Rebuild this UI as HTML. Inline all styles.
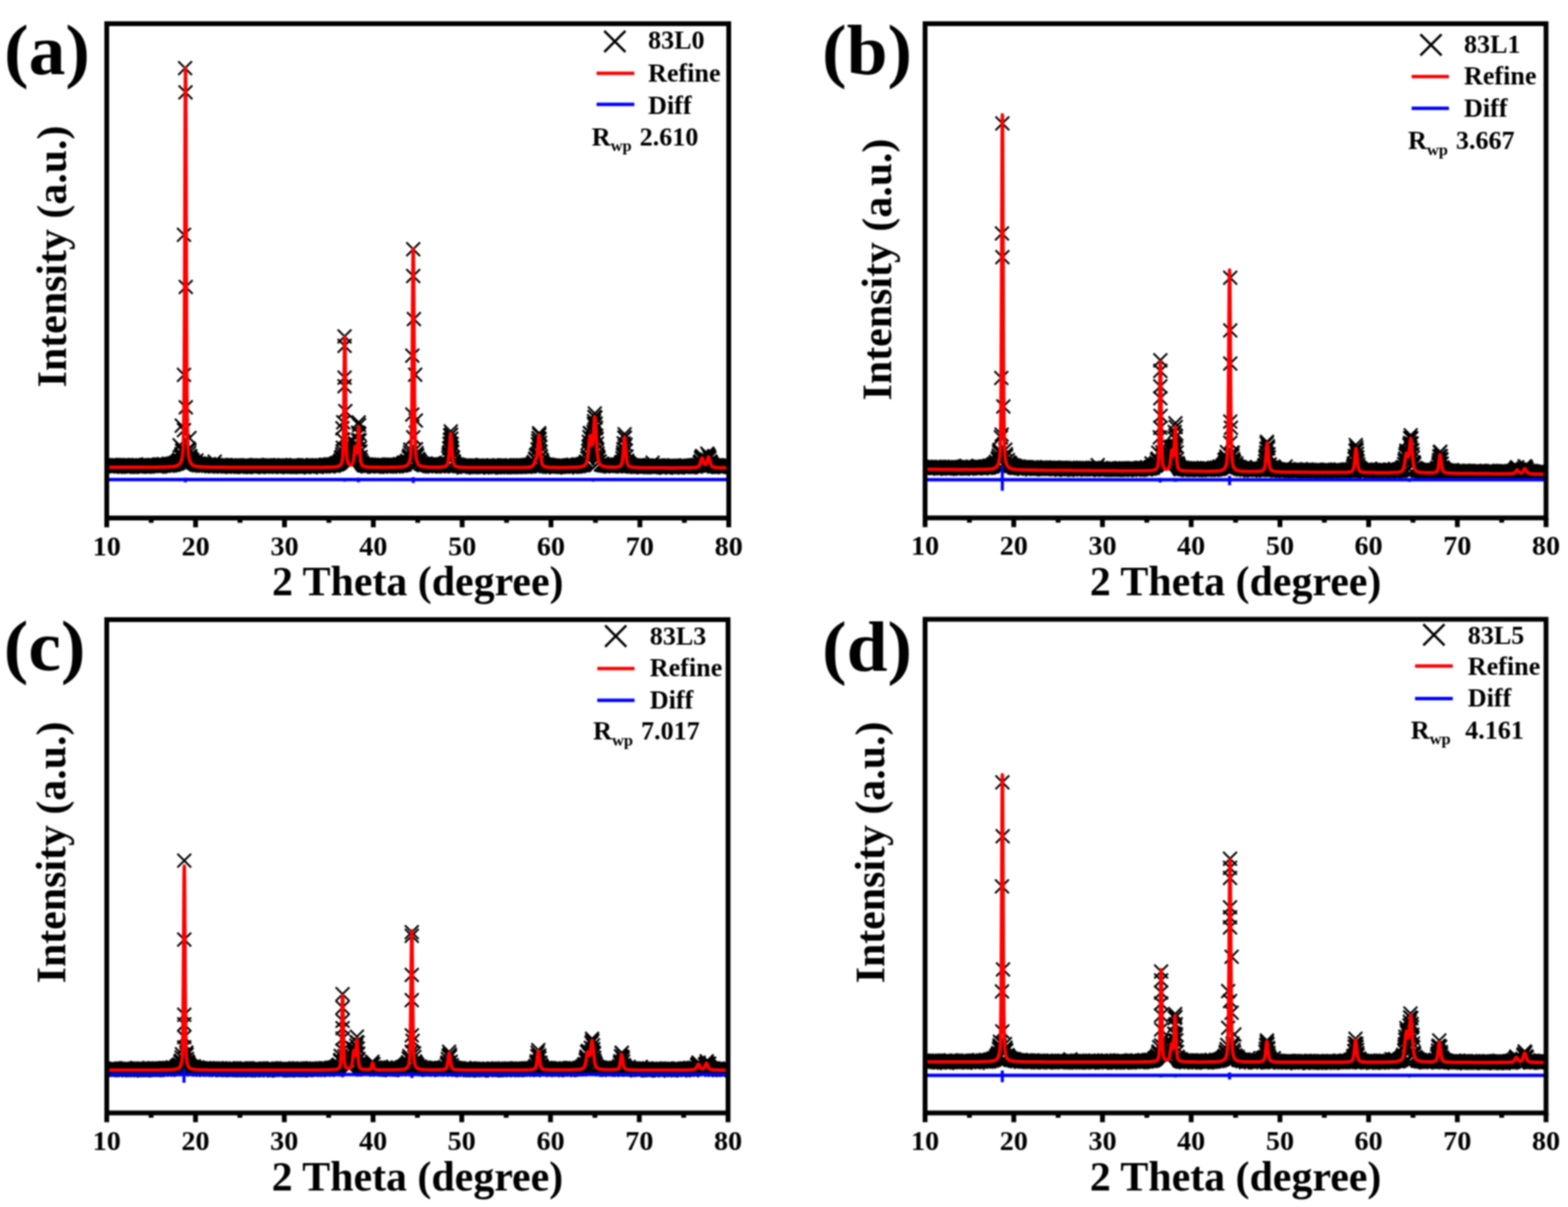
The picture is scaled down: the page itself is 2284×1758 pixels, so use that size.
<!DOCTYPE html>
<html><head><meta charset="utf-8"><title>XRD Rietveld refinement</title>
<style>html,body{margin:0;padding:0;background:#fff;overflow:hidden}svg{display:block}#w{filter:blur(1px)}</style>
</head><body><div id="w">
<svg width="2284" height="1758" viewBox="0 0 2284 1758" font-family="'Liberation Serif', 'Times New Roman', serif" font-weight="bold">
<rect width="2284" height="1758" fill="#fff"/>
<g><clipPath id="c100"><rect x="158.5" y="37.5" width="900.0" height="714.0"/></clipPath>
<g clip-path="url(#c100)">
<path d="M147.4 668.4l20 20m0 -20l-20 20M147.0 669.0l20 20m0 -20l-20 20M147.9 667.9l20 20m0 -20l-20 20M148.3 669.1l20 20m0 -20l-20 20M151.5 667.4l20 20m0 -20l-20 20M150.6 668.9l20 20m0 -20l-20 20M151.9 667.3l20 20m0 -20l-20 20M152.8 668.3l20 20m0 -20l-20 20M154.2 667.7l20 20m0 -20l-20 20M154.7 668.9l20 20m0 -20l-20 20M156.5 667.8l20 20m0 -20l-20 20M155.6 668.8l20 20m0 -20l-20 20M158.7 668.1l20 20m0 -20l-20 20M157.8 669.3l20 20m0 -20l-20 20M159.6 667.4l20 20m0 -20l-20 20M160.1 669.3l20 20m0 -20l-20 20M162.4 667.5l20 20m0 -20l-20 20M162.8 668.4l20 20m0 -20l-20 20M165.1 667.7l20 20m0 -20l-20 20M164.2 669.0l20 20m0 -20l-20 20M167.3 668.3l20 20m0 -20l-20 20M166.9 669.1l20 20m0 -20l-20 20M168.2 667.6l20 20m0 -20l-20 20M169.2 668.7l20 20m0 -20l-20 20M169.6 668.4l20 20m0 -20l-20 20M171.0 669.9l20 20m0 -20l-20 20M171.9 668.0l20 20m0 -20l-20 20M172.3 668.6l20 20m0 -20l-20 20M173.7 667.3l20 20m0 -20l-20 20M174.1 669.3l20 20m0 -20l-20 20M176.4 668.1l20 20m0 -20l-20 20M176.9 669.9l20 20m0 -20l-20 20M178.7 667.9l20 20m0 -20l-20 20M177.8 668.6l20 20m0 -20l-20 20M180.9 667.9l20 20m0 -20l-20 20M180.5 670.0l20 20m0 -20l-20 20M182.3 668.6l20 20m0 -20l-20 20M181.8 669.5l20 20m0 -20l-20 20M185.0 667.9l20 20m0 -20l-20 20M184.1 669.5l20 20m0 -20l-20 20M186.4 668.2l20 20m0 -20l-20 20M185.9 668.4l20 20m0 -20l-20 20M187.7 667.4l20 20m0 -20l-20 20M189.1 669.3l20 20m0 -20l-20 20M190.4 668.5l20 20m0 -20l-20 20M191.3 669.8l20 20m0 -20l-20 20M192.3 668.4l20 20m0 -20l-20 20M192.7 669.5l20 20m0 -20l-20 20M193.6 668.4l20 20m0 -20l-20 20M194.1 669.5l20 20m0 -20l-20 20M196.3 668.2l20 20m0 -20l-20 20M195.9 669.2l20 20m0 -20l-20 20M197.7 667.9l20 20m0 -20l-20 20M198.1 669.6l20 20m0 -20l-20 20M200.9 667.9l20 20m0 -20l-20 20M200.4 669.6l20 20m0 -20l-20 20M202.7 667.2l20 20m0 -20l-20 20M202.2 668.6l20 20m0 -20l-20 20M204.5 667.3l20 20m0 -20l-20 20M205.4 668.9l20 20m0 -20l-20 20M206.3 666.6l20 20m0 -20l-20 20M205.8 669.2l20 20m0 -20l-20 20M209.5 668.1l20 20m0 -20l-20 20M209.0 668.7l20 20m0 -20l-20 20M210.4 667.9l20 20m0 -20l-20 20M211.3 668.6l20 20m0 -20l-20 20M212.2 667.5l20 20m0 -20l-20 20M211.7 668.4l20 20m0 -20l-20 20M214.5 667.5l20 20m0 -20l-20 20M213.5 668.4l20 20m0 -20l-20 20M216.3 667.6l20 20m0 -20l-20 20M216.7 669.1l20 20m0 -20l-20 20M217.6 668.2l20 20m0 -20l-20 20M219.4 669.7l20 20m0 -20l-20 20M221.2 667.3l20 20m0 -20l-20 20M220.8 667.8l20 20m0 -20l-20 20M221.7 666.8l20 20m0 -20l-20 20M222.6 669.6l20 20m0 -20l-20 20M225.3 666.7l20 20m0 -20l-20 20M224.4 668.7l20 20m0 -20l-20 20M227.1 667.4l20 20m0 -20l-20 20M226.2 668.3l20 20m0 -20l-20 20M228.5 665.9l20 20m0 -20l-20 20M228.9 668.2l20 20m0 -20l-20 20M230.3 666.7l20 20m0 -20l-20 20M229.9 668.0l20 20m0 -20l-20 20M233.0 666.9l20 20m0 -20l-20 20M233.5 667.8l20 20m0 -20l-20 20M235.3 667.2l20 20m0 -20l-20 20M233.9 668.4l20 20m0 -20l-20 20M235.7 665.6l20 20m0 -20l-20 20M236.2 667.3l20 20m0 -20l-20 20M238.5 666.0l20 20m0 -20l-20 20M237.6 667.9l20 20m0 -20l-20 20M241.2 666.0l20 20m0 -20l-20 20M240.3 667.0l20 20m0 -20l-20 20M241.6 665.2l20 20m0 -20l-20 20M242.5 666.9l20 20m0 -20l-20 20M244.8 664.6l20 20m0 -20l-20 20M243.9 665.8l20 20m0 -20l-20 20M247.1 663.7l20 20m0 -20l-20 20M245.7 665.5l20 20m0 -20l-20 20M249.3 661.7l20 20m0 -20l-20 20M248.0 664.9l20 20m0 -20l-20 20M251.1 660.3l20 20m0 -20l-20 20M249.8 663.4l20 20m0 -20l-20 20M253.4 655.5l20 20m0 -20l-20 20M251.6 659.6l20 20m0 -20l-20 20M255.2 646.8l20 20m0 -20l-20 20M254.3 651.5l20 20m0 -20l-20 20M253.9 654.1l20 20m0 -20l-20 20M255.7 643.3l20 20m0 -20l-20 20M264.7 643.6l20 20m0 -20l-20 20M265.2 645.0l20 20m0 -20l-20 20M265.6 649.5l20 20m0 -20l-20 20M266.5 653.9l20 20m0 -20l-20 20M267.5 655.4l20 20m0 -20l-20 20M267.9 658.7l20 20m0 -20l-20 20M269.3 660.0l20 20m0 -20l-20 20M270.2 660.1l20 20m0 -20l-20 20M270.6 663.5l20 20m0 -20l-20 20M272.4 662.9l20 20m0 -20l-20 20M273.3 664.2l20 20m0 -20l-20 20M274.2 663.9l20 20m0 -20l-20 20M275.2 666.1l20 20m0 -20l-20 20M276.1 660.8l20 20m0 -20l-20 20M277.4 665.6l20 20m0 -20l-20 20M277.0 666.8l20 20m0 -20l-20 20M279.2 665.6l20 20m0 -20l-20 20M278.8 667.0l20 20m0 -20l-20 20M280.1 665.3l20 20m0 -20l-20 20M280.6 667.7l20 20m0 -20l-20 20M282.9 665.8l20 20m0 -20l-20 20M281.9 667.2l20 20m0 -20l-20 20M283.8 666.4l20 20m0 -20l-20 20M285.1 668.4l20 20m0 -20l-20 20M286.0 666.4l20 20m0 -20l-20 20M285.6 667.7l20 20m0 -20l-20 20M289.2 667.4l20 20m0 -20l-20 20M288.7 668.2l20 20m0 -20l-20 20M290.1 667.3l20 20m0 -20l-20 20M289.6 668.1l20 20m0 -20l-20 20M292.4 667.1l20 20m0 -20l-20 20M293.3 668.5l20 20m0 -20l-20 20M294.2 666.1l20 20m0 -20l-20 20M293.7 668.2l20 20m0 -20l-20 20M296.4 667.6l20 20m0 -20l-20 20M297.3 668.7l20 20m0 -20l-20 20M298.7 667.7l20 20m0 -20l-20 20M297.8 669.1l20 20m0 -20l-20 20M299.6 667.9l20 20m0 -20l-20 20M300.5 668.4l20 20m0 -20l-20 20M302.8 662.4l20 20m0 -20l-20 20M301.9 667.5l20 20m0 -20l-20 20M303.2 669.4l20 20m0 -20l-20 20M304.1 667.4l20 20m0 -20l-20 20M303.7 669.0l20 20m0 -20l-20 20M305.5 668.3l20 20m0 -20l-20 20M307.3 669.0l20 20m0 -20l-20 20M308.7 667.4l20 20m0 -20l-20 20M307.8 668.8l20 20m0 -20l-20 20M311.4 667.3l20 20m0 -20l-20 20M310.9 669.8l20 20m0 -20l-20 20M312.8 668.1l20 20m0 -20l-20 20M312.3 668.4l20 20m0 -20l-20 20M314.1 667.7l20 20m0 -20l-20 20M314.6 669.3l20 20m0 -20l-20 20M316.8 667.9l20 20m0 -20l-20 20M316.4 669.0l20 20m0 -20l-20 20M318.2 667.6l20 20m0 -20l-20 20M317.7 669.3l20 20m0 -20l-20 20M319.5 667.7l20 20m0 -20l-20 20M320.0 668.3l20 20m0 -20l-20 20M323.2 667.7l20 20m0 -20l-20 20M322.7 669.0l20 20m0 -20l-20 20M323.6 668.0l20 20m0 -20l-20 20M325.0 669.4l20 20m0 -20l-20 20M327.2 668.2l20 20m0 -20l-20 20M326.8 668.9l20 20m0 -20l-20 20M329.1 668.4l20 20m0 -20l-20 20M327.7 669.8l20 20m0 -20l-20 20M329.5 668.1l20 20m0 -20l-20 20M330.9 669.5l20 20m0 -20l-20 20M332.7 668.0l20 20m0 -20l-20 20M331.8 668.6l20 20m0 -20l-20 20M334.0 667.9l20 20m0 -20l-20 20M335.4 669.7l20 20m0 -20l-20 20M337.2 668.3l20 20m0 -20l-20 20M336.3 669.4l20 20m0 -20l-20 20M338.6 668.8l20 20m0 -20l-20 20M339.5 669.8l20 20m0 -20l-20 20M340.4 668.4l20 20m0 -20l-20 20M340.8 668.8l20 20m0 -20l-20 20M342.6 668.7l20 20m0 -20l-20 20M342.2 669.7l20 20m0 -20l-20 20M344.0 668.0l20 20m0 -20l-20 20M343.6 669.5l20 20m0 -20l-20 20M347.2 667.9l20 20m0 -20l-20 20M346.3 670.2l20 20m0 -20l-20 20M349.4 667.9l20 20m0 -20l-20 20M348.5 669.7l20 20m0 -20l-20 20M350.3 668.6l20 20m0 -20l-20 20M350.8 669.2l20 20m0 -20l-20 20M353.1 668.3l20 20m0 -20l-20 20M352.6 668.7l20 20m0 -20l-20 20M354.0 668.1l20 20m0 -20l-20 20M355.3 669.2l20 20m0 -20l-20 20M356.7 668.6l20 20m0 -20l-20 20M355.8 669.4l20 20m0 -20l-20 20M359.4 668.6l20 20m0 -20l-20 20M358.1 670.2l20 20m0 -20l-20 20M360.8 668.0l20 20m0 -20l-20 20M359.9 669.5l20 20m0 -20l-20 20M362.1 668.5l20 20m0 -20l-20 20M363.5 669.5l20 20m0 -20l-20 20M364.4 667.2l20 20m0 -20l-20 20M365.3 669.5l20 20m0 -20l-20 20M366.7 668.3l20 20m0 -20l-20 20M367.1 669.7l20 20m0 -20l-20 20M368.0 667.7l20 20m0 -20l-20 20M368.5 669.1l20 20m0 -20l-20 20M370.3 668.2l20 20m0 -20l-20 20M371.2 669.2l20 20m0 -20l-20 20M373.0 668.3l20 20m0 -20l-20 20M373.5 669.1l20 20m0 -20l-20 20M374.8 668.0l20 20m0 -20l-20 20M373.9 669.6l20 20m0 -20l-20 20M377.1 668.3l20 20m0 -20l-20 20M376.6 668.9l20 20m0 -20l-20 20M377.5 668.2l20 20m0 -20l-20 20M378.0 670.1l20 20m0 -20l-20 20M381.2 667.5l20 20m0 -20l-20 20M379.8 668.9l20 20m0 -20l-20 20M381.6 668.1l20 20m0 -20l-20 20M383.0 669.6l20 20m0 -20l-20 20M385.2 668.2l20 20m0 -20l-20 20M384.3 669.6l20 20m0 -20l-20 20M386.6 668.4l20 20m0 -20l-20 20M385.7 670.0l20 20m0 -20l-20 20M388.9 667.9l20 20m0 -20l-20 20M388.4 669.0l20 20m0 -20l-20 20M391.1 668.5l20 20m0 -20l-20 20M389.8 669.3l20 20m0 -20l-20 20M393.4 668.8l20 20m0 -20l-20 20M392.0 669.8l20 20m0 -20l-20 20M393.8 668.1l20 20m0 -20l-20 20M395.2 669.1l20 20m0 -20l-20 20M397.0 667.7l20 20m0 -20l-20 20M396.1 669.5l20 20m0 -20l-20 20M398.4 668.2l20 20m0 -20l-20 20M397.9 669.2l20 20m0 -20l-20 20M399.7 668.4l20 20m0 -20l-20 20M400.2 669.4l20 20m0 -20l-20 20M401.5 668.5l20 20m0 -20l-20 20M402.4 669.4l20 20m0 -20l-20 20M404.3 667.4l20 20m0 -20l-20 20M403.8 669.9l20 20m0 -20l-20 20M407.0 668.7l20 20m0 -20l-20 20M406.5 669.1l20 20m0 -20l-20 20M408.3 668.5l20 20m0 -20l-20 20M407.9 669.4l20 20m0 -20l-20 20M410.6 668.3l20 20m0 -20l-20 20M411.1 669.7l20 20m0 -20l-20 20M413.3 668.7l20 20m0 -20l-20 20M412.0 670.2l20 20m0 -20l-20 20M415.1 667.9l20 20m0 -20l-20 20M414.2 669.8l20 20m0 -20l-20 20M416.5 667.5l20 20m0 -20l-20 20M417.4 669.6l20 20m0 -20l-20 20M417.8 668.1l20 20m0 -20l-20 20M418.8 669.6l20 20m0 -20l-20 20M420.6 667.7l20 20m0 -20l-20 20M421.5 669.8l20 20m0 -20l-20 20M421.9 668.5l20 20m0 -20l-20 20M423.3 669.4l20 20m0 -20l-20 20M423.7 668.5l20 20m0 -20l-20 20M425.1 669.9l20 20m0 -20l-20 20M426.0 668.7l20 20m0 -20l-20 20M426.9 669.8l20 20m0 -20l-20 20M428.3 668.6l20 20m0 -20l-20 20M429.2 669.5l20 20m0 -20l-20 20M431.4 668.1l20 20m0 -20l-20 20M431.0 669.3l20 20m0 -20l-20 20M432.3 667.9l20 20m0 -20l-20 20M432.8 670.0l20 20m0 -20l-20 20M434.2 668.2l20 20m0 -20l-20 20M433.7 669.1l20 20m0 -20l-20 20M436.9 668.0l20 20m0 -20l-20 20M437.3 669.3l20 20m0 -20l-20 20M439.1 668.4l20 20m0 -20l-20 20M438.2 668.9l20 20m0 -20l-20 20M440.0 668.1l20 20m0 -20l-20 20M440.9 669.2l20 20m0 -20l-20 20M441.9 668.5l20 20m0 -20l-20 20M442.8 670.7l20 20m0 -20l-20 20M445.0 667.4l20 20m0 -20l-20 20M445.5 668.7l20 20m0 -20l-20 20M446.8 667.5l20 20m0 -20l-20 20M447.3 668.9l20 20m0 -20l-20 20M449.1 668.6l20 20m0 -20l-20 20M448.7 669.2l20 20m0 -20l-20 20M450.0 668.0l20 20m0 -20l-20 20M450.5 669.8l20 20m0 -20l-20 20M452.3 668.5l20 20m0 -20l-20 20M451.8 669.9l20 20m0 -20l-20 20M454.1 667.6l20 20m0 -20l-20 20M455.0 668.9l20 20m0 -20l-20 20M456.8 668.5l20 20m0 -20l-20 20M457.3 669.6l20 20m0 -20l-20 20M458.6 668.3l20 20m0 -20l-20 20M457.7 668.9l20 20m0 -20l-20 20M459.5 667.8l20 20m0 -20l-20 20M460.9 669.5l20 20m0 -20l-20 20M463.1 668.1l20 20m0 -20l-20 20M462.2 668.7l20 20m0 -20l-20 20M463.6 667.5l20 20m0 -20l-20 20M464.5 668.4l20 20m0 -20l-20 20M466.3 667.1l20 20m0 -20l-20 20M467.2 668.7l20 20m0 -20l-20 20M469.0 667.4l20 20m0 -20l-20 20M468.1 669.5l20 20m0 -20l-20 20M470.8 666.8l20 20m0 -20l-20 20M469.9 668.5l20 20m0 -20l-20 20M471.8 666.4l20 20m0 -20l-20 20M472.7 667.9l20 20m0 -20l-20 20M474.5 666.4l20 20m0 -20l-20 20M475.4 668.2l20 20m0 -20l-20 20M477.2 666.3l20 20m0 -20l-20 20M475.8 668.3l20 20m0 -20l-20 20M479.5 666.1l20 20m0 -20l-20 20M477.6 667.2l20 20m0 -20l-20 20M480.4 664.4l20 20m0 -20l-20 20M480.8 666.0l20 20m0 -20l-20 20M483.1 664.0l20 20m0 -20l-20 20M481.7 665.9l20 20m0 -20l-20 20M485.3 661.6l20 20m0 -20l-20 20M484.0 664.2l20 20m0 -20l-20 20M486.7 657.1l20 20m0 -20l-20 20M485.8 660.7l20 20m0 -20l-20 20M489.4 642.3l20 20m0 -20l-20 20M489.0 647.4l20 20m0 -20l-20 20M488.5 651.7l20 20m0 -20l-20 20M487.6 655.6l20 20m0 -20l-20 20M495.3 645.0l20 20m0 -20l-20 20M495.8 652.5l20 20m0 -20l-20 20M497.1 657.1l20 20m0 -20l-20 20M497.6 659.2l20 20m0 -20l-20 20M499.4 663.2l20 20m0 -20l-20 20M499.8 661.6l20 20m0 -20l-20 20M500.7 662.5l20 20m0 -20l-20 20M502.6 660.3l20 20m0 -20l-20 20M503.0 663.8l20 20m0 -20l-20 20M505.3 651.8l20 20m0 -20l-20 20M504.8 657.5l20 20m0 -20l-20 20M503.9 660.0l20 20m0 -20l-20 20M507.1 637.8l20 20m0 -20l-20 20M506.2 644.4l20 20m0 -20l-20 20M505.7 649.9l20 20m0 -20l-20 20M507.5 636.1l20 20m0 -20l-20 20M508.4 640.4l20 20m0 -20l-20 20M509.4 644.1l20 20m0 -20l-20 20M511.2 631.0l20 20m0 -20l-20 20M510.7 638.3l20 20m0 -20l-20 20M510.3 645.7l20 20m0 -20l-20 20M509.8 645.7l20 20m0 -20l-20 20M512.5 605.3l20 20m0 -20l-20 20M513.0 609.3l20 20m0 -20l-20 20M511.6 620.3l20 20m0 -20l-20 20M513.4 621.9l20 20m0 -20l-20 20M513.9 631.4l20 20m0 -20l-20 20M514.3 642.3l20 20m0 -20l-20 20M514.8 647.4l20 20m0 -20l-20 20M515.2 655.7l20 20m0 -20l-20 20M515.7 660.4l20 20m0 -20l-20 20M517.1 663.7l20 20m0 -20l-20 20M517.5 664.5l20 20m0 -20l-20 20M519.3 666.8l20 20m0 -20l-20 20M520.2 666.9l20 20m0 -20l-20 20M520.7 667.7l20 20m0 -20l-20 20M522.5 666.6l20 20m0 -20l-20 20M522.9 668.0l20 20m0 -20l-20 20M523.8 666.9l20 20m0 -20l-20 20M524.3 668.6l20 20m0 -20l-20 20M527.0 666.8l20 20m0 -20l-20 20M525.7 669.2l20 20m0 -20l-20 20M528.4 667.9l20 20m0 -20l-20 20M527.9 668.7l20 20m0 -20l-20 20M529.7 667.4l20 20m0 -20l-20 20M530.2 668.2l20 20m0 -20l-20 20M532.0 667.0l20 20m0 -20l-20 20M532.5 668.5l20 20m0 -20l-20 20M533.8 667.7l20 20m0 -20l-20 20M535.2 669.9l20 20m0 -20l-20 20M536.1 667.4l20 20m0 -20l-20 20M535.6 668.5l20 20m0 -20l-20 20M538.8 668.2l20 20m0 -20l-20 20M538.3 669.8l20 20m0 -20l-20 20M540.2 667.1l20 20m0 -20l-20 20M541.1 668.3l20 20m0 -20l-20 20M542.0 666.8l20 20m0 -20l-20 20M543.3 669.0l20 20m0 -20l-20 20M543.8 667.7l20 20m0 -20l-20 20M544.2 669.0l20 20m0 -20l-20 20M547.0 667.2l20 20m0 -20l-20 20M546.0 669.3l20 20m0 -20l-20 20M548.8 667.9l20 20m0 -20l-20 20M549.2 669.1l20 20m0 -20l-20 20M550.6 667.8l20 20m0 -20l-20 20M551.0 668.9l20 20m0 -20l-20 20M551.9 668.1l20 20m0 -20l-20 20M553.3 669.4l20 20m0 -20l-20 20M555.1 666.9l20 20m0 -20l-20 20M553.7 669.5l20 20m0 -20l-20 20M556.9 667.5l20 20m0 -20l-20 20M556.0 669.0l20 20m0 -20l-20 20M557.8 666.5l20 20m0 -20l-20 20M558.3 669.8l20 20m0 -20l-20 20M559.6 667.6l20 20m0 -20l-20 20M561.4 668.5l20 20m0 -20l-20 20M562.8 666.8l20 20m0 -20l-20 20M563.3 668.6l20 20m0 -20l-20 20M565.1 667.9l20 20m0 -20l-20 20M563.7 669.4l20 20m0 -20l-20 20M566.4 667.0l20 20m0 -20l-20 20M567.3 669.2l20 20m0 -20l-20 20M569.1 667.0l20 20m0 -20l-20 20M567.8 667.8l20 20m0 -20l-20 20M571.0 666.9l20 20m0 -20l-20 20M569.6 668.6l20 20m0 -20l-20 20M572.8 665.9l20 20m0 -20l-20 20M573.2 668.2l20 20m0 -20l-20 20M575.5 666.4l20 20m0 -20l-20 20M573.7 667.2l20 20m0 -20l-20 20M576.8 665.6l20 20m0 -20l-20 20M575.9 667.5l20 20m0 -20l-20 20M578.2 664.1l20 20m0 -20l-20 20M579.1 666.7l20 20m0 -20l-20 20M580.0 663.7l20 20m0 -20l-20 20M579.6 665.7l20 20m0 -20l-20 20M583.2 661.1l20 20m0 -20l-20 20M582.7 663.3l20 20m0 -20l-20 20M585.5 656.8l20 20m0 -20l-20 20M583.6 661.5l20 20m0 -20l-20 20M587.3 649.3l20 20m0 -20l-20 20M586.4 653.6l20 20m0 -20l-20 20M585.9 655.1l20 20m0 -20l-20 20M587.7 644.9l20 20m0 -20l-20 20M595.9 644.2l20 20m0 -20l-20 20M596.8 649.9l20 20m0 -20l-20 20M597.2 653.2l20 20m0 -20l-20 20M597.7 653.9l20 20m0 -20l-20 20M599.0 658.4l20 20m0 -20l-20 20M599.5 660.4l20 20m0 -20l-20 20M600.0 659.6l20 20m0 -20l-20 20M600.9 661.8l20 20m0 -20l-20 20M601.8 662.2l20 20m0 -20l-20 20M603.1 665.3l20 20m0 -20l-20 20M604.0 664.9l20 20m0 -20l-20 20M605.4 665.9l20 20m0 -20l-20 20M605.8 665.4l20 20m0 -20l-20 20M607.2 667.4l20 20m0 -20l-20 20M608.6 665.9l20 20m0 -20l-20 20M608.1 667.3l20 20m0 -20l-20 20M609.9 665.0l20 20m0 -20l-20 20M611.3 667.3l20 20m0 -20l-20 20M612.2 666.5l20 20m0 -20l-20 20M613.1 667.3l20 20m0 -20l-20 20M614.9 666.4l20 20m0 -20l-20 20M615.4 668.7l20 20m0 -20l-20 20M615.8 666.7l20 20m0 -20l-20 20M616.7 668.4l20 20m0 -20l-20 20M617.6 666.4l20 20m0 -20l-20 20M618.1 668.9l20 20m0 -20l-20 20M619.9 667.1l20 20m0 -20l-20 20M620.3 669.2l20 20m0 -20l-20 20M622.6 667.3l20 20m0 -20l-20 20M623.1 669.5l20 20m0 -20l-20 20M624.9 667.7l20 20m0 -20l-20 20M624.4 668.4l20 20m0 -20l-20 20M625.8 666.8l20 20m0 -20l-20 20M626.7 668.5l20 20m0 -20l-20 20M627.6 667.9l20 20m0 -20l-20 20M628.5 668.7l20 20m0 -20l-20 20M630.8 666.9l20 20m0 -20l-20 20M629.9 668.9l20 20m0 -20l-20 20M631.7 667.1l20 20m0 -20l-20 20M632.6 668.6l20 20m0 -20l-20 20M635.3 667.5l20 20m0 -20l-20 20M634.4 669.4l20 20m0 -20l-20 20M637.1 666.0l20 20m0 -20l-20 20M636.2 668.6l20 20m0 -20l-20 20M639.4 665.2l20 20m0 -20l-20 20M638.0 668.0l20 20m0 -20l-20 20M639.8 664.4l20 20m0 -20l-20 20M640.3 666.6l20 20m0 -20l-20 20M643.4 653.1l20 20m0 -20l-20 20M643.0 657.1l20 20m0 -20l-20 20M641.6 664.5l20 20m0 -20l-20 20M645.3 630.8l20 20m0 -20l-20 20M644.8 636.6l20 20m0 -20l-20 20M644.3 643.3l20 20m0 -20l-20 20M643.9 649.6l20 20m0 -20l-20 20M646.6 618.6l20 20m0 -20l-20 20M647.1 623.3l20 20m0 -20l-20 20M645.7 624.3l20 20m0 -20l-20 20M647.5 628.9l20 20m0 -20l-20 20M648.0 636.8l20 20m0 -20l-20 20M648.4 642.9l20 20m0 -20l-20 20M648.9 648.6l20 20m0 -20l-20 20M649.3 655.5l20 20m0 -20l-20 20M649.8 657.0l20 20m0 -20l-20 20M651.1 662.2l20 20m0 -20l-20 20M650.7 662.3l20 20m0 -20l-20 20M651.6 664.7l20 20m0 -20l-20 20M652.5 666.6l20 20m0 -20l-20 20M653.9 667.5l20 20m0 -20l-20 20M654.3 667.7l20 20m0 -20l-20 20M655.7 666.5l20 20m0 -20l-20 20M657.5 668.2l20 20m0 -20l-20 20M657.9 667.8l20 20m0 -20l-20 20M659.3 668.9l20 20m0 -20l-20 20M659.7 667.8l20 20m0 -20l-20 20M661.1 668.8l20 20m0 -20l-20 20M663.4 668.1l20 20m0 -20l-20 20M662.5 668.8l20 20m0 -20l-20 20M663.8 668.2l20 20m0 -20l-20 20M665.2 670.9l20 20m0 -20l-20 20M666.1 668.1l20 20m0 -20l-20 20M667.0 669.5l20 20m0 -20l-20 20M668.8 669.1l20 20m0 -20l-20 20M668.4 670.1l20 20m0 -20l-20 20M669.7 668.0l20 20m0 -20l-20 20M671.1 669.8l20 20m0 -20l-20 20M672.4 668.2l20 20m0 -20l-20 20M671.5 670.1l20 20m0 -20l-20 20M674.2 667.5l20 20m0 -20l-20 20M675.2 669.0l20 20m0 -20l-20 20M676.1 667.5l20 20m0 -20l-20 20M677.4 669.5l20 20m0 -20l-20 20M678.3 668.0l20 20m0 -20l-20 20M679.2 670.1l20 20m0 -20l-20 20M681.5 668.4l20 20m0 -20l-20 20M681.0 669.7l20 20m0 -20l-20 20M681.9 668.3l20 20m0 -20l-20 20M683.3 669.6l20 20m0 -20l-20 20M684.2 668.3l20 20m0 -20l-20 20M683.8 669.0l20 20m0 -20l-20 20M685.6 668.3l20 20m0 -20l-20 20M686.5 670.2l20 20m0 -20l-20 20M687.8 668.4l20 20m0 -20l-20 20M688.7 669.8l20 20m0 -20l-20 20M690.6 668.1l20 20m0 -20l-20 20M691.0 669.5l20 20m0 -20l-20 20M692.4 668.6l20 20m0 -20l-20 20M692.8 670.0l20 20m0 -20l-20 20M695.1 668.6l20 20m0 -20l-20 20M693.7 670.4l20 20m0 -20l-20 20M696.4 668.5l20 20m0 -20l-20 20M696.9 670.2l20 20m0 -20l-20 20M698.3 669.0l20 20m0 -20l-20 20M699.2 669.3l20 20m0 -20l-20 20M700.5 668.6l20 20m0 -20l-20 20M699.6 669.5l20 20m0 -20l-20 20M701.9 668.5l20 20m0 -20l-20 20M702.8 669.4l20 20m0 -20l-20 20M704.1 669.0l20 20m0 -20l-20 20M703.7 670.8l20 20m0 -20l-20 20M706.9 668.4l20 20m0 -20l-20 20M705.5 670.4l20 20m0 -20l-20 20M707.8 668.4l20 20m0 -20l-20 20M708.2 669.2l20 20m0 -20l-20 20M709.6 668.0l20 20m0 -20l-20 20M710.5 670.5l20 20m0 -20l-20 20M713.2 668.5l20 20m0 -20l-20 20M711.8 668.9l20 20m0 -20l-20 20M715.5 668.5l20 20m0 -20l-20 20M714.6 669.8l20 20m0 -20l-20 20M717.3 668.2l20 20m0 -20l-20 20M716.8 669.7l20 20m0 -20l-20 20M717.7 667.8l20 20m0 -20l-20 20M718.2 669.2l20 20m0 -20l-20 20M720.0 668.3l20 20m0 -20l-20 20M720.5 670.4l20 20m0 -20l-20 20M722.7 668.5l20 20m0 -20l-20 20M722.3 669.8l20 20m0 -20l-20 20M724.1 667.7l20 20m0 -20l-20 20M725.0 670.4l20 20m0 -20l-20 20M725.9 668.0l20 20m0 -20l-20 20M726.3 669.8l20 20m0 -20l-20 20M729.1 668.3l20 20m0 -20l-20 20M727.7 669.8l20 20m0 -20l-20 20M729.5 668.0l20 20m0 -20l-20 20M730.4 669.9l20 20m0 -20l-20 20M733.1 668.1l20 20m0 -20l-20 20M732.2 669.7l20 20m0 -20l-20 20M734.9 668.6l20 20m0 -20l-20 20M734.0 670.5l20 20m0 -20l-20 20M736.3 668.8l20 20m0 -20l-20 20M737.2 669.9l20 20m0 -20l-20 20M738.1 668.7l20 20m0 -20l-20 20M739.5 670.0l20 20m0 -20l-20 20M741.3 668.4l20 20m0 -20l-20 20M740.4 669.4l20 20m0 -20l-20 20M742.2 669.1l20 20m0 -20l-20 20M741.7 670.1l20 20m0 -20l-20 20M744.9 668.6l20 20m0 -20l-20 20M744.0 669.9l20 20m0 -20l-20 20M745.8 668.1l20 20m0 -20l-20 20M746.7 669.9l20 20m0 -20l-20 20M748.5 668.0l20 20m0 -20l-20 20M747.6 669.7l20 20m0 -20l-20 20M750.3 668.2l20 20m0 -20l-20 20M749.9 669.8l20 20m0 -20l-20 20M752.2 667.7l20 20m0 -20l-20 20M752.6 669.4l20 20m0 -20l-20 20M754.4 668.1l20 20m0 -20l-20 20M754.0 669.3l20 20m0 -20l-20 20M756.2 668.0l20 20m0 -20l-20 20M755.8 669.9l20 20m0 -20l-20 20M757.6 667.5l20 20m0 -20l-20 20M759.4 669.4l20 20m0 -20l-20 20M760.8 666.9l20 20m0 -20l-20 20M761.2 668.9l20 20m0 -20l-20 20M763.5 667.1l20 20m0 -20l-20 20M763.0 668.6l20 20m0 -20l-20 20M765.3 666.5l20 20m0 -20l-20 20M764.4 667.4l20 20m0 -20l-20 20M767.1 663.8l20 20m0 -20l-20 20M766.2 666.3l20 20m0 -20l-20 20M769.4 658.9l20 20m0 -20l-20 20M767.6 663.1l20 20m0 -20l-20 20M770.7 653.4l20 20m0 -20l-20 20M769.8 657.9l20 20m0 -20l-20 20M773.5 637.2l20 20m0 -20l-20 20M773.0 644.4l20 20m0 -20l-20 20M772.1 651.8l20 20m0 -20l-20 20M771.6 654.0l20 20m0 -20l-20 20M775.3 621.0l20 20m0 -20l-20 20M774.4 628.3l20 20m0 -20l-20 20M773.9 632.5l20 20m0 -20l-20 20M775.7 623.5l20 20m0 -20l-20 20M776.2 629.6l20 20m0 -20l-20 20M776.6 635.1l20 20m0 -20l-20 20M777.1 641.1l20 20m0 -20l-20 20M777.5 648.0l20 20m0 -20l-20 20M778.0 655.3l20 20m0 -20l-20 20M779.3 660.2l20 20m0 -20l-20 20M778.9 661.8l20 20m0 -20l-20 20M779.8 662.8l20 20m0 -20l-20 20M781.2 665.6l20 20m0 -20l-20 20M782.1 666.4l20 20m0 -20l-20 20M783.0 667.1l20 20m0 -20l-20 20M784.3 667.0l20 20m0 -20l-20 20M785.2 669.2l20 20m0 -20l-20 20M786.6 666.8l20 20m0 -20l-20 20M785.7 668.9l20 20m0 -20l-20 20M788.9 667.8l20 20m0 -20l-20 20M788.4 668.7l20 20m0 -20l-20 20M791.1 668.5l20 20m0 -20l-20 20M789.8 670.0l20 20m0 -20l-20 20M791.6 668.0l20 20m0 -20l-20 20M792.0 669.0l20 20m0 -20l-20 20M794.3 668.1l20 20m0 -20l-20 20M793.8 670.2l20 20m0 -20l-20 20M796.6 668.2l20 20m0 -20l-20 20M795.6 669.4l20 20m0 -20l-20 20M798.8 669.4l20 20m0 -20l-20 20M799.3 670.4l20 20m0 -20l-20 20M799.7 668.1l20 20m0 -20l-20 20M800.6 670.1l20 20m0 -20l-20 20M801.5 668.3l20 20m0 -20l-20 20M802.4 669.5l20 20m0 -20l-20 20M804.3 668.1l20 20m0 -20l-20 20M804.7 669.1l20 20m0 -20l-20 20M807.0 668.8l20 20m0 -20l-20 20M805.6 669.3l20 20m0 -20l-20 20M807.9 667.5l20 20m0 -20l-20 20M809.2 668.7l20 20m0 -20l-20 20M809.7 668.4l20 20m0 -20l-20 20M810.1 669.6l20 20m0 -20l-20 20M812.0 668.0l20 20m0 -20l-20 20M811.5 669.5l20 20m0 -20l-20 20M814.2 668.4l20 20m0 -20l-20 20M814.7 669.4l20 20m0 -20l-20 20M817.4 668.4l20 20m0 -20l-20 20M816.0 670.8l20 20m0 -20l-20 20M819.2 668.5l20 20m0 -20l-20 20M817.8 669.4l20 20m0 -20l-20 20M821.0 667.8l20 20m0 -20l-20 20M821.5 669.9l20 20m0 -20l-20 20M823.3 667.8l20 20m0 -20l-20 20M822.8 669.0l20 20m0 -20l-20 20M825.1 667.1l20 20m0 -20l-20 20M824.2 669.8l20 20m0 -20l-20 20M826.0 667.9l20 20m0 -20l-20 20M826.9 669.5l20 20m0 -20l-20 20M828.7 668.0l20 20m0 -20l-20 20M828.3 669.3l20 20m0 -20l-20 20M831.4 667.1l20 20m0 -20l-20 20M829.6 668.8l20 20m0 -20l-20 20M833.2 666.4l20 20m0 -20l-20 20M831.9 669.0l20 20m0 -20l-20 20M834.6 667.4l20 20m0 -20l-20 20M834.2 668.5l20 20m0 -20l-20 20M836.4 666.7l20 20m0 -20l-20 20M836.9 667.5l20 20m0 -20l-20 20M838.7 666.4l20 20m0 -20l-20 20M839.1 667.5l20 20m0 -20l-20 20M840.0 665.7l20 20m0 -20l-20 20M840.5 667.1l20 20m0 -20l-20 20M843.2 663.8l20 20m0 -20l-20 20M841.9 666.0l20 20m0 -20l-20 20M845.5 657.4l20 20m0 -20l-20 20M843.7 662.4l20 20m0 -20l-20 20M844.1 662.7l20 20m0 -20l-20 20M847.3 640.7l20 20m0 -20l-20 20M846.8 647.0l20 20m0 -20l-20 20M845.9 653.5l20 20m0 -20l-20 20M849.1 621.1l20 20m0 -20l-20 20M848.6 626.7l20 20m0 -20l-20 20M847.7 633.6l20 20m0 -20l-20 20M850.0 621.3l20 20m0 -20l-20 20M850.9 628.8l20 20m0 -20l-20 20M851.4 630.2l20 20m0 -20l-20 20M853.2 630.9l20 20m0 -20l-20 20M852.3 635.0l20 20m0 -20l-20 20M855.4 603.4l20 20m0 -20l-20 20M855.0 607.6l20 20m0 -20l-20 20M854.5 618.8l20 20m0 -20l-20 20M853.6 628.4l20 20m0 -20l-20 20M856.4 592.2l20 20m0 -20l-20 20M855.9 597.5l20 20m0 -20l-20 20M857.3 598.3l20 20m0 -20l-20 20M857.7 607.0l20 20m0 -20l-20 20M858.2 613.2l20 20m0 -20l-20 20M858.6 624.8l20 20m0 -20l-20 20M859.1 628.9l20 20m0 -20l-20 20M859.5 636.3l20 20m0 -20l-20 20M860.0 645.2l20 20m0 -20l-20 20M860.4 650.5l20 20m0 -20l-20 20M860.9 654.6l20 20m0 -20l-20 20M861.3 655.9l20 20m0 -20l-20 20M861.8 657.5l20 20m0 -20l-20 20M863.1 661.9l20 20m0 -20l-20 20M862.7 662.9l20 20m0 -20l-20 20M863.6 662.3l20 20m0 -20l-20 20M865.4 666.4l20 20m0 -20l-20 20M865.9 665.8l20 20m0 -20l-20 20M867.2 666.9l20 20m0 -20l-20 20M867.7 665.7l20 20m0 -20l-20 20M868.1 667.2l20 20m0 -20l-20 20M871.3 666.7l20 20m0 -20l-20 20M870.8 668.0l20 20m0 -20l-20 20M872.7 667.5l20 20m0 -20l-20 20M873.1 668.1l20 20m0 -20l-20 20M873.6 667.4l20 20m0 -20l-20 20M874.5 668.2l20 20m0 -20l-20 20M875.8 667.4l20 20m0 -20l-20 20M877.2 668.8l20 20m0 -20l-20 20M878.5 667.9l20 20m0 -20l-20 20M879.0 669.3l20 20m0 -20l-20 20M880.8 668.1l20 20m0 -20l-20 20M880.4 668.7l20 20m0 -20l-20 20M882.6 667.5l20 20m0 -20l-20 20M881.7 669.3l20 20m0 -20l-20 20M883.5 667.0l20 20m0 -20l-20 20M885.3 669.1l20 20m0 -20l-20 20M885.8 667.5l20 20m0 -20l-20 20M886.7 668.8l20 20m0 -20l-20 20M888.5 667.3l20 20m0 -20l-20 20M888.1 669.0l20 20m0 -20l-20 20M890.3 666.9l20 20m0 -20l-20 20M891.2 668.6l20 20m0 -20l-20 20M892.6 666.4l20 20m0 -20l-20 20M893.0 668.8l20 20m0 -20l-20 20M894.9 663.6l20 20m0 -20l-20 20M894.4 665.2l20 20m0 -20l-20 20M897.1 653.1l20 20m0 -20l-20 20M896.7 657.6l20 20m0 -20l-20 20M895.8 662.8l20 20m0 -20l-20 20M899.4 627.4l20 20m0 -20l-20 20M898.5 635.8l20 20m0 -20l-20 20M898.0 644.2l20 20m0 -20l-20 20M897.6 649.1l20 20m0 -20l-20 20M899.8 622.6l20 20m0 -20l-20 20M900.3 627.6l20 20m0 -20l-20 20M901.2 637.7l20 20m0 -20l-20 20M901.7 646.6l20 20m0 -20l-20 20M902.6 654.9l20 20m0 -20l-20 20M903.5 660.9l20 20m0 -20l-20 20M903.9 663.0l20 20m0 -20l-20 20M904.4 665.3l20 20m0 -20l-20 20M906.2 664.9l20 20m0 -20l-20 20M907.1 666.6l20 20m0 -20l-20 20M908.0 667.2l20 20m0 -20l-20 20M907.5 668.4l20 20m0 -20l-20 20M910.3 667.5l20 20m0 -20l-20 20M910.7 669.3l20 20m0 -20l-20 20M912.1 668.3l20 20m0 -20l-20 20M911.6 669.3l20 20m0 -20l-20 20M913.9 668.3l20 20m0 -20l-20 20M914.3 669.8l20 20m0 -20l-20 20M916.6 667.9l20 20m0 -20l-20 20M917.1 669.5l20 20m0 -20l-20 20M918.4 668.0l20 20m0 -20l-20 20M919.3 670.3l20 20m0 -20l-20 20M920.7 667.4l20 20m0 -20l-20 20M919.8 669.1l20 20m0 -20l-20 20M922.5 668.6l20 20m0 -20l-20 20M922.9 669.9l20 20m0 -20l-20 20M923.8 668.5l20 20m0 -20l-20 20M925.2 669.4l20 20m0 -20l-20 20M926.1 669.0l20 20m0 -20l-20 20M927.0 670.6l20 20m0 -20l-20 20M928.8 668.6l20 20m0 -20l-20 20M929.3 670.3l20 20m0 -20l-20 20M931.1 668.7l20 20m0 -20l-20 20M930.2 669.5l20 20m0 -20l-20 20M932.5 668.1l20 20m0 -20l-20 20M933.4 669.2l20 20m0 -20l-20 20M935.2 668.6l20 20m0 -20l-20 20M934.7 669.8l20 20m0 -20l-20 20M937.4 667.7l20 20m0 -20l-20 20M935.6 669.5l20 20m0 -20l-20 20M939.2 669.0l20 20m0 -20l-20 20M937.9 670.5l20 20m0 -20l-20 20M940.6 663.9l20 20m0 -20l-20 20M940.2 669.0l20 20m0 -20l-20 20M939.7 669.2l20 20m0 -20l-20 20M941.5 668.5l20 20m0 -20l-20 20M942.0 670.4l20 20m0 -20l-20 20M945.1 668.0l20 20m0 -20l-20 20M944.7 670.3l20 20m0 -20l-20 20M947.4 668.6l20 20m0 -20l-20 20M945.6 669.6l20 20m0 -20l-20 20M948.3 668.1l20 20m0 -20l-20 20M947.9 669.7l20 20m0 -20l-20 20M950.1 668.5l20 20m0 -20l-20 20M949.7 670.1l20 20m0 -20l-20 20M952.4 668.9l20 20m0 -20l-20 20M953.3 669.8l20 20m0 -20l-20 20M954.2 668.1l20 20m0 -20l-20 20M953.7 669.2l20 20m0 -20l-20 20M957.4 668.8l20 20m0 -20l-20 20M956.0 669.7l20 20m0 -20l-20 20M957.8 668.6l20 20m0 -20l-20 20M958.3 670.5l20 20m0 -20l-20 20M961.0 668.7l20 20m0 -20l-20 20M960.5 671.3l20 20m0 -20l-20 20M962.8 668.5l20 20m0 -20l-20 20M963.3 669.4l20 20m0 -20l-20 20M964.6 669.3l20 20m0 -20l-20 20M963.7 669.9l20 20m0 -20l-20 20M965.5 668.3l20 20m0 -20l-20 20M966.4 669.6l20 20m0 -20l-20 20M967.8 668.5l20 20m0 -20l-20 20M969.1 671.0l20 20m0 -20l-20 20M970.5 668.2l20 20m0 -20l-20 20M971.4 670.1l20 20m0 -20l-20 20M973.2 668.2l20 20m0 -20l-20 20M972.8 669.6l20 20m0 -20l-20 20M974.6 669.2l20 20m0 -20l-20 20M975.0 670.2l20 20m0 -20l-20 20M976.4 669.0l20 20m0 -20l-20 20M977.3 669.4l20 20m0 -20l-20 20M978.2 669.1l20 20m0 -20l-20 20M978.7 670.6l20 20m0 -20l-20 20M981.4 669.2l20 20m0 -20l-20 20M979.6 669.5l20 20m0 -20l-20 20M982.7 669.6l20 20m0 -20l-20 20M983.2 670.0l20 20m0 -20l-20 20M983.6 669.3l20 20m0 -20l-20 20M984.1 669.9l20 20m0 -20l-20 20M985.9 668.9l20 20m0 -20l-20 20M987.3 670.2l20 20m0 -20l-20 20M987.7 668.4l20 20m0 -20l-20 20M989.1 669.6l20 20m0 -20l-20 20M989.5 668.2l20 20m0 -20l-20 20M990.0 669.7l20 20m0 -20l-20 20M991.8 668.8l20 20m0 -20l-20 20M992.3 670.2l20 20m0 -20l-20 20M995.4 668.6l20 20m0 -20l-20 20M994.5 670.6l20 20m0 -20l-20 20M996.8 668.5l20 20m0 -20l-20 20M996.3 670.4l20 20m0 -20l-20 20M999.0 668.3l20 20m0 -20l-20 20M998.1 668.9l20 20m0 -20l-20 20M1001.3 667.9l20 20m0 -20l-20 20M1000.0 668.7l20 20m0 -20l-20 20M1003.1 667.7l20 20m0 -20l-20 20M1002.2 669.3l20 20m0 -20l-20 20M1004.9 667.7l20 20m0 -20l-20 20M1004.0 669.5l20 20m0 -20l-20 20M1007.2 667.2l20 20m0 -20l-20 20M1006.7 668.0l20 20m0 -20l-20 20M1009.5 664.4l20 20m0 -20l-20 20M1008.1 668.1l20 20m0 -20l-20 20M1011.3 657.7l20 20m0 -20l-20 20M1010.4 661.9l20 20m0 -20l-20 20M1009.9 662.9l20 20m0 -20l-20 20M1012.6 654.3l20 20m0 -20l-20 20M1011.7 656.1l20 20m0 -20l-20 20M1014.0 655.2l20 20m0 -20l-20 20M1015.4 660.4l20 20m0 -20l-20 20M1014.9 660.4l20 20m0 -20l-20 20M1015.8 662.2l20 20m0 -20l-20 20M1017.2 664.4l20 20m0 -20l-20 20M1019.4 659.9l20 20m0 -20l-20 20M1017.6 664.0l20 20m0 -20l-20 20M1018.1 664.2l20 20m0 -20l-20 20M1020.3 650.7l20 20m0 -20l-20 20M1019.9 659.5l20 20m0 -20l-20 20M1021.7 653.2l20 20m0 -20l-20 20M1022.6 654.3l20 20m0 -20l-20 20M1023.5 657.2l20 20m0 -20l-20 20M1024.4 662.1l20 20m0 -20l-20 20M1025.3 663.2l20 20m0 -20l-20 20M1025.8 664.8l20 20m0 -20l-20 20M1027.1 666.8l20 20m0 -20l-20 20M1028.9 667.8l20 20m0 -20l-20 20M1029.4 668.7l20 20m0 -20l-20 20M1030.8 667.9l20 20m0 -20l-20 20M1030.3 669.6l20 20m0 -20l-20 20M1033.5 667.5l20 20m0 -20l-20 20M1033.0 668.9l20 20m0 -20l-20 20M1033.9 668.2l20 20m0 -20l-20 20M1035.3 670.1l20 20m0 -20l-20 20M1036.6 667.7l20 20m0 -20l-20 20M1037.1 669.9l20 20m0 -20l-20 20M1037.6 668.6l20 20m0 -20l-20 20M1038.5 670.1l20 20m0 -20l-20 20M1040.7 668.8l20 20m0 -20l-20 20M1041.2 669.9l20 20m0 -20l-20 20M1042.5 667.8l20 20m0 -20l-20 20M1042.1 669.8l20 20m0 -20l-20 20M1045.3 668.7l20 20m0 -20l-20 20M1044.8 669.9l20 20m0 -20l-20 20M1046.2 669.0l20 20m0 -20l-20 20M1045.7 670.5l20 20m0 -20l-20 20M1048.9 668.7l20 20m0 -20l-20 20M1048.0 669.7l20 20m0 -20l-20 20M1050.2 668.2l20 20m0 -20l-20 20M1049.8 668.7l20 20m0 -20l-20 20M259.6 89.3l20 20m0 -20l-20 20M260.2 124.5l20 20m0 -20l-20 20M258.0 332.0l20 20m0 -20l-20 20M260.6 408.0l20 20m0 -20l-20 20M258.0 536.1l20 20m0 -20l-20 20M260.6 583.2l20 20m0 -20l-20 20M258.0 616.6l20 20m0 -20l-20 20M254.8 610.0l20 20m0 -20l-20 20M266.0 628.0l20 20m0 -20l-20 20M251.6 638.5l20 20m0 -20l-20 20M491.9 480.0l20 20m0 -20l-20 20M491.9 493.8l20 20m0 -20l-20 20M491.9 540.0l20 20m0 -20l-20 20M491.9 552.5l20 20m0 -20l-20 20M493.0 588.8l20 20m0 -20l-20 20M490.0 605.0l20 20m0 -20l-20 20M488.8 613.8l20 20m0 -20l-20 20M489.4 630.0l20 20m0 -20l-20 20M591.9 352.9l20 20m0 -20l-20 20M591.9 391.9l20 20m0 -20l-20 20M592.9 454.8l20 20m0 -20l-20 20M590.6 508.0l20 20m0 -20l-20 20M594.8 535.7l20 20m0 -20l-20 20M590.6 593.8l20 20m0 -20l-20 20M595.7 602.4l20 20m0 -20l-20 20M592.0 627.0l20 20m0 -20l-20 20" stroke="#000" stroke-width="2.8" fill="none"/>
<polyline points="156.00,680.5 158.00,680.5 160.00,680.5 162.00,680.5 164.00,680.5 166.00,680.5 168.00,680.5 170.00,680.5 172.00,680.5 174.00,680.5 176.00,680.5 178.00,680.5 180.00,680.5 182.00,680.5 184.00,680.5 186.00,680.5 188.00,680.5 190.00,680.5 192.00,680.5 194.00,680.5 196.00,680.5 198.00,680.5 200.00,680.5 202.00,680.6 204.00,680.6 206.00,680.6 208.00,680.6 210.00,680.6 212.00,680.5 214.00,680.4 216.00,680.4 218.00,680.4 220.00,680.4 222.00,680.4 224.00,680.4 226.00,680.4 228.00,680.4 230.00,680.3 232.00,680.3 234.00,680.3 236.00,680.3 238.00,680.2 240.00,680.2 242.00,680.1 244.00,680.0 246.00,680.0 248.00,679.8 250.00,679.7 252.00,679.5 254.00,679.2 256.00,678.8 258.00,678.1 260.00,677.0 260.25,676.9 260.50,676.7 260.75,676.5 261.00,676.2 261.25,676.0 261.50,675.7 261.75,675.4 262.00,675.1 262.25,674.8 262.50,674.4 262.75,674.0 263.00,673.5 263.25,673.0 263.50,672.5 263.75,671.8 264.00,671.2 264.25,670.4 264.50,669.5 264.75,668.5 265.00,667.4 265.25,666.1 265.50,664.6 265.75,662.8 266.00,660.8 266.25,658.3 266.50,655.2 266.75,651.3 267.00,646.0 267.25,638.5 267.50,627.8 267.75,612.1 268.00,589.3 268.25,557.2 268.50,513.7 268.75,457.6 269.00,389.3 269.25,311.9 269.50,231.9 269.75,160.1 270.00,111.2 270.25,98.9 270.50,127.0 270.75,186.9 271.00,263.6 271.25,343.7 271.50,418.0 271.75,481.6 272.00,532.6 272.25,571.3 272.50,599.4 272.75,619.1 273.00,632.6 273.25,641.8 273.50,648.3 273.75,653.0 274.00,656.5 274.25,659.4 274.50,661.6 274.75,663.6 275.00,665.2 275.25,666.6 275.50,667.8 275.75,668.9 276.00,669.9 276.25,670.7 276.50,671.5 276.75,672.1 277.00,672.7 277.25,673.3 277.50,673.7 277.75,674.2 278.00,674.6 278.25,674.9 278.50,675.3 278.75,675.6 279.00,675.9 279.25,676.1 279.50,676.3 279.75,676.6 280.00,676.8 280.25,677.0 280.50,677.1 280.75,677.3 281.00,677.4 281.25,677.6 281.50,677.7 281.75,677.8 282.00,678.0 282.25,678.1 284.25,678.7 286.25,679.2 288.25,679.5 290.25,679.7 292.25,679.9 294.25,680.0 296.25,680.1 298.25,680.2 300.25,680.2 302.25,680.3 304.25,680.3 306.25,680.4 308.25,680.4 310.25,680.4 312.25,680.5 314.25,680.5 316.25,680.5 318.25,680.5 320.25,680.5 322.25,680.5 324.25,680.6 326.25,680.6 328.25,680.6 330.25,680.7 332.25,680.7 334.25,680.7 336.25,680.7 338.25,680.7 340.25,680.7 342.25,680.7 344.25,680.7 346.25,680.7 348.25,680.7 350.25,680.7 352.25,680.7 354.25,680.7 356.25,680.7 358.25,680.7 360.25,680.7 362.25,680.7 364.25,680.7 366.25,680.7 368.25,680.7 370.25,680.7 372.25,680.7 374.25,680.7 376.25,680.7 378.25,680.7 380.25,680.7 382.25,680.8 384.25,680.8 386.25,680.8 388.25,680.8 390.25,680.8 392.25,680.8 394.25,680.8 396.25,680.8 398.25,680.8 400.25,680.8 402.25,680.8 404.25,680.8 406.25,680.8 408.25,680.8 410.25,680.8 412.25,680.8 414.25,680.8 416.25,680.8 418.25,680.8 420.25,680.8 422.25,680.8 424.25,680.8 426.25,680.8 428.25,680.8 430.25,680.8 432.25,680.8 434.25,680.8 436.25,680.8 438.25,680.8 440.25,680.8 442.25,680.8 444.25,680.8 446.25,680.8 448.25,680.8 450.25,680.8 452.25,680.8 454.25,680.8 456.25,680.8 458.25,680.7 460.25,680.7 462.25,680.7 464.25,680.7 466.25,680.7 468.25,680.7 470.25,680.7 472.25,680.6 474.25,680.6 476.25,680.6 478.25,680.5 480.25,680.5 482.25,680.4 484.25,680.3 486.25,680.2 488.25,680.0 490.25,679.7 490.50,679.7 490.75,679.6 491.00,679.6 491.25,679.5 491.50,679.5 491.75,679.4 492.00,679.3 492.25,679.3 492.50,679.2 492.75,679.1 493.00,679.0 493.25,678.9 493.50,678.8 493.75,678.7 494.00,678.6 494.25,678.4 494.50,678.3 494.75,678.1 495.00,678.0 495.25,677.8 495.50,677.6 495.75,677.3 496.00,677.0 496.25,676.7 496.50,676.4 496.75,676.0 497.00,675.6 497.25,675.1 497.50,674.5 497.75,673.9 498.00,673.1 498.25,672.1 498.50,670.8 498.75,669.2 499.00,666.9 499.25,663.7 499.50,659.2 499.75,652.9 500.00,644.1 500.25,632.3 500.50,617.1 500.75,598.4 501.00,576.6 501.25,552.7 501.50,528.9 501.75,508.1 502.00,494.3 502.25,490.9 502.50,498.7 502.75,515.8 503.00,538.2 503.25,562.3 503.50,585.5 503.75,606.1 504.00,623.4 504.25,637.2 504.50,647.7 504.75,655.4 505.00,660.9 505.25,664.8 505.50,667.5 505.75,669.5 506.00,670.9 506.25,672.0 506.50,672.9 506.75,673.6 507.00,674.2 507.25,674.7 507.50,675.1 507.75,675.5 508.00,675.8 508.25,676.1 508.50,676.3 508.75,676.5 509.00,676.7 509.25,676.8 509.50,676.9 509.75,677.0 510.00,677.1 510.25,677.1 510.50,677.1 510.75,677.2 511.00,677.1 511.25,677.1 511.50,677.0 511.75,677.0 512.00,676.8 512.25,676.7 512.50,676.5 512.75,676.2 513.00,675.9 513.25,675.5 513.50,675.0 513.75,674.3 514.00,673.6 514.25,672.6 514.50,671.5 514.75,670.2 515.00,668.6 515.25,666.9 515.50,664.9 515.75,662.7 516.00,660.4 516.25,658.1 516.50,655.8 516.75,653.6 517.00,651.8 517.25,650.6 517.50,650.1 517.75,650.2 518.00,651.1 518.25,652.4 518.50,654.0 518.75,655.7 519.00,657.3 519.25,658.7 519.50,659.6 519.75,659.8 520.00,659.4 520.25,658.2 520.50,656.0 520.75,652.8 521.00,648.7 521.25,643.7 521.50,638.2 521.75,632.5 522.00,627.2 522.25,623.2 522.50,621.2 522.75,621.7 523.00,624.7 523.25,629.6 523.50,635.6 523.75,642.0 524.00,648.3 524.25,654.0 524.50,659.0 524.75,663.2 525.00,666.6 525.25,669.4 525.50,671.5 525.75,673.1 526.00,674.3 526.25,675.2 526.50,675.9 526.75,676.5 527.00,676.9 527.25,677.3 527.50,677.6 527.75,677.8 528.00,678.1 528.25,678.3 528.50,678.4 528.75,678.6 529.00,678.7 529.25,678.9 529.50,679.0 529.75,679.1 530.00,679.2 530.25,679.3 530.50,679.4 530.75,679.4 531.00,679.5 531.25,679.6 531.50,679.6 531.75,679.7 532.00,679.7 532.25,679.8 532.50,679.8 532.75,679.9 533.00,679.9 533.25,679.9 533.50,680.0 533.75,680.0 534.00,680.0 534.25,680.1 534.50,680.1 534.75,680.1 536.75,680.3 538.75,680.4 540.75,680.5 542.75,680.5 544.75,680.5 546.75,680.6 548.75,680.6 550.75,680.6 552.75,680.6 554.75,680.7 556.75,680.7 558.75,680.7 560.75,680.7 562.75,680.7 564.75,680.7 566.75,680.7 568.75,680.6 570.75,680.6 572.75,680.6 574.75,680.5 576.75,680.5 578.75,680.4 580.75,680.3 582.75,680.2 584.75,680.0 586.75,679.8 588.75,679.4 590.75,678.7 591.00,678.6 591.25,678.5 591.50,678.4 591.75,678.3 592.00,678.2 592.25,678.0 592.50,677.9 592.75,677.7 593.00,677.5 593.25,677.3 593.50,677.1 593.75,676.9 594.00,676.6 594.25,676.3 594.50,676.0 594.75,675.7 595.00,675.3 595.25,674.9 595.50,674.4 595.75,673.9 596.00,673.3 596.25,672.7 596.50,671.9 596.75,671.0 597.00,670.1 597.25,668.9 597.50,667.5 597.75,665.8 598.00,663.7 598.25,660.9 598.50,657.1 598.75,651.9 599.00,644.8 599.25,634.9 599.50,621.5 599.75,603.8 600.00,581.2 600.25,553.5 600.50,521.0 600.75,484.8 601.00,447.0 601.25,411.0 601.50,381.6 601.75,364.1 602.00,362.4 602.25,377.0 602.50,404.4 602.75,439.5 603.00,477.3 603.25,514.0 603.50,547.4 603.75,576.1 604.00,599.7 604.25,618.3 604.50,632.5 604.75,643.0 605.00,650.7 605.25,656.2 605.50,660.2 605.75,663.2 606.00,665.5 606.25,667.2 606.50,668.6 606.75,669.8 607.00,670.8 607.25,671.7 607.50,672.5 607.75,673.1 608.00,673.7 608.25,674.3 608.50,674.7 608.75,675.2 609.00,675.6 609.25,675.9 609.50,676.2 609.75,676.5 610.00,676.8 610.25,677.0 610.50,677.2 610.75,677.4 611.00,677.6 611.25,677.8 611.50,677.9 611.75,678.1 612.00,678.2 612.25,678.4 612.50,678.5 612.75,678.6 613.00,678.7 613.25,678.8 613.50,678.9 613.75,679.0 614.00,679.0 616.00,679.5 618.00,679.8 620.00,680.1 622.00,680.2 624.00,680.3 626.00,680.4 628.00,680.5 630.00,680.5 632.00,680.5 634.00,680.5 636.00,680.5 638.00,680.5 640.00,680.4 642.00,680.3 644.00,680.1 646.00,679.8 646.25,679.8 646.50,679.7 646.75,679.7 647.00,679.6 647.25,679.5 647.50,679.5 647.75,679.4 648.00,679.3 648.25,679.2 648.50,679.1 648.75,679.0 649.00,678.9 649.25,678.8 649.50,678.6 649.75,678.4 650.00,678.3 650.25,678.0 650.50,677.8 650.75,677.5 651.00,677.2 651.25,676.8 651.50,676.4 651.75,675.8 652.00,675.1 652.25,674.3 652.50,673.3 652.75,672.1 653.00,670.6 653.25,668.8 653.50,666.7 653.75,664.3 654.00,661.4 654.25,658.2 654.50,654.7 654.75,650.9 655.00,646.8 655.25,642.8 655.50,638.9 655.75,635.6 656.00,633.0 656.25,631.6 656.50,631.4 656.75,632.6 657.00,635.0 657.25,638.2 657.50,642.0 657.75,646.0 658.00,650.1 658.25,654.0 658.50,657.6 658.75,660.8 659.00,663.7 659.25,666.3 659.50,668.5 659.75,670.3 660.00,671.9 660.25,673.1 660.50,674.2 660.75,675.0 661.00,675.7 661.25,676.3 661.50,676.8 661.75,677.2 662.00,677.6 662.25,677.9 662.50,678.1 662.75,678.4 663.00,678.5 663.25,678.7 663.50,678.9 663.75,679.0 664.00,679.1 664.25,679.2 664.50,679.4 664.75,679.4 665.00,679.5 665.25,679.6 665.50,679.7 665.75,679.8 666.00,679.8 666.25,679.9 666.50,679.9 666.75,680.0 667.00,680.0 667.25,680.1 667.50,680.1 667.75,680.2 668.00,680.2 668.25,680.2 668.50,680.3 670.50,680.5 672.50,680.6 674.50,680.7 676.50,680.8 678.50,680.8 680.50,680.9 682.50,680.9 684.50,680.9 686.50,681.0 688.50,681.0 690.50,681.0 692.50,681.0 694.50,681.0 696.50,681.0 698.50,681.0 700.50,681.0 702.50,681.0 704.50,681.1 706.50,681.1 708.50,681.1 710.50,681.1 712.50,681.1 714.50,681.1 716.50,681.1 718.50,681.1 720.50,681.1 722.50,681.1 724.50,681.1 726.50,681.1 728.50,681.1 730.50,681.1 732.50,681.1 734.50,681.1 736.50,681.1 738.50,681.1 740.50,681.1 742.50,681.1 744.50,681.1 746.50,681.1 748.50,681.0 750.50,681.0 752.50,681.0 754.50,681.0 756.50,681.0 758.50,680.9 760.50,680.9 762.50,680.9 764.50,680.8 766.50,680.7 768.50,680.6 770.50,680.4 770.75,680.3 771.00,680.3 771.25,680.3 771.50,680.2 771.75,680.2 772.00,680.2 772.25,680.1 772.50,680.1 772.75,680.0 773.00,679.9 773.25,679.9 773.50,679.8 773.75,679.7 774.00,679.6 774.25,679.5 774.50,679.4 774.75,679.3 775.00,679.2 775.25,679.0 775.50,678.8 775.75,678.6 776.00,678.4 776.25,678.1 776.50,677.8 776.75,677.4 777.00,677.0 777.25,676.6 777.50,676.1 777.75,675.6 778.00,675.0 778.25,674.3 778.50,673.7 778.75,672.9 779.00,672.2 779.25,671.4 779.50,670.7 779.75,670.0 780.00,669.3 780.25,668.7 780.50,668.1 780.75,667.6 781.00,667.0 781.25,666.5 781.50,665.8 781.75,665.0 782.00,663.9 782.25,662.6 782.50,660.9 782.75,658.9 783.00,656.4 783.25,653.7 783.50,650.6 783.75,647.3 784.00,643.8 784.25,640.5 784.50,637.5 784.75,635.2 785.00,633.9 785.25,633.7 785.50,634.7 785.75,636.8 786.00,639.8 786.25,643.3 786.50,647.1 786.75,651.0 787.00,654.7 787.25,658.1 787.50,661.3 787.75,664.1 788.00,666.6 788.25,668.7 788.50,670.5 788.75,672.0 789.00,673.3 789.25,674.3 789.50,675.2 789.75,675.9 790.00,676.4 790.25,676.9 790.50,677.3 790.75,677.6 791.00,677.9 791.25,678.2 791.50,678.4 791.75,678.6 792.00,678.8 792.25,678.9 792.50,679.1 792.75,679.2 793.00,679.3 793.25,679.4 793.50,679.5 793.75,679.6 794.00,679.7 794.25,679.8 794.50,679.8 794.75,679.9 795.00,680.0 795.25,680.0 795.50,680.1 795.75,680.1 796.00,680.2 796.25,680.2 796.50,680.2 796.75,680.3 797.00,680.3 797.25,680.4 799.25,680.6 801.25,680.7 803.25,680.8 805.25,680.8 807.25,680.8 809.25,680.8 811.25,680.9 813.25,680.9 815.25,680.9 817.25,680.9 819.25,680.9 821.25,680.9 823.25,680.9 825.25,680.9 827.25,680.8 829.25,680.8 831.25,680.8 833.25,680.7 835.25,680.7 837.25,680.6 839.25,680.5 841.25,680.3 843.25,680.2 845.25,679.9 847.25,679.5 849.25,679.0 849.50,678.9 849.75,678.8 850.00,678.6 850.25,678.5 850.50,678.4 850.75,678.3 851.00,678.1 851.25,678.0 851.50,677.8 851.75,677.6 852.00,677.4 852.25,677.2 852.50,677.0 852.75,676.7 853.00,676.4 853.25,676.0 853.50,675.7 853.75,675.2 854.00,674.7 854.25,674.0 854.50,673.3 854.75,672.5 855.00,671.5 855.25,670.4 855.50,669.2 855.75,667.7 856.00,666.0 856.25,664.2 856.50,662.1 856.75,659.8 857.00,657.3 857.25,654.7 857.50,651.9 857.75,649.0 858.00,646.0 858.25,643.1 858.50,640.4 858.75,638.0 859.00,636.1 859.25,634.7 859.50,634.0 859.75,634.0 860.00,634.7 860.25,635.8 860.50,637.4 860.75,639.2 861.00,641.1 861.25,643.0 861.50,644.6 861.75,646.0 862.00,647.0 862.25,647.6 862.50,647.8 862.75,647.4 863.00,646.6 863.25,645.2 863.50,643.2 863.75,640.8 864.00,637.8 864.25,634.5 864.50,630.7 864.75,626.8 865.00,622.7 865.25,618.6 865.50,614.8 865.75,611.5 866.00,609.0 866.25,607.4 866.50,607.0 866.75,607.9 867.00,609.8 867.25,612.8 867.50,616.6 867.75,620.9 868.00,625.6 868.25,630.3 868.50,635.0 868.75,639.6 869.00,644.0 869.25,648.0 869.50,651.7 869.75,655.1 870.00,658.1 870.25,660.8 870.50,663.1 870.75,665.2 871.00,667.0 871.25,668.5 871.50,669.8 871.75,671.0 872.00,671.9 872.25,672.8 872.50,673.5 872.75,674.1 873.00,674.6 873.25,675.1 873.50,675.5 873.75,675.8 874.00,676.1 874.25,676.4 874.50,676.7 874.75,676.9 875.00,677.2 875.25,677.4 875.50,677.5 875.75,677.7 876.00,677.9 876.25,678.0 876.50,678.1 876.75,678.3 877.00,678.4 877.25,678.5 877.50,678.6 877.75,678.7 878.00,678.8 878.25,678.9 878.50,679.0 880.50,679.5 882.50,679.8 884.50,680.1 886.50,680.2 888.50,680.3 890.50,680.4 892.50,680.4 894.50,680.4 896.50,680.3 898.50,680.1 898.75,680.1 899.00,680.1 899.25,680.0 899.50,680.0 899.75,680.0 900.00,679.9 900.25,679.9 900.50,679.8 900.75,679.8 901.00,679.7 901.25,679.6 901.50,679.6 901.75,679.5 902.00,679.4 902.25,679.3 902.50,679.2 902.75,679.0 903.00,678.9 903.25,678.8 903.50,678.6 903.75,678.4 904.00,678.2 904.25,677.9 904.50,677.6 904.75,677.2 905.00,676.8 905.25,676.3 905.50,675.6 905.75,674.8 906.00,673.8 906.25,672.7 906.50,671.2 906.75,669.5 907.00,667.5 907.25,665.2 907.50,662.5 907.75,659.5 908.00,656.2 908.25,652.7 908.50,649.1 908.75,645.5 909.00,642.2 909.25,639.4 909.50,637.5 909.75,636.6 910.00,637.0 910.25,638.5 910.50,641.0 910.75,644.1 911.00,647.6 911.25,651.3 911.50,654.9 911.75,658.2 912.00,661.4 912.25,664.2 912.50,666.7 912.75,668.8 913.00,670.6 913.25,672.2 913.50,673.5 913.75,674.5 914.00,675.4 914.25,676.1 914.50,676.7 914.75,677.2 915.00,677.6 915.25,677.9 915.50,678.2 915.75,678.4 916.00,678.6 916.25,678.8 916.50,679.0 916.75,679.1 917.00,679.3 917.25,679.4 917.50,679.5 917.75,679.6 918.00,679.7 918.25,679.8 918.50,679.9 918.75,679.9 919.00,680.0 919.25,680.1 919.50,680.2 919.75,680.2 920.00,680.3 920.25,680.3 920.50,680.4 920.75,680.4 921.00,680.4 921.25,680.5 921.50,680.5 921.75,680.5 922.00,680.6 924.00,680.7 926.00,680.9 928.00,681.0 930.00,681.1 932.00,681.1 934.00,681.2 936.00,681.2 938.00,681.2 940.00,681.2 942.00,681.3 944.00,681.3 946.00,681.3 948.00,681.3 950.00,681.3 952.00,681.3 954.00,681.3 956.00,681.3 958.00,681.3 960.00,681.3 962.00,681.4 964.00,681.3 966.00,681.3 968.00,681.3 970.00,681.4 972.00,681.4 974.00,681.4 976.00,681.4 978.00,681.4 980.00,681.4 982.00,681.4 984.00,681.4 986.00,681.4 988.00,681.3 990.00,681.3 992.00,681.3 994.00,681.3 996.00,681.3 998.00,681.3 1000.00,681.3 1002.00,681.2 1004.00,681.2 1006.00,681.2 1008.00,681.1 1010.00,681.0 1012.00,680.9 1012.25,680.8 1012.50,680.8 1012.75,680.8 1013.00,680.8 1013.25,680.7 1013.50,680.7 1013.75,680.7 1014.00,680.6 1014.25,680.6 1014.50,680.5 1014.75,680.5 1015.00,680.4 1015.25,680.4 1015.50,680.3 1015.75,680.2 1016.00,680.1 1016.25,680.0 1016.50,679.9 1016.75,679.8 1017.00,679.7 1017.25,679.5 1017.50,679.3 1017.75,679.0 1018.00,678.7 1018.25,678.4 1018.50,678.0 1018.75,677.6 1019.00,677.1 1019.25,676.6 1019.50,675.9 1019.75,675.2 1020.00,674.5 1020.25,673.7 1020.50,672.8 1020.75,671.9 1021.00,671.0 1021.25,670.0 1021.50,669.2 1021.75,668.4 1022.00,667.8 1022.25,667.3 1022.50,667.1 1022.75,667.1 1023.00,667.3 1023.25,667.7 1023.50,668.3 1023.75,669.1 1024.00,669.9 1024.25,670.7 1024.50,671.6 1024.75,672.4 1025.00,673.2 1025.25,673.9 1025.50,674.5 1025.75,675.1 1026.00,675.5 1026.25,675.9 1026.50,676.2 1026.75,676.4 1027.00,676.5 1027.25,676.6 1027.50,676.5 1027.75,676.4 1028.00,676.1 1028.25,675.8 1028.50,675.4 1028.75,674.8 1029.00,674.2 1029.25,673.5 1029.50,672.7 1029.75,671.9 1030.00,671.0 1030.25,670.0 1030.50,669.0 1030.75,668.1 1031.00,667.2 1031.25,666.5 1031.50,665.9 1031.75,665.5 1032.00,665.4 1032.25,665.6 1032.50,666.0 1032.75,666.6 1033.00,667.5 1033.25,668.4 1033.50,669.4 1033.75,670.4 1034.00,671.4 1034.25,672.4 1034.50,673.4 1034.75,674.2 1035.00,675.1 1035.25,675.8 1035.50,676.4 1035.75,677.0 1036.00,677.5 1036.25,678.0 1036.50,678.4 1036.75,678.7 1037.00,679.0 1037.25,679.2 1037.50,679.4 1037.75,679.6 1038.00,679.8 1038.25,679.9 1038.50,680.0 1038.75,680.1 1039.00,680.2 1039.25,680.3 1039.50,680.4 1039.75,680.4 1040.00,680.5 1040.25,680.5 1040.50,680.6 1040.75,680.6 1041.00,680.7 1041.25,680.7 1041.50,680.7 1041.75,680.8 1042.00,680.8 1042.25,680.8 1042.50,680.9 1042.75,680.9 1043.00,680.9 1043.25,680.9 1043.50,680.9 1043.75,681.0 1044.00,681.0 1046.00,681.1 1048.00,681.2 1050.00,681.2 1052.00,681.3 1054.00,681.3 1056.00,681.3 1058.00,681.4 1060.00,681.4" stroke="#f00" stroke-width="5" fill="none" stroke-linejoin="round"/>
<polyline points="156.0,698.5 157.0,698.5 158.0,698.5 159.0,698.5 160.0,698.5 161.0,698.5 162.0,698.5 163.0,698.5 164.0,698.5 165.0,698.5 166.0,698.5 167.0,698.5 168.0,698.5 169.0,698.5 170.0,698.5 171.0,698.5 172.0,698.5 173.0,698.5 174.0,698.5 175.0,698.5 176.0,698.5 177.0,698.5 178.0,698.5 179.0,698.5 180.0,698.5 181.0,698.5 182.0,698.5 183.0,698.5 184.0,698.5 185.0,698.5 186.0,698.5 187.0,698.5 188.0,698.5 189.0,698.5 190.0,698.5 191.0,698.5 192.0,698.5 193.0,698.5 194.0,698.5 195.0,698.5 196.0,698.5 197.0,698.5 198.0,698.5 199.0,698.5 200.0,698.5 201.0,698.5 202.0,698.5 203.0,698.5 204.0,698.5 205.0,698.5 206.0,698.5 207.0,698.5 208.0,698.5 209.0,698.5 210.0,698.5 211.0,698.5 212.0,698.5 213.0,698.5 214.0,698.5 215.0,698.5 216.0,698.5 217.0,698.5 218.0,698.5 219.0,698.5 220.0,698.5 221.0,698.5 222.0,698.5 223.0,698.5 224.0,698.5 225.0,698.5 226.0,698.5 227.0,698.5 228.0,698.5 229.0,698.5 230.0,698.5 231.0,698.5 232.0,698.5 233.0,698.5 234.0,698.5 235.0,698.5 236.0,698.5 237.0,698.5 238.0,698.5 239.0,698.5 240.0,698.5 241.0,698.5 242.0,698.5 243.0,698.5 244.0,698.5 245.0,698.5 246.0,698.5 247.0,698.5 248.0,698.5 249.0,698.5 250.0,698.5 251.0,698.5 252.0,698.5 253.0,698.5 254.0,698.5 255.0,698.5 256.0,698.5 257.0,698.5 258.0,698.5 259.0,698.5 260.0,698.5 261.0,698.5 262.0,698.5 263.0,698.5 264.0,698.5 265.0,698.5 266.0,698.5 267.0,698.5 268.0,698.5 269.0,698.5 270.0,698.5 271.0,698.5 272.0,698.5 273.0,698.5 274.0,698.5 275.0,698.5 276.0,698.5 277.0,698.5 278.0,698.5 279.0,698.5 280.0,698.5 281.0,698.5 282.0,698.5 283.0,698.5 284.0,698.5 285.0,698.5 286.0,698.5 287.0,698.5 288.0,698.5 289.0,698.5 290.0,698.5 291.0,698.5 292.0,698.5 293.0,698.5 294.0,698.5 295.0,698.5 296.0,698.5 297.0,698.5 298.0,698.5 299.0,698.5 300.0,698.5 301.0,698.5 302.0,698.5 303.0,698.5 304.0,698.5 305.0,698.5 306.0,698.5 307.0,698.5 308.0,698.5 309.0,698.5 310.0,698.5 311.0,698.5 312.0,698.5 313.0,698.5 314.0,698.5 315.0,698.5 316.0,698.5 317.0,698.5 318.0,698.5 319.0,698.5 320.0,698.5 321.0,698.5 322.0,698.5 323.0,698.5 324.0,698.5 325.0,698.5 326.0,698.5 327.0,698.5 328.0,698.5 329.0,698.5 330.0,698.5 331.0,698.5 332.0,698.5 333.0,698.5 334.0,698.5 335.0,698.5 336.0,698.5 337.0,698.5 338.0,698.5 339.0,698.5 340.0,698.5 341.0,698.5 342.0,698.5 343.0,698.5 344.0,698.5 345.0,698.5 346.0,698.5 347.0,698.5 348.0,698.5 349.0,698.5 350.0,698.5 351.0,698.5 352.0,698.5 353.0,698.5 354.0,698.5 355.0,698.5 356.0,698.5 357.0,698.5 358.0,698.5 359.0,698.5 360.0,698.5 361.0,698.5 362.0,698.5 363.0,698.5 364.0,698.5 365.0,698.5 366.0,698.5 367.0,698.5 368.0,698.5 369.0,698.5 370.0,698.5 371.0,698.5 372.0,698.5 373.0,698.5 374.0,698.5 375.0,698.5 376.0,698.5 377.0,698.5 378.0,698.5 379.0,698.5 380.0,698.5 381.0,698.5 382.0,698.5 383.0,698.5 384.0,698.5 385.0,698.5 386.0,698.5 387.0,698.5 388.0,698.5 389.0,698.5 390.0,698.5 391.0,698.5 392.0,698.5 393.0,698.5 394.0,698.5 395.0,698.5 396.0,698.5 397.0,698.5 398.0,698.5 399.0,698.5 400.0,698.5 401.0,698.5 402.0,698.5 403.0,698.5 404.0,698.5 405.0,698.5 406.0,698.5 407.0,698.5 408.0,698.5 409.0,698.5 410.0,698.5 411.0,698.5 412.0,698.5 413.0,698.5 414.0,698.5 415.0,698.5 416.0,698.5 417.0,698.5 418.0,698.5 419.0,698.5 420.0,698.5 421.0,698.5 422.0,698.5 423.0,698.5 424.0,698.5 425.0,698.5 426.0,698.5 427.0,698.5 428.0,698.5 429.0,698.5 430.0,698.5 431.0,698.5 432.0,698.5 433.0,698.5 434.0,698.5 435.0,698.5 436.0,698.5 437.0,698.5 438.0,698.5 439.0,698.5 440.0,698.5 441.0,698.5 442.0,698.5 443.0,698.5 444.0,698.5 445.0,698.5 446.0,698.5 447.0,698.5 448.0,698.5 449.0,698.5 450.0,698.5 451.0,698.5 452.0,698.5 453.0,698.5 454.0,698.5 455.0,698.5 456.0,698.5 457.0,698.5 458.0,698.5 459.0,698.5 460.0,698.5 461.0,698.5 462.0,698.5 463.0,698.5 464.0,698.5 465.0,698.5 466.0,698.5 467.0,698.5 468.0,698.5 469.0,698.5 470.0,698.5 471.0,698.5 472.0,698.5 473.0,698.5 474.0,698.5 475.0,698.5 476.0,698.5 477.0,698.5 478.0,698.5 479.0,698.5 480.0,698.5 481.0,698.5 482.0,698.5 483.0,698.5 484.0,698.5 485.0,698.5 486.0,698.5 487.0,698.5 488.0,698.5 489.0,698.5 490.0,698.5 491.0,698.5 492.0,698.5 493.0,698.5 494.0,698.5 495.0,698.5 496.0,698.5 497.0,698.5 498.0,698.5 499.0,698.5 500.0,698.5 501.0,698.5 502.0,698.5 503.0,698.5 504.0,698.5 505.0,698.5 506.0,698.5 507.0,698.5 508.0,698.5 509.0,698.5 510.0,698.5 511.0,698.5 512.0,698.5 513.0,698.5 514.0,698.5 515.0,698.5 516.0,698.5 517.0,698.5 518.0,698.5 519.0,698.5 520.0,698.5 521.0,698.5 522.0,698.5 523.0,698.5 524.0,698.5 525.0,698.5 526.0,698.5 527.0,698.5 528.0,698.5 529.0,698.5 530.0,698.5 531.0,698.5 532.0,698.5 533.0,698.5 534.0,698.5 535.0,698.5 536.0,698.5 537.0,698.5 538.0,698.5 539.0,698.5 540.0,698.5 541.0,698.5 542.0,698.5 543.0,698.5 544.0,698.5 545.0,698.5 546.0,698.5 547.0,698.5 548.0,698.5 549.0,698.5 550.0,698.5 551.0,698.5 552.0,698.5 553.0,698.5 554.0,698.5 555.0,698.5 556.0,698.5 557.0,698.5 558.0,698.5 559.0,698.5 560.0,698.5 561.0,698.5 562.0,698.5 563.0,698.5 564.0,698.5 565.0,698.5 566.0,698.5 567.0,698.5 568.0,698.5 569.0,698.5 570.0,698.5 571.0,698.5 572.0,698.5 573.0,698.5 574.0,698.5 575.0,698.5 576.0,698.5 577.0,698.5 578.0,698.5 579.0,698.5 580.0,698.5 581.0,698.5 582.0,698.5 583.0,698.5 584.0,698.5 585.0,698.5 586.0,698.5 587.0,698.5 588.0,698.5 589.0,698.5 590.0,698.5 591.0,698.5 592.0,698.5 593.0,698.5 594.0,698.5 595.0,698.5 596.0,698.5 597.0,698.5 598.0,698.5 599.0,698.5 600.0,698.5 601.0,698.5 602.0,698.5 603.0,698.5 604.0,698.5 605.0,698.5 606.0,698.5 607.0,698.5 608.0,698.5 609.0,698.5 610.0,698.5 611.0,698.5 612.0,698.5 613.0,698.5 614.0,698.5 615.0,698.5 616.0,698.5 617.0,698.5 618.0,698.5 619.0,698.5 620.0,698.5 621.0,698.5 622.0,698.5 623.0,698.5 624.0,698.5 625.0,698.5 626.0,698.5 627.0,698.5 628.0,698.5 629.0,698.5 630.0,698.5 631.0,698.5 632.0,698.5 633.0,698.5 634.0,698.5 635.0,698.5 636.0,698.5 637.0,698.5 638.0,698.5 639.0,698.5 640.0,698.5 641.0,698.5 642.0,698.5 643.0,698.5 644.0,698.5 645.0,698.5 646.0,698.5 647.0,698.5 648.0,698.5 649.0,698.5 650.0,698.5 651.0,698.5 652.0,698.5 653.0,698.5 654.0,698.5 655.0,698.5 656.0,698.5 657.0,698.5 658.0,698.5 659.0,698.5 660.0,698.5 661.0,698.5 662.0,698.5 663.0,698.5 664.0,698.5 665.0,698.5 666.0,698.5 667.0,698.5 668.0,698.5 669.0,698.5 670.0,698.5 671.0,698.5 672.0,698.5 673.0,698.5 674.0,698.5 675.0,698.5 676.0,698.5 677.0,698.5 678.0,698.5 679.0,698.5 680.0,698.5 681.0,698.5 682.0,698.5 683.0,698.5 684.0,698.5 685.0,698.5 686.0,698.5 687.0,698.5 688.0,698.5 689.0,698.5 690.0,698.5 691.0,698.5 692.0,698.5 693.0,698.5 694.0,698.5 695.0,698.5 696.0,698.5 697.0,698.5 698.0,698.5 699.0,698.5 700.0,698.5 701.0,698.5 702.0,698.5 703.0,698.5 704.0,698.5 705.0,698.5 706.0,698.5 707.0,698.5 708.0,698.5 709.0,698.5 710.0,698.5 711.0,698.5 712.0,698.5 713.0,698.5 714.0,698.5 715.0,698.5 716.0,698.5 717.0,698.5 718.0,698.5 719.0,698.5 720.0,698.5 721.0,698.5 722.0,698.5 723.0,698.5 724.0,698.5 725.0,698.5 726.0,698.5 727.0,698.5 728.0,698.5 729.0,698.5 730.0,698.5 731.0,698.5 732.0,698.5 733.0,698.5 734.0,698.5 735.0,698.5 736.0,698.5 737.0,698.5 738.0,698.5 739.0,698.5 740.0,698.5 741.0,698.5 742.0,698.5 743.0,698.5 744.0,698.5 745.0,698.5 746.0,698.5 747.0,698.5 748.0,698.5 749.0,698.5 750.0,698.5 751.0,698.5 752.0,698.5 753.0,698.5 754.0,698.5 755.0,698.5 756.0,698.5 757.0,698.5 758.0,698.5 759.0,698.5 760.0,698.5 761.0,698.5 762.0,698.5 763.0,698.5 764.0,698.5 765.0,698.5 766.0,698.5 767.0,698.5 768.0,698.5 769.0,698.5 770.0,698.5 771.0,698.5 772.0,698.5 773.0,698.5 774.0,698.5 775.0,698.5 776.0,698.5 777.0,698.5 778.0,698.5 779.0,698.5 780.0,698.5 781.0,698.5 782.0,698.5 783.0,698.5 784.0,698.5 785.0,698.5 786.0,698.5 787.0,698.5 788.0,698.5 789.0,698.5 790.0,698.5 791.0,698.5 792.0,698.5 793.0,698.5 794.0,698.5 795.0,698.5 796.0,698.5 797.0,698.5 798.0,698.5 799.0,698.5 800.0,698.5 801.0,698.5 802.0,698.5 803.0,698.5 804.0,698.5 805.0,698.5 806.0,698.5 807.0,698.5 808.0,698.5 809.0,698.5 810.0,698.5 811.0,698.5 812.0,698.5 813.0,698.5 814.0,698.5 815.0,698.5 816.0,698.5 817.0,698.5 818.0,698.5 819.0,698.5 820.0,698.5 821.0,698.5 822.0,698.5 823.0,698.5 824.0,698.5 825.0,698.5 826.0,698.5 827.0,698.5 828.0,698.5 829.0,698.5 830.0,698.5 831.0,698.5 832.0,698.5 833.0,698.5 834.0,698.5 835.0,698.5 836.0,698.5 837.0,698.5 838.0,698.5 839.0,698.5 840.0,698.5 841.0,698.5 842.0,698.5 843.0,698.5 844.0,698.5 845.0,698.5 846.0,698.5 847.0,698.5 848.0,698.5 849.0,698.5 850.0,698.5 851.0,698.5 852.0,698.5 853.0,698.5 854.0,698.5 855.0,698.5 856.0,698.5 857.0,698.5 858.0,698.5 859.0,698.5 860.0,698.5 861.0,698.5 862.0,698.5 863.0,698.5 864.0,698.5 865.0,698.5 866.0,698.5 867.0,698.5 868.0,698.5 869.0,698.5 870.0,698.5 871.0,698.5 872.0,698.5 873.0,698.5 874.0,698.5 875.0,698.5 876.0,698.5 877.0,698.5 878.0,698.5 879.0,698.5 880.0,698.5 881.0,698.5 882.0,698.5 883.0,698.5 884.0,698.5 885.0,698.5 886.0,698.5 887.0,698.5 888.0,698.5 889.0,698.5 890.0,698.5 891.0,698.5 892.0,698.5 893.0,698.5 894.0,698.5 895.0,698.5 896.0,698.5 897.0,698.5 898.0,698.5 899.0,698.5 900.0,698.5 901.0,698.5 902.0,698.5 903.0,698.5 904.0,698.5 905.0,698.5 906.0,698.5 907.0,698.5 908.0,698.5 909.0,698.5 910.0,698.5 911.0,698.5 912.0,698.5 913.0,698.5 914.0,698.5 915.0,698.5 916.0,698.5 917.0,698.5 918.0,698.5 919.0,698.5 920.0,698.5 921.0,698.5 922.0,698.5 923.0,698.5 924.0,698.5 925.0,698.5 926.0,698.5 927.0,698.5 928.0,698.5 929.0,698.5 930.0,698.5 931.0,698.5 932.0,698.5 933.0,698.5 934.0,698.5 935.0,698.5 936.0,698.5 937.0,698.5 938.0,698.5 939.0,698.5 940.0,698.5 941.0,698.5 942.0,698.5 943.0,698.5 944.0,698.5 945.0,698.5 946.0,698.5 947.0,698.5 948.0,698.5 949.0,698.5 950.0,698.5 951.0,698.5 952.0,698.5 953.0,698.5 954.0,698.5 955.0,698.5 956.0,698.5 957.0,698.5 958.0,698.5 959.0,698.5 960.0,698.5 961.0,698.5 962.0,698.5 963.0,698.5 964.0,698.5 965.0,698.5 966.0,698.5 967.0,698.5 968.0,698.5 969.0,698.5 970.0,698.5 971.0,698.5 972.0,698.5 973.0,698.5 974.0,698.5 975.0,698.5 976.0,698.5 977.0,698.5 978.0,698.5 979.0,698.5 980.0,698.5 981.0,698.5 982.0,698.5 983.0,698.5 984.0,698.5 985.0,698.5 986.0,698.5 987.0,698.5 988.0,698.5 989.0,698.5 990.0,698.5 991.0,698.5 992.0,698.5 993.0,698.5 994.0,698.5 995.0,698.5 996.0,698.5 997.0,698.5 998.0,698.5 999.0,698.5 1000.0,698.5 1001.0,698.5 1002.0,698.5 1003.0,698.5 1004.0,698.5 1005.0,698.5 1006.0,698.5 1007.0,698.5 1008.0,698.5 1009.0,698.5 1010.0,698.5 1011.0,698.5 1012.0,698.5 1013.0,698.5 1014.0,698.5 1015.0,698.5 1016.0,698.5 1017.0,698.5 1018.0,698.5 1019.0,698.5 1020.0,698.5 1021.0,698.5 1022.0,698.5 1023.0,698.5 1024.0,698.5 1025.0,698.5 1026.0,698.5 1027.0,698.5 1028.0,698.5 1029.0,698.5 1030.0,698.5 1031.0,698.5 1032.0,698.5 1033.0,698.5 1034.0,698.5 1035.0,698.5 1036.0,698.5 1037.0,698.5 1038.0,698.5 1039.0,698.5 1040.0,698.5 1041.0,698.5 1042.0,698.5 1043.0,698.5 1044.0,698.5 1045.0,698.5 1046.0,698.5 1047.0,698.5 1048.0,698.5 1049.0,698.5 1050.0,698.5 1051.0,698.5 1052.0,698.5 1053.0,698.5 1054.0,698.5 1055.0,698.5 1056.0,698.5 1057.0,698.5 1058.0,698.5 1059.0,698.5 1060.0,698.5 1061.0,698.5" stroke="#00f" stroke-width="5" fill="none"/>
<path d="M270.0 695.7V702.5M502.0 696.4V701.5M522.0 695.7V702.5M602.0 695.0V703.5M656.0 697.1V700.5M785.0 697.1V700.5M864.0 696.4V701.5M910.0 697.1V700.5" stroke="#00f" stroke-width="4.5"/>
</g>
<rect x="155.5" y="34.5" width="906.0" height="720.0" fill="none" stroke="#000" stroke-width="7"/>
<path d="M155.5 754.5V768.0M220.2 754.5V761.5M284.9 754.5V768.0M349.6 754.5V761.5M414.4 754.5V768.0M479.1 754.5V761.5M543.8 754.5V768.0M608.5 754.5V761.5M673.2 754.5V768.0M737.9 754.5V761.5M802.6 754.5V768.0M867.4 754.5V761.5M932.1 754.5V768.0M996.8 754.5V761.5M1061.5 754.5V768.0" stroke="#000" stroke-width="7"/>
<text x="155.5" y="808.5" font-size="41" text-anchor="middle">10</text>
<text x="284.9" y="808.5" font-size="41" text-anchor="middle">20</text>
<text x="414.4" y="808.5" font-size="41" text-anchor="middle">30</text>
<text x="543.8" y="808.5" font-size="41" text-anchor="middle">40</text>
<text x="673.2" y="808.5" font-size="41" text-anchor="middle">50</text>
<text x="802.6" y="808.5" font-size="41" text-anchor="middle">60</text>
<text x="932.1" y="808.5" font-size="41" text-anchor="middle">70</text>
<text x="1061.5" y="808.5" font-size="41" text-anchor="middle">80</text>
<text x="608.5" y="867.3" font-size="61" text-anchor="middle">2 Theta (degree)</text>
<text transform="translate(96.0 373.5) rotate(-90)" font-size="61" text-anchor="middle">Intensity (a.u.)</text>
<text transform="translate(6.0 107.5) scale(1.03 1)" font-size="104">(a)</text>
<path d="M880.2 44.9l30.8 30.8m0 -30.8l-30.8 30.8" stroke="#000" stroke-width="3.6" fill="none"/>
<text x="944.0" y="71.0" font-size="38">83L0</text>
<line x1="869.0" y1="106.7" x2="924.0" y2="106.7" stroke="#f00" stroke-width="5"/>
<text x="944.0" y="119.3" font-size="38">Refine</text>
<line x1="869.0" y1="152.0" x2="924.0" y2="152.0" stroke="#00f" stroke-width="5"/>
<text x="944.0" y="166.0" font-size="38">Diff</text>
<text x="862.0" y="211.5" font-size="38">R<tspan font-size="24" dy="8.5">wp</tspan><tspan dx="2" dy="-8.5"> 2.610</tspan></text></g>
<g><clipPath id="c101"><rect x="1350.5" y="37.5" width="898.5" height="713.8"/></clipPath>
<g clip-path="url(#c101)">
<path d="M1339.4 670.1l20 20m0 -20l-20 20M1339.0 670.8l20 20m0 -20l-20 20M1340.3 670.8l20 20m0 -20l-20 20M1340.8 671.9l20 20m0 -20l-20 20M1342.1 670.6l20 20m0 -20l-20 20M1342.6 671.5l20 20m0 -20l-20 20M1345.3 670.7l20 20m0 -20l-20 20M1343.9 671.9l20 20m0 -20l-20 20M1345.7 670.3l20 20m0 -20l-20 20M1346.2 671.6l20 20m0 -20l-20 20M1349.4 671.0l20 20m0 -20l-20 20M1347.5 671.8l20 20m0 -20l-20 20M1350.3 669.9l20 20m0 -20l-20 20M1350.7 671.1l20 20m0 -20l-20 20M1351.6 670.3l20 20m0 -20l-20 20M1352.1 671.7l20 20m0 -20l-20 20M1354.3 670.1l20 20m0 -20l-20 20M1353.9 671.5l20 20m0 -20l-20 20M1356.1 670.9l20 20m0 -20l-20 20M1355.7 671.4l20 20m0 -20l-20 20M1357.9 671.3l20 20m0 -20l-20 20M1359.3 672.5l20 20m0 -20l-20 20M1361.1 670.4l20 20m0 -20l-20 20M1359.8 672.3l20 20m0 -20l-20 20M1361.6 670.3l20 20m0 -20l-20 20M1362.0 671.3l20 20m0 -20l-20 20M1363.8 671.0l20 20m0 -20l-20 20M1364.3 672.1l20 20m0 -20l-20 20M1367.0 670.5l20 20m0 -20l-20 20M1365.6 671.6l20 20m0 -20l-20 20M1367.9 670.6l20 20m0 -20l-20 20M1368.8 672.1l20 20m0 -20l-20 20M1371.1 671.0l20 20m0 -20l-20 20M1370.2 673.0l20 20m0 -20l-20 20M1372.4 670.6l20 20m0 -20l-20 20M1372.9 671.9l20 20m0 -20l-20 20M1373.8 671.0l20 20m0 -20l-20 20M1374.7 672.1l20 20m0 -20l-20 20M1376.0 669.8l20 20m0 -20l-20 20M1377.4 671.3l20 20m0 -20l-20 20M1379.2 671.2l20 20m0 -20l-20 20M1377.8 671.8l20 20m0 -20l-20 20M1381.5 670.0l20 20m0 -20l-20 20M1380.6 671.4l20 20m0 -20l-20 20M1381.9 670.2l20 20m0 -20l-20 20M1382.8 672.0l20 20m0 -20l-20 20M1385.1 671.3l20 20m0 -20l-20 20M1384.6 672.2l20 20m0 -20l-20 20M1387.3 670.8l20 20m0 -20l-20 20M1386.4 671.9l20 20m0 -20l-20 20M1388.7 670.9l20 20m0 -20l-20 20M1388.2 672.3l20 20m0 -20l-20 20M1391.4 670.6l20 20m0 -20l-20 20M1391.0 672.4l20 20m0 -20l-20 20M1393.2 671.5l20 20m0 -20l-20 20M1392.8 672.5l20 20m0 -20l-20 20M1395.0 669.7l20 20m0 -20l-20 20M1394.6 671.6l20 20m0 -20l-20 20M1396.8 670.7l20 20m0 -20l-20 20M1397.3 671.4l20 20m0 -20l-20 20M1397.7 668.6l20 20m0 -20l-20 20M1398.2 672.4l20 20m0 -20l-20 20M1399.6 670.1l20 20m0 -20l-20 20M1400.0 672.2l20 20m0 -20l-20 20M1402.7 670.2l20 20m0 -20l-20 20M1401.8 671.7l20 20m0 -20l-20 20M1403.6 670.9l20 20m0 -20l-20 20M1404.1 672.0l20 20m0 -20l-20 20M1406.3 669.8l20 20m0 -20l-20 20M1407.2 671.3l20 20m0 -20l-20 20M1408.6 670.2l20 20m0 -20l-20 20M1409.1 672.1l20 20m0 -20l-20 20M1409.5 670.8l20 20m0 -20l-20 20M1411.3 672.1l20 20m0 -20l-20 20M1412.7 670.0l20 20m0 -20l-20 20M1412.2 671.9l20 20m0 -20l-20 20M1413.6 669.9l20 20m0 -20l-20 20M1414.9 671.0l20 20m0 -20l-20 20M1417.2 670.7l20 20m0 -20l-20 20M1415.8 671.5l20 20m0 -20l-20 20M1419.5 670.4l20 20m0 -20l-20 20M1418.5 671.7l20 20m0 -20l-20 20M1419.9 670.0l20 20m0 -20l-20 20M1420.4 671.9l20 20m0 -20l-20 20M1422.2 670.6l20 20m0 -20l-20 20M1421.7 671.1l20 20m0 -20l-20 20M1424.0 670.2l20 20m0 -20l-20 20M1425.3 671.4l20 20m0 -20l-20 20M1425.8 669.4l20 20m0 -20l-20 20M1426.2 671.0l20 20m0 -20l-20 20M1428.5 669.2l20 20m0 -20l-20 20M1428.0 671.2l20 20m0 -20l-20 20M1430.8 669.3l20 20m0 -20l-20 20M1430.3 671.1l20 20m0 -20l-20 20M1431.7 668.3l20 20m0 -20l-20 20M1432.6 669.7l20 20m0 -20l-20 20M1434.8 667.9l20 20m0 -20l-20 20M1435.3 669.6l20 20m0 -20l-20 20M1436.2 667.9l20 20m0 -20l-20 20M1435.7 668.7l20 20m0 -20l-20 20M1438.0 665.5l20 20m0 -20l-20 20M1437.5 667.0l20 20m0 -20l-20 20M1440.7 662.7l20 20m0 -20l-20 20M1440.3 665.7l20 20m0 -20l-20 20M1443.4 659.0l20 20m0 -20l-20 20M1441.6 663.4l20 20m0 -20l-20 20M1445.2 648.8l20 20m0 -20l-20 20M1444.8 653.5l20 20m0 -20l-20 20M1443.9 656.9l20 20m0 -20l-20 20M1445.7 645.4l20 20m0 -20l-20 20M1454.3 645.0l20 20m0 -20l-20 20M1455.2 651.4l20 20m0 -20l-20 20M1455.6 654.5l20 20m0 -20l-20 20M1457.4 660.7l20 20m0 -20l-20 20M1457.9 660.1l20 20m0 -20l-20 20M1459.3 663.8l20 20m0 -20l-20 20M1459.7 663.8l20 20m0 -20l-20 20M1461.1 665.7l20 20m0 -20l-20 20M1461.5 664.8l20 20m0 -20l-20 20M1462.4 668.3l20 20m0 -20l-20 20M1464.2 667.6l20 20m0 -20l-20 20M1463.8 668.7l20 20m0 -20l-20 20M1466.5 668.2l20 20m0 -20l-20 20M1466.9 670.5l20 20m0 -20l-20 20M1467.8 668.6l20 20m0 -20l-20 20M1468.7 671.1l20 20m0 -20l-20 20M1469.7 669.5l20 20m0 -20l-20 20M1470.6 671.4l20 20m0 -20l-20 20M1472.8 669.5l20 20m0 -20l-20 20M1472.4 670.9l20 20m0 -20l-20 20M1474.2 670.6l20 20m0 -20l-20 20M1473.7 671.3l20 20m0 -20l-20 20M1475.5 669.9l20 20m0 -20l-20 20M1476.4 672.1l20 20m0 -20l-20 20M1477.8 671.0l20 20m0 -20l-20 20M1479.1 672.2l20 20m0 -20l-20 20M1481.0 670.5l20 20m0 -20l-20 20M1481.4 672.5l20 20m0 -20l-20 20M1483.2 670.5l20 20m0 -20l-20 20M1482.3 672.9l20 20m0 -20l-20 20M1485.0 670.4l20 20m0 -20l-20 20M1483.7 671.9l20 20m0 -20l-20 20M1486.4 671.5l20 20m0 -20l-20 20M1487.3 672.2l20 20m0 -20l-20 20M1487.7 671.1l20 20m0 -20l-20 20M1489.1 672.6l20 20m0 -20l-20 20M1491.4 670.5l20 20m0 -20l-20 20M1490.5 672.2l20 20m0 -20l-20 20M1491.8 671.2l20 20m0 -20l-20 20M1492.3 672.1l20 20m0 -20l-20 20M1494.5 671.6l20 20m0 -20l-20 20M1493.6 673.7l20 20m0 -20l-20 20M1496.3 670.8l20 20m0 -20l-20 20M1497.2 671.7l20 20m0 -20l-20 20M1497.7 670.5l20 20m0 -20l-20 20M1499.0 672.5l20 20m0 -20l-20 20M1500.4 671.3l20 20m0 -20l-20 20M1500.9 672.6l20 20m0 -20l-20 20M1502.2 671.4l20 20m0 -20l-20 20M1503.1 672.6l20 20m0 -20l-20 20M1504.9 671.6l20 20m0 -20l-20 20M1504.5 672.5l20 20m0 -20l-20 20M1505.8 671.3l20 20m0 -20l-20 20M1506.7 672.2l20 20m0 -20l-20 20M1509.5 671.0l20 20m0 -20l-20 20M1508.5 672.9l20 20m0 -20l-20 20M1509.9 671.4l20 20m0 -20l-20 20M1511.3 673.2l20 20m0 -20l-20 20M1511.7 670.9l20 20m0 -20l-20 20M1513.1 672.6l20 20m0 -20l-20 20M1515.3 671.8l20 20m0 -20l-20 20M1513.5 673.2l20 20m0 -20l-20 20M1516.7 671.8l20 20m0 -20l-20 20M1516.2 673.1l20 20m0 -20l-20 20M1518.0 671.7l20 20m0 -20l-20 20M1519.4 673.1l20 20m0 -20l-20 20M1520.8 671.9l20 20m0 -20l-20 20M1521.2 672.7l20 20m0 -20l-20 20M1521.7 671.6l20 20m0 -20l-20 20M1523.5 672.8l20 20m0 -20l-20 20M1523.9 670.9l20 20m0 -20l-20 20M1524.4 672.5l20 20m0 -20l-20 20M1525.7 671.4l20 20m0 -20l-20 20M1527.1 672.7l20 20m0 -20l-20 20M1528.9 671.5l20 20m0 -20l-20 20M1528.0 672.9l20 20m0 -20l-20 20M1531.2 672.0l20 20m0 -20l-20 20M1529.8 672.5l20 20m0 -20l-20 20M1532.1 671.4l20 20m0 -20l-20 20M1531.6 673.0l20 20m0 -20l-20 20M1534.3 671.6l20 20m0 -20l-20 20M1535.2 672.3l20 20m0 -20l-20 20M1536.1 671.5l20 20m0 -20l-20 20M1536.6 674.2l20 20m0 -20l-20 20M1537.9 671.7l20 20m0 -20l-20 20M1538.4 672.8l20 20m0 -20l-20 20M1540.2 671.7l20 20m0 -20l-20 20M1541.1 672.6l20 20m0 -20l-20 20M1543.4 672.5l20 20m0 -20l-20 20M1541.6 673.7l20 20m0 -20l-20 20M1544.7 672.0l20 20m0 -20l-20 20M1544.3 674.2l20 20m0 -20l-20 20M1545.6 671.8l20 20m0 -20l-20 20M1546.1 673.7l20 20m0 -20l-20 20M1548.8 672.0l20 20m0 -20l-20 20M1549.2 673.2l20 20m0 -20l-20 20M1550.6 671.9l20 20m0 -20l-20 20M1551.1 673.6l20 20m0 -20l-20 20M1553.3 672.1l20 20m0 -20l-20 20M1551.5 673.2l20 20m0 -20l-20 20M1553.8 671.9l20 20m0 -20l-20 20M1554.2 672.5l20 20m0 -20l-20 20M1555.6 672.2l20 20m0 -20l-20 20M1556.5 674.1l20 20m0 -20l-20 20M1558.3 671.5l20 20m0 -20l-20 20M1557.8 673.1l20 20m0 -20l-20 20M1561.5 672.2l20 20m0 -20l-20 20M1560.1 672.8l20 20m0 -20l-20 20M1562.4 671.8l20 20m0 -20l-20 20M1562.8 673.5l20 20m0 -20l-20 20M1564.2 671.7l20 20m0 -20l-20 20M1564.6 672.9l20 20m0 -20l-20 20M1567.3 671.2l20 20m0 -20l-20 20M1566.9 673.3l20 20m0 -20l-20 20M1567.8 672.7l20 20m0 -20l-20 20M1568.2 673.5l20 20m0 -20l-20 20M1570.5 672.1l20 20m0 -20l-20 20M1569.6 673.2l20 20m0 -20l-20 20M1572.3 671.8l20 20m0 -20l-20 20M1571.9 673.1l20 20m0 -20l-20 20M1574.6 672.6l20 20m0 -20l-20 20M1573.7 674.0l20 20m0 -20l-20 20M1576.8 672.1l20 20m0 -20l-20 20M1577.3 673.3l20 20m0 -20l-20 20M1579.1 673.0l20 20m0 -20l-20 20M1578.2 673.6l20 20m0 -20l-20 20M1580.0 671.9l20 20m0 -20l-20 20M1580.5 672.8l20 20m0 -20l-20 20M1582.3 671.6l20 20m0 -20l-20 20M1582.7 673.7l20 20m0 -20l-20 20M1585.4 672.4l20 20m0 -20l-20 20M1584.5 673.3l20 20m0 -20l-20 20M1587.2 672.6l20 20m0 -20l-20 20M1586.3 673.4l20 20m0 -20l-20 20M1589.0 667.5l20 20m0 -20l-20 20M1588.6 672.2l20 20m0 -20l-20 20M1588.1 673.2l20 20m0 -20l-20 20M1591.3 672.8l20 20m0 -20l-20 20M1590.9 673.2l20 20m0 -20l-20 20M1593.1 672.4l20 20m0 -20l-20 20M1592.7 672.9l20 20m0 -20l-20 20M1594.9 672.4l20 20m0 -20l-20 20M1594.0 674.5l20 20m0 -20l-20 20M1596.7 672.4l20 20m0 -20l-20 20M1597.2 673.3l20 20m0 -20l-20 20M1598.1 673.0l20 20m0 -20l-20 20M1599.4 673.9l20 20m0 -20l-20 20M1600.4 672.9l20 20m0 -20l-20 20M1600.8 673.9l20 20m0 -20l-20 20M1603.1 672.5l20 20m0 -20l-20 20M1602.2 673.7l20 20m0 -20l-20 20M1604.9 672.6l20 20m0 -20l-20 20M1604.0 673.6l20 20m0 -20l-20 20M1606.2 672.0l20 20m0 -20l-20 20M1607.1 673.7l20 20m0 -20l-20 20M1609.4 672.8l20 20m0 -20l-20 20M1608.9 674.3l20 20m0 -20l-20 20M1611.2 673.1l20 20m0 -20l-20 20M1610.8 673.6l20 20m0 -20l-20 20M1611.7 671.7l20 20m0 -20l-20 20M1612.1 674.1l20 20m0 -20l-20 20M1615.3 672.6l20 20m0 -20l-20 20M1614.8 674.2l20 20m0 -20l-20 20M1616.2 673.0l20 20m0 -20l-20 20M1616.6 673.9l20 20m0 -20l-20 20M1618.9 672.5l20 20m0 -20l-20 20M1618.0 673.6l20 20m0 -20l-20 20M1619.8 672.7l20 20m0 -20l-20 20M1621.2 673.9l20 20m0 -20l-20 20M1622.5 672.0l20 20m0 -20l-20 20M1623.4 674.1l20 20m0 -20l-20 20M1624.8 672.1l20 20m0 -20l-20 20M1625.2 673.5l20 20m0 -20l-20 20M1627.0 672.9l20 20m0 -20l-20 20M1626.1 673.7l20 20m0 -20l-20 20M1628.8 673.0l20 20m0 -20l-20 20M1629.3 673.9l20 20m0 -20l-20 20M1630.2 673.0l20 20m0 -20l-20 20M1631.1 674.0l20 20m0 -20l-20 20M1632.5 672.4l20 20m0 -20l-20 20M1632.0 673.9l20 20m0 -20l-20 20M1634.3 672.4l20 20m0 -20l-20 20M1635.2 673.8l20 20m0 -20l-20 20M1635.6 672.3l20 20m0 -20l-20 20M1636.5 674.2l20 20m0 -20l-20 20M1638.3 672.2l20 20m0 -20l-20 20M1638.8 673.0l20 20m0 -20l-20 20M1639.7 672.5l20 20m0 -20l-20 20M1641.1 673.6l20 20m0 -20l-20 20M1643.3 672.3l20 20m0 -20l-20 20M1642.4 673.9l20 20m0 -20l-20 20M1644.7 672.2l20 20m0 -20l-20 20M1643.8 674.1l20 20m0 -20l-20 20M1646.9 672.5l20 20m0 -20l-20 20M1647.4 674.4l20 20m0 -20l-20 20M1649.2 672.6l20 20m0 -20l-20 20M1648.3 674.0l20 20m0 -20l-20 20M1650.1 672.2l20 20m0 -20l-20 20M1650.6 673.9l20 20m0 -20l-20 20M1652.4 671.6l20 20m0 -20l-20 20M1652.8 673.2l20 20m0 -20l-20 20M1654.6 671.6l20 20m0 -20l-20 20M1653.7 673.1l20 20m0 -20l-20 20M1657.3 671.9l20 20m0 -20l-20 20M1656.0 672.6l20 20m0 -20l-20 20M1659.1 672.1l20 20m0 -20l-20 20M1658.7 673.8l20 20m0 -20l-20 20M1661.0 670.6l20 20m0 -20l-20 20M1660.0 673.1l20 20m0 -20l-20 20M1662.8 672.0l20 20m0 -20l-20 20M1661.9 672.5l20 20m0 -20l-20 20M1665.5 671.2l20 20m0 -20l-20 20M1665.0 672.4l20 20m0 -20l-20 20M1667.3 664.9l20 20m0 -20l-20 20M1666.8 669.9l20 20m0 -20l-20 20M1665.9 672.1l20 20m0 -20l-20 20M1668.6 670.1l20 20m0 -20l-20 20M1669.1 671.4l20 20m0 -20l-20 20M1670.9 667.5l20 20m0 -20l-20 20M1669.5 670.2l20 20m0 -20l-20 20M1673.2 666.2l20 20m0 -20l-20 20M1671.8 668.0l20 20m0 -20l-20 20M1675.4 659.9l20 20m0 -20l-20 20M1674.5 664.3l20 20m0 -20l-20 20M1673.6 665.9l20 20m0 -20l-20 20M1677.2 649.6l20 20m0 -20l-20 20M1676.3 657.9l20 20m0 -20l-20 20M1675.9 660.3l20 20m0 -20l-20 20M1683.1 648.9l20 20m0 -20l-20 20M1683.6 653.3l20 20m0 -20l-20 20M1684.5 658.9l20 20m0 -20l-20 20M1685.4 660.1l20 20m0 -20l-20 20M1685.8 662.5l20 20m0 -20l-20 20M1687.2 665.3l20 20m0 -20l-20 20M1689.0 665.8l20 20m0 -20l-20 20M1688.1 668.0l20 20m0 -20l-20 20M1689.9 666.8l20 20m0 -20l-20 20M1691.3 668.3l20 20m0 -20l-20 20M1692.6 665.8l20 20m0 -20l-20 20M1692.2 667.1l20 20m0 -20l-20 20M1695.3 651.9l20 20m0 -20l-20 20M1694.9 657.3l20 20m0 -20l-20 20M1694.0 661.5l20 20m0 -20l-20 20M1693.5 662.7l20 20m0 -20l-20 20M1697.1 640.3l20 20m0 -20l-20 20M1695.8 647.0l20 20m0 -20l-20 20M1697.6 641.6l20 20m0 -20l-20 20M1698.5 648.9l20 20m0 -20l-20 20M1699.4 649.8l20 20m0 -20l-20 20M1701.2 619.3l20 20m0 -20l-20 20M1700.8 628.3l20 20m0 -20l-20 20M1700.3 639.4l20 20m0 -20l-20 20M1699.8 646.9l20 20m0 -20l-20 20M1702.1 606.6l20 20m0 -20l-20 20M1702.6 612.1l20 20m0 -20l-20 20M1703.0 625.4l20 20m0 -20l-20 20M1703.5 639.6l20 20m0 -20l-20 20M1703.9 649.0l20 20m0 -20l-20 20M1704.4 658.8l20 20m0 -20l-20 20M1705.3 664.5l20 20m0 -20l-20 20M1706.2 666.6l20 20m0 -20l-20 20M1706.6 669.0l20 20m0 -20l-20 20M1707.5 669.6l20 20m0 -20l-20 20M1708.0 671.6l20 20m0 -20l-20 20M1710.2 671.7l20 20m0 -20l-20 20M1709.8 673.5l20 20m0 -20l-20 20M1711.6 671.3l20 20m0 -20l-20 20M1712.5 672.8l20 20m0 -20l-20 20M1714.3 672.1l20 20m0 -20l-20 20M1715.2 673.3l20 20m0 -20l-20 20M1716.6 672.1l20 20m0 -20l-20 20M1717.0 673.2l20 20m0 -20l-20 20M1719.3 672.3l20 20m0 -20l-20 20M1718.8 673.7l20 20m0 -20l-20 20M1720.2 672.6l20 20m0 -20l-20 20M1720.7 674.4l20 20m0 -20l-20 20M1721.6 672.5l20 20m0 -20l-20 20M1722.9 674.4l20 20m0 -20l-20 20M1725.2 671.6l20 20m0 -20l-20 20M1723.8 673.5l20 20m0 -20l-20 20M1725.6 672.9l20 20m0 -20l-20 20M1727.0 674.4l20 20m0 -20l-20 20M1727.9 672.4l20 20m0 -20l-20 20M1729.2 673.6l20 20m0 -20l-20 20M1730.1 671.7l20 20m0 -20l-20 20M1729.7 674.6l20 20m0 -20l-20 20M1732.9 672.3l20 20m0 -20l-20 20M1732.0 674.5l20 20m0 -20l-20 20M1733.8 673.7l20 20m0 -20l-20 20M1735.1 674.4l20 20m0 -20l-20 20M1735.6 673.5l20 20m0 -20l-20 20M1737.4 674.6l20 20m0 -20l-20 20M1738.3 672.4l20 20m0 -20l-20 20M1737.8 674.1l20 20m0 -20l-20 20M1740.1 672.6l20 20m0 -20l-20 20M1740.6 673.4l20 20m0 -20l-20 20M1742.4 673.0l20 20m0 -20l-20 20M1741.9 674.1l20 20m0 -20l-20 20M1745.1 672.7l20 20m0 -20l-20 20M1744.6 674.3l20 20m0 -20l-20 20M1746.9 673.7l20 20m0 -20l-20 20M1746.0 674.3l20 20m0 -20l-20 20M1749.1 672.2l20 20m0 -20l-20 20M1748.7 674.2l20 20m0 -20l-20 20M1749.6 672.9l20 20m0 -20l-20 20M1751.0 674.4l20 20m0 -20l-20 20M1752.3 672.6l20 20m0 -20l-20 20M1753.2 673.6l20 20m0 -20l-20 20M1753.7 672.4l20 20m0 -20l-20 20M1754.6 673.8l20 20m0 -20l-20 20M1755.9 673.1l20 20m0 -20l-20 20M1756.4 674.5l20 20m0 -20l-20 20M1758.6 671.4l20 20m0 -20l-20 20M1759.1 673.0l20 20m0 -20l-20 20M1760.0 672.0l20 20m0 -20l-20 20M1759.5 673.9l20 20m0 -20l-20 20M1762.7 671.0l20 20m0 -20l-20 20M1761.8 673.2l20 20m0 -20l-20 20M1765.4 671.2l20 20m0 -20l-20 20M1765.0 673.2l20 20m0 -20l-20 20M1766.8 669.5l20 20m0 -20l-20 20M1765.9 671.6l20 20m0 -20l-20 20M1769.5 670.5l20 20m0 -20l-20 20M1767.7 672.1l20 20m0 -20l-20 20M1771.3 667.7l20 20m0 -20l-20 20M1770.9 669.0l20 20m0 -20l-20 20M1773.1 666.2l20 20m0 -20l-20 20M1771.8 668.1l20 20m0 -20l-20 20M1773.6 660.1l20 20m0 -20l-20 20M1774.0 664.6l20 20m0 -20l-20 20M1777.2 648.4l20 20m0 -20l-20 20M1776.3 655.0l20 20m0 -20l-20 20M1775.8 658.3l20 20m0 -20l-20 20M1784.9 649.3l20 20m0 -20l-20 20M1785.3 654.1l20 20m0 -20l-20 20M1785.8 649.5l20 20m0 -20l-20 20M1786.2 658.5l20 20m0 -20l-20 20M1787.1 661.6l20 20m0 -20l-20 20M1787.6 663.2l20 20m0 -20l-20 20M1789.4 666.5l20 20m0 -20l-20 20M1790.8 665.3l20 20m0 -20l-20 20M1790.3 669.4l20 20m0 -20l-20 20M1791.7 669.0l20 20m0 -20l-20 20M1793.0 671.0l20 20m0 -20l-20 20M1795.3 670.3l20 20m0 -20l-20 20M1794.4 670.6l20 20m0 -20l-20 20M1796.2 671.1l20 20m0 -20l-20 20M1796.6 672.9l20 20m0 -20l-20 20M1798.9 671.9l20 20m0 -20l-20 20M1799.3 672.4l20 20m0 -20l-20 20M1800.7 672.2l20 20m0 -20l-20 20M1800.2 673.7l20 20m0 -20l-20 20M1801.6 671.7l20 20m0 -20l-20 20M1802.1 673.6l20 20m0 -20l-20 20M1803.9 672.2l20 20m0 -20l-20 20M1805.2 673.1l20 20m0 -20l-20 20M1807.0 673.1l20 20m0 -20l-20 20M1805.7 674.6l20 20m0 -20l-20 20M1808.4 672.7l20 20m0 -20l-20 20M1809.3 673.7l20 20m0 -20l-20 20M1810.2 672.8l20 20m0 -20l-20 20M1811.1 674.9l20 20m0 -20l-20 20M1813.4 672.4l20 20m0 -20l-20 20M1812.0 674.9l20 20m0 -20l-20 20M1814.3 673.1l20 20m0 -20l-20 20M1813.8 674.3l20 20m0 -20l-20 20M1817.0 673.1l20 20m0 -20l-20 20M1816.5 675.4l20 20m0 -20l-20 20M1818.8 672.6l20 20m0 -20l-20 20M1817.9 673.8l20 20m0 -20l-20 20M1821.1 670.3l20 20m0 -20l-20 20M1820.1 674.4l20 20m0 -20l-20 20M1822.0 672.4l20 20m0 -20l-20 20M1823.3 674.8l20 20m0 -20l-20 20M1823.8 672.9l20 20m0 -20l-20 20M1824.2 674.2l20 20m0 -20l-20 20M1826.5 673.8l20 20m0 -20l-20 20M1826.9 674.4l20 20m0 -20l-20 20M1829.2 672.3l20 20m0 -20l-20 20M1828.3 673.4l20 20m0 -20l-20 20M1831.5 668.8l20 20m0 -20l-20 20M1829.6 671.8l20 20m0 -20l-20 20M1833.3 657.0l20 20m0 -20l-20 20M1832.8 662.0l20 20m0 -20l-20 20M1832.4 667.3l20 20m0 -20l-20 20M1831.9 668.0l20 20m0 -20l-20 20M1835.1 636.1l20 20m0 -20l-20 20M1834.6 643.8l20 20m0 -20l-20 20M1834.2 649.1l20 20m0 -20l-20 20M1833.7 654.2l20 20m0 -20l-20 20M1835.5 633.4l20 20m0 -20l-20 20M1836.9 639.9l20 20m0 -20l-20 20M1837.3 643.0l20 20m0 -20l-20 20M1837.8 651.8l20 20m0 -20l-20 20M1838.2 656.3l20 20m0 -20l-20 20M1839.1 666.7l20 20m0 -20l-20 20M1839.6 666.5l20 20m0 -20l-20 20M1840.5 670.9l20 20m0 -20l-20 20M1841.4 671.4l20 20m0 -20l-20 20M1842.3 671.6l20 20m0 -20l-20 20M1841.9 673.1l20 20m0 -20l-20 20M1844.1 673.1l20 20m0 -20l-20 20M1843.7 674.1l20 20m0 -20l-20 20M1846.4 672.7l20 20m0 -20l-20 20M1847.3 674.3l20 20m0 -20l-20 20M1848.6 673.7l20 20m0 -20l-20 20M1848.2 674.6l20 20m0 -20l-20 20M1850.4 673.4l20 20m0 -20l-20 20M1850.9 675.5l20 20m0 -20l-20 20M1852.3 674.0l20 20m0 -20l-20 20M1853.2 674.7l20 20m0 -20l-20 20M1854.1 674.3l20 20m0 -20l-20 20M1854.5 675.1l20 20m0 -20l-20 20M1856.3 674.4l20 20m0 -20l-20 20M1856.8 675.2l20 20m0 -20l-20 20M1859.0 674.1l20 20m0 -20l-20 20M1857.7 675.9l20 20m0 -20l-20 20M1861.3 674.1l20 20m0 -20l-20 20M1860.8 675.5l20 20m0 -20l-20 20M1862.7 669.5l20 20m0 -20l-20 20M1861.8 675.2l20 20m0 -20l-20 20M1863.1 675.6l20 20m0 -20l-20 20M1864.9 674.2l20 20m0 -20l-20 20M1863.6 675.8l20 20m0 -20l-20 20M1866.7 674.6l20 20m0 -20l-20 20M1865.8 675.2l20 20m0 -20l-20 20M1868.1 675.0l20 20m0 -20l-20 20M1869.0 675.9l20 20m0 -20l-20 20M1870.8 674.2l20 20m0 -20l-20 20M1871.3 675.4l20 20m0 -20l-20 20M1871.7 674.4l20 20m0 -20l-20 20M1872.2 676.0l20 20m0 -20l-20 20M1874.0 674.3l20 20m0 -20l-20 20M1875.3 676.2l20 20m0 -20l-20 20M1875.8 674.0l20 20m0 -20l-20 20M1876.7 675.4l20 20m0 -20l-20 20M1877.6 673.8l20 20m0 -20l-20 20M1878.0 676.1l20 20m0 -20l-20 20M1881.2 674.2l20 20m0 -20l-20 20M1880.7 675.5l20 20m0 -20l-20 20M1882.6 675.3l20 20m0 -20l-20 20M1883.0 676.1l20 20m0 -20l-20 20M1884.8 673.2l20 20m0 -20l-20 20M1884.4 675.6l20 20m0 -20l-20 20M1887.1 674.5l20 20m0 -20l-20 20M1886.6 675.2l20 20m0 -20l-20 20M1887.5 675.0l20 20m0 -20l-20 20M1888.9 676.1l20 20m0 -20l-20 20M1889.8 674.5l20 20m0 -20l-20 20M1891.1 676.3l20 20m0 -20l-20 20M1893.4 673.7l20 20m0 -20l-20 20M1892.1 675.7l20 20m0 -20l-20 20M1893.9 674.6l20 20m0 -20l-20 20M1894.3 675.3l20 20m0 -20l-20 20M1896.6 674.6l20 20m0 -20l-20 20M1896.1 677.0l20 20m0 -20l-20 20M1897.9 675.2l20 20m0 -20l-20 20M1898.4 676.2l20 20m0 -20l-20 20M1899.7 674.4l20 20m0 -20l-20 20M1901.1 676.3l20 20m0 -20l-20 20M1903.4 674.4l20 20m0 -20l-20 20M1902.9 675.6l20 20m0 -20l-20 20M1904.3 674.7l20 20m0 -20l-20 20M1904.7 676.4l20 20m0 -20l-20 20M1906.5 674.9l20 20m0 -20l-20 20M1905.6 676.4l20 20m0 -20l-20 20M1908.8 674.5l20 20m0 -20l-20 20M1909.2 676.6l20 20m0 -20l-20 20M1910.1 675.0l20 20m0 -20l-20 20M1910.6 675.9l20 20m0 -20l-20 20M1912.0 674.8l20 20m0 -20l-20 20M1912.9 675.9l20 20m0 -20l-20 20M1913.8 675.3l20 20m0 -20l-20 20M1914.7 676.4l20 20m0 -20l-20 20M1915.6 675.0l20 20m0 -20l-20 20M1916.5 676.1l20 20m0 -20l-20 20M1917.8 674.9l20 20m0 -20l-20 20M1918.3 677.2l20 20m0 -20l-20 20M1920.5 675.1l20 20m0 -20l-20 20M1920.1 676.0l20 20m0 -20l-20 20M1923.3 674.9l20 20m0 -20l-20 20M1921.9 676.3l20 20m0 -20l-20 20M1924.6 674.0l20 20m0 -20l-20 20M1925.1 675.6l20 20m0 -20l-20 20M1926.4 674.4l20 20m0 -20l-20 20M1927.3 676.2l20 20m0 -20l-20 20M1927.8 675.4l20 20m0 -20l-20 20M1928.2 676.3l20 20m0 -20l-20 20M1930.0 674.7l20 20m0 -20l-20 20M1930.5 676.6l20 20m0 -20l-20 20M1932.8 675.3l20 20m0 -20l-20 20M1932.3 676.3l20 20m0 -20l-20 20M1934.6 674.2l20 20m0 -20l-20 20M1935.5 676.7l20 20m0 -20l-20 20M1936.4 675.3l20 20m0 -20l-20 20M1936.8 675.7l20 20m0 -20l-20 20M1937.7 674.1l20 20m0 -20l-20 20M1939.1 676.1l20 20m0 -20l-20 20M1939.5 674.3l20 20m0 -20l-20 20M1941.3 676.2l20 20m0 -20l-20 20M1943.2 675.2l20 20m0 -20l-20 20M1942.3 675.8l20 20m0 -20l-20 20M1945.0 675.1l20 20m0 -20l-20 20M1945.4 676.5l20 20m0 -20l-20 20M1945.9 675.6l20 20m0 -20l-20 20M1946.8 676.0l20 20m0 -20l-20 20M1949.5 674.7l20 20m0 -20l-20 20M1948.6 676.6l20 20m0 -20l-20 20M1951.3 674.6l20 20m0 -20l-20 20M1950.8 675.2l20 20m0 -20l-20 20M1952.7 674.6l20 20m0 -20l-20 20M1953.1 676.1l20 20m0 -20l-20 20M1954.9 673.7l20 20m0 -20l-20 20M1954.0 675.3l20 20m0 -20l-20 20M1955.8 674.4l20 20m0 -20l-20 20M1957.2 675.1l20 20m0 -20l-20 20M1959.4 673.8l20 20m0 -20l-20 20M1957.6 674.9l20 20m0 -20l-20 20M1961.2 670.1l20 20m0 -20l-20 20M1959.9 673.3l20 20m0 -20l-20 20M1963.1 658.6l20 20m0 -20l-20 20M1962.2 665.0l20 20m0 -20l-20 20M1961.7 667.7l20 20m0 -20l-20 20M1964.9 638.2l20 20m0 -20l-20 20M1964.4 646.6l20 20m0 -20l-20 20M1963.5 654.3l20 20m0 -20l-20 20M1965.8 642.0l20 20m0 -20l-20 20M1966.2 646.1l20 20m0 -20l-20 20M1966.7 651.1l20 20m0 -20l-20 20M1967.1 656.3l20 20m0 -20l-20 20M1967.6 662.1l20 20m0 -20l-20 20M1968.5 666.7l20 20m0 -20l-20 20M1969.4 670.5l20 20m0 -20l-20 20M1969.8 671.5l20 20m0 -20l-20 20M1970.7 672.8l20 20m0 -20l-20 20M1972.1 673.0l20 20m0 -20l-20 20M1972.6 674.3l20 20m0 -20l-20 20M1974.4 674.5l20 20m0 -20l-20 20M1973.9 675.6l20 20m0 -20l-20 20M1976.2 674.9l20 20m0 -20l-20 20M1975.7 676.0l20 20m0 -20l-20 20M1977.5 674.6l20 20m0 -20l-20 20M1978.0 675.9l20 20m0 -20l-20 20M1981.1 675.0l20 20m0 -20l-20 20M1980.2 676.9l20 20m0 -20l-20 20M1982.1 674.5l20 20m0 -20l-20 20M1981.6 676.2l20 20m0 -20l-20 20M1984.8 673.3l20 20m0 -20l-20 20M1985.2 675.1l20 20m0 -20l-20 20M1987.0 675.3l20 20m0 -20l-20 20M1986.6 677.1l20 20m0 -20l-20 20M1989.3 675.0l20 20m0 -20l-20 20M1988.4 675.9l20 20m0 -20l-20 20M1990.6 674.4l20 20m0 -20l-20 20M1991.1 676.3l20 20m0 -20l-20 20M1991.5 675.3l20 20m0 -20l-20 20M1992.9 676.7l20 20m0 -20l-20 20M1995.2 674.7l20 20m0 -20l-20 20M1993.8 676.3l20 20m0 -20l-20 20M1996.5 674.0l20 20m0 -20l-20 20M1996.1 676.2l20 20m0 -20l-20 20M1998.8 674.4l20 20m0 -20l-20 20M1997.9 675.7l20 20m0 -20l-20 20M2000.6 675.6l20 20m0 -20l-20 20M2001.0 677.0l20 20m0 -20l-20 20M2002.9 675.1l20 20m0 -20l-20 20M2003.3 676.0l20 20m0 -20l-20 20M2004.2 673.0l20 20m0 -20l-20 20M2004.7 676.6l20 20m0 -20l-20 20M2006.5 675.6l20 20m0 -20l-20 20M2007.4 676.6l20 20m0 -20l-20 20M2008.3 675.5l20 20m0 -20l-20 20M2007.8 676.3l20 20m0 -20l-20 20M2010.1 674.8l20 20m0 -20l-20 20M2011.0 676.5l20 20m0 -20l-20 20M2011.9 675.4l20 20m0 -20l-20 20M2012.8 676.7l20 20m0 -20l-20 20M2014.2 675.6l20 20m0 -20l-20 20M2014.6 676.2l20 20m0 -20l-20 20M2016.4 674.4l20 20m0 -20l-20 20M2017.3 675.8l20 20m0 -20l-20 20M2018.2 674.4l20 20m0 -20l-20 20M2019.1 676.4l20 20m0 -20l-20 20M2021.4 673.8l20 20m0 -20l-20 20M2020.5 676.6l20 20m0 -20l-20 20M2022.8 674.8l20 20m0 -20l-20 20M2022.3 676.4l20 20m0 -20l-20 20M2024.6 674.5l20 20m0 -20l-20 20M2023.7 676.0l20 20m0 -20l-20 20M2027.3 674.1l20 20m0 -20l-20 20M2025.9 675.8l20 20m0 -20l-20 20M2028.6 673.5l20 20m0 -20l-20 20M2029.1 676.1l20 20m0 -20l-20 20M2031.3 672.8l20 20m0 -20l-20 20M2030.4 675.0l20 20m0 -20l-20 20M2033.2 670.5l20 20m0 -20l-20 20M2032.3 674.2l20 20m0 -20l-20 20M2035.4 666.1l20 20m0 -20l-20 20M2034.1 670.4l20 20m0 -20l-20 20M2037.2 653.0l20 20m0 -20l-20 20M2036.8 658.0l20 20m0 -20l-20 20M2035.9 661.2l20 20m0 -20l-20 20M2038.6 646.5l20 20m0 -20l-20 20M2038.1 650.0l20 20m0 -20l-20 20M2040.4 648.9l20 20m0 -20l-20 20M2041.3 652.2l20 20m0 -20l-20 20M2043.1 638.5l20 20m0 -20l-20 20M2042.2 647.6l20 20m0 -20l-20 20M2041.7 649.5l20 20m0 -20l-20 20M2044.9 624.1l20 20m0 -20l-20 20M2044.0 628.3l20 20m0 -20l-20 20M2043.6 635.3l20 20m0 -20l-20 20M2045.8 628.4l20 20m0 -20l-20 20M2046.3 636.0l20 20m0 -20l-20 20M2047.2 646.0l20 20m0 -20l-20 20M2047.6 651.6l20 20m0 -20l-20 20M2048.1 656.5l20 20m0 -20l-20 20M2049.0 663.3l20 20m0 -20l-20 20M2049.4 664.3l20 20m0 -20l-20 20M2049.9 666.1l20 20m0 -20l-20 20M2051.2 671.6l20 20m0 -20l-20 20M2050.8 672.2l20 20m0 -20l-20 20M2051.7 672.3l20 20m0 -20l-20 20M2052.2 673.4l20 20m0 -20l-20 20M2054.0 673.1l20 20m0 -20l-20 20M2054.9 675.3l20 20m0 -20l-20 20M2056.2 674.3l20 20m0 -20l-20 20M2055.8 675.8l20 20m0 -20l-20 20M2058.5 674.4l20 20m0 -20l-20 20M2058.9 675.8l20 20m0 -20l-20 20M2060.7 674.7l20 20m0 -20l-20 20M2061.2 676.4l20 20m0 -20l-20 20M2061.6 675.0l20 20m0 -20l-20 20M2063.5 676.7l20 20m0 -20l-20 20M2065.3 674.7l20 20m0 -20l-20 20M2064.4 677.1l20 20m0 -20l-20 20M2065.7 675.8l20 20m0 -20l-20 20M2066.6 677.1l20 20m0 -20l-20 20M2068.9 676.0l20 20m0 -20l-20 20M2069.3 676.9l20 20m0 -20l-20 20M2070.2 675.8l20 20m0 -20l-20 20M2069.8 677.1l20 20m0 -20l-20 20M2073.0 675.8l20 20m0 -20l-20 20M2073.4 677.5l20 20m0 -20l-20 20M2074.3 675.6l20 20m0 -20l-20 20M2074.8 676.3l20 20m0 -20l-20 20M2077.5 675.4l20 20m0 -20l-20 20M2076.6 676.2l20 20m0 -20l-20 20M2079.3 674.7l20 20m0 -20l-20 20M2078.4 676.0l20 20m0 -20l-20 20M2080.6 674.2l20 20m0 -20l-20 20M2079.7 676.7l20 20m0 -20l-20 20M2083.4 671.8l20 20m0 -20l-20 20M2082.9 674.6l20 20m0 -20l-20 20M2085.2 667.2l20 20m0 -20l-20 20M2083.8 671.2l20 20m0 -20l-20 20M2087.4 649.1l20 20m0 -20l-20 20M2086.5 654.7l20 20m0 -20l-20 20M2086.1 659.9l20 20m0 -20l-20 20M2085.6 663.7l20 20m0 -20l-20 20M2087.9 647.9l20 20m0 -20l-20 20M2088.8 654.2l20 20m0 -20l-20 20M2089.2 658.7l20 20m0 -20l-20 20M2089.7 659.6l20 20m0 -20l-20 20M2090.1 665.3l20 20m0 -20l-20 20M2091.0 670.8l20 20m0 -20l-20 20M2091.5 671.3l20 20m0 -20l-20 20M2091.9 672.4l20 20m0 -20l-20 20M2093.3 675.5l20 20m0 -20l-20 20M2093.8 674.3l20 20m0 -20l-20 20M2094.2 675.6l20 20m0 -20l-20 20M2095.6 674.8l20 20m0 -20l-20 20M2096.0 676.5l20 20m0 -20l-20 20M2098.3 675.2l20 20m0 -20l-20 20M2098.7 676.6l20 20m0 -20l-20 20M2101.0 675.7l20 20m0 -20l-20 20M2099.6 677.2l20 20m0 -20l-20 20M2101.9 675.2l20 20m0 -20l-20 20M2102.8 676.8l20 20m0 -20l-20 20M2105.1 674.8l20 20m0 -20l-20 20M2104.2 677.2l20 20m0 -20l-20 20M2106.4 676.4l20 20m0 -20l-20 20M2106.0 677.5l20 20m0 -20l-20 20M2107.8 676.5l20 20m0 -20l-20 20M2108.2 677.2l20 20m0 -20l-20 20M2110.9 676.0l20 20m0 -20l-20 20M2111.4 677.2l20 20m0 -20l-20 20M2112.3 675.7l20 20m0 -20l-20 20M2112.8 677.1l20 20m0 -20l-20 20M2115.0 676.1l20 20m0 -20l-20 20M2114.1 678.0l20 20m0 -20l-20 20M2116.8 676.3l20 20m0 -20l-20 20M2117.3 677.5l20 20m0 -20l-20 20M2117.7 677.1l20 20m0 -20l-20 20M2118.6 677.7l20 20m0 -20l-20 20M2120.4 676.8l20 20m0 -20l-20 20M2121.3 678.1l20 20m0 -20l-20 20M2121.8 675.8l20 20m0 -20l-20 20M2122.7 676.3l20 20m0 -20l-20 20M2125.0 676.0l20 20m0 -20l-20 20M2124.1 677.6l20 20m0 -20l-20 20M2126.3 676.7l20 20m0 -20l-20 20M2127.2 677.5l20 20m0 -20l-20 20M2129.5 676.8l20 20m0 -20l-20 20M2129.0 678.4l20 20m0 -20l-20 20M2130.4 676.8l20 20m0 -20l-20 20M2131.3 678.3l20 20m0 -20l-20 20M2131.7 676.7l20 20m0 -20l-20 20M2132.2 678.1l20 20m0 -20l-20 20M2134.5 676.3l20 20m0 -20l-20 20M2134.9 677.8l20 20m0 -20l-20 20M2137.2 676.2l20 20m0 -20l-20 20M2135.8 677.4l20 20m0 -20l-20 20M2138.5 675.9l20 20m0 -20l-20 20M2139.4 677.8l20 20m0 -20l-20 20M2140.3 676.9l20 20m0 -20l-20 20M2141.2 678.0l20 20m0 -20l-20 20M2141.7 676.7l20 20m0 -20l-20 20M2143.1 678.0l20 20m0 -20l-20 20M2144.9 676.5l20 20m0 -20l-20 20M2143.5 678.1l20 20m0 -20l-20 20M2146.2 676.0l20 20m0 -20l-20 20M2145.8 677.7l20 20m0 -20l-20 20M2148.0 676.3l20 20m0 -20l-20 20M2148.9 678.3l20 20m0 -20l-20 20M2150.7 676.9l20 20m0 -20l-20 20M2151.2 677.8l20 20m0 -20l-20 20M2153.5 677.1l20 20m0 -20l-20 20M2152.6 677.9l20 20m0 -20l-20 20M2154.8 676.5l20 20m0 -20l-20 20M2155.3 677.8l20 20m0 -20l-20 20M2156.6 675.9l20 20m0 -20l-20 20M2156.2 678.0l20 20m0 -20l-20 20M2158.4 677.0l20 20m0 -20l-20 20M2159.3 677.9l20 20m0 -20l-20 20M2161.1 676.4l20 20m0 -20l-20 20M2159.8 676.9l20 20m0 -20l-20 20M2161.6 676.1l20 20m0 -20l-20 20M2162.0 677.5l20 20m0 -20l-20 20M2164.8 676.4l20 20m0 -20l-20 20M2163.9 678.1l20 20m0 -20l-20 20M2166.1 676.2l20 20m0 -20l-20 20M2167.5 677.4l20 20m0 -20l-20 20M2168.4 676.5l20 20m0 -20l-20 20M2167.9 678.0l20 20m0 -20l-20 20M2171.1 677.3l20 20m0 -20l-20 20M2169.7 678.2l20 20m0 -20l-20 20M2172.9 677.4l20 20m0 -20l-20 20M2171.5 678.3l20 20m0 -20l-20 20M2173.8 676.2l20 20m0 -20l-20 20M2174.7 677.8l20 20m0 -20l-20 20M2177.0 676.2l20 20m0 -20l-20 20M2176.5 678.8l20 20m0 -20l-20 20M2178.8 676.4l20 20m0 -20l-20 20M2177.9 677.7l20 20m0 -20l-20 20M2181.0 676.6l20 20m0 -20l-20 20M2179.7 678.1l20 20m0 -20l-20 20M2181.9 676.8l20 20m0 -20l-20 20M2182.9 678.4l20 20m0 -20l-20 20M2185.1 676.8l20 20m0 -20l-20 20M2184.2 678.0l20 20m0 -20l-20 20M2186.9 676.9l20 20m0 -20l-20 20M2187.4 677.7l20 20m0 -20l-20 20M2188.7 676.6l20 20m0 -20l-20 20M2188.3 678.0l20 20m0 -20l-20 20M2191.4 676.4l20 20m0 -20l-20 20M2189.6 677.6l20 20m0 -20l-20 20M2192.3 676.0l20 20m0 -20l-20 20M2191.9 677.7l20 20m0 -20l-20 20M2195.1 676.1l20 20m0 -20l-20 20M2193.7 678.1l20 20m0 -20l-20 20M2196.9 674.2l20 20m0 -20l-20 20M2196.0 676.7l20 20m0 -20l-20 20M2199.1 671.4l20 20m0 -20l-20 20M2198.2 673.4l20 20m0 -20l-20 20M2200.0 670.6l20 20m0 -20l-20 20M2201.4 673.7l20 20m0 -20l-20 20M2203.2 674.0l20 20m0 -20l-20 20M2202.7 675.5l20 20m0 -20l-20 20M2203.7 675.7l20 20m0 -20l-20 20M2204.6 677.9l20 20m0 -20l-20 20M2206.4 674.7l20 20m0 -20l-20 20M2207.3 675.9l20 20m0 -20l-20 20M2208.6 673.4l20 20m0 -20l-20 20M2207.7 675.0l20 20m0 -20l-20 20M2210.9 669.2l20 20m0 -20l-20 20M2209.5 672.5l20 20m0 -20l-20 20M2212.2 669.8l20 20m0 -20l-20 20M2213.2 672.4l20 20m0 -20l-20 20M2213.6 673.0l20 20m0 -20l-20 20M2215.4 675.8l20 20m0 -20l-20 20M2215.9 676.5l20 20m0 -20l-20 20M2217.2 678.2l20 20m0 -20l-20 20M2219.5 676.0l20 20m0 -20l-20 20M2218.1 677.5l20 20m0 -20l-20 20M2220.4 676.5l20 20m0 -20l-20 20M2221.3 677.8l20 20m0 -20l-20 20M2221.7 677.1l20 20m0 -20l-20 20M2223.1 678.0l20 20m0 -20l-20 20M2223.6 676.8l20 20m0 -20l-20 20M2224.5 678.8l20 20m0 -20l-20 20M2226.3 677.5l20 20m0 -20l-20 20M2225.8 677.9l20 20m0 -20l-20 20M2228.5 677.8l20 20m0 -20l-20 20M2227.6 678.7l20 20m0 -20l-20 20M2229.9 677.0l20 20m0 -20l-20 20M2231.2 678.0l20 20m0 -20l-20 20M2232.6 677.2l20 20m0 -20l-20 20M2233.1 678.3l20 20m0 -20l-20 20M2234.9 676.6l20 20m0 -20l-20 20M2235.3 678.7l20 20m0 -20l-20 20M2236.2 677.7l20 20m0 -20l-20 20M2237.1 678.6l20 20m0 -20l-20 20M2239.4 676.9l20 20m0 -20l-20 20M2237.6 678.7l20 20m0 -20l-20 20M2240.7 677.2l20 20m0 -20l-20 20M2239.8 678.6l20 20m0 -20l-20 20M1450.1 169.7l20 20m0 -20l-20 20M1449.5 330.1l20 20m0 -20l-20 20M1450.1 364.6l20 20m0 -20l-20 20M1448.5 540.6l20 20m0 -20l-20 20M1451.5 582.0l20 20m0 -20l-20 20M1448.0 627.0l20 20m0 -20l-20 20M1449.0 623.0l20 20m0 -20l-20 20M1680.2 514.7l20 20m0 -20l-20 20M1680.2 530.3l20 20m0 -20l-20 20M1680.2 552.7l20 20m0 -20l-20 20M1680.2 570.0l20 20m0 -20l-20 20M1680.5 595.8l20 20m0 -20l-20 20M1680.2 613.0l20 20m0 -20l-20 20M1679.5 627.0l20 20m0 -20l-20 20M1782.0 394.6l20 20m0 -20l-20 20M1782.0 471.3l20 20m0 -20l-20 20M1782.0 519.4l20 20m0 -20l-20 20M1782.0 604.0l20 20m0 -20l-20 20M1783.0 613.0l20 20m0 -20l-20 20M1782.0 635.0l20 20m0 -20l-20 20" stroke="#000" stroke-width="2.8" fill="none"/>
<polyline points="1348.00,683.5 1350.00,683.5 1352.00,683.5 1354.00,683.6 1356.00,683.6 1358.00,683.6 1360.00,683.6 1362.00,683.6 1364.00,683.6 1366.00,683.6 1368.00,683.7 1370.00,683.7 1372.00,683.7 1374.00,683.7 1376.00,683.7 1378.00,683.7 1380.00,683.8 1382.00,683.8 1384.00,683.8 1386.00,683.8 1388.00,683.8 1390.00,683.8 1392.00,683.8 1394.00,683.9 1396.00,683.9 1398.00,683.9 1400.00,683.9 1402.00,683.8 1404.00,683.8 1406.00,683.8 1408.00,683.8 1410.00,683.8 1412.00,683.9 1414.00,683.9 1416.00,683.9 1418.00,683.9 1420.00,683.9 1422.00,683.8 1424.00,683.8 1426.00,683.8 1428.00,683.8 1430.00,683.8 1432.00,683.7 1434.00,683.7 1436.00,683.6 1438.00,683.5 1440.00,683.4 1442.00,683.2 1444.00,683.0 1446.00,682.6 1448.00,682.0 1450.00,681.0 1450.25,680.9 1450.50,680.7 1450.75,680.5 1451.00,680.3 1451.25,680.1 1451.50,679.8 1451.75,679.6 1452.00,679.3 1452.25,679.0 1452.50,678.6 1452.75,678.2 1453.00,677.8 1453.25,677.3 1453.50,676.8 1453.75,676.3 1454.00,675.6 1454.25,674.9 1454.50,674.1 1454.75,673.1 1455.00,672.1 1455.25,670.8 1455.50,669.4 1455.75,667.8 1456.00,665.8 1456.25,663.4 1456.50,660.4 1456.75,656.4 1457.00,651.0 1457.25,643.4 1457.50,632.2 1457.75,615.9 1458.00,592.5 1458.25,560.0 1458.50,516.7 1458.75,462.1 1459.00,397.4 1459.25,326.4 1459.50,256.5 1459.75,198.9 1460.00,167.2 1460.25,170.9 1460.50,208.8 1460.75,270.0 1461.00,340.9 1461.25,411.0 1461.50,473.9 1461.75,526.3 1462.00,567.3 1462.25,597.9 1462.50,619.7 1462.75,634.8 1463.00,645.2 1463.25,652.3 1463.50,657.4 1463.75,661.1 1464.00,664.0 1464.25,666.3 1464.50,668.2 1464.75,669.8 1465.00,671.2 1465.25,672.4 1465.50,673.4 1465.75,674.3 1466.00,675.1 1466.25,675.8 1466.50,676.5 1466.75,677.0 1467.00,677.6 1467.25,678.0 1467.50,678.4 1467.75,678.8 1468.00,679.2 1468.25,679.5 1468.50,679.8 1468.75,680.0 1469.00,680.3 1469.25,680.5 1469.50,680.7 1469.75,680.9 1470.00,681.1 1470.25,681.2 1470.50,681.4 1470.75,681.5 1471.00,681.7 1471.25,681.8 1471.50,681.9 1471.75,682.0 1472.00,682.1 1472.25,682.2 1474.25,682.8 1476.25,683.2 1478.25,683.5 1480.25,683.7 1482.25,683.9 1484.25,684.0 1486.25,684.1 1488.25,684.2 1490.25,684.2 1492.25,684.3 1494.25,684.3 1496.25,684.4 1498.25,684.4 1500.25,684.5 1502.25,684.5 1504.25,684.5 1506.25,684.6 1508.25,684.6 1510.25,684.6 1512.25,684.7 1514.25,684.7 1516.25,684.7 1518.25,684.7 1520.25,684.8 1522.25,684.9 1524.25,684.9 1526.25,684.9 1528.25,684.9 1530.25,684.9 1532.25,684.9 1534.25,684.9 1536.25,685.0 1538.25,685.0 1540.25,685.0 1542.25,685.0 1544.25,685.0 1546.25,685.0 1548.25,685.1 1550.25,685.1 1552.25,685.1 1554.25,685.1 1556.25,685.1 1558.25,685.1 1560.25,685.1 1562.25,685.2 1564.25,685.2 1566.25,685.2 1568.25,685.2 1570.25,685.2 1572.25,685.2 1574.25,685.3 1576.25,685.3 1578.25,685.3 1580.25,685.3 1582.25,685.3 1584.25,685.3 1586.25,685.3 1588.25,685.4 1590.25,685.4 1592.25,685.4 1594.25,685.4 1596.25,685.4 1598.25,685.4 1600.25,685.5 1602.25,685.5 1604.25,685.5 1606.25,685.5 1608.25,685.5 1610.25,685.5 1612.25,685.5 1614.25,685.6 1616.25,685.6 1618.25,685.6 1620.25,685.6 1622.25,685.6 1624.25,685.6 1626.25,685.7 1628.25,685.7 1630.25,685.7 1632.25,685.7 1634.25,685.7 1636.25,685.7 1638.25,685.7 1640.25,685.7 1642.25,685.7 1644.25,685.7 1646.25,685.7 1648.25,685.7 1650.25,685.7 1652.25,685.7 1654.25,685.7 1656.25,685.7 1658.25,685.7 1660.25,685.7 1662.25,685.7 1664.25,685.7 1666.25,685.7 1668.25,685.7 1670.25,685.6 1672.25,685.5 1674.25,685.4 1676.25,685.3 1678.25,685.1 1678.50,685.0 1678.75,685.0 1679.00,685.0 1679.25,684.9 1679.50,684.9 1679.75,684.8 1680.00,684.8 1680.25,684.7 1680.50,684.6 1680.75,684.6 1681.00,684.5 1681.25,684.4 1681.50,684.3 1681.75,684.2 1682.00,684.1 1682.25,684.0 1682.50,683.9 1682.75,683.8 1683.00,683.6 1683.25,683.5 1683.50,683.3 1683.75,683.1 1684.00,682.9 1684.25,682.6 1684.50,682.3 1684.75,682.0 1685.00,681.7 1685.25,681.2 1685.50,680.8 1685.75,680.2 1686.00,679.5 1686.25,678.7 1686.50,677.7 1686.75,676.3 1687.00,674.4 1687.25,671.7 1687.50,668.0 1687.75,662.6 1688.00,655.3 1688.25,645.4 1688.50,632.6 1688.75,616.9 1689.00,598.6 1689.25,578.6 1689.50,558.6 1689.75,541.2 1690.00,529.6 1690.25,526.7 1690.50,533.3 1690.75,547.6 1691.00,566.4 1691.25,586.6 1691.50,606.1 1691.75,623.4 1692.00,637.9 1692.25,649.5 1692.50,658.3 1692.75,664.8 1693.00,669.4 1693.25,672.7 1693.50,675.0 1693.75,676.6 1694.00,677.8 1694.25,678.8 1694.50,679.5 1694.75,680.1 1695.00,680.6 1695.25,681.0 1695.50,681.4 1695.75,681.7 1696.00,682.0 1696.25,682.2 1696.50,682.4 1696.75,682.6 1697.00,682.7 1697.25,682.8 1697.50,683.0 1697.75,683.1 1698.00,683.1 1698.25,683.2 1698.50,683.2 1698.75,683.3 1699.00,683.3 1699.25,683.3 1699.50,683.3 1699.75,683.3 1700.00,683.2 1700.25,683.2 1700.50,683.1 1700.75,683.0 1701.00,682.9 1701.25,682.8 1701.50,682.6 1701.75,682.5 1702.00,682.2 1702.25,681.9 1702.50,681.6 1702.75,681.1 1703.00,680.6 1703.25,679.9 1703.50,679.1 1703.75,678.1 1704.00,677.0 1704.25,675.6 1704.50,674.0 1704.75,672.3 1705.00,670.2 1705.25,668.0 1705.50,665.7 1705.75,663.3 1706.00,660.9 1706.25,658.7 1706.50,656.9 1706.75,655.6 1707.00,655.1 1707.25,655.2 1707.50,656.0 1707.75,657.2 1708.00,658.8 1708.25,660.4 1708.50,661.9 1708.75,663.1 1709.00,663.7 1709.25,663.7 1709.50,662.8 1709.75,661.0 1710.00,658.2 1710.25,654.3 1710.50,649.4 1710.75,643.8 1711.00,637.6 1711.25,631.5 1711.50,626.2 1711.75,622.6 1712.00,621.5 1712.25,623.1 1712.50,627.3 1712.75,633.3 1713.00,640.0 1713.25,647.0 1713.50,653.6 1713.75,659.5 1714.00,664.6 1714.25,668.8 1714.50,672.3 1714.75,674.9 1715.00,677.0 1715.25,678.6 1715.50,679.7 1715.75,680.6 1716.00,681.3 1716.25,681.9 1716.50,682.3 1716.75,682.7 1717.00,683.0 1717.25,683.2 1717.50,683.5 1717.75,683.7 1718.00,683.8 1718.25,684.0 1718.50,684.2 1718.75,684.3 1719.00,684.4 1719.25,684.5 1719.50,684.6 1719.75,684.7 1720.00,684.8 1720.25,684.9 1720.50,685.0 1720.75,685.0 1721.00,685.1 1721.25,685.1 1721.50,685.2 1721.75,685.3 1722.00,685.3 1722.25,685.3 1722.50,685.4 1722.75,685.4 1723.00,685.5 1723.25,685.5 1723.50,685.5 1723.75,685.6 1724.00,685.6 1726.00,685.8 1728.00,685.9 1730.00,686.0 1732.00,686.1 1734.00,686.1 1736.00,686.2 1738.00,686.2 1740.00,686.2 1742.00,686.3 1744.00,686.3 1746.00,686.3 1748.00,686.3 1750.00,686.3 1752.00,686.4 1754.00,686.4 1756.00,686.4 1758.00,686.4 1760.00,686.4 1762.00,686.4 1764.00,686.3 1766.00,686.3 1768.00,686.2 1770.00,686.2 1772.00,686.1 1774.00,685.9 1776.00,685.7 1778.00,685.3 1780.00,684.7 1780.25,684.6 1780.50,684.5 1780.75,684.4 1781.00,684.3 1781.25,684.2 1781.50,684.0 1781.75,683.9 1782.00,683.7 1782.25,683.6 1782.50,683.4 1782.75,683.2 1783.00,682.9 1783.25,682.7 1783.50,682.4 1783.75,682.1 1784.00,681.8 1784.25,681.4 1784.50,681.0 1784.75,680.6 1785.00,680.1 1785.25,679.5 1785.50,678.8 1785.75,678.1 1786.00,677.2 1786.25,676.2 1786.50,675.1 1786.75,673.7 1787.00,671.9 1787.25,669.6 1787.50,666.5 1787.75,662.3 1788.00,656.5 1788.25,648.5 1788.50,637.6 1788.75,623.0 1789.00,604.2 1789.25,580.6 1789.50,552.5 1789.75,520.4 1790.00,486.0 1790.25,451.8 1790.50,421.9 1790.75,400.9 1791.00,393.2 1791.25,400.9 1791.50,421.9 1791.75,451.9 1792.00,486.0 1792.25,520.4 1792.50,552.5 1792.75,580.7 1793.00,604.2 1793.25,623.1 1793.50,637.7 1793.75,648.6 1794.00,656.6 1794.25,662.4 1794.50,666.6 1794.75,669.6 1795.00,671.9 1795.25,673.7 1795.50,675.1 1795.75,676.3 1796.00,677.3 1796.25,678.1 1796.50,678.9 1796.75,679.5 1797.00,680.1 1797.25,680.6 1797.50,681.1 1797.75,681.5 1798.00,681.9 1798.25,682.2 1798.50,682.5 1798.75,682.8 1799.00,683.0 1799.25,683.3 1799.50,683.5 1799.75,683.7 1800.00,683.8 1800.25,684.0 1800.50,684.1 1800.75,684.3 1801.00,684.4 1801.25,684.5 1801.50,684.7 1801.75,684.8 1802.00,684.9 1802.25,685.0 1802.50,685.0 1802.75,685.1 1803.00,685.2 1805.00,685.7 1807.00,686.0 1809.00,686.2 1811.00,686.4 1813.00,686.5 1815.00,686.6 1817.00,686.6 1819.00,686.7 1821.00,686.7 1823.00,686.7 1825.00,686.7 1827.00,686.7 1829.00,686.7 1831.00,686.6 1833.00,686.5 1835.00,686.3 1835.25,686.3 1835.50,686.2 1835.75,686.2 1836.00,686.2 1836.25,686.1 1836.50,686.1 1836.75,686.0 1837.00,685.9 1837.25,685.9 1837.50,685.8 1837.75,685.7 1838.00,685.7 1838.25,685.6 1838.50,685.5 1838.75,685.3 1839.00,685.2 1839.25,685.1 1839.50,684.9 1839.75,684.8 1840.00,684.6 1840.25,684.3 1840.50,684.0 1840.75,683.7 1841.00,683.3 1841.25,682.9 1841.50,682.3 1841.75,681.6 1842.00,680.7 1842.25,679.7 1842.50,678.4 1842.75,676.9 1843.00,675.1 1843.25,673.0 1843.50,670.6 1843.75,667.9 1844.00,664.9 1844.25,661.6 1844.50,658.2 1844.75,654.8 1845.00,651.5 1845.25,648.6 1845.50,646.5 1845.75,645.2 1846.00,645.1 1846.25,646.1 1846.50,648.1 1846.75,650.9 1847.00,654.1 1847.25,657.6 1847.50,661.0 1847.75,664.3 1848.00,667.4 1848.25,670.2 1848.50,672.6 1848.75,674.8 1849.00,676.7 1849.25,678.2 1849.50,679.5 1849.75,680.6 1850.00,681.5 1850.25,682.3 1850.50,682.9 1850.75,683.4 1851.00,683.8 1851.25,684.2 1851.50,684.5 1851.75,684.7 1852.00,684.9 1852.25,685.1 1852.50,685.3 1852.75,685.4 1853.00,685.5 1853.25,685.7 1853.50,685.8 1853.75,685.9 1854.00,686.0 1854.25,686.0 1854.50,686.1 1854.75,686.2 1855.00,686.3 1855.25,686.3 1855.50,686.4 1855.75,686.4 1856.00,686.5 1856.25,686.5 1856.50,686.6 1856.75,686.6 1857.00,686.6 1857.25,686.7 1857.50,686.7 1857.75,686.7 1858.00,686.8 1860.00,687.0 1862.00,687.1 1864.00,687.2 1866.00,687.3 1868.00,687.3 1870.00,687.4 1872.00,687.4 1874.00,687.4 1876.00,687.5 1878.00,687.5 1880.00,687.5 1882.00,687.6 1884.00,687.6 1886.00,687.6 1888.00,687.6 1890.00,687.6 1892.00,687.7 1894.00,687.7 1896.00,687.7 1898.00,687.7 1900.00,687.7 1902.00,687.8 1904.00,687.8 1906.00,687.8 1908.00,687.8 1910.00,687.9 1912.00,687.9 1914.00,687.9 1916.00,687.9 1918.00,687.9 1920.00,687.9 1922.00,687.9 1924.00,687.9 1926.00,687.9 1928.00,688.0 1930.00,688.0 1932.00,688.0 1934.00,688.0 1936.00,688.0 1938.00,688.0 1940.00,688.0 1942.00,688.0 1944.00,688.0 1946.00,688.0 1948.00,688.0 1950.00,688.0 1952.00,688.0 1954.00,688.0 1956.00,688.0 1958.00,687.9 1960.00,687.9 1962.00,687.8 1964.00,687.6 1964.25,687.6 1964.50,687.6 1964.75,687.5 1965.00,687.5 1965.25,687.5 1965.50,687.4 1965.75,687.4 1966.00,687.3 1966.25,687.3 1966.50,687.2 1966.75,687.2 1967.00,687.1 1967.25,687.0 1967.50,687.0 1967.75,686.9 1968.00,686.8 1968.25,686.7 1968.50,686.6 1968.75,686.4 1969.00,686.3 1969.25,686.1 1969.50,685.9 1969.75,685.7 1970.00,685.5 1970.25,685.1 1970.50,684.8 1970.75,684.3 1971.00,683.7 1971.25,683.1 1971.50,682.2 1971.75,681.2 1972.00,680.0 1972.25,678.5 1972.50,676.8 1972.75,674.9 1973.00,672.7 1973.25,670.2 1973.50,667.5 1973.75,664.7 1974.00,661.8 1974.25,659.0 1974.50,656.5 1974.75,654.6 1975.00,653.4 1975.25,653.1 1975.50,653.8 1975.75,655.3 1976.00,657.5 1976.25,660.1 1976.50,663.0 1976.75,665.8 1977.00,668.6 1977.25,671.2 1977.50,673.6 1977.75,675.7 1978.00,677.6 1978.25,679.2 1978.50,680.6 1978.75,681.7 1979.00,682.6 1979.25,683.4 1979.50,684.1 1979.75,684.6 1980.00,685.0 1980.25,685.4 1980.50,685.7 1980.75,685.9 1981.00,686.1 1981.25,686.3 1981.50,686.5 1981.75,686.6 1982.00,686.7 1982.25,686.8 1982.50,686.9 1982.75,687.0 1983.00,687.1 1983.25,687.2 1983.50,687.3 1983.75,687.3 1984.00,687.4 1984.25,687.4 1984.50,687.5 1984.75,687.5 1985.00,687.6 1985.25,687.6 1985.50,687.7 1985.75,687.7 1986.00,687.7 1986.25,687.8 1986.50,687.8 1986.75,687.8 1987.00,687.9 1987.25,687.9 1989.25,688.0 1991.25,688.1 1993.25,688.2 1995.25,688.2 1997.25,688.3 1999.25,688.3 2001.25,688.3 2003.25,688.4 2005.25,688.4 2007.25,688.4 2009.25,688.4 2011.25,688.4 2013.25,688.4 2015.25,688.4 2017.25,688.4 2019.25,688.4 2021.25,688.4 2023.25,688.4 2025.25,688.3 2027.25,688.3 2029.25,688.2 2031.25,688.1 2033.25,688.0 2035.25,687.9 2037.25,687.6 2037.50,687.5 2037.75,687.5 2038.00,687.4 2038.25,687.4 2038.50,687.3 2038.75,687.2 2039.00,687.2 2039.25,687.1 2039.50,687.0 2039.75,686.9 2040.00,686.9 2040.25,686.8 2040.50,686.7 2040.75,686.6 2041.00,686.4 2041.25,686.3 2041.50,686.2 2041.75,686.0 2042.00,685.8 2042.25,685.6 2042.50,685.3 2042.75,685.1 2043.00,684.7 2043.25,684.4 2043.50,683.9 2043.75,683.4 2044.00,682.9 2044.25,682.2 2044.50,681.4 2044.75,680.5 2045.00,679.5 2045.25,678.4 2045.50,677.2 2045.75,675.8 2046.00,674.3 2046.25,672.7 2046.50,671.0 2046.75,669.3 2047.00,667.5 2047.25,665.8 2047.50,664.1 2047.75,662.6 2048.00,661.4 2048.25,660.5 2048.50,660.0 2048.75,659.9 2049.00,660.1 2049.25,660.7 2049.50,661.4 2049.75,662.3 2050.00,663.1 2050.25,663.9 2050.50,664.5 2050.75,664.9 2051.00,665.0 2051.25,664.8 2051.50,664.3 2051.75,663.5 2052.00,662.3 2052.25,660.7 2052.50,658.8 2052.75,656.6 2053.00,654.2 2053.25,651.6 2053.50,648.9 2053.75,646.2 2054.00,643.7 2054.25,641.5 2054.50,639.8 2054.75,638.8 2055.00,638.5 2055.25,639.1 2055.50,640.5 2055.75,642.5 2056.00,645.1 2056.25,648.0 2056.50,651.2 2056.75,654.4 2057.00,657.6 2057.25,660.7 2057.50,663.7 2057.75,666.4 2058.00,669.0 2058.25,671.2 2058.50,673.3 2058.75,675.1 2059.00,676.7 2059.25,678.1 2059.50,679.3 2059.75,680.4 2060.00,681.3 2060.25,682.0 2060.50,682.7 2060.75,683.3 2061.00,683.7 2061.25,684.2 2061.50,684.5 2061.75,684.8 2062.00,685.1 2062.25,685.4 2062.50,685.6 2062.75,685.8 2063.00,686.0 2063.25,686.1 2063.50,686.3 2063.75,686.4 2064.00,686.5 2064.25,686.6 2064.50,686.8 2064.75,686.9 2065.00,686.9 2065.25,687.0 2065.50,687.1 2065.75,687.2 2066.00,687.3 2066.25,687.3 2066.50,687.4 2066.75,687.5 2067.00,687.5 2069.00,687.9 2071.00,688.1 2073.00,688.3 2075.00,688.4 2077.00,688.5 2079.00,688.6 2081.00,688.6 2083.00,688.6 2085.00,688.5 2087.00,688.4 2087.25,688.4 2087.50,688.4 2087.75,688.4 2088.00,688.3 2088.25,688.3 2088.50,688.3 2088.75,688.3 2089.00,688.2 2089.25,688.2 2089.50,688.1 2089.75,688.1 2090.00,688.0 2090.25,688.0 2090.50,687.9 2090.75,687.8 2091.00,687.7 2091.25,687.6 2091.50,687.5 2091.75,687.4 2092.00,687.3 2092.25,687.1 2092.50,686.9 2092.75,686.7 2093.00,686.4 2093.25,686.0 2093.50,685.6 2093.75,685.1 2094.00,684.5 2094.25,683.7 2094.50,682.8 2094.75,681.6 2095.00,680.4 2095.25,678.9 2095.50,677.2 2095.75,675.3 2096.00,673.2 2096.25,671.1 2096.50,668.9 2096.75,666.7 2097.00,664.8 2097.25,663.4 2097.50,662.4 2097.75,662.2 2098.00,662.7 2098.25,663.9 2098.50,665.6 2098.75,667.6 2099.00,669.8 2099.25,672.0 2099.50,674.1 2099.75,676.1 2100.00,677.9 2100.25,679.5 2100.50,681.0 2100.75,682.2 2101.00,683.2 2101.25,684.1 2101.50,684.8 2101.75,685.4 2102.00,685.9 2102.25,686.3 2102.50,686.6 2102.75,686.9 2103.00,687.1 2103.25,687.3 2103.50,687.5 2103.75,687.6 2104.00,687.8 2104.25,687.9 2104.50,688.0 2104.75,688.1 2105.00,688.1 2105.25,688.2 2105.50,688.3 2105.75,688.3 2106.00,688.4 2106.25,688.4 2106.50,688.5 2106.75,688.5 2107.00,688.6 2107.25,688.6 2107.50,688.6 2107.75,688.7 2108.00,688.7 2108.25,688.7 2108.50,688.8 2108.75,688.8 2109.00,688.8 2109.25,688.9 2109.50,688.9 2109.75,688.9 2111.75,689.0 2113.75,689.1 2115.75,689.2 2117.75,689.3 2119.75,689.3 2121.75,689.4 2123.75,689.4 2125.75,689.4 2127.75,689.5 2129.75,689.5 2131.75,689.5 2133.75,689.5 2135.75,689.6 2137.75,689.6 2139.75,689.6 2141.75,689.6 2143.75,689.6 2145.75,689.6 2147.75,689.7 2149.75,689.7 2151.75,689.7 2153.75,689.7 2155.75,689.7 2157.75,689.8 2159.75,689.8 2161.75,689.8 2163.75,689.8 2165.75,689.8 2167.75,689.8 2169.75,689.8 2171.75,689.9 2173.75,689.9 2175.75,689.9 2177.75,689.9 2179.75,689.9 2181.75,689.9 2183.75,689.9 2185.75,689.9 2187.75,689.9 2189.75,689.9 2191.75,689.9 2193.75,689.9 2195.75,689.9 2197.75,689.9 2199.75,689.8 2200.00,689.8 2200.25,689.8 2200.50,689.8 2200.75,689.8 2201.00,689.8 2201.25,689.8 2201.50,689.8 2201.75,689.8 2202.00,689.7 2202.25,689.7 2202.50,689.7 2202.75,689.7 2203.00,689.6 2203.25,689.6 2203.50,689.6 2203.75,689.5 2204.00,689.5 2204.25,689.4 2204.50,689.4 2204.75,689.3 2205.00,689.2 2205.25,689.1 2205.50,689.0 2205.75,688.8 2206.00,688.7 2206.25,688.5 2206.50,688.3 2206.75,688.0 2207.00,687.8 2207.25,687.5 2207.50,687.2 2207.75,686.8 2208.00,686.5 2208.25,686.1 2208.50,685.8 2208.75,685.4 2209.00,685.1 2209.25,684.8 2209.50,684.7 2209.75,684.5 2210.00,684.5 2210.25,684.6 2210.50,684.8 2210.75,685.0 2211.00,685.3 2211.25,685.6 2211.50,686.0 2211.75,686.3 2212.00,686.6 2212.25,687.0 2212.50,687.3 2212.75,687.5 2213.00,687.8 2213.25,688.0 2213.50,688.2 2213.75,688.4 2214.00,688.5 2214.25,688.6 2214.50,688.7 2214.75,688.8 2215.00,688.8 2215.25,688.8 2215.50,688.8 2215.75,688.8 2216.00,688.8 2216.25,688.7 2216.50,688.6 2216.75,688.5 2217.00,688.3 2217.25,688.1 2217.50,687.9 2217.75,687.7 2218.00,687.4 2218.25,687.1 2218.50,686.7 2218.75,686.3 2219.00,685.9 2219.25,685.4 2219.50,684.9 2219.75,684.4 2220.00,684.0 2220.25,683.5 2220.50,683.1 2220.75,682.8 2221.00,682.6 2221.25,682.5 2221.50,682.6 2221.75,682.7 2222.00,683.0 2222.25,683.4 2222.50,683.9 2222.75,684.3 2223.00,684.8 2223.25,685.3 2223.50,685.8 2223.75,686.3 2224.00,686.7 2224.25,687.1 2224.50,687.5 2224.75,687.8 2225.00,688.1 2225.25,688.4 2225.50,688.6 2225.75,688.8 2226.00,689.0 2226.25,689.1 2226.50,689.2 2226.75,689.3 2227.00,689.4 2227.25,689.5 2227.50,689.6 2227.75,689.6 2228.00,689.7 2228.25,689.7 2228.50,689.8 2228.75,689.8 2229.00,689.8 2229.25,689.9 2229.50,689.9 2229.75,689.9 2230.00,689.9 2230.25,690.0 2230.50,690.0 2230.75,690.0 2231.00,690.0 2231.25,690.0 2231.50,690.0 2231.75,690.1 2232.00,690.1 2232.25,690.1 2232.50,690.1 2232.75,690.1 2233.00,690.1 2233.25,690.1 2233.50,690.1 2235.50,690.2 2237.50,690.3 2239.50,690.3 2241.50,690.3 2243.50,690.4 2245.50,690.4 2247.50,690.4 2249.50,690.4 2251.50,690.5" stroke="#f00" stroke-width="5" fill="none" stroke-linejoin="round"/>
<polyline points="1348.0,698.8 1349.0,698.8 1350.0,698.8 1351.0,698.8 1352.0,698.8 1353.0,698.8 1354.0,698.8 1355.0,698.8 1356.0,698.8 1357.0,698.8 1358.0,698.8 1359.0,698.8 1360.0,698.8 1361.0,698.8 1362.0,698.8 1363.0,698.8 1364.0,698.8 1365.0,698.8 1366.0,698.8 1367.0,698.8 1368.0,698.8 1369.0,698.8 1370.0,698.8 1371.0,698.8 1372.0,698.8 1373.0,698.8 1374.0,698.8 1375.0,698.8 1376.0,698.8 1377.0,698.8 1378.0,698.8 1379.0,698.8 1380.0,698.8 1381.0,698.8 1382.0,698.8 1383.0,698.8 1384.0,698.8 1385.0,698.8 1386.0,698.8 1387.0,698.8 1388.0,698.8 1389.0,698.8 1390.0,698.8 1391.0,698.8 1392.0,698.8 1393.0,698.8 1394.0,698.8 1395.0,698.8 1396.0,698.8 1397.0,698.8 1398.0,698.8 1399.0,698.8 1400.0,698.8 1401.0,698.8 1402.0,698.8 1403.0,698.8 1404.0,698.8 1405.0,698.8 1406.0,698.8 1407.0,698.8 1408.0,698.8 1409.0,698.8 1410.0,698.8 1411.0,698.8 1412.0,698.8 1413.0,698.8 1414.0,698.8 1415.0,698.8 1416.0,698.8 1417.0,698.8 1418.0,698.8 1419.0,698.8 1420.0,698.8 1421.0,698.8 1422.0,698.8 1423.0,698.8 1424.0,698.8 1425.0,698.8 1426.0,698.8 1427.0,698.8 1428.0,698.8 1429.0,698.8 1430.0,698.8 1431.0,698.8 1432.0,698.8 1433.0,698.8 1434.0,698.8 1435.0,698.8 1436.0,698.8 1437.0,698.8 1438.0,698.8 1439.0,698.8 1440.0,698.8 1441.0,698.8 1442.0,698.8 1443.0,698.8 1444.0,698.8 1445.0,698.8 1446.0,698.8 1447.0,698.8 1448.0,698.8 1449.0,698.8 1450.0,698.8 1451.0,698.8 1452.0,698.8 1453.0,698.8 1454.0,698.8 1455.0,698.8 1456.0,698.8 1457.0,698.8 1458.0,698.8 1459.0,698.8 1460.0,698.8 1461.0,698.8 1462.0,698.8 1463.0,698.8 1464.0,698.8 1465.0,698.8 1466.0,698.8 1467.0,698.8 1468.0,698.8 1469.0,698.8 1470.0,698.8 1471.0,698.8 1472.0,698.8 1473.0,698.8 1474.0,698.8 1475.0,698.8 1476.0,698.8 1477.0,698.8 1478.0,698.8 1479.0,698.8 1480.0,698.8 1481.0,698.8 1482.0,698.8 1483.0,698.8 1484.0,698.8 1485.0,698.8 1486.0,698.8 1487.0,698.8 1488.0,698.8 1489.0,698.8 1490.0,698.8 1491.0,698.8 1492.0,698.8 1493.0,698.8 1494.0,698.8 1495.0,698.8 1496.0,698.8 1497.0,698.8 1498.0,698.8 1499.0,698.8 1500.0,698.8 1501.0,698.8 1502.0,698.8 1503.0,698.8 1504.0,698.8 1505.0,698.8 1506.0,698.8 1507.0,698.8 1508.0,698.8 1509.0,698.8 1510.0,698.8 1511.0,698.8 1512.0,698.8 1513.0,698.8 1514.0,698.8 1515.0,698.8 1516.0,698.8 1517.0,698.8 1518.0,698.8 1519.0,698.8 1520.0,698.8 1521.0,698.8 1522.0,698.8 1523.0,698.8 1524.0,698.8 1525.0,698.8 1526.0,698.8 1527.0,698.8 1528.0,698.8 1529.0,698.8 1530.0,698.8 1531.0,698.8 1532.0,698.8 1533.0,698.8 1534.0,698.8 1535.0,698.8 1536.0,698.8 1537.0,698.8 1538.0,698.8 1539.0,698.8 1540.0,698.8 1541.0,698.8 1542.0,698.8 1543.0,698.8 1544.0,698.8 1545.0,698.8 1546.0,698.8 1547.0,698.8 1548.0,698.8 1549.0,698.8 1550.0,698.8 1551.0,698.8 1552.0,698.8 1553.0,698.8 1554.0,698.8 1555.0,698.8 1556.0,698.8 1557.0,698.8 1558.0,698.8 1559.0,698.8 1560.0,698.8 1561.0,698.8 1562.0,698.8 1563.0,698.8 1564.0,698.8 1565.0,698.8 1566.0,698.8 1567.0,698.8 1568.0,698.8 1569.0,698.8 1570.0,698.8 1571.0,698.8 1572.0,698.8 1573.0,698.8 1574.0,698.8 1575.0,698.8 1576.0,698.8 1577.0,698.8 1578.0,698.8 1579.0,698.8 1580.0,698.8 1581.0,698.8 1582.0,698.8 1583.0,698.8 1584.0,698.8 1585.0,698.8 1586.0,698.8 1587.0,698.8 1588.0,698.8 1589.0,698.8 1590.0,698.8 1591.0,698.8 1592.0,698.8 1593.0,698.8 1594.0,698.8 1595.0,698.8 1596.0,698.8 1597.0,698.8 1598.0,698.8 1599.0,698.8 1600.0,698.8 1601.0,698.8 1602.0,698.8 1603.0,698.8 1604.0,698.8 1605.0,698.8 1606.0,698.8 1607.0,698.8 1608.0,698.8 1609.0,698.8 1610.0,698.8 1611.0,698.8 1612.0,698.8 1613.0,698.8 1614.0,698.8 1615.0,698.8 1616.0,698.8 1617.0,698.8 1618.0,698.8 1619.0,698.8 1620.0,698.8 1621.0,698.8 1622.0,698.8 1623.0,698.8 1624.0,698.8 1625.0,698.8 1626.0,698.8 1627.0,698.8 1628.0,698.8 1629.0,698.8 1630.0,698.8 1631.0,698.8 1632.0,698.8 1633.0,698.8 1634.0,698.8 1635.0,698.8 1636.0,698.8 1637.0,698.8 1638.0,698.8 1639.0,698.8 1640.0,698.8 1641.0,698.8 1642.0,698.8 1643.0,698.8 1644.0,698.8 1645.0,698.8 1646.0,698.8 1647.0,698.8 1648.0,698.8 1649.0,698.8 1650.0,698.8 1651.0,698.8 1652.0,698.8 1653.0,698.8 1654.0,698.8 1655.0,698.8 1656.0,698.8 1657.0,698.8 1658.0,698.8 1659.0,698.8 1660.0,698.8 1661.0,698.8 1662.0,698.8 1663.0,698.8 1664.0,698.8 1665.0,698.8 1666.0,698.8 1667.0,698.8 1668.0,698.8 1669.0,698.8 1670.0,698.8 1671.0,698.8 1672.0,698.8 1673.0,698.8 1674.0,698.8 1675.0,698.8 1676.0,698.8 1677.0,698.8 1678.0,698.8 1679.0,698.8 1680.0,698.8 1681.0,698.8 1682.0,698.8 1683.0,698.8 1684.0,698.8 1685.0,698.8 1686.0,698.8 1687.0,698.8 1688.0,698.8 1689.0,698.8 1690.0,698.8 1691.0,698.8 1692.0,698.8 1693.0,698.8 1694.0,698.8 1695.0,698.8 1696.0,698.8 1697.0,698.8 1698.0,698.8 1699.0,698.8 1700.0,698.8 1701.0,698.8 1702.0,698.8 1703.0,698.8 1704.0,698.8 1705.0,698.8 1706.0,698.8 1707.0,698.8 1708.0,698.8 1709.0,698.8 1710.0,698.8 1711.0,698.8 1712.0,698.8 1713.0,698.8 1714.0,698.8 1715.0,698.8 1716.0,698.8 1717.0,698.8 1718.0,698.8 1719.0,698.8 1720.0,698.8 1721.0,698.8 1722.0,698.8 1723.0,698.8 1724.0,698.8 1725.0,698.8 1726.0,698.8 1727.0,698.8 1728.0,698.8 1729.0,698.8 1730.0,698.8 1731.0,698.8 1732.0,698.8 1733.0,698.8 1734.0,698.8 1735.0,698.8 1736.0,698.8 1737.0,698.8 1738.0,698.8 1739.0,698.8 1740.0,698.8 1741.0,698.8 1742.0,698.8 1743.0,698.8 1744.0,698.8 1745.0,698.8 1746.0,698.8 1747.0,698.8 1748.0,698.8 1749.0,698.8 1750.0,698.8 1751.0,698.8 1752.0,698.8 1753.0,698.8 1754.0,698.8 1755.0,698.8 1756.0,698.8 1757.0,698.8 1758.0,698.8 1759.0,698.8 1760.0,698.8 1761.0,698.8 1762.0,698.8 1763.0,698.8 1764.0,698.8 1765.0,698.8 1766.0,698.8 1767.0,698.8 1768.0,698.8 1769.0,698.8 1770.0,698.8 1771.0,698.8 1772.0,698.8 1773.0,698.8 1774.0,698.8 1775.0,698.8 1776.0,698.8 1777.0,698.8 1778.0,698.8 1779.0,698.8 1780.0,698.8 1781.0,698.8 1782.0,698.8 1783.0,698.8 1784.0,698.8 1785.0,698.8 1786.0,698.8 1787.0,698.8 1788.0,698.8 1789.0,698.8 1790.0,698.8 1791.0,698.8 1792.0,698.8 1793.0,698.8 1794.0,698.8 1795.0,698.8 1796.0,698.8 1797.0,698.8 1798.0,698.8 1799.0,698.8 1800.0,698.8 1801.0,698.8 1802.0,698.8 1803.0,698.8 1804.0,698.8 1805.0,698.8 1806.0,698.8 1807.0,698.8 1808.0,698.8 1809.0,698.8 1810.0,698.8 1811.0,698.8 1812.0,698.8 1813.0,698.8 1814.0,698.8 1815.0,698.8 1816.0,698.8 1817.0,698.8 1818.0,698.8 1819.0,698.8 1820.0,698.8 1821.0,698.8 1822.0,698.8 1823.0,698.8 1824.0,698.8 1825.0,698.8 1826.0,698.8 1827.0,698.8 1828.0,698.8 1829.0,698.8 1830.0,698.8 1831.0,698.8 1832.0,698.8 1833.0,698.8 1834.0,698.8 1835.0,698.8 1836.0,698.8 1837.0,698.8 1838.0,698.8 1839.0,698.8 1840.0,698.8 1841.0,698.8 1842.0,698.8 1843.0,698.8 1844.0,698.8 1845.0,698.8 1846.0,698.8 1847.0,698.8 1848.0,698.8 1849.0,698.8 1850.0,698.8 1851.0,698.8 1852.0,698.8 1853.0,698.8 1854.0,698.8 1855.0,698.8 1856.0,698.8 1857.0,698.8 1858.0,698.8 1859.0,698.8 1860.0,698.8 1861.0,698.8 1862.0,698.8 1863.0,698.8 1864.0,698.8 1865.0,698.8 1866.0,698.8 1867.0,698.8 1868.0,698.8 1869.0,698.8 1870.0,698.8 1871.0,698.8 1872.0,698.8 1873.0,698.8 1874.0,698.8 1875.0,698.8 1876.0,698.8 1877.0,698.8 1878.0,698.8 1879.0,698.8 1880.0,698.8 1881.0,698.8 1882.0,698.8 1883.0,698.8 1884.0,698.8 1885.0,698.8 1886.0,698.8 1887.0,698.8 1888.0,698.8 1889.0,698.8 1890.0,698.8 1891.0,698.8 1892.0,698.8 1893.0,698.8 1894.0,698.8 1895.0,698.8 1896.0,698.8 1897.0,698.8 1898.0,698.8 1899.0,698.8 1900.0,698.8 1901.0,698.8 1902.0,698.8 1903.0,698.8 1904.0,698.8 1905.0,698.8 1906.0,698.8 1907.0,698.8 1908.0,698.8 1909.0,698.8 1910.0,698.8 1911.0,698.8 1912.0,698.8 1913.0,698.8 1914.0,698.8 1915.0,698.8 1916.0,698.8 1917.0,698.8 1918.0,698.8 1919.0,698.8 1920.0,698.8 1921.0,698.8 1922.0,698.8 1923.0,698.8 1924.0,698.8 1925.0,698.8 1926.0,698.8 1927.0,698.8 1928.0,698.8 1929.0,698.8 1930.0,698.8 1931.0,698.8 1932.0,698.8 1933.0,698.8 1934.0,698.8 1935.0,698.8 1936.0,698.8 1937.0,698.8 1938.0,698.8 1939.0,698.8 1940.0,698.8 1941.0,698.8 1942.0,698.8 1943.0,698.8 1944.0,698.8 1945.0,698.8 1946.0,698.8 1947.0,698.8 1948.0,698.8 1949.0,698.8 1950.0,698.8 1951.0,698.8 1952.0,698.8 1953.0,698.8 1954.0,698.8 1955.0,698.8 1956.0,698.8 1957.0,698.8 1958.0,698.8 1959.0,698.8 1960.0,698.8 1961.0,698.8 1962.0,698.8 1963.0,698.8 1964.0,698.8 1965.0,698.8 1966.0,698.8 1967.0,698.8 1968.0,698.8 1969.0,698.8 1970.0,698.8 1971.0,698.8 1972.0,698.8 1973.0,698.8 1974.0,698.8 1975.0,698.8 1976.0,698.8 1977.0,698.8 1978.0,698.8 1979.0,698.8 1980.0,698.8 1981.0,698.8 1982.0,698.8 1983.0,698.8 1984.0,698.8 1985.0,698.8 1986.0,698.8 1987.0,698.8 1988.0,698.8 1989.0,698.8 1990.0,698.8 1991.0,698.8 1992.0,698.8 1993.0,698.8 1994.0,698.8 1995.0,698.8 1996.0,698.8 1997.0,698.8 1998.0,698.8 1999.0,698.8 2000.0,698.8 2001.0,698.8 2002.0,698.8 2003.0,698.8 2004.0,698.8 2005.0,698.8 2006.0,698.8 2007.0,698.8 2008.0,698.8 2009.0,698.8 2010.0,698.8 2011.0,698.8 2012.0,698.8 2013.0,698.8 2014.0,698.8 2015.0,698.8 2016.0,698.8 2017.0,698.8 2018.0,698.8 2019.0,698.8 2020.0,698.8 2021.0,698.8 2022.0,698.8 2023.0,698.8 2024.0,698.8 2025.0,698.8 2026.0,698.8 2027.0,698.8 2028.0,698.8 2029.0,698.8 2030.0,698.8 2031.0,698.8 2032.0,698.8 2033.0,698.8 2034.0,698.8 2035.0,698.8 2036.0,698.8 2037.0,698.8 2038.0,698.8 2039.0,698.8 2040.0,698.8 2041.0,698.8 2042.0,698.8 2043.0,698.8 2044.0,698.8 2045.0,698.8 2046.0,698.8 2047.0,698.8 2048.0,698.8 2049.0,698.8 2050.0,698.8 2051.0,698.8 2052.0,698.8 2053.0,698.8 2054.0,698.8 2055.0,698.8 2056.0,698.8 2057.0,698.8 2058.0,698.8 2059.0,698.8 2060.0,698.8 2061.0,698.8 2062.0,698.8 2063.0,698.8 2064.0,698.8 2065.0,698.8 2066.0,698.8 2067.0,698.8 2068.0,698.8 2069.0,698.8 2070.0,698.8 2071.0,698.8 2072.0,698.8 2073.0,698.8 2074.0,698.8 2075.0,698.8 2076.0,698.8 2077.0,698.8 2078.0,698.8 2079.0,698.8 2080.0,698.8 2081.0,698.8 2082.0,698.8 2083.0,698.8 2084.0,698.8 2085.0,698.8 2086.0,698.8 2087.0,698.8 2088.0,698.8 2089.0,698.8 2090.0,698.8 2091.0,698.8 2092.0,698.8 2093.0,698.8 2094.0,698.8 2095.0,698.8 2096.0,698.8 2097.0,698.8 2098.0,698.8 2099.0,698.8 2100.0,698.8 2101.0,698.8 2102.0,698.8 2103.0,698.8 2104.0,698.8 2105.0,698.8 2106.0,698.8 2107.0,698.8 2108.0,698.8 2109.0,698.8 2110.0,698.8 2111.0,698.8 2112.0,698.8 2113.0,698.8 2114.0,698.8 2115.0,698.8 2116.0,698.8 2117.0,698.8 2118.0,698.8 2119.0,698.8 2120.0,698.8 2121.0,698.8 2122.0,698.8 2123.0,698.8 2124.0,698.8 2125.0,698.8 2126.0,698.8 2127.0,698.8 2128.0,698.8 2129.0,698.8 2130.0,698.8 2131.0,698.8 2132.0,698.8 2133.0,698.8 2134.0,698.8 2135.0,698.8 2136.0,698.8 2137.0,698.8 2138.0,698.8 2139.0,698.8 2140.0,698.8 2141.0,698.8 2142.0,698.8 2143.0,698.8 2144.0,698.8 2145.0,698.8 2146.0,698.8 2147.0,698.8 2148.0,698.8 2149.0,698.8 2150.0,698.8 2151.0,698.8 2152.0,698.8 2153.0,698.8 2154.0,698.8 2155.0,698.8 2156.0,698.8 2157.0,698.8 2158.0,698.8 2159.0,698.8 2160.0,698.8 2161.0,698.8 2162.0,698.8 2163.0,698.8 2164.0,698.8 2165.0,698.8 2166.0,698.8 2167.0,698.8 2168.0,698.8 2169.0,698.8 2170.0,698.8 2171.0,698.8 2172.0,698.8 2173.0,698.8 2174.0,698.8 2175.0,698.8 2176.0,698.8 2177.0,698.8 2178.0,698.8 2179.0,698.8 2180.0,698.8 2181.0,698.8 2182.0,698.8 2183.0,698.8 2184.0,698.8 2185.0,698.8 2186.0,698.8 2187.0,698.8 2188.0,698.8 2189.0,698.8 2190.0,698.8 2191.0,698.8 2192.0,698.8 2193.0,698.8 2194.0,698.8 2195.0,698.8 2196.0,698.8 2197.0,698.8 2198.0,698.8 2199.0,698.8 2200.0,698.8 2201.0,698.8 2202.0,698.8 2203.0,698.8 2204.0,698.8 2205.0,698.8 2206.0,698.8 2207.0,698.8 2208.0,698.8 2209.0,698.8 2210.0,698.8 2211.0,698.8 2212.0,698.8 2213.0,698.8 2214.0,698.8 2215.0,698.8 2216.0,698.8 2217.0,698.8 2218.0,698.8 2219.0,698.8 2220.0,698.8 2221.0,698.8 2222.0,698.8 2223.0,698.8 2224.0,698.8 2225.0,698.8 2226.0,698.8 2227.0,698.8 2228.0,698.8 2229.0,698.8 2230.0,698.8 2231.0,698.8 2232.0,698.8 2233.0,698.8 2234.0,698.8 2235.0,698.8 2236.0,698.8 2237.0,698.8 2238.0,698.8 2239.0,698.8 2240.0,698.8 2241.0,698.8 2242.0,698.8 2243.0,698.8 2244.0,698.8 2245.0,698.8 2246.0,698.8 2247.0,698.8 2248.0,698.8 2249.0,698.8 2250.0,698.8 2251.0,698.8" stroke="#00f" stroke-width="5" fill="none"/>
<path d="M1460.0 679.8V714.8M1690.0 696.0V702.8M1712.0 696.7V701.8M1791.0 693.2V706.8M1846.0 697.4V700.8M1975.0 697.4V700.8M2053.0 696.7V701.8M2098.0 697.4V700.8" stroke="#00f" stroke-width="4.5"/>
</g>
<rect x="1347.5" y="34.5" width="904.5" height="719.8" fill="none" stroke="#000" stroke-width="7"/>
<path d="M1347.5 754.3V767.8M1412.1 754.3V761.3M1476.7 754.3V767.8M1541.3 754.3V761.3M1605.9 754.3V767.8M1670.5 754.3V761.3M1735.1 754.3V767.8M1799.8 754.3V761.3M1864.4 754.3V767.8M1929.0 754.3V761.3M1993.6 754.3V767.8M2058.2 754.3V761.3M2122.8 754.3V767.8M2187.4 754.3V761.3M2252.0 754.3V767.8" stroke="#000" stroke-width="7"/>
<text x="1347.5" y="808.3" font-size="41" text-anchor="middle">10</text>
<text x="1476.7" y="808.3" font-size="41" text-anchor="middle">20</text>
<text x="1605.9" y="808.3" font-size="41" text-anchor="middle">30</text>
<text x="1735.1" y="808.3" font-size="41" text-anchor="middle">40</text>
<text x="1864.4" y="808.3" font-size="41" text-anchor="middle">50</text>
<text x="1993.6" y="808.3" font-size="41" text-anchor="middle">60</text>
<text x="2122.8" y="808.3" font-size="41" text-anchor="middle">70</text>
<text x="2252.0" y="808.3" font-size="41" text-anchor="middle">80</text>
<text x="1799.8" y="867.1" font-size="61" text-anchor="middle">2 Theta (degree)</text>
<text transform="translate(1297.5 392.5) rotate(-90)" font-size="61" text-anchor="middle">Intensity (a.u.)</text>
<text transform="translate(1197.5 108.2) scale(1.03 1)" font-size="104">(b)</text>
<path d="M2069.0 49.9l30.8 30.8m0 -30.8l-30.8 30.8" stroke="#000" stroke-width="3.6" fill="none"/>
<text x="2132.5" y="76.5" font-size="38">83L1</text>
<line x1="2056.2" y1="111.5" x2="2110.6" y2="111.5" stroke="#f00" stroke-width="5"/>
<text x="2132.5" y="123.1" font-size="38">Refine</text>
<line x1="2056.2" y1="157.7" x2="2110.6" y2="157.7" stroke="#00f" stroke-width="5"/>
<text x="2132.5" y="170.0" font-size="38">Diff</text>
<text x="2051.0" y="217.2" font-size="38">R<tspan font-size="24" dy="8.5">wp</tspan><tspan dx="2" dy="-8.5"> 3.667</tspan></text></g>
<g><clipPath id="c102"><rect x="158.5" y="905.5" width="899.0" height="712.5"/></clipPath>
<g clip-path="url(#c102)">
<path d="M147.4 1547.0l20 20m0 -20l-20 20M147.0 1548.2l20 20m0 -20l-20 20M147.9 1547.1l20 20m0 -20l-20 20M149.2 1548.2l20 20m0 -20l-20 20M149.7 1546.8l20 20m0 -20l-20 20M150.6 1548.3l20 20m0 -20l-20 20M152.8 1547.5l20 20m0 -20l-20 20M152.4 1548.2l20 20m0 -20l-20 20M153.7 1546.5l20 20m0 -20l-20 20M154.6 1547.8l20 20m0 -20l-20 20M157.4 1546.1l20 20m0 -20l-20 20M155.5 1547.1l20 20m0 -20l-20 20M159.2 1546.4l20 20m0 -20l-20 20M158.3 1548.1l20 20m0 -20l-20 20M159.6 1546.7l20 20m0 -20l-20 20M160.1 1548.2l20 20m0 -20l-20 20M162.3 1547.1l20 20m0 -20l-20 20M161.9 1547.9l20 20m0 -20l-20 20M164.6 1547.5l20 20m0 -20l-20 20M164.1 1548.1l20 20m0 -20l-20 20M166.9 1546.9l20 20m0 -20l-20 20M165.5 1547.8l20 20m0 -20l-20 20M168.7 1546.4l20 20m0 -20l-20 20M167.8 1548.4l20 20m0 -20l-20 20M170.5 1546.9l20 20m0 -20l-20 20M170.9 1548.1l20 20m0 -20l-20 20M173.2 1546.0l20 20m0 -20l-20 20M172.3 1548.4l20 20m0 -20l-20 20M174.1 1547.1l20 20m0 -20l-20 20M175.5 1547.9l20 20m0 -20l-20 20M176.8 1546.5l20 20m0 -20l-20 20M176.4 1548.6l20 20m0 -20l-20 20M177.7 1547.2l20 20m0 -20l-20 20M178.2 1548.3l20 20m0 -20l-20 20M180.4 1546.5l20 20m0 -20l-20 20M180.0 1547.6l20 20m0 -20l-20 20M183.2 1547.3l20 20m0 -20l-20 20M182.2 1548.8l20 20m0 -20l-20 20M184.5 1547.6l20 20m0 -20l-20 20M183.6 1548.3l20 20m0 -20l-20 20M186.3 1546.9l20 20m0 -20l-20 20M185.9 1548.7l20 20m0 -20l-20 20M188.1 1547.1l20 20m0 -20l-20 20M189.0 1548.4l20 20m0 -20l-20 20M189.9 1545.6l20 20m0 -20l-20 20M190.4 1548.1l20 20m0 -20l-20 20M192.7 1546.7l20 20m0 -20l-20 20M193.1 1548.3l20 20m0 -20l-20 20M194.9 1546.3l20 20m0 -20l-20 20M194.0 1548.5l20 20m0 -20l-20 20M196.7 1547.2l20 20m0 -20l-20 20M196.3 1547.9l20 20m0 -20l-20 20M198.5 1546.3l20 20m0 -20l-20 20M199.0 1549.0l20 20m0 -20l-20 20M200.8 1546.5l20 20m0 -20l-20 20M201.3 1548.1l20 20m0 -20l-20 20M201.7 1546.9l20 20m0 -20l-20 20M203.1 1547.6l20 20m0 -20l-20 20M204.4 1546.5l20 20m0 -20l-20 20M203.5 1548.3l20 20m0 -20l-20 20M206.7 1546.6l20 20m0 -20l-20 20M205.8 1547.9l20 20m0 -20l-20 20M209.4 1547.2l20 20m0 -20l-20 20M208.0 1548.1l20 20m0 -20l-20 20M210.3 1546.7l20 20m0 -20l-20 20M209.8 1548.3l20 20m0 -20l-20 20M212.6 1547.1l20 20m0 -20l-20 20M212.1 1548.2l20 20m0 -20l-20 20M215.3 1546.1l20 20m0 -20l-20 20M214.8 1548.3l20 20m0 -20l-20 20M217.1 1546.9l20 20m0 -20l-20 20M215.7 1548.5l20 20m0 -20l-20 20M218.4 1546.4l20 20m0 -20l-20 20M219.4 1547.7l20 20m0 -20l-20 20M220.7 1546.6l20 20m0 -20l-20 20M219.8 1548.4l20 20m0 -20l-20 20M221.6 1545.9l20 20m0 -20l-20 20M222.1 1547.4l20 20m0 -20l-20 20M225.2 1545.9l20 20m0 -20l-20 20M224.8 1547.9l20 20m0 -20l-20 20M226.6 1546.5l20 20m0 -20l-20 20M227.0 1547.6l20 20m0 -20l-20 20M228.9 1546.1l20 20m0 -20l-20 20M227.9 1547.2l20 20m0 -20l-20 20M231.1 1545.8l20 20m0 -20l-20 20M229.8 1547.4l20 20m0 -20l-20 20M232.0 1546.0l20 20m0 -20l-20 20M231.6 1548.1l20 20m0 -20l-20 20M234.7 1546.5l20 20m0 -20l-20 20M235.2 1548.3l20 20m0 -20l-20 20M236.1 1545.6l20 20m0 -20l-20 20M237.0 1547.5l20 20m0 -20l-20 20M237.9 1545.9l20 20m0 -20l-20 20M239.3 1546.8l20 20m0 -20l-20 20M241.1 1545.1l20 20m0 -20l-20 20M240.2 1547.0l20 20m0 -20l-20 20M242.0 1544.7l20 20m0 -20l-20 20M242.4 1546.8l20 20m0 -20l-20 20M245.1 1545.4l20 20m0 -20l-20 20M244.7 1547.1l20 20m0 -20l-20 20M247.4 1543.4l20 20m0 -20l-20 20M246.0 1546.3l20 20m0 -20l-20 20M249.2 1542.1l20 20m0 -20l-20 20M248.8 1544.4l20 20m0 -20l-20 20M250.6 1541.0l20 20m0 -20l-20 20M249.7 1544.6l20 20m0 -20l-20 20M252.8 1536.7l20 20m0 -20l-20 20M251.9 1540.8l20 20m0 -20l-20 20M255.1 1525.5l20 20m0 -20l-20 20M254.6 1530.2l20 20m0 -20l-20 20M253.7 1534.8l20 20m0 -20l-20 20M254.2 1535.5l20 20m0 -20l-20 20M261.4 1522.9l20 20m0 -20l-20 20M261.9 1526.2l20 20m0 -20l-20 20M262.3 1532.3l20 20m0 -20l-20 20M263.2 1535.9l20 20m0 -20l-20 20M264.1 1537.7l20 20m0 -20l-20 20M265.1 1540.5l20 20m0 -20l-20 20M265.5 1540.9l20 20m0 -20l-20 20M266.9 1543.4l20 20m0 -20l-20 20M268.2 1543.8l20 20m0 -20l-20 20M269.1 1545.1l20 20m0 -20l-20 20M269.6 1544.1l20 20m0 -20l-20 20M270.5 1545.6l20 20m0 -20l-20 20M272.3 1543.3l20 20m0 -20l-20 20M272.7 1547.4l20 20m0 -20l-20 20M274.1 1545.5l20 20m0 -20l-20 20M274.6 1546.8l20 20m0 -20l-20 20M276.4 1545.0l20 20m0 -20l-20 20M275.9 1546.2l20 20m0 -20l-20 20M278.2 1545.0l20 20m0 -20l-20 20M278.6 1547.6l20 20m0 -20l-20 20M280.4 1545.9l20 20m0 -20l-20 20M280.9 1547.7l20 20m0 -20l-20 20M282.7 1546.9l20 20m0 -20l-20 20M282.2 1547.4l20 20m0 -20l-20 20M284.5 1546.4l20 20m0 -20l-20 20M285.4 1548.3l20 20m0 -20l-20 20M286.8 1545.9l20 20m0 -20l-20 20M286.3 1547.6l20 20m0 -20l-20 20M288.6 1546.3l20 20m0 -20l-20 20M289.5 1548.0l20 20m0 -20l-20 20M291.3 1546.0l20 20m0 -20l-20 20M289.9 1548.3l20 20m0 -20l-20 20M293.1 1546.4l20 20m0 -20l-20 20M291.8 1547.7l20 20m0 -20l-20 20M293.6 1546.5l20 20m0 -20l-20 20M294.9 1547.8l20 20m0 -20l-20 20M295.8 1546.3l20 20m0 -20l-20 20M296.3 1548.1l20 20m0 -20l-20 20M297.6 1546.6l20 20m0 -20l-20 20M299.4 1547.8l20 20m0 -20l-20 20M300.3 1546.1l20 20m0 -20l-20 20M299.9 1547.5l20 20m0 -20l-20 20M303.1 1546.7l20 20m0 -20l-20 20M302.6 1547.5l20 20m0 -20l-20 20M305.3 1545.7l20 20m0 -20l-20 20M304.9 1547.7l20 20m0 -20l-20 20M305.8 1546.5l20 20m0 -20l-20 20M306.2 1547.8l20 20m0 -20l-20 20M308.5 1547.2l20 20m0 -20l-20 20M309.4 1547.6l20 20m0 -20l-20 20M310.8 1546.1l20 20m0 -20l-20 20M310.3 1547.5l20 20m0 -20l-20 20M311.7 1546.4l20 20m0 -20l-20 20M313.5 1548.4l20 20m0 -20l-20 20M315.3 1546.2l20 20m0 -20l-20 20M313.9 1547.7l20 20m0 -20l-20 20M316.6 1547.2l20 20m0 -20l-20 20M315.7 1548.3l20 20m0 -20l-20 20M318.9 1547.2l20 20m0 -20l-20 20M318.4 1548.2l20 20m0 -20l-20 20M320.3 1547.2l20 20m0 -20l-20 20M321.2 1548.3l20 20m0 -20l-20 20M321.6 1547.1l20 20m0 -20l-20 20M322.5 1548.3l20 20m0 -20l-20 20M324.8 1547.0l20 20m0 -20l-20 20M324.3 1548.4l20 20m0 -20l-20 20M326.1 1546.5l20 20m0 -20l-20 20M327.5 1548.4l20 20m0 -20l-20 20M328.4 1546.5l20 20m0 -20l-20 20M329.3 1548.6l20 20m0 -20l-20 20M330.7 1547.4l20 20m0 -20l-20 20M331.1 1547.7l20 20m0 -20l-20 20M331.6 1547.3l20 20m0 -20l-20 20M333.4 1547.9l20 20m0 -20l-20 20M335.2 1546.9l20 20m0 -20l-20 20M334.7 1547.6l20 20m0 -20l-20 20M337.5 1547.3l20 20m0 -20l-20 20M336.5 1548.3l20 20m0 -20l-20 20M338.8 1546.3l20 20m0 -20l-20 20M338.4 1548.5l20 20m0 -20l-20 20M340.6 1546.0l20 20m0 -20l-20 20M339.7 1547.8l20 20m0 -20l-20 20M342.0 1547.1l20 20m0 -20l-20 20M342.9 1547.7l20 20m0 -20l-20 20M344.2 1546.0l20 20m0 -20l-20 20M343.8 1548.5l20 20m0 -20l-20 20M346.5 1546.5l20 20m0 -20l-20 20M347.4 1547.4l20 20m0 -20l-20 20M348.8 1545.9l20 20m0 -20l-20 20M348.3 1547.7l20 20m0 -20l-20 20M350.6 1546.6l20 20m0 -20l-20 20M350.1 1548.7l20 20m0 -20l-20 20M353.3 1547.4l20 20m0 -20l-20 20M352.8 1548.5l20 20m0 -20l-20 20M354.2 1546.9l20 20m0 -20l-20 20M354.6 1547.8l20 20m0 -20l-20 20M356.9 1546.9l20 20m0 -20l-20 20M357.4 1548.8l20 20m0 -20l-20 20M358.7 1546.7l20 20m0 -20l-20 20M357.8 1548.4l20 20m0 -20l-20 20M361.4 1547.5l20 20m0 -20l-20 20M359.6 1548.2l20 20m0 -20l-20 20M363.2 1546.7l20 20m0 -20l-20 20M362.8 1547.9l20 20m0 -20l-20 20M364.6 1547.4l20 20m0 -20l-20 20M365.1 1548.2l20 20m0 -20l-20 20M366.0 1546.5l20 20m0 -20l-20 20M365.5 1548.9l20 20m0 -20l-20 20M368.7 1546.9l20 20m0 -20l-20 20M369.1 1547.5l20 20m0 -20l-20 20M369.6 1546.6l20 20m0 -20l-20 20M370.9 1548.9l20 20m0 -20l-20 20M372.3 1547.0l20 20m0 -20l-20 20M372.7 1548.1l20 20m0 -20l-20 20M375.5 1547.2l20 20m0 -20l-20 20M375.0 1548.0l20 20m0 -20l-20 20M376.8 1546.9l20 20m0 -20l-20 20M375.9 1547.6l20 20m0 -20l-20 20M378.2 1546.6l20 20m0 -20l-20 20M379.1 1548.5l20 20m0 -20l-20 20M380.0 1547.0l20 20m0 -20l-20 20M380.4 1547.6l20 20m0 -20l-20 20M381.8 1546.5l20 20m0 -20l-20 20M382.7 1547.8l20 20m0 -20l-20 20M384.1 1546.2l20 20m0 -20l-20 20M383.6 1548.3l20 20m0 -20l-20 20M385.9 1546.5l20 20m0 -20l-20 20M387.2 1548.0l20 20m0 -20l-20 20M389.0 1546.3l20 20m0 -20l-20 20M388.6 1547.8l20 20m0 -20l-20 20M389.9 1546.9l20 20m0 -20l-20 20M391.3 1547.4l20 20m0 -20l-20 20M393.1 1547.5l20 20m0 -20l-20 20M391.8 1548.6l20 20m0 -20l-20 20M393.6 1547.3l20 20m0 -20l-20 20M395.4 1549.0l20 20m0 -20l-20 20M396.7 1547.4l20 20m0 -20l-20 20M397.2 1548.1l20 20m0 -20l-20 20M398.5 1547.3l20 20m0 -20l-20 20M398.1 1548.9l20 20m0 -20l-20 20M400.4 1547.1l20 20m0 -20l-20 20M401.3 1548.2l20 20m0 -20l-20 20M402.2 1546.0l20 20m0 -20l-20 20M402.6 1548.0l20 20m0 -20l-20 20M404.4 1546.4l20 20m0 -20l-20 20M404.9 1548.3l20 20m0 -20l-20 20M405.8 1547.2l20 20m0 -20l-20 20M406.2 1547.8l20 20m0 -20l-20 20M407.6 1546.1l20 20m0 -20l-20 20M409.4 1547.9l20 20m0 -20l-20 20M411.2 1546.7l20 20m0 -20l-20 20M410.3 1547.4l20 20m0 -20l-20 20M413.0 1547.2l20 20m0 -20l-20 20M411.7 1548.3l20 20m0 -20l-20 20M415.3 1547.1l20 20m0 -20l-20 20M413.9 1548.2l20 20m0 -20l-20 20M415.7 1547.0l20 20m0 -20l-20 20M416.2 1548.2l20 20m0 -20l-20 20M419.4 1546.7l20 20m0 -20l-20 20M418.9 1548.7l20 20m0 -20l-20 20M420.7 1547.1l20 20m0 -20l-20 20M421.2 1548.0l20 20m0 -20l-20 20M422.5 1547.6l20 20m0 -20l-20 20M421.6 1548.6l20 20m0 -20l-20 20M425.2 1546.4l20 20m0 -20l-20 20M424.3 1548.5l20 20m0 -20l-20 20M426.1 1546.3l20 20m0 -20l-20 20M425.7 1548.3l20 20m0 -20l-20 20M428.9 1546.6l20 20m0 -20l-20 20M427.5 1549.0l20 20m0 -20l-20 20M430.7 1547.1l20 20m0 -20l-20 20M429.8 1548.3l20 20m0 -20l-20 20M432.5 1546.3l20 20m0 -20l-20 20M433.4 1548.2l20 20m0 -20l-20 20M433.8 1547.0l20 20m0 -20l-20 20M434.7 1547.3l20 20m0 -20l-20 20M437.0 1546.6l20 20m0 -20l-20 20M435.6 1547.8l20 20m0 -20l-20 20M437.9 1546.9l20 20m0 -20l-20 20M438.4 1548.1l20 20m0 -20l-20 20M440.2 1546.4l20 20m0 -20l-20 20M441.1 1547.5l20 20m0 -20l-20 20M441.5 1546.2l20 20m0 -20l-20 20M442.9 1547.8l20 20m0 -20l-20 20M444.2 1546.9l20 20m0 -20l-20 20M444.7 1547.9l20 20m0 -20l-20 20M446.1 1546.0l20 20m0 -20l-20 20M447.0 1547.9l20 20m0 -20l-20 20M447.9 1546.9l20 20m0 -20l-20 20M448.3 1547.8l20 20m0 -20l-20 20M450.6 1546.7l20 20m0 -20l-20 20M449.7 1547.7l20 20m0 -20l-20 20M452.8 1546.9l20 20m0 -20l-20 20M453.3 1548.5l20 20m0 -20l-20 20M454.7 1546.9l20 20m0 -20l-20 20M454.2 1547.7l20 20m0 -20l-20 20M456.0 1546.8l20 20m0 -20l-20 20M455.6 1547.9l20 20m0 -20l-20 20M458.3 1547.0l20 20m0 -20l-20 20M457.8 1547.5l20 20m0 -20l-20 20M461.0 1546.6l20 20m0 -20l-20 20M459.6 1547.6l20 20m0 -20l-20 20M462.8 1546.6l20 20m0 -20l-20 20M461.9 1548.0l20 20m0 -20l-20 20M465.1 1545.9l20 20m0 -20l-20 20M464.6 1547.4l20 20m0 -20l-20 20M466.0 1546.6l20 20m0 -20l-20 20M467.3 1548.2l20 20m0 -20l-20 20M467.8 1546.1l20 20m0 -20l-20 20M469.1 1547.2l20 20m0 -20l-20 20M470.9 1546.3l20 20m0 -20l-20 20M471.4 1547.1l20 20m0 -20l-20 20M472.3 1545.5l20 20m0 -20l-20 20M471.8 1546.6l20 20m0 -20l-20 20M474.6 1545.3l20 20m0 -20l-20 20M474.1 1547.3l20 20m0 -20l-20 20M477.3 1544.7l20 20m0 -20l-20 20M475.9 1547.5l20 20m0 -20l-20 20M479.1 1544.8l20 20m0 -20l-20 20M477.7 1545.5l20 20m0 -20l-20 20M481.3 1543.0l20 20m0 -20l-20 20M480.9 1545.0l20 20m0 -20l-20 20M483.2 1540.9l20 20m0 -20l-20 20M481.8 1543.8l20 20m0 -20l-20 20M485.4 1535.3l20 20m0 -20l-20 20M484.1 1541.3l20 20m0 -20l-20 20M483.6 1542.3l20 20m0 -20l-20 20M486.3 1528.1l20 20m0 -20l-20 20M485.9 1533.7l20 20m0 -20l-20 20M491.8 1528.4l20 20m0 -20l-20 20M492.2 1534.8l20 20m0 -20l-20 20M493.1 1537.4l20 20m0 -20l-20 20M494.0 1539.0l20 20m0 -20l-20 20M495.4 1542.0l20 20m0 -20l-20 20M495.8 1541.3l20 20m0 -20l-20 20M496.7 1543.5l20 20m0 -20l-20 20M498.5 1541.0l20 20m0 -20l-20 20M498.1 1543.1l20 20m0 -20l-20 20M500.4 1541.3l20 20m0 -20l-20 20M501.3 1542.7l20 20m0 -20l-20 20M503.1 1534.3l20 20m0 -20l-20 20M502.2 1537.7l20 20m0 -20l-20 20M505.3 1517.2l20 20m0 -20l-20 20M504.4 1522.9l20 20m0 -20l-20 20M503.5 1530.0l20 20m0 -20l-20 20M505.8 1517.7l20 20m0 -20l-20 20M506.7 1521.9l20 20m0 -20l-20 20M507.1 1524.2l20 20m0 -20l-20 20M509.4 1507.9l20 20m0 -20l-20 20M509.0 1513.1l20 20m0 -20l-20 20M508.5 1519.8l20 20m0 -20l-20 20M507.6 1527.2l20 20m0 -20l-20 20M509.9 1499.9l20 20m0 -20l-20 20M510.8 1508.4l20 20m0 -20l-20 20M511.2 1517.2l20 20m0 -20l-20 20M511.7 1524.5l20 20m0 -20l-20 20M512.1 1532.5l20 20m0 -20l-20 20M513.0 1539.2l20 20m0 -20l-20 20M513.5 1541.5l20 20m0 -20l-20 20M513.9 1541.9l20 20m0 -20l-20 20M515.3 1544.9l20 20m0 -20l-20 20M516.2 1544.2l20 20m0 -20l-20 20M517.1 1545.6l20 20m0 -20l-20 20M517.5 1545.1l20 20m0 -20l-20 20M519.4 1547.0l20 20m0 -20l-20 20M521.2 1545.5l20 20m0 -20l-20 20M519.8 1547.7l20 20m0 -20l-20 20M522.1 1546.2l20 20m0 -20l-20 20M522.5 1547.2l20 20m0 -20l-20 20M524.3 1546.0l20 20m0 -20l-20 20M524.8 1547.4l20 20m0 -20l-20 20M527.1 1545.9l20 20m0 -20l-20 20M526.1 1547.2l20 20m0 -20l-20 20M528.9 1546.3l20 20m0 -20l-20 20M528.4 1546.8l20 20m0 -20l-20 20M531.1 1541.7l20 20m0 -20l-20 20M530.2 1545.2l20 20m0 -20l-20 20M532.5 1536.5l20 20m0 -20l-20 20M531.6 1539.9l20 20m0 -20l-20 20M533.8 1540.1l20 20m0 -20l-20 20M535.2 1545.0l20 20m0 -20l-20 20M535.6 1544.8l20 20m0 -20l-20 20M537.5 1547.5l20 20m0 -20l-20 20M538.4 1545.8l20 20m0 -20l-20 20M538.8 1546.5l20 20m0 -20l-20 20M540.6 1544.7l20 20m0 -20l-20 20M539.7 1547.2l20 20m0 -20l-20 20M542.0 1545.9l20 20m0 -20l-20 20M543.3 1547.4l20 20m0 -20l-20 20M544.7 1543.7l20 20m0 -20l-20 20M544.2 1547.0l20 20m0 -20l-20 20M546.1 1546.3l20 20m0 -20l-20 20M545.6 1547.0l20 20m0 -20l-20 20M548.3 1546.8l20 20m0 -20l-20 20M548.8 1547.4l20 20m0 -20l-20 20M551.0 1545.5l20 20m0 -20l-20 20M551.5 1547.8l20 20m0 -20l-20 20M552.8 1546.2l20 20m0 -20l-20 20M553.3 1547.7l20 20m0 -20l-20 20M553.7 1546.4l20 20m0 -20l-20 20M555.1 1547.5l20 20m0 -20l-20 20M556.0 1546.0l20 20m0 -20l-20 20M556.9 1548.0l20 20m0 -20l-20 20M559.2 1545.9l20 20m0 -20l-20 20M558.7 1548.0l20 20m0 -20l-20 20M561.4 1545.8l20 20m0 -20l-20 20M561.0 1548.6l20 20m0 -20l-20 20M563.3 1546.1l20 20m0 -20l-20 20M561.9 1548.3l20 20m0 -20l-20 20M564.6 1546.0l20 20m0 -20l-20 20M565.1 1547.2l20 20m0 -20l-20 20M566.0 1546.1l20 20m0 -20l-20 20M566.4 1547.2l20 20m0 -20l-20 20M569.1 1545.8l20 20m0 -20l-20 20M568.7 1546.7l20 20m0 -20l-20 20M569.6 1544.8l20 20m0 -20l-20 20M571.4 1547.6l20 20m0 -20l-20 20M571.8 1545.9l20 20m0 -20l-20 20M572.8 1546.7l20 20m0 -20l-20 20M575.5 1544.8l20 20m0 -20l-20 20M573.7 1546.4l20 20m0 -20l-20 20M576.8 1544.3l20 20m0 -20l-20 20M576.4 1547.1l20 20m0 -20l-20 20M579.1 1543.3l20 20m0 -20l-20 20M577.7 1545.2l20 20m0 -20l-20 20M581.4 1541.1l20 20m0 -20l-20 20M580.0 1543.6l20 20m0 -20l-20 20M583.2 1540.5l20 20m0 -20l-20 20M582.7 1542.1l20 20m0 -20l-20 20M585.4 1532.1l20 20m0 -20l-20 20M584.5 1537.3l20 20m0 -20l-20 20M583.6 1539.3l20 20m0 -20l-20 20M586.3 1528.3l20 20m0 -20l-20 20M585.9 1531.9l20 20m0 -20l-20 20M593.1 1524.2l20 20m0 -20l-20 20M593.6 1529.4l20 20m0 -20l-20 20M594.5 1536.1l20 20m0 -20l-20 20M595.4 1538.1l20 20m0 -20l-20 20M596.3 1539.2l20 20m0 -20l-20 20M597.2 1542.1l20 20m0 -20l-20 20M598.1 1541.7l20 20m0 -20l-20 20M599.0 1544.8l20 20m0 -20l-20 20M600.8 1544.2l20 20m0 -20l-20 20M601.3 1544.6l20 20m0 -20l-20 20M601.7 1543.6l20 20m0 -20l-20 20M602.2 1545.7l20 20m0 -20l-20 20M605.3 1545.1l20 20m0 -20l-20 20M604.9 1545.6l20 20m0 -20l-20 20M605.8 1545.6l20 20m0 -20l-20 20M607.1 1546.2l20 20m0 -20l-20 20M608.0 1545.2l20 20m0 -20l-20 20M609.0 1547.0l20 20m0 -20l-20 20M610.8 1546.2l20 20m0 -20l-20 20M610.3 1547.3l20 20m0 -20l-20 20M613.5 1545.9l20 20m0 -20l-20 20M613.0 1547.5l20 20m0 -20l-20 20M615.3 1545.6l20 20m0 -20l-20 20M614.8 1548.5l20 20m0 -20l-20 20M617.1 1546.3l20 20m0 -20l-20 20M615.7 1547.6l20 20m0 -20l-20 20M617.6 1545.9l20 20m0 -20l-20 20M618.5 1548.1l20 20m0 -20l-20 20M620.7 1546.0l20 20m0 -20l-20 20M619.8 1546.8l20 20m0 -20l-20 20M623.0 1546.4l20 20m0 -20l-20 20M622.5 1547.8l20 20m0 -20l-20 20M624.3 1546.7l20 20m0 -20l-20 20M625.2 1547.7l20 20m0 -20l-20 20M626.6 1546.7l20 20m0 -20l-20 20M627.1 1547.8l20 20m0 -20l-20 20M627.5 1545.8l20 20m0 -20l-20 20M628.4 1547.6l20 20m0 -20l-20 20M629.8 1546.2l20 20m0 -20l-20 20M630.2 1546.7l20 20m0 -20l-20 20M633.4 1546.2l20 20m0 -20l-20 20M632.0 1547.7l20 20m0 -20l-20 20M634.7 1546.1l20 20m0 -20l-20 20M633.8 1548.0l20 20m0 -20l-20 20M637.0 1545.2l20 20m0 -20l-20 20M637.5 1546.9l20 20m0 -20l-20 20M638.8 1544.2l20 20m0 -20l-20 20M638.4 1546.6l20 20m0 -20l-20 20M641.1 1540.7l20 20m0 -20l-20 20M640.2 1545.5l20 20m0 -20l-20 20M643.3 1528.0l20 20m0 -20l-20 20M642.4 1532.4l20 20m0 -20l-20 20M642.0 1537.5l20 20m0 -20l-20 20M641.5 1538.8l20 20m0 -20l-20 20M644.2 1522.0l20 20m0 -20l-20 20M645.2 1526.0l20 20m0 -20l-20 20M645.6 1528.9l20 20m0 -20l-20 20M646.5 1536.5l20 20m0 -20l-20 20M647.4 1542.3l20 20m0 -20l-20 20M647.9 1541.5l20 20m0 -20l-20 20M649.2 1545.5l20 20m0 -20l-20 20M650.1 1544.8l20 20m0 -20l-20 20M650.6 1546.0l20 20m0 -20l-20 20M651.9 1545.7l20 20m0 -20l-20 20M652.4 1547.1l20 20m0 -20l-20 20M654.2 1545.8l20 20m0 -20l-20 20M655.1 1547.4l20 20m0 -20l-20 20M656.5 1546.3l20 20m0 -20l-20 20M657.4 1548.1l20 20m0 -20l-20 20M657.8 1545.9l20 20m0 -20l-20 20M659.2 1547.8l20 20m0 -20l-20 20M659.6 1546.4l20 20m0 -20l-20 20M661.4 1547.8l20 20m0 -20l-20 20M663.3 1547.0l20 20m0 -20l-20 20M661.9 1548.2l20 20m0 -20l-20 20M665.1 1546.7l20 20m0 -20l-20 20M664.2 1548.5l20 20m0 -20l-20 20M666.4 1545.6l20 20m0 -20l-20 20M665.5 1548.8l20 20m0 -20l-20 20M669.1 1546.8l20 20m0 -20l-20 20M668.7 1547.5l20 20m0 -20l-20 20M671.4 1546.4l20 20m0 -20l-20 20M669.6 1548.2l20 20m0 -20l-20 20M672.3 1546.4l20 20m0 -20l-20 20M671.9 1547.6l20 20m0 -20l-20 20M675.5 1546.6l20 20m0 -20l-20 20M674.6 1548.8l20 20m0 -20l-20 20M676.4 1546.7l20 20m0 -20l-20 20M675.9 1548.1l20 20m0 -20l-20 20M677.7 1547.4l20 20m0 -20l-20 20M678.6 1548.8l20 20m0 -20l-20 20M680.4 1547.0l20 20m0 -20l-20 20M681.4 1547.8l20 20m0 -20l-20 20M683.2 1547.1l20 20m0 -20l-20 20M682.7 1547.8l20 20m0 -20l-20 20M684.1 1547.5l20 20m0 -20l-20 20M685.0 1547.9l20 20m0 -20l-20 20M685.9 1546.8l20 20m0 -20l-20 20M687.2 1548.4l20 20m0 -20l-20 20M689.5 1547.0l20 20m0 -20l-20 20M688.1 1548.0l20 20m0 -20l-20 20M691.3 1546.6l20 20m0 -20l-20 20M690.0 1549.0l20 20m0 -20l-20 20M693.1 1546.9l20 20m0 -20l-20 20M692.2 1548.4l20 20m0 -20l-20 20M694.9 1547.3l20 20m0 -20l-20 20M693.6 1547.9l20 20m0 -20l-20 20M696.7 1546.8l20 20m0 -20l-20 20M697.2 1547.7l20 20m0 -20l-20 20M697.6 1546.9l20 20m0 -20l-20 20M699.0 1548.4l20 20m0 -20l-20 20M700.8 1547.0l20 20m0 -20l-20 20M701.3 1548.0l20 20m0 -20l-20 20M702.6 1547.3l20 20m0 -20l-20 20M703.1 1547.9l20 20m0 -20l-20 20M703.5 1546.8l20 20m0 -20l-20 20M704.9 1548.2l20 20m0 -20l-20 20M706.2 1547.4l20 20m0 -20l-20 20M707.1 1549.0l20 20m0 -20l-20 20M708.1 1547.1l20 20m0 -20l-20 20M709.0 1548.2l20 20m0 -20l-20 20M710.8 1547.2l20 20m0 -20l-20 20M710.3 1548.7l20 20m0 -20l-20 20M712.6 1547.1l20 20m0 -20l-20 20M711.7 1548.3l20 20m0 -20l-20 20M714.4 1546.9l20 20m0 -20l-20 20M715.3 1548.3l20 20m0 -20l-20 20M716.6 1546.3l20 20m0 -20l-20 20M717.1 1547.7l20 20m0 -20l-20 20M718.0 1546.9l20 20m0 -20l-20 20M719.4 1547.8l20 20m0 -20l-20 20M720.3 1547.1l20 20m0 -20l-20 20M719.8 1548.3l20 20m0 -20l-20 20M722.1 1546.6l20 20m0 -20l-20 20M723.4 1547.9l20 20m0 -20l-20 20M725.2 1546.2l20 20m0 -20l-20 20M724.8 1547.7l20 20m0 -20l-20 20M725.7 1546.3l20 20m0 -20l-20 20M726.6 1547.6l20 20m0 -20l-20 20M728.4 1546.9l20 20m0 -20l-20 20M728.0 1547.9l20 20m0 -20l-20 20M729.8 1547.0l20 20m0 -20l-20 20M731.1 1548.4l20 20m0 -20l-20 20M731.6 1546.8l20 20m0 -20l-20 20M732.9 1548.2l20 20m0 -20l-20 20M733.8 1547.0l20 20m0 -20l-20 20M735.2 1547.4l20 20m0 -20l-20 20M736.1 1547.0l20 20m0 -20l-20 20M736.6 1548.4l20 20m0 -20l-20 20M737.9 1546.8l20 20m0 -20l-20 20M739.3 1547.8l20 20m0 -20l-20 20M739.7 1546.8l20 20m0 -20l-20 20M741.1 1547.8l20 20m0 -20l-20 20M742.0 1546.7l20 20m0 -20l-20 20M742.9 1548.5l20 20m0 -20l-20 20M745.2 1546.2l20 20m0 -20l-20 20M744.7 1548.0l20 20m0 -20l-20 20M747.0 1547.1l20 20m0 -20l-20 20M746.1 1547.7l20 20m0 -20l-20 20M748.8 1546.9l20 20m0 -20l-20 20M748.3 1548.1l20 20m0 -20l-20 20M749.7 1546.3l20 20m0 -20l-20 20M750.1 1547.6l20 20m0 -20l-20 20M752.4 1546.5l20 20m0 -20l-20 20M752.8 1547.9l20 20m0 -20l-20 20M754.7 1546.9l20 20m0 -20l-20 20M753.8 1548.0l20 20m0 -20l-20 20M756.9 1546.3l20 20m0 -20l-20 20M756.5 1547.7l20 20m0 -20l-20 20M759.2 1546.8l20 20m0 -20l-20 20M757.8 1548.3l20 20m0 -20l-20 20M759.6 1545.9l20 20m0 -20l-20 20M760.1 1548.2l20 20m0 -20l-20 20M762.4 1545.9l20 20m0 -20l-20 20M762.8 1547.8l20 20m0 -20l-20 20M764.2 1546.2l20 20m0 -20l-20 20M765.1 1547.2l20 20m0 -20l-20 20M766.4 1545.9l20 20m0 -20l-20 20M766.9 1547.5l20 20m0 -20l-20 20M769.1 1544.6l20 20m0 -20l-20 20M768.2 1546.1l20 20m0 -20l-20 20M771.4 1538.3l20 20m0 -20l-20 20M770.0 1542.8l20 20m0 -20l-20 20M769.6 1544.8l20 20m0 -20l-20 20M773.2 1523.5l20 20m0 -20l-20 20M772.8 1528.4l20 20m0 -20l-20 20M771.9 1535.7l20 20m0 -20l-20 20M774.1 1519.4l20 20m0 -20l-20 20M775.5 1527.6l20 20m0 -20l-20 20M775.9 1531.3l20 20m0 -20l-20 20M777.3 1537.9l20 20m0 -20l-20 20M776.8 1538.2l20 20m0 -20l-20 20M778.2 1541.7l20 20m0 -20l-20 20M779.1 1544.7l20 20m0 -20l-20 20M779.5 1544.3l20 20m0 -20l-20 20M780.5 1546.2l20 20m0 -20l-20 20M783.2 1545.8l20 20m0 -20l-20 20M781.8 1547.6l20 20m0 -20l-20 20M784.1 1546.5l20 20m0 -20l-20 20M785.0 1548.5l20 20m0 -20l-20 20M785.9 1546.1l20 20m0 -20l-20 20M786.8 1548.1l20 20m0 -20l-20 20M789.0 1546.4l20 20m0 -20l-20 20M787.7 1547.3l20 20m0 -20l-20 20M790.4 1546.6l20 20m0 -20l-20 20M790.9 1547.7l20 20m0 -20l-20 20M791.8 1546.8l20 20m0 -20l-20 20M792.7 1547.2l20 20m0 -20l-20 20M794.5 1546.5l20 20m0 -20l-20 20M795.4 1548.4l20 20m0 -20l-20 20M796.7 1546.4l20 20m0 -20l-20 20M795.8 1547.9l20 20m0 -20l-20 20M797.6 1547.0l20 20m0 -20l-20 20M798.6 1547.5l20 20m0 -20l-20 20M800.4 1546.3l20 20m0 -20l-20 20M799.9 1548.1l20 20m0 -20l-20 20M803.1 1545.8l20 20m0 -20l-20 20M802.2 1547.4l20 20m0 -20l-20 20M804.4 1546.7l20 20m0 -20l-20 20M804.0 1547.7l20 20m0 -20l-20 20M806.2 1545.8l20 20m0 -20l-20 20M807.1 1547.5l20 20m0 -20l-20 20M808.1 1546.0l20 20m0 -20l-20 20M807.6 1547.9l20 20m0 -20l-20 20M809.9 1546.4l20 20m0 -20l-20 20M811.2 1547.8l20 20m0 -20l-20 20M812.6 1546.9l20 20m0 -20l-20 20M813.0 1548.4l20 20m0 -20l-20 20M814.8 1546.0l20 20m0 -20l-20 20M814.4 1547.7l20 20m0 -20l-20 20M816.7 1547.3l20 20m0 -20l-20 20M817.1 1548.2l20 20m0 -20l-20 20M818.0 1546.7l20 20m0 -20l-20 20M818.9 1548.4l20 20m0 -20l-20 20M819.8 1545.9l20 20m0 -20l-20 20M821.2 1548.1l20 20m0 -20l-20 20M823.0 1545.8l20 20m0 -20l-20 20M822.1 1547.8l20 20m0 -20l-20 20M823.9 1546.5l20 20m0 -20l-20 20M824.3 1547.4l20 20m0 -20l-20 20M826.6 1546.3l20 20m0 -20l-20 20M826.2 1547.2l20 20m0 -20l-20 20M829.3 1545.7l20 20m0 -20l-20 20M828.4 1547.6l20 20m0 -20l-20 20M829.8 1546.6l20 20m0 -20l-20 20M830.2 1547.2l20 20m0 -20l-20 20M833.4 1546.2l20 20m0 -20l-20 20M831.6 1547.3l20 20m0 -20l-20 20M835.2 1545.3l20 20m0 -20l-20 20M834.8 1547.4l20 20m0 -20l-20 20M837.0 1544.9l20 20m0 -20l-20 20M836.1 1546.1l20 20m0 -20l-20 20M838.4 1543.4l20 20m0 -20l-20 20M837.9 1545.6l20 20m0 -20l-20 20M841.1 1540.4l20 20m0 -20l-20 20M839.7 1543.0l20 20m0 -20l-20 20M843.3 1534.6l20 20m0 -20l-20 20M842.4 1539.9l20 20m0 -20l-20 20M841.5 1541.1l20 20m0 -20l-20 20M845.2 1522.2l20 20m0 -20l-20 20M844.3 1528.9l20 20m0 -20l-20 20M843.8 1531.7l20 20m0 -20l-20 20M846.5 1520.8l20 20m0 -20l-20 20M847.4 1522.4l20 20m0 -20l-20 20M847.9 1523.6l20 20m0 -20l-20 20M848.8 1526.9l20 20m0 -20l-20 20M851.5 1508.9l20 20m0 -20l-20 20M850.6 1516.2l20 20m0 -20l-20 20M849.7 1522.8l20 20m0 -20l-20 20M852.4 1503.1l20 20m0 -20l-20 20M852.9 1506.2l20 20m0 -20l-20 20M853.8 1512.6l20 20m0 -20l-20 20M854.2 1518.1l20 20m0 -20l-20 20M854.7 1523.3l20 20m0 -20l-20 20M855.1 1525.0l20 20m0 -20l-20 20M855.6 1531.1l20 20m0 -20l-20 20M856.0 1535.3l20 20m0 -20l-20 20M856.9 1538.6l20 20m0 -20l-20 20M857.8 1539.9l20 20m0 -20l-20 20M858.7 1543.4l20 20m0 -20l-20 20M859.6 1543.4l20 20m0 -20l-20 20M861.4 1545.0l20 20m0 -20l-20 20M862.4 1545.1l20 20m0 -20l-20 20M861.9 1546.3l20 20m0 -20l-20 20M863.7 1545.2l20 20m0 -20l-20 20M865.1 1546.6l20 20m0 -20l-20 20M865.5 1545.4l20 20m0 -20l-20 20M866.4 1547.1l20 20m0 -20l-20 20M869.1 1545.3l20 20m0 -20l-20 20M867.8 1546.9l20 20m0 -20l-20 20M870.5 1546.5l20 20m0 -20l-20 20M869.6 1547.3l20 20m0 -20l-20 20M872.3 1546.0l20 20m0 -20l-20 20M873.2 1548.2l20 20m0 -20l-20 20M873.7 1545.8l20 20m0 -20l-20 20M874.6 1547.6l20 20m0 -20l-20 20M877.3 1547.0l20 20m0 -20l-20 20M876.8 1548.2l20 20m0 -20l-20 20M879.1 1546.2l20 20m0 -20l-20 20M877.7 1547.7l20 20m0 -20l-20 20M879.5 1546.3l20 20m0 -20l-20 20M880.9 1547.9l20 20m0 -20l-20 20M883.2 1545.4l20 20m0 -20l-20 20M881.8 1548.2l20 20m0 -20l-20 20M884.5 1546.1l20 20m0 -20l-20 20M883.6 1547.1l20 20m0 -20l-20 20M886.8 1546.4l20 20m0 -20l-20 20M885.9 1547.6l20 20m0 -20l-20 20M888.6 1545.6l20 20m0 -20l-20 20M888.1 1547.4l20 20m0 -20l-20 20M891.3 1544.7l20 20m0 -20l-20 20M889.5 1546.5l20 20m0 -20l-20 20M893.1 1538.6l20 20m0 -20l-20 20M892.2 1542.9l20 20m0 -20l-20 20M891.8 1543.5l20 20m0 -20l-20 20M895.4 1523.8l20 20m0 -20l-20 20M894.5 1528.5l20 20m0 -20l-20 20M893.6 1535.8l20 20m0 -20l-20 20M895.8 1523.6l20 20m0 -20l-20 20M896.7 1529.4l20 20m0 -20l-20 20M897.2 1532.1l20 20m0 -20l-20 20M897.6 1536.2l20 20m0 -20l-20 20M899.0 1541.4l20 20m0 -20l-20 20M899.5 1543.7l20 20m0 -20l-20 20M901.3 1545.0l20 20m0 -20l-20 20M900.8 1546.5l20 20m0 -20l-20 20M901.7 1545.8l20 20m0 -20l-20 20M902.2 1547.4l20 20m0 -20l-20 20M905.3 1546.0l20 20m0 -20l-20 20M904.4 1547.5l20 20m0 -20l-20 20M906.7 1546.1l20 20m0 -20l-20 20M907.2 1548.1l20 20m0 -20l-20 20M909.4 1547.1l20 20m0 -20l-20 20M909.0 1547.8l20 20m0 -20l-20 20M910.3 1546.1l20 20m0 -20l-20 20M911.2 1547.3l20 20m0 -20l-20 20M913.0 1546.6l20 20m0 -20l-20 20M912.6 1547.7l20 20m0 -20l-20 20M913.9 1546.6l20 20m0 -20l-20 20M914.8 1547.5l20 20m0 -20l-20 20M917.1 1546.0l20 20m0 -20l-20 20M916.2 1548.0l20 20m0 -20l-20 20M918.0 1547.4l20 20m0 -20l-20 20M918.5 1548.9l20 20m0 -20l-20 20M921.2 1546.5l20 20m0 -20l-20 20M919.8 1548.2l20 20m0 -20l-20 20M923.4 1544.0l20 20m0 -20l-20 20M923.0 1548.4l20 20m0 -20l-20 20M924.3 1546.4l20 20m0 -20l-20 20M923.9 1546.9l20 20m0 -20l-20 20M926.2 1547.0l20 20m0 -20l-20 20M927.1 1547.9l20 20m0 -20l-20 20M928.4 1546.9l20 20m0 -20l-20 20M927.5 1547.6l20 20m0 -20l-20 20M930.7 1546.8l20 20m0 -20l-20 20M930.2 1547.3l20 20m0 -20l-20 20M931.6 1546.6l20 20m0 -20l-20 20M933.4 1549.0l20 20m0 -20l-20 20M934.3 1547.0l20 20m0 -20l-20 20M933.8 1547.9l20 20m0 -20l-20 20M937.0 1547.1l20 20m0 -20l-20 20M936.6 1548.3l20 20m0 -20l-20 20M937.9 1546.8l20 20m0 -20l-20 20M939.3 1548.0l20 20m0 -20l-20 20M941.1 1546.9l20 20m0 -20l-20 20M940.2 1548.5l20 20m0 -20l-20 20M942.4 1546.6l20 20m0 -20l-20 20M942.0 1548.0l20 20m0 -20l-20 20M944.3 1546.8l20 20m0 -20l-20 20M943.8 1548.1l20 20m0 -20l-20 20M947.0 1546.7l20 20m0 -20l-20 20M946.1 1548.1l20 20m0 -20l-20 20M949.2 1546.6l20 20m0 -20l-20 20M947.9 1548.5l20 20m0 -20l-20 20M951.0 1547.4l20 20m0 -20l-20 20M949.7 1549.0l20 20m0 -20l-20 20M951.9 1546.7l20 20m0 -20l-20 20M953.3 1548.5l20 20m0 -20l-20 20M955.1 1546.8l20 20m0 -20l-20 20M954.2 1547.6l20 20m0 -20l-20 20M955.6 1546.9l20 20m0 -20l-20 20M956.0 1547.6l20 20m0 -20l-20 20M957.8 1547.5l20 20m0 -20l-20 20M958.7 1548.7l20 20m0 -20l-20 20M961.5 1546.8l20 20m0 -20l-20 20M960.1 1548.0l20 20m0 -20l-20 20M962.4 1546.7l20 20m0 -20l-20 20M962.8 1547.8l20 20m0 -20l-20 20M963.7 1547.1l20 20m0 -20l-20 20M964.2 1547.7l20 20m0 -20l-20 20M965.5 1547.5l20 20m0 -20l-20 20M967.3 1549.2l20 20m0 -20l-20 20M968.7 1547.0l20 20m0 -20l-20 20M967.8 1547.3l20 20m0 -20l-20 20M969.6 1547.2l20 20m0 -20l-20 20M970.5 1547.5l20 20m0 -20l-20 20M971.9 1547.1l20 20m0 -20l-20 20M972.8 1548.1l20 20m0 -20l-20 20M975.5 1547.3l20 20m0 -20l-20 20M975.0 1548.0l20 20m0 -20l-20 20M977.3 1546.4l20 20m0 -20l-20 20M975.9 1547.3l20 20m0 -20l-20 20M978.6 1546.5l20 20m0 -20l-20 20M979.1 1548.2l20 20m0 -20l-20 20M980.0 1546.8l20 20m0 -20l-20 20M979.6 1548.0l20 20m0 -20l-20 20M982.7 1547.3l20 20m0 -20l-20 20M981.8 1548.5l20 20m0 -20l-20 20M985.0 1547.3l20 20m0 -20l-20 20M984.5 1548.3l20 20m0 -20l-20 20M986.3 1546.8l20 20m0 -20l-20 20M985.9 1548.7l20 20m0 -20l-20 20M988.6 1546.3l20 20m0 -20l-20 20M987.7 1548.0l20 20m0 -20l-20 20M991.3 1546.3l20 20m0 -20l-20 20M990.0 1547.9l20 20m0 -20l-20 20M991.8 1547.2l20 20m0 -20l-20 20M992.2 1547.9l20 20m0 -20l-20 20M994.0 1545.9l20 20m0 -20l-20 20M994.9 1547.5l20 20m0 -20l-20 20M996.3 1545.4l20 20m0 -20l-20 20M996.7 1548.1l20 20m0 -20l-20 20M999.5 1546.0l20 20m0 -20l-20 20M998.1 1548.7l20 20m0 -20l-20 20M999.9 1545.8l20 20m0 -20l-20 20M1000.8 1547.2l20 20m0 -20l-20 20M1001.7 1545.5l20 20m0 -20l-20 20M1002.6 1547.0l20 20m0 -20l-20 20M1005.3 1541.5l20 20m0 -20l-20 20M1004.0 1545.6l20 20m0 -20l-20 20M1007.2 1538.8l20 20m0 -20l-20 20M1005.8 1540.9l20 20m0 -20l-20 20M1007.6 1537.8l20 20m0 -20l-20 20M1008.5 1540.9l20 20m0 -20l-20 20M1009.9 1542.2l20 20m0 -20l-20 20M1010.8 1544.3l20 20m0 -20l-20 20M1012.1 1544.2l20 20m0 -20l-20 20M1012.6 1547.0l20 20m0 -20l-20 20M1014.8 1545.0l20 20m0 -20l-20 20M1014.4 1546.1l20 20m0 -20l-20 20M1017.1 1541.1l20 20m0 -20l-20 20M1015.8 1544.9l20 20m0 -20l-20 20M1019.4 1535.7l20 20m0 -20l-20 20M1017.6 1539.8l20 20m0 -20l-20 20M1019.8 1538.6l20 20m0 -20l-20 20M1021.2 1541.4l20 20m0 -20l-20 20M1023.0 1539.3l20 20m0 -20l-20 20M1022.5 1543.5l20 20m0 -20l-20 20M1023.4 1544.7l20 20m0 -20l-20 20M1023.9 1545.1l20 20m0 -20l-20 20M1025.3 1547.4l20 20m0 -20l-20 20M1026.6 1546.7l20 20m0 -20l-20 20M1026.2 1548.2l20 20m0 -20l-20 20M1027.5 1546.0l20 20m0 -20l-20 20M1029.3 1547.7l20 20m0 -20l-20 20M1029.8 1546.7l20 20m0 -20l-20 20M1031.1 1547.5l20 20m0 -20l-20 20M1033.4 1546.9l20 20m0 -20l-20 20M1031.6 1548.2l20 20m0 -20l-20 20M1034.8 1546.5l20 20m0 -20l-20 20M1035.2 1547.7l20 20m0 -20l-20 20M1036.6 1547.1l20 20m0 -20l-20 20M1037.5 1548.4l20 20m0 -20l-20 20M1039.3 1546.3l20 20m0 -20l-20 20M1037.9 1548.4l20 20m0 -20l-20 20M1040.6 1546.9l20 20m0 -20l-20 20M1040.2 1547.3l20 20m0 -20l-20 20M1043.4 1546.5l20 20m0 -20l-20 20M1042.0 1548.4l20 20m0 -20l-20 20M1044.7 1546.6l20 20m0 -20l-20 20M1044.3 1547.8l20 20m0 -20l-20 20M1046.1 1547.4l20 20m0 -20l-20 20M1047.4 1548.2l20 20m0 -20l-20 20M1048.3 1546.5l20 20m0 -20l-20 20M1048.8 1547.4l20 20m0 -20l-20 20M258.4 1243.4l20 20m0 -20l-20 20M258.4 1358.5l20 20m0 -20l-20 20M258.4 1468.0l20 20m0 -20l-20 20M258.4 1482.0l20 20m0 -20l-20 20M258.4 1500.5l20 20m0 -20l-20 20M258.4 1515.6l20 20m0 -20l-20 20M489.0 1438.0l20 20m0 -20l-20 20M489.0 1457.5l20 20m0 -20l-20 20M489.0 1476.8l20 20m0 -20l-20 20M489.0 1487.6l20 20m0 -20l-20 20M489.0 1502.7l20 20m0 -20l-20 20M489.0 1520.0l20 20m0 -20l-20 20M589.8 1347.7l20 20m0 -20l-20 20M589.8 1353.0l20 20m0 -20l-20 20M589.8 1410.0l20 20m0 -20l-20 20M589.8 1446.7l20 20m0 -20l-20 20M589.8 1498.0l20 20m0 -20l-20 20M591.0 1506.0l20 20m0 -20l-20 20M589.8 1522.0l20 20m0 -20l-20 20" stroke="#000" stroke-width="2.8" fill="none"/>
<polyline points="156.00,1558.5 158.00,1558.5 160.00,1558.5 162.00,1558.5 164.00,1558.5 166.00,1558.5 168.00,1558.5 170.00,1558.5 172.00,1558.5 174.00,1558.5 176.00,1558.5 178.00,1558.5 180.00,1558.5 182.00,1558.5 184.00,1558.5 186.00,1558.5 188.00,1558.5 190.00,1558.5 192.00,1558.5 194.00,1558.5 196.00,1558.5 198.00,1558.5 200.00,1558.5 202.00,1558.5 204.00,1558.5 206.00,1558.5 208.00,1558.5 210.00,1558.4 212.00,1558.4 214.00,1558.4 216.00,1558.4 218.00,1558.4 220.00,1558.4 222.00,1558.4 224.00,1558.4 226.00,1558.4 228.00,1558.4 230.00,1558.4 232.00,1558.4 234.00,1558.3 236.00,1558.3 238.00,1558.3 240.00,1558.3 242.00,1558.2 244.00,1558.2 246.00,1558.1 248.00,1558.0 250.00,1557.9 252.00,1557.8 254.00,1557.6 256.00,1557.3 258.00,1556.7 258.25,1556.6 258.50,1556.6 258.75,1556.5 259.00,1556.3 259.25,1556.2 259.50,1556.1 259.75,1556.0 260.00,1555.8 260.25,1555.6 260.50,1555.5 260.75,1555.3 261.00,1555.1 261.25,1554.8 261.50,1554.6 261.75,1554.3 262.00,1553.9 262.25,1553.6 262.50,1553.2 262.75,1552.7 263.00,1552.2 263.25,1551.6 263.50,1550.9 263.75,1550.1 264.00,1549.2 264.25,1548.1 264.50,1546.8 264.75,1545.1 265.00,1543.0 265.25,1540.1 265.50,1536.0 265.75,1530.0 266.00,1521.4 266.25,1508.8 266.50,1491.3 266.75,1467.7 267.00,1437.6 267.25,1401.5 267.50,1361.2 267.75,1320.5 268.00,1285.4 268.25,1263.6 268.50,1261.5 268.75,1279.8 269.00,1312.8 269.25,1353.0 269.50,1393.7 269.75,1430.8 270.00,1462.2 270.25,1487.1 270.50,1505.7 270.75,1519.2 271.00,1528.6 271.25,1535.0 271.50,1539.4 271.75,1542.5 272.00,1544.7 272.25,1546.5 272.50,1547.8 272.75,1549.0 273.00,1549.9 273.25,1550.7 273.50,1551.4 273.75,1552.1 274.00,1552.6 274.25,1553.1 274.50,1553.5 274.75,1553.9 275.00,1554.2 275.25,1554.5 275.50,1554.8 275.75,1555.0 276.00,1555.2 276.25,1555.4 276.50,1555.6 276.75,1555.8 277.00,1555.9 277.25,1556.1 277.50,1556.2 277.75,1556.3 278.00,1556.4 278.25,1556.5 278.50,1556.6 278.75,1556.7 279.00,1556.8 279.25,1556.9 279.50,1556.9 279.75,1557.0 280.00,1557.1 280.25,1557.1 280.50,1557.2 282.50,1557.5 284.50,1557.8 286.50,1557.9 288.50,1558.0 290.50,1558.1 292.50,1558.2 294.50,1558.2 296.50,1558.3 298.50,1558.3 300.50,1558.3 302.50,1558.3 304.50,1558.4 306.50,1558.4 308.50,1558.4 310.50,1558.4 312.50,1558.4 314.50,1558.4 316.50,1558.4 318.50,1558.4 320.50,1558.4 322.50,1558.4 324.50,1558.4 326.50,1558.4 328.50,1558.5 330.50,1558.5 332.50,1558.5 334.50,1558.5 336.50,1558.5 338.50,1558.5 340.50,1558.5 342.50,1558.5 344.50,1558.5 346.50,1558.5 348.50,1558.5 350.50,1558.5 352.50,1558.5 354.50,1558.5 356.50,1558.5 358.50,1558.5 360.50,1558.5 362.50,1558.5 364.50,1558.5 366.50,1558.5 368.50,1558.5 370.50,1558.5 372.50,1558.5 374.50,1558.5 376.50,1558.5 378.50,1558.5 380.50,1558.5 382.50,1558.5 384.50,1558.5 386.50,1558.5 388.50,1558.5 390.50,1558.5 392.50,1558.5 394.50,1558.5 396.50,1558.5 398.50,1558.5 400.50,1558.5 402.50,1558.5 404.50,1558.5 406.50,1558.5 408.50,1558.5 410.50,1558.5 412.50,1558.5 414.50,1558.5 416.50,1558.5 418.50,1558.5 420.50,1558.5 422.50,1558.5 424.50,1558.5 426.50,1558.5 428.50,1558.5 430.50,1558.5 432.50,1558.5 434.50,1558.5 436.50,1558.5 438.50,1558.5 440.50,1558.5 442.50,1558.5 444.50,1558.5 446.50,1558.5 448.50,1558.5 450.50,1558.5 452.50,1558.5 454.50,1558.5 456.50,1558.4 458.50,1558.4 460.50,1558.4 462.50,1558.4 464.50,1558.4 466.50,1558.4 468.50,1558.4 470.50,1558.3 472.50,1558.3 474.50,1558.3 476.50,1558.3 478.50,1558.2 480.50,1558.2 482.50,1558.1 484.50,1558.0 486.50,1557.9 488.50,1557.6 488.75,1557.6 489.00,1557.6 489.25,1557.5 489.50,1557.5 489.75,1557.4 490.00,1557.4 490.25,1557.3 490.50,1557.2 490.75,1557.2 491.00,1557.1 491.25,1557.0 491.50,1556.9 491.75,1556.8 492.00,1556.7 492.25,1556.6 492.50,1556.4 492.75,1556.3 493.00,1556.1 493.25,1555.9 493.50,1555.7 493.75,1555.5 494.00,1555.2 494.25,1554.9 494.50,1554.5 494.75,1554.1 495.00,1553.6 495.25,1552.9 495.50,1552.0 495.75,1550.8 496.00,1549.1 496.25,1546.7 496.50,1543.3 496.75,1538.7 497.00,1532.3 497.25,1524.1 497.50,1513.8 497.75,1501.7 498.00,1488.4 498.25,1474.7 498.50,1462.4 498.75,1453.6 499.00,1450.3 499.25,1453.5 499.50,1462.3 499.75,1474.6 500.00,1488.3 500.25,1501.6 500.50,1513.7 500.75,1523.9 501.00,1532.2 501.25,1538.5 501.50,1543.1 501.75,1546.5 502.00,1548.9 502.25,1550.5 502.50,1551.7 502.75,1552.6 503.00,1553.2 503.25,1553.7 503.50,1554.1 503.75,1554.5 504.00,1554.8 504.25,1555.0 504.50,1555.2 504.75,1555.4 505.00,1555.6 505.25,1555.7 505.50,1555.8 505.75,1555.9 506.00,1556.0 506.25,1556.0 506.50,1556.1 506.75,1556.1 507.00,1556.1 507.25,1556.2 507.50,1556.2 507.75,1556.2 508.00,1556.1 508.25,1556.1 508.50,1556.1 508.75,1556.0 509.00,1555.9 509.25,1555.9 509.50,1555.8 509.75,1555.6 510.00,1555.5 510.25,1555.3 510.50,1555.1 510.75,1554.8 511.00,1554.5 511.25,1554.1 511.50,1553.6 511.75,1553.0 512.00,1552.2 512.25,1551.3 512.50,1550.2 512.75,1549.0 513.00,1547.5 513.25,1545.9 513.50,1544.0 513.75,1542.0 514.00,1539.8 514.25,1537.6 514.50,1535.4 514.75,1533.4 515.00,1531.7 515.25,1530.6 515.50,1530.0 515.75,1530.2 516.00,1530.9 516.25,1532.0 516.50,1533.4 516.75,1534.8 517.00,1536.1 517.25,1537.0 517.50,1537.4 517.75,1537.1 518.00,1536.2 518.25,1534.5 518.50,1532.0 518.75,1528.8 519.00,1525.2 519.25,1521.3 519.50,1517.8 519.75,1515.0 520.00,1513.8 520.25,1514.3 520.50,1516.6 520.75,1520.3 521.00,1524.8 521.25,1529.5 521.50,1534.1 521.75,1538.4 522.00,1542.1 522.25,1545.2 522.50,1547.7 522.75,1549.7 523.00,1551.3 523.25,1552.5 523.50,1553.4 523.75,1554.1 524.00,1554.6 524.25,1555.0 524.50,1555.4 524.75,1555.6 525.00,1555.9 525.25,1556.1 525.50,1556.2 525.75,1556.4 526.00,1556.5 526.25,1556.6 526.50,1556.8 526.75,1556.8 527.00,1556.9 527.25,1557.0 527.50,1557.1 527.75,1557.2 528.00,1557.2 528.25,1557.3 528.50,1557.3 528.75,1557.4 529.00,1557.4 529.25,1557.5 529.50,1557.5 529.75,1557.5 530.00,1557.6 530.25,1557.6 530.50,1557.6 530.75,1557.7 531.00,1557.7 531.25,1557.7 531.50,1557.7 531.75,1557.7 532.00,1557.8 532.25,1557.8 532.50,1557.8 532.75,1557.8 533.00,1557.8 533.25,1557.8 533.50,1557.8 533.75,1557.8 534.00,1557.8 534.25,1557.8 534.50,1557.8 534.75,1557.8 535.00,1557.8 535.25,1557.8 535.50,1557.8 535.75,1557.8 536.00,1557.8 536.25,1557.8 536.50,1557.8 536.75,1557.8 537.00,1557.7 537.25,1557.7 537.50,1557.7 537.75,1557.7 538.00,1557.6 538.25,1557.6 538.50,1557.5 538.75,1557.4 539.00,1557.3 539.25,1557.1 539.50,1556.9 539.75,1556.7 540.00,1556.3 540.25,1555.9 540.50,1555.3 540.75,1554.6 541.00,1553.8 541.25,1552.9 541.50,1551.8 541.75,1550.7 542.00,1549.7 542.25,1548.8 542.50,1548.2 542.75,1548.0 543.00,1548.4 543.25,1549.1 543.50,1550.1 543.75,1551.2 544.00,1552.3 544.25,1553.3 544.50,1554.2 544.75,1555.0 545.00,1555.6 545.25,1556.1 545.50,1556.5 545.75,1556.8 546.00,1557.1 546.25,1557.3 546.50,1557.4 546.75,1557.5 547.00,1557.6 547.25,1557.7 547.50,1557.7 547.75,1557.8 548.00,1557.8 548.25,1557.9 548.50,1557.9 548.75,1557.9 549.00,1558.0 549.25,1558.0 549.50,1558.0 549.75,1558.0 550.00,1558.0 550.25,1558.1 550.50,1558.1 550.75,1558.1 551.00,1558.1 551.25,1558.1 551.50,1558.1 551.75,1558.1 552.00,1558.1 552.25,1558.2 552.50,1558.2 552.75,1558.2 553.00,1558.2 553.25,1558.2 553.50,1558.2 553.75,1558.2 554.00,1558.2 554.25,1558.2 554.50,1558.2 554.75,1558.2 556.75,1558.2 558.75,1558.3 560.75,1558.3 562.75,1558.3 564.75,1558.3 566.75,1558.3 568.75,1558.3 570.75,1558.2 572.75,1558.2 574.75,1558.2 576.75,1558.1 578.75,1558.1 580.75,1558.0 582.75,1557.9 584.75,1557.7 586.75,1557.5 588.75,1557.1 589.00,1557.0 589.25,1556.9 589.50,1556.8 589.75,1556.8 590.00,1556.7 590.25,1556.6 590.50,1556.5 590.75,1556.4 591.00,1556.2 591.25,1556.1 591.50,1556.0 591.75,1555.8 592.00,1555.6 592.25,1555.5 592.50,1555.3 592.75,1555.0 593.00,1554.8 593.25,1554.5 593.50,1554.2 593.75,1553.9 594.00,1553.5 594.25,1553.0 594.50,1552.5 594.75,1552.0 595.00,1551.3 595.25,1550.5 595.50,1549.6 595.75,1548.4 596.00,1546.9 596.25,1544.9 596.50,1542.2 596.75,1538.4 597.00,1533.2 597.25,1526.1 597.50,1516.6 597.75,1504.2 598.00,1488.6 598.25,1469.8 598.50,1448.1 598.75,1424.5 599.00,1400.7 599.25,1379.2 599.50,1363.1 599.75,1355.8 600.00,1359.0 600.25,1371.9 600.50,1391.6 600.75,1414.9 601.00,1438.8 601.25,1461.4 601.50,1481.4 601.75,1498.4 602.00,1512.0 602.25,1522.7 602.50,1530.7 602.75,1536.6 603.00,1540.8 603.25,1543.9 603.50,1546.2 603.75,1547.8 604.00,1549.1 604.25,1550.2 604.50,1551.0 604.75,1551.7 605.00,1552.3 605.25,1552.8 605.50,1553.3 605.75,1553.7 606.00,1554.0 606.25,1554.4 606.50,1554.7 606.75,1554.9 607.00,1555.1 607.25,1555.4 607.50,1555.6 607.75,1555.7 608.00,1555.9 608.25,1556.0 608.50,1556.2 608.75,1556.3 609.00,1556.4 609.25,1556.5 609.50,1556.6 609.75,1556.7 610.00,1556.8 610.25,1556.9 610.50,1556.9 610.75,1557.0 611.00,1557.1 611.25,1557.1 611.50,1557.2 611.75,1557.2 612.00,1557.3 614.00,1557.6 616.00,1557.8 618.00,1557.9 620.00,1558.0 622.00,1558.1 624.00,1558.1 626.00,1558.2 628.00,1558.2 630.00,1558.2 632.00,1558.2 634.00,1558.2 636.00,1558.2 638.00,1558.2 640.00,1558.1 642.00,1558.0 644.00,1557.9 644.25,1557.8 644.50,1557.8 644.75,1557.8 645.00,1557.8 645.25,1557.7 645.50,1557.7 645.75,1557.6 646.00,1557.6 646.25,1557.6 646.50,1557.5 646.75,1557.4 647.00,1557.4 647.25,1557.3 647.50,1557.2 647.75,1557.2 648.00,1557.1 648.25,1556.9 648.50,1556.8 648.75,1556.7 649.00,1556.5 649.25,1556.3 649.50,1556.1 649.75,1555.8 650.00,1555.4 650.25,1554.9 650.50,1554.4 650.75,1553.7 651.00,1552.9 651.25,1552.0 651.50,1550.9 651.75,1549.6 652.00,1548.1 652.25,1546.4 652.50,1544.6 652.75,1542.7 653.00,1540.6 653.25,1538.6 653.50,1536.8 653.75,1535.3 654.00,1534.2 654.25,1533.7 654.50,1533.9 654.75,1534.8 655.00,1536.1 655.25,1537.9 655.50,1539.8 655.75,1541.9 656.00,1543.8 656.25,1545.7 656.50,1547.5 656.75,1549.0 657.00,1550.4 657.25,1551.6 657.50,1552.6 657.75,1553.5 658.00,1554.2 658.25,1554.8 658.50,1555.2 658.75,1555.6 659.00,1556.0 659.25,1556.2 659.50,1556.4 659.75,1556.6 660.00,1556.8 660.25,1557.0 660.50,1557.1 660.75,1557.2 661.00,1557.3 661.25,1557.4 661.50,1557.4 661.75,1557.5 662.00,1557.6 662.25,1557.6 662.50,1557.7 662.75,1557.7 663.00,1557.8 663.25,1557.8 663.50,1557.8 663.75,1557.9 664.00,1557.9 664.25,1557.9 664.50,1558.0 664.75,1558.0 665.00,1558.0 665.25,1558.0 665.50,1558.0 665.75,1558.1 666.00,1558.1 666.25,1558.1 666.50,1558.1 668.50,1558.2 670.50,1558.3 672.50,1558.3 674.50,1558.4 676.50,1558.4 678.50,1558.4 680.50,1558.4 682.50,1558.4 684.50,1558.4 686.50,1558.4 688.50,1558.4 690.50,1558.5 692.50,1558.5 694.50,1558.5 696.50,1558.5 698.50,1558.5 700.50,1558.5 702.50,1558.5 704.50,1558.5 706.50,1558.5 708.50,1558.5 710.50,1558.5 712.50,1558.5 714.50,1558.5 716.50,1558.5 718.50,1558.5 720.50,1558.5 722.50,1558.5 724.50,1558.5 726.50,1558.5 728.50,1558.5 730.50,1558.5 732.50,1558.5 734.50,1558.5 736.50,1558.5 738.50,1558.5 740.50,1558.5 742.50,1558.5 744.50,1558.5 746.50,1558.5 748.50,1558.4 750.50,1558.4 752.50,1558.4 754.50,1558.4 756.50,1558.4 758.50,1558.4 760.50,1558.4 762.50,1558.4 764.50,1558.3 766.50,1558.3 768.50,1558.2 770.50,1558.2 772.50,1558.0 772.75,1558.0 773.00,1558.0 773.25,1558.0 773.50,1557.9 773.75,1557.9 774.00,1557.9 774.25,1557.8 774.50,1557.8 774.75,1557.8 775.00,1557.7 775.25,1557.7 775.50,1557.7 775.75,1557.6 776.00,1557.6 776.25,1557.5 776.50,1557.4 776.75,1557.4 777.00,1557.3 777.25,1557.2 777.50,1557.1 777.75,1557.0 778.00,1556.9 778.25,1556.8 778.50,1556.6 778.75,1556.4 779.00,1556.2 779.25,1556.0 779.50,1555.7 779.75,1555.3 780.00,1554.9 780.25,1554.3 780.50,1553.7 780.75,1552.9 781.00,1551.9 781.25,1550.7 781.50,1549.4 781.75,1547.8 782.00,1546.1 782.25,1544.1 782.50,1542.0 782.75,1539.7 783.00,1537.5 783.25,1535.3 783.50,1533.3 783.75,1531.8 784.00,1530.8 784.25,1530.6 784.50,1531.1 784.75,1532.3 785.00,1534.0 785.25,1536.1 785.50,1538.4 785.75,1540.7 786.00,1542.9 786.25,1544.9 786.50,1546.8 786.75,1548.5 787.00,1550.0 787.25,1551.2 787.50,1552.3 787.75,1553.2 788.00,1553.9 788.25,1554.6 788.50,1555.1 788.75,1555.5 789.00,1555.8 789.25,1556.1 789.50,1556.3 789.75,1556.5 790.00,1556.7 790.25,1556.8 790.50,1557.0 790.75,1557.1 791.00,1557.2 791.25,1557.2 791.50,1557.3 791.75,1557.4 792.00,1557.5 792.25,1557.5 792.50,1557.6 792.75,1557.6 793.00,1557.7 793.25,1557.7 793.50,1557.8 793.75,1557.8 794.00,1557.8 794.25,1557.9 794.50,1557.9 794.75,1557.9 795.00,1557.9 795.25,1558.0 795.50,1558.0 795.75,1558.0 796.00,1558.0 796.25,1558.0 798.25,1558.1 800.25,1558.2 802.25,1558.3 804.25,1558.3 806.25,1558.3 808.25,1558.3 810.25,1558.3 812.25,1558.3 814.25,1558.3 816.25,1558.3 818.25,1558.3 820.25,1558.3 822.25,1558.3 824.25,1558.3 826.25,1558.2 828.25,1558.2 830.25,1558.2 832.25,1558.2 834.25,1558.1 836.25,1558.0 838.25,1557.9 840.25,1557.8 842.25,1557.7 844.25,1557.4 844.50,1557.4 844.75,1557.4 845.00,1557.3 845.25,1557.3 845.50,1557.2 845.75,1557.2 846.00,1557.1 846.25,1557.1 846.50,1557.0 846.75,1556.9 847.00,1556.9 847.25,1556.8 847.50,1556.7 847.75,1556.6 848.00,1556.5 848.25,1556.4 848.50,1556.3 848.75,1556.2 849.00,1556.1 849.25,1555.9 849.50,1555.7 849.75,1555.5 850.00,1555.3 850.25,1555.1 850.50,1554.8 850.75,1554.4 851.00,1554.0 851.25,1553.6 851.50,1553.0 851.75,1552.4 852.00,1551.7 852.25,1550.9 852.50,1550.0 852.75,1548.9 853.00,1547.8 853.25,1546.5 853.50,1545.1 853.75,1543.7 854.00,1542.1 854.25,1540.5 854.50,1538.9 854.75,1537.3 855.00,1535.7 855.25,1534.4 855.50,1533.3 855.75,1532.5 856.00,1532.0 856.25,1531.9 856.50,1532.2 856.75,1532.7 857.00,1533.4 857.25,1534.3 857.50,1535.1 857.75,1535.9 858.00,1536.5 858.25,1537.0 858.50,1537.2 858.75,1537.2 859.00,1536.8 859.25,1536.2 859.50,1535.3 859.75,1534.0 860.00,1532.5 860.25,1530.7 860.50,1528.6 860.75,1526.5 861.00,1524.2 861.25,1521.9 861.50,1519.8 861.75,1518.0 862.00,1516.6 862.25,1515.7 862.50,1515.5 862.75,1516.0 863.00,1517.2 863.25,1518.9 863.50,1521.1 863.75,1523.6 864.00,1526.3 864.25,1529.1 864.50,1531.8 864.75,1534.4 865.00,1536.9 865.25,1539.3 865.50,1541.4 865.75,1543.4 866.00,1545.1 866.25,1546.6 866.50,1548.0 866.75,1549.2 867.00,1550.2 867.25,1551.1 867.50,1551.9 867.75,1552.5 868.00,1553.1 868.25,1553.6 868.50,1554.0 868.75,1554.3 869.00,1554.6 869.25,1554.9 869.50,1555.1 869.75,1555.3 870.00,1555.5 870.25,1555.7 870.50,1555.8 870.75,1556.0 871.00,1556.1 871.25,1556.2 871.50,1556.3 871.75,1556.4 872.00,1556.5 872.25,1556.6 872.50,1556.7 872.75,1556.8 873.00,1556.8 873.25,1556.9 873.50,1557.0 873.75,1557.0 874.00,1557.1 874.25,1557.1 874.50,1557.2 876.50,1557.5 878.50,1557.7 880.50,1557.8 882.50,1557.9 884.50,1558.0 886.50,1558.0 888.50,1558.0 890.50,1558.0 892.50,1558.0 894.50,1557.9 894.75,1557.8 895.00,1557.8 895.25,1557.8 895.50,1557.8 895.75,1557.8 896.00,1557.7 896.25,1557.7 896.50,1557.7 896.75,1557.6 897.00,1557.6 897.25,1557.6 897.50,1557.5 897.75,1557.5 898.00,1557.4 898.25,1557.4 898.50,1557.3 898.75,1557.2 899.00,1557.2 899.25,1557.1 899.50,1557.0 899.75,1556.9 900.00,1556.7 900.25,1556.6 900.50,1556.4 900.75,1556.1 901.00,1555.9 901.25,1555.5 901.50,1555.1 901.75,1554.6 902.00,1553.9 902.25,1553.2 902.50,1552.3 902.75,1551.2 903.00,1550.0 903.25,1548.6 903.50,1547.1 903.75,1545.4 904.00,1543.6 904.25,1541.8 904.50,1540.0 904.75,1538.3 905.00,1537.0 905.25,1536.1 905.50,1535.8 905.75,1536.1 906.00,1537.0 906.25,1538.3 906.50,1540.0 906.75,1541.8 907.00,1543.6 907.25,1545.4 907.50,1547.1 907.75,1548.7 908.00,1550.1 908.25,1551.3 908.50,1552.3 908.75,1553.2 909.00,1554.0 909.25,1554.6 909.50,1555.1 909.75,1555.6 910.00,1555.9 910.25,1556.2 910.50,1556.4 910.75,1556.6 911.00,1556.8 911.25,1556.9 911.50,1557.0 911.75,1557.1 912.00,1557.2 912.25,1557.3 912.50,1557.4 912.75,1557.5 913.00,1557.5 913.25,1557.6 913.50,1557.6 913.75,1557.7 914.00,1557.7 914.25,1557.7 914.50,1557.8 914.75,1557.8 915.00,1557.8 915.25,1557.9 915.50,1557.9 915.75,1557.9 916.00,1558.0 916.25,1558.0 916.50,1558.0 916.75,1558.0 917.00,1558.1 917.25,1558.1 917.50,1558.1 919.50,1558.2 921.50,1558.2 923.50,1558.3 925.50,1558.4 927.50,1558.4 929.50,1558.4 931.50,1558.4 933.50,1558.4 935.50,1558.4 937.50,1558.4 939.50,1558.5 941.50,1558.5 943.50,1558.5 945.50,1558.5 947.50,1558.5 949.50,1558.5 951.50,1558.5 953.50,1558.5 955.50,1558.5 957.50,1558.5 959.50,1558.5 961.50,1558.5 963.50,1558.5 965.50,1558.5 967.50,1558.5 969.50,1558.5 971.50,1558.5 973.50,1558.5 975.50,1558.5 977.50,1558.5 979.50,1558.5 981.50,1558.5 983.50,1558.5 985.50,1558.5 987.50,1558.4 989.50,1558.4 991.50,1558.4 993.50,1558.4 995.50,1558.4 997.50,1558.4 999.50,1558.4 1001.50,1558.3 1003.50,1558.3 1005.50,1558.2 1005.75,1558.2 1006.00,1558.2 1006.25,1558.2 1006.50,1558.2 1006.75,1558.2 1007.00,1558.2 1007.25,1558.1 1007.50,1558.1 1007.75,1558.1 1008.00,1558.1 1008.25,1558.1 1008.50,1558.0 1008.75,1558.0 1009.00,1558.0 1009.25,1558.0 1009.50,1557.9 1009.75,1557.9 1010.00,1557.9 1010.25,1557.8 1010.50,1557.8 1010.75,1557.7 1011.00,1557.7 1011.25,1557.6 1011.50,1557.5 1011.75,1557.4 1012.00,1557.3 1012.25,1557.2 1012.50,1557.1 1012.75,1556.9 1013.00,1556.7 1013.25,1556.5 1013.50,1556.2 1013.75,1555.9 1014.00,1555.6 1014.25,1555.2 1014.50,1554.8 1014.75,1554.3 1015.00,1553.8 1015.25,1553.3 1015.50,1552.8 1015.75,1552.2 1016.00,1551.7 1016.25,1551.2 1016.50,1550.7 1016.75,1550.4 1017.00,1550.1 1017.25,1550.0 1017.50,1550.1 1017.75,1550.2 1018.00,1550.5 1018.25,1550.9 1018.50,1551.4 1018.75,1551.9 1019.00,1552.4 1019.25,1552.9 1019.50,1553.4 1019.75,1553.9 1020.00,1554.3 1020.25,1554.7 1020.50,1555.1 1020.75,1555.4 1021.00,1555.7 1021.25,1556.0 1021.50,1556.2 1021.75,1556.3 1022.00,1556.5 1022.25,1556.6 1022.50,1556.6 1022.75,1556.7 1023.00,1556.7 1023.25,1556.7 1023.50,1556.6 1023.75,1556.6 1024.00,1556.5 1024.25,1556.3 1024.50,1556.2 1024.75,1556.0 1025.00,1555.7 1025.25,1555.5 1025.50,1555.1 1025.75,1554.7 1026.00,1554.3 1026.25,1553.8 1026.50,1553.3 1026.75,1552.8 1027.00,1552.2 1027.25,1551.6 1027.50,1550.9 1027.75,1550.3 1028.00,1549.8 1028.25,1549.3 1028.50,1548.9 1028.75,1548.7 1029.00,1548.6 1029.25,1548.7 1029.50,1549.0 1029.75,1549.4 1030.00,1549.9 1030.25,1550.4 1030.50,1551.0 1030.75,1551.7 1031.00,1552.3 1031.25,1552.9 1031.50,1553.5 1031.75,1554.1 1032.00,1554.6 1032.25,1555.0 1032.50,1555.4 1032.75,1555.8 1033.00,1556.1 1033.25,1556.4 1033.50,1556.6 1033.75,1556.8 1034.00,1557.0 1034.25,1557.1 1034.50,1557.3 1034.75,1557.4 1035.00,1557.5 1035.25,1557.6 1035.50,1557.6 1035.75,1557.7 1036.00,1557.7 1036.25,1557.8 1036.50,1557.8 1036.75,1557.9 1037.00,1557.9 1037.25,1557.9 1037.50,1558.0 1037.75,1558.0 1038.00,1558.0 1038.25,1558.0 1038.50,1558.1 1038.75,1558.1 1039.00,1558.1 1039.25,1558.1 1039.50,1558.1 1039.75,1558.1 1040.00,1558.2 1040.25,1558.2 1040.50,1558.2 1040.75,1558.2 1041.00,1558.2 1043.00,1558.3 1045.00,1558.3 1047.00,1558.4 1049.00,1558.4 1051.00,1558.4 1053.00,1558.4 1055.00,1558.4 1057.00,1558.4 1059.00,1558.4" stroke="#f00" stroke-width="5" fill="none" stroke-linejoin="round"/>
<polyline points="156.0,1565.0 157.0,1565.0 158.0,1565.0 159.0,1565.0 160.0,1565.0 161.0,1565.0 162.0,1565.0 163.0,1565.0 164.0,1565.0 165.0,1565.0 166.0,1565.0 167.0,1565.0 168.0,1565.0 169.0,1565.0 170.0,1565.0 171.0,1565.0 172.0,1565.0 173.0,1565.0 174.0,1565.0 175.0,1565.0 176.0,1565.0 177.0,1565.0 178.0,1565.0 179.0,1565.0 180.0,1565.0 181.0,1565.0 182.0,1565.0 183.0,1565.0 184.0,1565.0 185.0,1565.0 186.0,1565.0 187.0,1565.0 188.0,1565.0 189.0,1565.0 190.0,1565.0 191.0,1565.0 192.0,1565.0 193.0,1565.0 194.0,1565.0 195.0,1565.0 196.0,1565.0 197.0,1565.0 198.0,1565.0 199.0,1565.0 200.0,1565.0 201.0,1565.0 202.0,1565.0 203.0,1565.0 204.0,1565.0 205.0,1565.0 206.0,1565.0 207.0,1565.0 208.0,1565.0 209.0,1565.0 210.0,1565.0 211.0,1565.0 212.0,1565.0 213.0,1565.0 214.0,1565.0 215.0,1565.0 216.0,1565.0 217.0,1565.0 218.0,1565.0 219.0,1565.0 220.0,1565.0 221.0,1565.0 222.0,1565.0 223.0,1565.0 224.0,1565.0 225.0,1565.0 226.0,1565.0 227.0,1565.0 228.0,1565.0 229.0,1565.0 230.0,1565.0 231.0,1565.0 232.0,1565.0 233.0,1565.0 234.0,1565.0 235.0,1565.0 236.0,1565.0 237.0,1565.0 238.0,1565.0 239.0,1565.0 240.0,1565.0 241.0,1565.0 242.0,1565.0 243.0,1565.0 244.0,1565.0 245.0,1565.0 246.0,1565.0 247.0,1565.0 248.0,1565.0 249.0,1565.0 250.0,1565.0 251.0,1565.0 252.0,1565.0 253.0,1565.0 254.0,1565.0 255.0,1565.0 256.0,1565.0 257.0,1565.0 258.0,1565.0 259.0,1565.0 260.0,1565.0 261.0,1565.0 262.0,1565.0 263.0,1565.0 264.0,1565.0 265.0,1565.0 266.0,1565.0 267.0,1565.0 268.0,1565.0 269.0,1565.0 270.0,1565.0 271.0,1565.0 272.0,1565.0 273.0,1565.0 274.0,1565.0 275.0,1565.0 276.0,1565.0 277.0,1565.0 278.0,1565.0 279.0,1565.0 280.0,1565.0 281.0,1565.0 282.0,1565.0 283.0,1565.0 284.0,1565.0 285.0,1565.0 286.0,1565.0 287.0,1565.0 288.0,1565.0 289.0,1565.0 290.0,1565.0 291.0,1565.0 292.0,1565.0 293.0,1565.0 294.0,1565.0 295.0,1565.0 296.0,1565.0 297.0,1565.0 298.0,1565.0 299.0,1565.0 300.0,1565.0 301.0,1565.0 302.0,1565.0 303.0,1565.0 304.0,1565.0 305.0,1565.0 306.0,1565.0 307.0,1565.0 308.0,1565.0 309.0,1565.0 310.0,1565.0 311.0,1565.0 312.0,1565.0 313.0,1565.0 314.0,1565.0 315.0,1565.0 316.0,1565.0 317.0,1565.0 318.0,1565.0 319.0,1565.0 320.0,1565.0 321.0,1565.0 322.0,1565.0 323.0,1565.0 324.0,1565.0 325.0,1565.0 326.0,1565.0 327.0,1565.0 328.0,1565.0 329.0,1565.0 330.0,1565.0 331.0,1565.0 332.0,1565.0 333.0,1565.0 334.0,1565.0 335.0,1565.0 336.0,1565.0 337.0,1565.0 338.0,1565.0 339.0,1565.0 340.0,1565.0 341.0,1565.0 342.0,1565.0 343.0,1565.0 344.0,1565.0 345.0,1565.0 346.0,1565.0 347.0,1565.0 348.0,1565.0 349.0,1565.0 350.0,1565.0 351.0,1565.0 352.0,1565.0 353.0,1565.0 354.0,1565.0 355.0,1565.0 356.0,1565.0 357.0,1565.0 358.0,1565.0 359.0,1565.0 360.0,1565.0 361.0,1565.0 362.0,1565.0 363.0,1565.0 364.0,1565.0 365.0,1565.0 366.0,1565.0 367.0,1565.0 368.0,1565.0 369.0,1565.0 370.0,1565.0 371.0,1565.0 372.0,1565.0 373.0,1565.0 374.0,1565.0 375.0,1565.0 376.0,1565.0 377.0,1565.0 378.0,1565.0 379.0,1565.0 380.0,1565.0 381.0,1565.0 382.0,1565.0 383.0,1565.0 384.0,1565.0 385.0,1565.0 386.0,1565.0 387.0,1565.0 388.0,1565.0 389.0,1565.0 390.0,1565.0 391.0,1565.0 392.0,1565.0 393.0,1565.0 394.0,1565.0 395.0,1565.0 396.0,1565.0 397.0,1565.0 398.0,1565.0 399.0,1565.0 400.0,1565.0 401.0,1565.0 402.0,1565.0 403.0,1565.0 404.0,1565.0 405.0,1565.0 406.0,1565.0 407.0,1565.0 408.0,1565.0 409.0,1565.0 410.0,1565.0 411.0,1565.0 412.0,1565.0 413.0,1565.0 414.0,1565.0 415.0,1565.0 416.0,1565.0 417.0,1565.0 418.0,1565.0 419.0,1565.0 420.0,1565.0 421.0,1565.0 422.0,1565.0 423.0,1565.0 424.0,1565.0 425.0,1565.0 426.0,1565.0 427.0,1565.0 428.0,1565.0 429.0,1565.0 430.0,1565.0 431.0,1565.0 432.0,1565.0 433.0,1565.0 434.0,1565.0 435.0,1565.0 436.0,1565.0 437.0,1565.0 438.0,1565.0 439.0,1565.0 440.0,1565.0 441.0,1565.0 442.0,1565.0 443.0,1565.0 444.0,1565.0 445.0,1565.0 446.0,1565.0 447.0,1565.0 448.0,1565.0 449.0,1565.0 450.0,1565.0 451.0,1565.0 452.0,1565.0 453.0,1565.0 454.0,1565.0 455.0,1565.0 456.0,1565.0 457.0,1565.0 458.0,1565.0 459.0,1565.0 460.0,1565.0 461.0,1565.0 462.0,1565.0 463.0,1565.0 464.0,1565.0 465.0,1565.0 466.0,1565.0 467.0,1565.0 468.0,1565.0 469.0,1565.0 470.0,1565.0 471.0,1565.0 472.0,1565.0 473.0,1565.0 474.0,1565.0 475.0,1565.0 476.0,1565.0 477.0,1565.0 478.0,1565.0 479.0,1565.0 480.0,1565.0 481.0,1565.0 482.0,1565.0 483.0,1565.0 484.0,1565.0 485.0,1565.0 486.0,1565.0 487.0,1565.0 488.0,1565.0 489.0,1565.0 490.0,1565.0 491.0,1565.0 492.0,1565.0 493.0,1565.0 494.0,1565.0 495.0,1565.0 496.0,1565.0 497.0,1565.0 498.0,1565.0 499.0,1565.0 500.0,1565.0 501.0,1565.0 502.0,1565.0 503.0,1565.0 504.0,1565.0 505.0,1565.0 506.0,1565.0 507.0,1565.0 508.0,1565.0 509.0,1565.0 510.0,1565.0 511.0,1565.0 512.0,1565.0 513.0,1565.0 514.0,1565.0 515.0,1565.0 516.0,1565.0 517.0,1565.0 518.0,1565.0 519.0,1565.0 520.0,1565.0 521.0,1565.0 522.0,1565.0 523.0,1565.0 524.0,1565.0 525.0,1565.0 526.0,1565.0 527.0,1565.0 528.0,1565.0 529.0,1565.0 530.0,1565.0 531.0,1565.0 532.0,1565.0 533.0,1565.0 534.0,1565.0 535.0,1565.0 536.0,1565.0 537.0,1565.0 538.0,1565.0 539.0,1565.0 540.0,1565.0 541.0,1565.0 542.0,1565.0 543.0,1565.0 544.0,1565.0 545.0,1565.0 546.0,1565.0 547.0,1565.0 548.0,1565.0 549.0,1565.0 550.0,1565.0 551.0,1565.0 552.0,1565.0 553.0,1565.0 554.0,1565.0 555.0,1565.0 556.0,1565.0 557.0,1565.0 558.0,1565.0 559.0,1565.0 560.0,1565.0 561.0,1565.0 562.0,1565.0 563.0,1565.0 564.0,1565.0 565.0,1565.0 566.0,1565.0 567.0,1565.0 568.0,1565.0 569.0,1565.0 570.0,1565.0 571.0,1565.0 572.0,1565.0 573.0,1565.0 574.0,1565.0 575.0,1565.0 576.0,1565.0 577.0,1565.0 578.0,1565.0 579.0,1565.0 580.0,1565.0 581.0,1565.0 582.0,1565.0 583.0,1565.0 584.0,1565.0 585.0,1565.0 586.0,1565.0 587.0,1565.0 588.0,1565.0 589.0,1565.0 590.0,1565.0 591.0,1565.0 592.0,1565.0 593.0,1565.0 594.0,1565.0 595.0,1565.0 596.0,1565.0 597.0,1565.0 598.0,1565.0 599.0,1565.0 600.0,1565.0 601.0,1565.0 602.0,1565.0 603.0,1565.0 604.0,1565.0 605.0,1565.0 606.0,1565.0 607.0,1565.0 608.0,1565.0 609.0,1565.0 610.0,1565.0 611.0,1565.0 612.0,1565.0 613.0,1565.0 614.0,1565.0 615.0,1565.0 616.0,1565.0 617.0,1565.0 618.0,1565.0 619.0,1565.0 620.0,1565.0 621.0,1565.0 622.0,1565.0 623.0,1565.0 624.0,1565.0 625.0,1565.0 626.0,1565.0 627.0,1565.0 628.0,1565.0 629.0,1565.0 630.0,1565.0 631.0,1565.0 632.0,1565.0 633.0,1565.0 634.0,1565.0 635.0,1565.0 636.0,1565.0 637.0,1565.0 638.0,1565.0 639.0,1565.0 640.0,1565.0 641.0,1565.0 642.0,1565.0 643.0,1565.0 644.0,1565.0 645.0,1565.0 646.0,1565.0 647.0,1565.0 648.0,1565.0 649.0,1565.0 650.0,1565.0 651.0,1565.0 652.0,1565.0 653.0,1565.0 654.0,1565.0 655.0,1565.0 656.0,1565.0 657.0,1565.0 658.0,1565.0 659.0,1565.0 660.0,1565.0 661.0,1565.0 662.0,1565.0 663.0,1565.0 664.0,1565.0 665.0,1565.0 666.0,1565.0 667.0,1565.0 668.0,1565.0 669.0,1565.0 670.0,1565.0 671.0,1565.0 672.0,1565.0 673.0,1565.0 674.0,1565.0 675.0,1565.0 676.0,1565.0 677.0,1565.0 678.0,1565.0 679.0,1565.0 680.0,1565.0 681.0,1565.0 682.0,1565.0 683.0,1565.0 684.0,1565.0 685.0,1565.0 686.0,1565.0 687.0,1565.0 688.0,1565.0 689.0,1565.0 690.0,1565.0 691.0,1565.0 692.0,1565.0 693.0,1565.0 694.0,1565.0 695.0,1565.0 696.0,1565.0 697.0,1565.0 698.0,1565.0 699.0,1565.0 700.0,1565.0 701.0,1565.0 702.0,1565.0 703.0,1565.0 704.0,1565.0 705.0,1565.0 706.0,1565.0 707.0,1565.0 708.0,1565.0 709.0,1565.0 710.0,1565.0 711.0,1565.0 712.0,1565.0 713.0,1565.0 714.0,1565.0 715.0,1565.0 716.0,1565.0 717.0,1565.0 718.0,1565.0 719.0,1565.0 720.0,1565.0 721.0,1565.0 722.0,1565.0 723.0,1565.0 724.0,1565.0 725.0,1565.0 726.0,1565.0 727.0,1565.0 728.0,1565.0 729.0,1565.0 730.0,1565.0 731.0,1565.0 732.0,1565.0 733.0,1565.0 734.0,1565.0 735.0,1565.0 736.0,1565.0 737.0,1565.0 738.0,1565.0 739.0,1565.0 740.0,1565.0 741.0,1565.0 742.0,1565.0 743.0,1565.0 744.0,1565.0 745.0,1565.0 746.0,1565.0 747.0,1565.0 748.0,1565.0 749.0,1565.0 750.0,1565.0 751.0,1565.0 752.0,1565.0 753.0,1565.0 754.0,1565.0 755.0,1565.0 756.0,1565.0 757.0,1565.0 758.0,1565.0 759.0,1565.0 760.0,1565.0 761.0,1565.0 762.0,1565.0 763.0,1565.0 764.0,1565.0 765.0,1565.0 766.0,1565.0 767.0,1565.0 768.0,1565.0 769.0,1565.0 770.0,1565.0 771.0,1565.0 772.0,1565.0 773.0,1565.0 774.0,1565.0 775.0,1565.0 776.0,1565.0 777.0,1565.0 778.0,1565.0 779.0,1565.0 780.0,1565.0 781.0,1565.0 782.0,1565.0 783.0,1565.0 784.0,1565.0 785.0,1565.0 786.0,1565.0 787.0,1565.0 788.0,1565.0 789.0,1565.0 790.0,1565.0 791.0,1565.0 792.0,1565.0 793.0,1565.0 794.0,1565.0 795.0,1565.0 796.0,1565.0 797.0,1565.0 798.0,1565.0 799.0,1565.0 800.0,1565.0 801.0,1565.0 802.0,1565.0 803.0,1565.0 804.0,1565.0 805.0,1565.0 806.0,1565.0 807.0,1565.0 808.0,1565.0 809.0,1565.0 810.0,1565.0 811.0,1565.0 812.0,1565.0 813.0,1565.0 814.0,1565.0 815.0,1565.0 816.0,1565.0 817.0,1565.0 818.0,1565.0 819.0,1565.0 820.0,1565.0 821.0,1565.0 822.0,1565.0 823.0,1565.0 824.0,1565.0 825.0,1565.0 826.0,1565.0 827.0,1565.0 828.0,1565.0 829.0,1565.0 830.0,1565.0 831.0,1565.0 832.0,1565.0 833.0,1565.0 834.0,1565.0 835.0,1565.0 836.0,1565.0 837.0,1565.0 838.0,1565.0 839.0,1565.0 840.0,1565.0 841.0,1565.0 842.0,1565.0 843.0,1565.0 844.0,1565.0 845.0,1565.0 846.0,1565.0 847.0,1565.0 848.0,1565.0 849.0,1565.0 850.0,1565.0 851.0,1565.0 852.0,1565.0 853.0,1565.0 854.0,1565.0 855.0,1565.0 856.0,1565.0 857.0,1565.0 858.0,1565.0 859.0,1565.0 860.0,1565.0 861.0,1565.0 862.0,1565.0 863.0,1565.0 864.0,1565.0 865.0,1565.0 866.0,1565.0 867.0,1565.0 868.0,1565.0 869.0,1565.0 870.0,1565.0 871.0,1565.0 872.0,1565.0 873.0,1565.0 874.0,1565.0 875.0,1565.0 876.0,1565.0 877.0,1565.0 878.0,1565.0 879.0,1565.0 880.0,1565.0 881.0,1565.0 882.0,1565.0 883.0,1565.0 884.0,1565.0 885.0,1565.0 886.0,1565.0 887.0,1565.0 888.0,1565.0 889.0,1565.0 890.0,1565.0 891.0,1565.0 892.0,1565.0 893.0,1565.0 894.0,1565.0 895.0,1565.0 896.0,1565.0 897.0,1565.0 898.0,1565.0 899.0,1565.0 900.0,1565.0 901.0,1565.0 902.0,1565.0 903.0,1565.0 904.0,1565.0 905.0,1565.0 906.0,1565.0 907.0,1565.0 908.0,1565.0 909.0,1565.0 910.0,1565.0 911.0,1565.0 912.0,1565.0 913.0,1565.0 914.0,1565.0 915.0,1565.0 916.0,1565.0 917.0,1565.0 918.0,1565.0 919.0,1565.0 920.0,1565.0 921.0,1565.0 922.0,1565.0 923.0,1565.0 924.0,1565.0 925.0,1565.0 926.0,1565.0 927.0,1565.0 928.0,1565.0 929.0,1565.0 930.0,1565.0 931.0,1565.0 932.0,1565.0 933.0,1565.0 934.0,1565.0 935.0,1565.0 936.0,1565.0 937.0,1565.0 938.0,1565.0 939.0,1565.0 940.0,1565.0 941.0,1565.0 942.0,1565.0 943.0,1565.0 944.0,1565.0 945.0,1565.0 946.0,1565.0 947.0,1565.0 948.0,1565.0 949.0,1565.0 950.0,1565.0 951.0,1565.0 952.0,1565.0 953.0,1565.0 954.0,1565.0 955.0,1565.0 956.0,1565.0 957.0,1565.0 958.0,1565.0 959.0,1565.0 960.0,1565.0 961.0,1565.0 962.0,1565.0 963.0,1565.0 964.0,1565.0 965.0,1565.0 966.0,1565.0 967.0,1565.0 968.0,1565.0 969.0,1565.0 970.0,1565.0 971.0,1565.0 972.0,1565.0 973.0,1565.0 974.0,1565.0 975.0,1565.0 976.0,1565.0 977.0,1565.0 978.0,1565.0 979.0,1565.0 980.0,1565.0 981.0,1565.0 982.0,1565.0 983.0,1565.0 984.0,1565.0 985.0,1565.0 986.0,1565.0 987.0,1565.0 988.0,1565.0 989.0,1565.0 990.0,1565.0 991.0,1565.0 992.0,1565.0 993.0,1565.0 994.0,1565.0 995.0,1565.0 996.0,1565.0 997.0,1565.0 998.0,1565.0 999.0,1565.0 1000.0,1565.0 1001.0,1565.0 1002.0,1565.0 1003.0,1565.0 1004.0,1565.0 1005.0,1565.0 1006.0,1565.0 1007.0,1565.0 1008.0,1565.0 1009.0,1565.0 1010.0,1565.0 1011.0,1565.0 1012.0,1565.0 1013.0,1565.0 1014.0,1565.0 1015.0,1565.0 1016.0,1565.0 1017.0,1565.0 1018.0,1565.0 1019.0,1565.0 1020.0,1565.0 1021.0,1565.0 1022.0,1565.0 1023.0,1565.0 1024.0,1565.0 1025.0,1565.0 1026.0,1565.0 1027.0,1565.0 1028.0,1565.0 1029.0,1565.0 1030.0,1565.0 1031.0,1565.0 1032.0,1565.0 1033.0,1565.0 1034.0,1565.0 1035.0,1565.0 1036.0,1565.0 1037.0,1565.0 1038.0,1565.0 1039.0,1565.0 1040.0,1565.0 1041.0,1565.0 1042.0,1565.0 1043.0,1565.0 1044.0,1565.0 1045.0,1565.0 1046.0,1565.0 1047.0,1565.0 1048.0,1565.0 1049.0,1565.0 1050.0,1565.0 1051.0,1565.0 1052.0,1565.0 1053.0,1565.0 1054.0,1565.0 1055.0,1565.0 1056.0,1565.0 1057.0,1565.0 1058.0,1565.0 1059.0,1565.0 1060.0,1565.0" stroke="#00f" stroke-width="5" fill="none"/>
<path d="M268.0 1556.6V1577.0M499.0 1562.2V1569.0M520.0 1562.9V1568.0M600.0 1561.5V1570.0M232.0 1562.9V1568.0" stroke="#00f" stroke-width="4.5"/>
</g>
<rect x="155.5" y="902.5" width="905.0" height="718.5" fill="none" stroke="#000" stroke-width="7"/>
<path d="M155.5 1621.0V1634.5M220.1 1621.0V1628.0M284.8 1621.0V1634.5M349.4 1621.0V1628.0M414.1 1621.0V1634.5M478.7 1621.0V1628.0M543.4 1621.0V1634.5M608.0 1621.0V1628.0M672.6 1621.0V1634.5M737.3 1621.0V1628.0M801.9 1621.0V1634.5M866.6 1621.0V1628.0M931.2 1621.0V1634.5M995.9 1621.0V1628.0M1060.5 1621.0V1634.5" stroke="#000" stroke-width="7"/>
<text x="155.5" y="1675.0" font-size="41" text-anchor="middle">10</text>
<text x="284.8" y="1675.0" font-size="41" text-anchor="middle">20</text>
<text x="414.1" y="1675.0" font-size="41" text-anchor="middle">30</text>
<text x="543.4" y="1675.0" font-size="41" text-anchor="middle">40</text>
<text x="672.6" y="1675.0" font-size="41" text-anchor="middle">50</text>
<text x="801.9" y="1675.0" font-size="41" text-anchor="middle">60</text>
<text x="931.2" y="1675.0" font-size="41" text-anchor="middle">70</text>
<text x="1060.5" y="1675.0" font-size="41" text-anchor="middle">80</text>
<text x="608.0" y="1733.8" font-size="61" text-anchor="middle">2 Theta (degree)</text>
<text transform="translate(95.0 1241.7) rotate(-90)" font-size="61" text-anchor="middle">Intensity (a.u.)</text>
<text transform="translate(5.5 976.0) scale(1.03 1)" font-size="104">(c)</text>
<path d="M881.5 911.1l30.8 30.8m0 -30.8l-30.8 30.8" stroke="#000" stroke-width="3.6" fill="none"/>
<text x="946.5" y="938.5" font-size="38">83L3</text>
<line x1="870.0" y1="973.7" x2="924.3" y2="973.7" stroke="#f00" stroke-width="5"/>
<text x="946.5" y="985.0" font-size="38">Refine</text>
<line x1="870.0" y1="1020.0" x2="924.3" y2="1020.0" stroke="#00f" stroke-width="5"/>
<text x="946.5" y="1031.8" font-size="38">Diff</text>
<text x="864.0" y="1077.0" font-size="38">R<tspan font-size="24" dy="8.5">wp</tspan><tspan dx="2" dy="-8.5"> 7.017</tspan></text></g>
<g><clipPath id="c103"><rect x="1350.5" y="905.0" width="898.5" height="713.0"/></clipPath>
<g clip-path="url(#c103)">
<path d="M1339.0 1535.9l20 20m0 -20l-20 20M1338.5 1536.7l20 20m0 -20l-20 20M1340.3 1535.1l20 20m0 -20l-20 20M1340.8 1536.9l20 20m0 -20l-20 20M1342.1 1536.0l20 20m0 -20l-20 20M1343.5 1536.6l20 20m0 -20l-20 20M1343.9 1535.1l20 20m0 -20l-20 20M1345.3 1536.6l20 20m0 -20l-20 20M1345.7 1535.5l20 20m0 -20l-20 20M1347.1 1537.7l20 20m0 -20l-20 20M1347.5 1535.1l20 20m0 -20l-20 20M1348.9 1536.5l20 20m0 -20l-20 20M1351.2 1535.1l20 20m0 -20l-20 20M1350.3 1536.6l20 20m0 -20l-20 20M1353.0 1535.1l20 20m0 -20l-20 20M1353.4 1536.4l20 20m0 -20l-20 20M1354.8 1535.3l20 20m0 -20l-20 20M1353.9 1536.9l20 20m0 -20l-20 20M1355.7 1535.3l20 20m0 -20l-20 20M1357.0 1536.7l20 20m0 -20l-20 20M1357.9 1535.0l20 20m0 -20l-20 20M1358.9 1537.3l20 20m0 -20l-20 20M1360.7 1535.7l20 20m0 -20l-20 20M1360.2 1536.9l20 20m0 -20l-20 20M1363.4 1535.7l20 20m0 -20l-20 20M1362.9 1536.4l20 20m0 -20l-20 20M1364.7 1535.6l20 20m0 -20l-20 20M1364.3 1536.4l20 20m0 -20l-20 20M1366.5 1534.9l20 20m0 -20l-20 20M1366.1 1536.8l20 20m0 -20l-20 20M1368.3 1535.2l20 20m0 -20l-20 20M1369.3 1538.3l20 20m0 -20l-20 20M1370.6 1536.2l20 20m0 -20l-20 20M1371.1 1536.7l20 20m0 -20l-20 20M1373.3 1535.1l20 20m0 -20l-20 20M1372.4 1536.5l20 20m0 -20l-20 20M1375.1 1534.4l20 20m0 -20l-20 20M1374.2 1536.9l20 20m0 -20l-20 20M1376.9 1535.8l20 20m0 -20l-20 20M1376.0 1536.8l20 20m0 -20l-20 20M1379.2 1535.8l20 20m0 -20l-20 20M1378.3 1536.8l20 20m0 -20l-20 20M1381.0 1535.6l20 20m0 -20l-20 20M1380.6 1536.7l20 20m0 -20l-20 20M1382.8 1535.6l20 20m0 -20l-20 20M1383.3 1537.5l20 20m0 -20l-20 20M1383.7 1535.0l20 20m0 -20l-20 20M1384.6 1536.4l20 20m0 -20l-20 20M1386.9 1535.9l20 20m0 -20l-20 20M1386.4 1536.9l20 20m0 -20l-20 20M1389.2 1535.5l20 20m0 -20l-20 20M1387.8 1536.3l20 20m0 -20l-20 20M1390.5 1535.2l20 20m0 -20l-20 20M1390.1 1536.7l20 20m0 -20l-20 20M1393.2 1535.1l20 20m0 -20l-20 20M1392.3 1536.4l20 20m0 -20l-20 20M1394.6 1535.2l20 20m0 -20l-20 20M1393.7 1536.8l20 20m0 -20l-20 20M1395.9 1535.0l20 20m0 -20l-20 20M1396.4 1536.7l20 20m0 -20l-20 20M1398.2 1535.1l20 20m0 -20l-20 20M1397.7 1536.3l20 20m0 -20l-20 20M1400.0 1535.5l20 20m0 -20l-20 20M1400.9 1536.8l20 20m0 -20l-20 20M1402.3 1535.8l20 20m0 -20l-20 20M1401.8 1536.8l20 20m0 -20l-20 20M1405.4 1535.2l20 20m0 -20l-20 20M1404.5 1536.6l20 20m0 -20l-20 20M1406.8 1535.3l20 20m0 -20l-20 20M1407.2 1536.4l20 20m0 -20l-20 20M1408.1 1536.2l20 20m0 -20l-20 20M1408.6 1537.3l20 20m0 -20l-20 20M1410.0 1535.1l20 20m0 -20l-20 20M1410.4 1536.3l20 20m0 -20l-20 20M1412.2 1535.5l20 20m0 -20l-20 20M1413.1 1536.9l20 20m0 -20l-20 20M1414.9 1535.5l20 20m0 -20l-20 20M1414.0 1537.9l20 20m0 -20l-20 20M1416.3 1534.1l20 20m0 -20l-20 20M1416.7 1535.9l20 20m0 -20l-20 20M1417.6 1534.8l20 20m0 -20l-20 20M1419.0 1536.5l20 20m0 -20l-20 20M1421.3 1534.6l20 20m0 -20l-20 20M1420.4 1535.5l20 20m0 -20l-20 20M1423.1 1535.6l20 20m0 -20l-20 20M1422.6 1536.1l20 20m0 -20l-20 20M1425.3 1534.3l20 20m0 -20l-20 20M1424.4 1536.0l20 20m0 -20l-20 20M1426.2 1533.9l20 20m0 -20l-20 20M1427.1 1536.3l20 20m0 -20l-20 20M1428.0 1534.7l20 20m0 -20l-20 20M1427.6 1535.9l20 20m0 -20l-20 20M1430.3 1534.1l20 20m0 -20l-20 20M1429.9 1535.7l20 20m0 -20l-20 20M1433.0 1533.3l20 20m0 -20l-20 20M1431.7 1535.7l20 20m0 -20l-20 20M1433.9 1533.2l20 20m0 -20l-20 20M1435.3 1534.7l20 20m0 -20l-20 20M1436.2 1533.1l20 20m0 -20l-20 20M1435.7 1533.9l20 20m0 -20l-20 20M1437.5 1531.6l20 20m0 -20l-20 20M1438.4 1533.3l20 20m0 -20l-20 20M1441.2 1528.9l20 20m0 -20l-20 20M1439.8 1531.5l20 20m0 -20l-20 20M1443.4 1525.9l20 20m0 -20l-20 20M1441.6 1527.7l20 20m0 -20l-20 20M1445.2 1518.3l20 20m0 -20l-20 20M1443.9 1523.7l20 20m0 -20l-20 20M1446.6 1507.5l20 20m0 -20l-20 20M1446.1 1512.5l20 20m0 -20l-20 20M1445.7 1515.1l20 20m0 -20l-20 20M1453.8 1510.7l20 20m0 -20l-20 20M1454.7 1516.0l20 20m0 -20l-20 20M1455.2 1519.3l20 20m0 -20l-20 20M1455.6 1520.5l20 20m0 -20l-20 20M1457.0 1527.1l20 20m0 -20l-20 20M1457.4 1527.2l20 20m0 -20l-20 20M1457.9 1527.2l20 20m0 -20l-20 20M1459.3 1529.3l20 20m0 -20l-20 20M1459.7 1530.6l20 20m0 -20l-20 20M1460.2 1532.3l20 20m0 -20l-20 20M1462.9 1531.8l20 20m0 -20l-20 20M1462.0 1533.6l20 20m0 -20l-20 20M1464.7 1533.2l20 20m0 -20l-20 20M1464.2 1534.0l20 20m0 -20l-20 20M1466.9 1532.6l20 20m0 -20l-20 20M1467.4 1534.6l20 20m0 -20l-20 20M1468.3 1533.5l20 20m0 -20l-20 20M1468.7 1534.9l20 20m0 -20l-20 20M1471.0 1534.3l20 20m0 -20l-20 20M1471.5 1535.8l20 20m0 -20l-20 20M1472.4 1534.4l20 20m0 -20l-20 20M1471.9 1535.3l20 20m0 -20l-20 20M1474.6 1534.4l20 20m0 -20l-20 20M1475.1 1535.3l20 20m0 -20l-20 20M1477.3 1533.9l20 20m0 -20l-20 20M1476.9 1536.6l20 20m0 -20l-20 20M1477.8 1535.3l20 20m0 -20l-20 20M1478.7 1535.8l20 20m0 -20l-20 20M1480.1 1535.4l20 20m0 -20l-20 20M1481.4 1535.6l20 20m0 -20l-20 20M1482.3 1534.6l20 20m0 -20l-20 20M1482.8 1536.2l20 20m0 -20l-20 20M1483.7 1534.8l20 20m0 -20l-20 20M1485.0 1536.2l20 20m0 -20l-20 20M1485.9 1534.6l20 20m0 -20l-20 20M1487.3 1536.1l20 20m0 -20l-20 20M1487.7 1535.4l20 20m0 -20l-20 20M1488.2 1536.8l20 20m0 -20l-20 20M1490.0 1535.0l20 20m0 -20l-20 20M1491.4 1536.8l20 20m0 -20l-20 20M1492.7 1534.7l20 20m0 -20l-20 20M1491.8 1536.8l20 20m0 -20l-20 20M1493.6 1534.4l20 20m0 -20l-20 20M1494.1 1536.0l20 20m0 -20l-20 20M1497.2 1535.3l20 20m0 -20l-20 20M1495.9 1536.8l20 20m0 -20l-20 20M1497.7 1535.5l20 20m0 -20l-20 20M1498.6 1536.2l20 20m0 -20l-20 20M1501.3 1535.0l20 20m0 -20l-20 20M1499.5 1536.5l20 20m0 -20l-20 20M1502.7 1536.0l20 20m0 -20l-20 20M1501.8 1537.2l20 20m0 -20l-20 20M1505.4 1535.3l20 20m0 -20l-20 20M1504.9 1537.1l20 20m0 -20l-20 20M1506.3 1535.1l20 20m0 -20l-20 20M1505.8 1537.2l20 20m0 -20l-20 20M1508.5 1535.4l20 20m0 -20l-20 20M1509.0 1536.4l20 20m0 -20l-20 20M1509.9 1536.4l20 20m0 -20l-20 20M1510.8 1536.8l20 20m0 -20l-20 20M1511.7 1535.4l20 20m0 -20l-20 20M1512.2 1536.8l20 20m0 -20l-20 20M1513.5 1535.3l20 20m0 -20l-20 20M1514.0 1537.4l20 20m0 -20l-20 20M1516.2 1535.7l20 20m0 -20l-20 20M1516.7 1536.1l20 20m0 -20l-20 20M1518.5 1535.3l20 20m0 -20l-20 20M1519.4 1536.2l20 20m0 -20l-20 20M1520.8 1535.6l20 20m0 -20l-20 20M1519.9 1536.5l20 20m0 -20l-20 20M1522.1 1535.4l20 20m0 -20l-20 20M1522.6 1537.1l20 20m0 -20l-20 20M1525.3 1535.7l20 20m0 -20l-20 20M1524.4 1536.7l20 20m0 -20l-20 20M1526.2 1535.7l20 20m0 -20l-20 20M1527.1 1536.2l20 20m0 -20l-20 20M1529.3 1535.5l20 20m0 -20l-20 20M1528.4 1536.5l20 20m0 -20l-20 20M1531.2 1535.2l20 20m0 -20l-20 20M1530.3 1537.1l20 20m0 -20l-20 20M1533.0 1535.5l20 20m0 -20l-20 20M1532.1 1537.2l20 20m0 -20l-20 20M1535.2 1535.8l20 20m0 -20l-20 20M1534.8 1537.1l20 20m0 -20l-20 20M1536.1 1535.8l20 20m0 -20l-20 20M1537.0 1537.1l20 20m0 -20l-20 20M1538.4 1535.8l20 20m0 -20l-20 20M1538.8 1536.6l20 20m0 -20l-20 20M1540.7 1535.1l20 20m0 -20l-20 20M1541.1 1536.9l20 20m0 -20l-20 20M1543.4 1535.7l20 20m0 -20l-20 20M1541.6 1536.6l20 20m0 -20l-20 20M1543.8 1535.7l20 20m0 -20l-20 20M1544.3 1536.3l20 20m0 -20l-20 20M1547.4 1534.8l20 20m0 -20l-20 20M1545.6 1536.0l20 20m0 -20l-20 20M1549.2 1533.1l20 20m0 -20l-20 20M1548.8 1536.6l20 20m0 -20l-20 20M1549.7 1534.5l20 20m0 -20l-20 20M1551.1 1536.5l20 20m0 -20l-20 20M1552.4 1535.7l20 20m0 -20l-20 20M1553.3 1537.2l20 20m0 -20l-20 20M1553.8 1535.3l20 20m0 -20l-20 20M1554.7 1536.7l20 20m0 -20l-20 20M1556.0 1536.0l20 20m0 -20l-20 20M1557.4 1537.6l20 20m0 -20l-20 20M1558.7 1535.2l20 20m0 -20l-20 20M1558.3 1537.1l20 20m0 -20l-20 20M1559.7 1535.1l20 20m0 -20l-20 20M1561.0 1536.9l20 20m0 -20l-20 20M1562.4 1535.3l20 20m0 -20l-20 20M1561.9 1537.4l20 20m0 -20l-20 20M1563.7 1535.3l20 20m0 -20l-20 20M1564.6 1536.8l20 20m0 -20l-20 20M1567.3 1535.2l20 20m0 -20l-20 20M1566.9 1537.5l20 20m0 -20l-20 20M1568.2 1535.3l20 20m0 -20l-20 20M1567.8 1536.0l20 20m0 -20l-20 20M1571.0 1535.7l20 20m0 -20l-20 20M1570.1 1536.7l20 20m0 -20l-20 20M1572.3 1535.8l20 20m0 -20l-20 20M1571.9 1536.6l20 20m0 -20l-20 20M1574.6 1535.6l20 20m0 -20l-20 20M1575.5 1537.0l20 20m0 -20l-20 20M1576.4 1536.0l20 20m0 -20l-20 20M1577.3 1536.9l20 20m0 -20l-20 20M1578.2 1536.0l20 20m0 -20l-20 20M1578.6 1536.8l20 20m0 -20l-20 20M1580.5 1535.4l20 20m0 -20l-20 20M1580.0 1536.9l20 20m0 -20l-20 20M1582.7 1536.1l20 20m0 -20l-20 20M1582.3 1536.5l20 20m0 -20l-20 20M1584.1 1535.5l20 20m0 -20l-20 20M1584.5 1536.5l20 20m0 -20l-20 20M1585.9 1534.7l20 20m0 -20l-20 20M1586.8 1536.3l20 20m0 -20l-20 20M1588.6 1535.7l20 20m0 -20l-20 20M1587.7 1537.2l20 20m0 -20l-20 20M1590.4 1535.4l20 20m0 -20l-20 20M1590.9 1536.5l20 20m0 -20l-20 20M1592.7 1535.7l20 20m0 -20l-20 20M1592.2 1536.3l20 20m0 -20l-20 20M1593.6 1534.7l20 20m0 -20l-20 20M1594.5 1537.6l20 20m0 -20l-20 20M1595.8 1535.9l20 20m0 -20l-20 20M1596.3 1537.0l20 20m0 -20l-20 20M1598.5 1534.4l20 20m0 -20l-20 20M1599.4 1537.4l20 20m0 -20l-20 20M1600.4 1535.8l20 20m0 -20l-20 20M1601.3 1536.5l20 20m0 -20l-20 20M1603.1 1534.9l20 20m0 -20l-20 20M1602.6 1536.4l20 20m0 -20l-20 20M1604.0 1535.2l20 20m0 -20l-20 20M1603.5 1536.5l20 20m0 -20l-20 20M1605.8 1536.0l20 20m0 -20l-20 20M1606.2 1536.8l20 20m0 -20l-20 20M1609.4 1535.5l20 20m0 -20l-20 20M1608.9 1536.4l20 20m0 -20l-20 20M1610.8 1536.3l20 20m0 -20l-20 20M1610.3 1536.5l20 20m0 -20l-20 20M1611.7 1535.7l20 20m0 -20l-20 20M1613.5 1537.4l20 20m0 -20l-20 20M1615.3 1535.8l20 20m0 -20l-20 20M1614.4 1536.7l20 20m0 -20l-20 20M1616.2 1536.2l20 20m0 -20l-20 20M1615.7 1537.0l20 20m0 -20l-20 20M1619.3 1535.3l20 20m0 -20l-20 20M1618.9 1537.2l20 20m0 -20l-20 20M1619.8 1535.9l20 20m0 -20l-20 20M1620.7 1536.6l20 20m0 -20l-20 20M1622.5 1534.5l20 20m0 -20l-20 20M1623.4 1536.7l20 20m0 -20l-20 20M1625.2 1535.5l20 20m0 -20l-20 20M1624.3 1537.2l20 20m0 -20l-20 20M1626.1 1535.1l20 20m0 -20l-20 20M1626.6 1537.5l20 20m0 -20l-20 20M1627.9 1535.2l20 20m0 -20l-20 20M1628.8 1536.2l20 20m0 -20l-20 20M1630.2 1536.0l20 20m0 -20l-20 20M1629.7 1537.0l20 20m0 -20l-20 20M1631.6 1535.7l20 20m0 -20l-20 20M1632.0 1536.7l20 20m0 -20l-20 20M1635.2 1535.3l20 20m0 -20l-20 20M1634.7 1536.7l20 20m0 -20l-20 20M1637.0 1535.5l20 20m0 -20l-20 20M1636.1 1537.1l20 20m0 -20l-20 20M1638.3 1534.7l20 20m0 -20l-20 20M1637.9 1536.3l20 20m0 -20l-20 20M1640.6 1535.1l20 20m0 -20l-20 20M1641.1 1536.7l20 20m0 -20l-20 20M1642.0 1536.0l20 20m0 -20l-20 20M1641.5 1536.9l20 20m0 -20l-20 20M1644.7 1535.5l20 20m0 -20l-20 20M1645.1 1536.3l20 20m0 -20l-20 20M1647.4 1534.6l20 20m0 -20l-20 20M1646.5 1536.7l20 20m0 -20l-20 20M1647.8 1535.4l20 20m0 -20l-20 20M1648.3 1536.8l20 20m0 -20l-20 20M1651.5 1535.4l20 20m0 -20l-20 20M1649.6 1536.9l20 20m0 -20l-20 20M1651.9 1535.5l20 20m0 -20l-20 20M1652.8 1537.3l20 20m0 -20l-20 20M1654.2 1534.9l20 20m0 -20l-20 20M1653.7 1536.2l20 20m0 -20l-20 20M1656.9 1534.2l20 20m0 -20l-20 20M1656.0 1536.4l20 20m0 -20l-20 20M1657.8 1534.4l20 20m0 -20l-20 20M1659.1 1536.0l20 20m0 -20l-20 20M1659.6 1535.2l20 20m0 -20l-20 20M1660.5 1535.7l20 20m0 -20l-20 20M1662.3 1534.3l20 20m0 -20l-20 20M1661.9 1535.6l20 20m0 -20l-20 20M1664.1 1534.1l20 20m0 -20l-20 20M1665.0 1535.2l20 20m0 -20l-20 20M1666.8 1533.8l20 20m0 -20l-20 20M1665.9 1535.2l20 20m0 -20l-20 20M1667.7 1534.0l20 20m0 -20l-20 20M1668.2 1534.6l20 20m0 -20l-20 20M1671.4 1532.3l20 20m0 -20l-20 20M1669.5 1534.5l20 20m0 -20l-20 20M1672.3 1531.0l20 20m0 -20l-20 20M1671.8 1532.8l20 20m0 -20l-20 20M1675.0 1529.3l20 20m0 -20l-20 20M1673.6 1531.5l20 20m0 -20l-20 20M1677.2 1523.9l20 20m0 -20l-20 20M1675.9 1527.5l20 20m0 -20l-20 20M1678.6 1515.2l20 20m0 -20l-20 20M1677.7 1521.4l20 20m0 -20l-20 20M1684.0 1514.7l20 20m0 -20l-20 20M1684.9 1524.1l20 20m0 -20l-20 20M1685.4 1524.5l20 20m0 -20l-20 20M1685.8 1525.5l20 20m0 -20l-20 20M1687.2 1527.8l20 20m0 -20l-20 20M1688.5 1527.5l20 20m0 -20l-20 20M1689.4 1531.7l20 20m0 -20l-20 20M1689.9 1530.2l20 20m0 -20l-20 20M1690.4 1530.7l20 20m0 -20l-20 20M1693.1 1526.9l20 20m0 -20l-20 20M1691.7 1530.9l20 20m0 -20l-20 20M1695.3 1514.0l20 20m0 -20l-20 20M1694.9 1518.7l20 20m0 -20l-20 20M1694.0 1523.1l20 20m0 -20l-20 20M1693.5 1525.0l20 20m0 -20l-20 20M1696.7 1508.2l20 20m0 -20l-20 20M1695.8 1511.1l20 20m0 -20l-20 20M1697.6 1511.2l20 20m0 -20l-20 20M1698.5 1515.2l20 20m0 -20l-20 20M1701.2 1472.8l20 20m0 -20l-20 20M1700.8 1484.1l20 20m0 -20l-20 20M1700.3 1495.5l20 20m0 -20l-20 20M1699.8 1504.5l20 20m0 -20l-20 20M1701.7 1466.9l20 20m0 -20l-20 20M1702.1 1471.2l20 20m0 -20l-20 20M1702.6 1481.8l20 20m0 -20l-20 20M1703.0 1496.8l20 20m0 -20l-20 20M1703.5 1505.3l20 20m0 -20l-20 20M1703.9 1515.5l20 20m0 -20l-20 20M1704.4 1522.2l20 20m0 -20l-20 20M1705.3 1529.3l20 20m0 -20l-20 20M1705.7 1529.8l20 20m0 -20l-20 20M1707.1 1532.6l20 20m0 -20l-20 20M1708.0 1533.0l20 20m0 -20l-20 20M1708.4 1534.5l20 20m0 -20l-20 20M1710.2 1532.9l20 20m0 -20l-20 20M1710.7 1535.6l20 20m0 -20l-20 20M1712.1 1534.4l20 20m0 -20l-20 20M1712.5 1536.2l20 20m0 -20l-20 20M1715.2 1534.8l20 20m0 -20l-20 20M1714.8 1536.3l20 20m0 -20l-20 20M1716.6 1534.5l20 20m0 -20l-20 20M1717.5 1537.3l20 20m0 -20l-20 20M1717.9 1535.3l20 20m0 -20l-20 20M1718.8 1536.6l20 20m0 -20l-20 20M1721.1 1535.1l20 20m0 -20l-20 20M1720.2 1535.6l20 20m0 -20l-20 20M1722.9 1534.7l20 20m0 -20l-20 20M1722.5 1536.5l20 20m0 -20l-20 20M1724.7 1534.4l20 20m0 -20l-20 20M1725.2 1536.7l20 20m0 -20l-20 20M1727.4 1535.0l20 20m0 -20l-20 20M1726.1 1536.0l20 20m0 -20l-20 20M1728.8 1535.9l20 20m0 -20l-20 20M1729.2 1537.2l20 20m0 -20l-20 20M1730.6 1535.1l20 20m0 -20l-20 20M1731.1 1537.1l20 20m0 -20l-20 20M1732.0 1535.3l20 20m0 -20l-20 20M1732.4 1536.6l20 20m0 -20l-20 20M1734.2 1534.9l20 20m0 -20l-20 20M1733.8 1536.2l20 20m0 -20l-20 20M1737.4 1534.5l20 20m0 -20l-20 20M1736.5 1536.4l20 20m0 -20l-20 20M1738.3 1535.2l20 20m0 -20l-20 20M1739.2 1536.4l20 20m0 -20l-20 20M1741.0 1535.3l20 20m0 -20l-20 20M1740.6 1536.9l20 20m0 -20l-20 20M1742.4 1535.5l20 20m0 -20l-20 20M1741.9 1537.3l20 20m0 -20l-20 20M1744.6 1534.9l20 20m0 -20l-20 20M1745.1 1537.3l20 20m0 -20l-20 20M1745.5 1535.6l20 20m0 -20l-20 20M1747.3 1536.2l20 20m0 -20l-20 20M1747.8 1535.1l20 20m0 -20l-20 20M1748.2 1537.5l20 20m0 -20l-20 20M1750.0 1534.5l20 20m0 -20l-20 20M1751.0 1536.5l20 20m0 -20l-20 20M1752.3 1535.4l20 20m0 -20l-20 20M1751.9 1536.2l20 20m0 -20l-20 20M1755.0 1533.7l20 20m0 -20l-20 20M1754.1 1536.5l20 20m0 -20l-20 20M1756.8 1535.1l20 20m0 -20l-20 20M1756.4 1535.7l20 20m0 -20l-20 20M1759.1 1535.3l20 20m0 -20l-20 20M1758.2 1536.1l20 20m0 -20l-20 20M1761.4 1533.8l20 20m0 -20l-20 20M1759.5 1535.3l20 20m0 -20l-20 20M1762.3 1534.2l20 20m0 -20l-20 20M1763.2 1535.4l20 20m0 -20l-20 20M1765.4 1533.7l20 20m0 -20l-20 20M1763.6 1534.9l20 20m0 -20l-20 20M1766.3 1533.9l20 20m0 -20l-20 20M1766.8 1534.4l20 20m0 -20l-20 20M1768.6 1532.5l20 20m0 -20l-20 20M1768.1 1533.2l20 20m0 -20l-20 20M1771.3 1531.0l20 20m0 -20l-20 20M1770.4 1532.9l20 20m0 -20l-20 20M1772.7 1529.4l20 20m0 -20l-20 20M1771.8 1531.0l20 20m0 -20l-20 20M1775.4 1523.8l20 20m0 -20l-20 20M1774.5 1527.8l20 20m0 -20l-20 20M1773.6 1528.6l20 20m0 -20l-20 20M1776.7 1518.0l20 20m0 -20l-20 20M1775.8 1521.8l20 20m0 -20l-20 20M1777.6 1511.9l20 20m0 -20l-20 20M1785.3 1510.0l20 20m0 -20l-20 20M1785.8 1513.6l20 20m0 -20l-20 20M1786.7 1518.9l20 20m0 -20l-20 20M1787.1 1523.4l20 20m0 -20l-20 20M1787.6 1522.4l20 20m0 -20l-20 20M1789.4 1527.2l20 20m0 -20l-20 20M1789.8 1527.9l20 20m0 -20l-20 20M1790.8 1530.7l20 20m0 -20l-20 20M1793.0 1529.5l20 20m0 -20l-20 20M1793.5 1532.2l20 20m0 -20l-20 20M1793.9 1533.4l20 20m0 -20l-20 20M1795.3 1533.5l20 20m0 -20l-20 20M1795.7 1533.3l20 20m0 -20l-20 20M1796.2 1534.0l20 20m0 -20l-20 20M1798.0 1533.4l20 20m0 -20l-20 20M1798.4 1534.4l20 20m0 -20l-20 20M1799.8 1533.9l20 20m0 -20l-20 20M1800.2 1535.5l20 20m0 -20l-20 20M1801.6 1533.3l20 20m0 -20l-20 20M1803.0 1534.6l20 20m0 -20l-20 20M1805.2 1535.3l20 20m0 -20l-20 20M1804.8 1536.9l20 20m0 -20l-20 20M1807.0 1534.6l20 20m0 -20l-20 20M1807.5 1536.1l20 20m0 -20l-20 20M1808.4 1531.2l20 20m0 -20l-20 20M1808.8 1535.3l20 20m0 -20l-20 20M1809.3 1535.7l20 20m0 -20l-20 20M1811.1 1535.1l20 20m0 -20l-20 20M1809.7 1536.0l20 20m0 -20l-20 20M1812.9 1534.9l20 20m0 -20l-20 20M1812.5 1537.2l20 20m0 -20l-20 20M1814.7 1534.8l20 20m0 -20l-20 20M1813.8 1535.7l20 20m0 -20l-20 20M1816.5 1535.2l20 20m0 -20l-20 20M1817.4 1537.2l20 20m0 -20l-20 20M1817.9 1535.8l20 20m0 -20l-20 20M1818.3 1537.1l20 20m0 -20l-20 20M1821.1 1535.3l20 20m0 -20l-20 20M1820.1 1537.2l20 20m0 -20l-20 20M1823.3 1535.0l20 20m0 -20l-20 20M1822.0 1536.9l20 20m0 -20l-20 20M1824.2 1534.4l20 20m0 -20l-20 20M1823.8 1536.4l20 20m0 -20l-20 20M1825.6 1534.9l20 20m0 -20l-20 20M1826.5 1535.9l20 20m0 -20l-20 20M1829.2 1533.3l20 20m0 -20l-20 20M1828.7 1535.0l20 20m0 -20l-20 20M1829.6 1531.4l20 20m0 -20l-20 20M1830.1 1535.0l20 20m0 -20l-20 20M1833.3 1521.9l20 20m0 -20l-20 20M1832.4 1529.5l20 20m0 -20l-20 20M1831.9 1530.4l20 20m0 -20l-20 20M1835.1 1507.9l20 20m0 -20l-20 20M1834.2 1512.5l20 20m0 -20l-20 20M1833.7 1517.7l20 20m0 -20l-20 20M1835.5 1505.6l20 20m0 -20l-20 20M1836.4 1510.9l20 20m0 -20l-20 20M1836.9 1516.2l20 20m0 -20l-20 20M1837.3 1518.1l20 20m0 -20l-20 20M1837.8 1523.7l20 20m0 -20l-20 20M1838.2 1527.7l20 20m0 -20l-20 20M1839.1 1531.1l20 20m0 -20l-20 20M1839.6 1532.0l20 20m0 -20l-20 20M1841.4 1534.2l20 20m0 -20l-20 20M1841.9 1534.5l20 20m0 -20l-20 20M1842.8 1536.8l20 20m0 -20l-20 20M1845.5 1531.3l20 20m0 -20l-20 20M1844.6 1536.6l20 20m0 -20l-20 20M1847.3 1535.9l20 20m0 -20l-20 20M1846.8 1537.3l20 20m0 -20l-20 20M1847.7 1534.9l20 20m0 -20l-20 20M1848.6 1536.5l20 20m0 -20l-20 20M1850.9 1535.5l20 20m0 -20l-20 20M1850.0 1536.2l20 20m0 -20l-20 20M1852.7 1535.5l20 20m0 -20l-20 20M1853.2 1536.8l20 20m0 -20l-20 20M1855.0 1535.7l20 20m0 -20l-20 20M1855.4 1537.4l20 20m0 -20l-20 20M1856.8 1536.4l20 20m0 -20l-20 20M1855.9 1536.8l20 20m0 -20l-20 20M1859.5 1536.0l20 20m0 -20l-20 20M1858.6 1537.0l20 20m0 -20l-20 20M1860.4 1535.8l20 20m0 -20l-20 20M1861.3 1536.6l20 20m0 -20l-20 20M1863.1 1535.8l20 20m0 -20l-20 20M1861.8 1537.2l20 20m0 -20l-20 20M1864.5 1535.6l20 20m0 -20l-20 20M1865.4 1537.1l20 20m0 -20l-20 20M1866.3 1536.9l20 20m0 -20l-20 20M1867.2 1537.0l20 20m0 -20l-20 20M1868.1 1535.5l20 20m0 -20l-20 20M1869.0 1537.1l20 20m0 -20l-20 20M1869.9 1535.6l20 20m0 -20l-20 20M1871.3 1537.2l20 20m0 -20l-20 20M1872.2 1536.7l20 20m0 -20l-20 20M1873.1 1537.3l20 20m0 -20l-20 20M1873.5 1535.5l20 20m0 -20l-20 20M1874.9 1536.6l20 20m0 -20l-20 20M1876.2 1536.0l20 20m0 -20l-20 20M1877.1 1537.0l20 20m0 -20l-20 20M1878.0 1536.3l20 20m0 -20l-20 20M1879.4 1537.4l20 20m0 -20l-20 20M1881.2 1535.6l20 20m0 -20l-20 20M1879.8 1538.4l20 20m0 -20l-20 20M1883.0 1535.8l20 20m0 -20l-20 20M1881.7 1537.4l20 20m0 -20l-20 20M1884.4 1535.4l20 20m0 -20l-20 20M1885.3 1537.0l20 20m0 -20l-20 20M1886.6 1536.0l20 20m0 -20l-20 20M1885.7 1537.0l20 20m0 -20l-20 20M1887.5 1536.1l20 20m0 -20l-20 20M1889.3 1537.3l20 20m0 -20l-20 20M1890.7 1535.6l20 20m0 -20l-20 20M1890.2 1537.1l20 20m0 -20l-20 20M1892.5 1536.0l20 20m0 -20l-20 20M1892.1 1536.8l20 20m0 -20l-20 20M1895.2 1535.4l20 20m0 -20l-20 20M1894.3 1536.8l20 20m0 -20l-20 20M1895.7 1536.2l20 20m0 -20l-20 20M1896.6 1537.1l20 20m0 -20l-20 20M1898.4 1535.9l20 20m0 -20l-20 20M1898.8 1537.4l20 20m0 -20l-20 20M1899.7 1535.5l20 20m0 -20l-20 20M1900.2 1537.5l20 20m0 -20l-20 20M1902.5 1535.8l20 20m0 -20l-20 20M1901.6 1536.7l20 20m0 -20l-20 20M1904.7 1536.5l20 20m0 -20l-20 20M1904.3 1537.6l20 20m0 -20l-20 20M1906.5 1535.6l20 20m0 -20l-20 20M1907.0 1538.1l20 20m0 -20l-20 20M1908.8 1535.8l20 20m0 -20l-20 20M1907.9 1537.5l20 20m0 -20l-20 20M1909.7 1535.8l20 20m0 -20l-20 20M1911.0 1537.3l20 20m0 -20l-20 20M1912.4 1535.9l20 20m0 -20l-20 20M1912.0 1537.3l20 20m0 -20l-20 20M1914.2 1535.5l20 20m0 -20l-20 20M1913.8 1537.6l20 20m0 -20l-20 20M1916.5 1536.4l20 20m0 -20l-20 20M1916.0 1537.5l20 20m0 -20l-20 20M1918.7 1535.9l20 20m0 -20l-20 20M1919.2 1537.2l20 20m0 -20l-20 20M1920.5 1536.3l20 20m0 -20l-20 20M1919.6 1537.9l20 20m0 -20l-20 20M1922.8 1536.2l20 20m0 -20l-20 20M1922.4 1537.1l20 20m0 -20l-20 20M1925.1 1536.6l20 20m0 -20l-20 20M1924.6 1537.4l20 20m0 -20l-20 20M1926.4 1536.5l20 20m0 -20l-20 20M1926.0 1537.0l20 20m0 -20l-20 20M1929.1 1536.4l20 20m0 -20l-20 20M1928.7 1537.7l20 20m0 -20l-20 20M1930.5 1535.7l20 20m0 -20l-20 20M1930.9 1537.8l20 20m0 -20l-20 20M1932.3 1536.8l20 20m0 -20l-20 20M1931.9 1537.4l20 20m0 -20l-20 20M1934.6 1536.0l20 20m0 -20l-20 20M1933.7 1537.1l20 20m0 -20l-20 20M1935.9 1536.0l20 20m0 -20l-20 20M1937.3 1536.8l20 20m0 -20l-20 20M1938.6 1536.3l20 20m0 -20l-20 20M1939.1 1536.8l20 20m0 -20l-20 20M1939.5 1535.5l20 20m0 -20l-20 20M1941.3 1536.4l20 20m0 -20l-20 20M1942.7 1534.8l20 20m0 -20l-20 20M1941.8 1537.2l20 20m0 -20l-20 20M1945.4 1536.0l20 20m0 -20l-20 20M1944.1 1536.8l20 20m0 -20l-20 20M1946.8 1535.8l20 20m0 -20l-20 20M1946.3 1537.3l20 20m0 -20l-20 20M1949.5 1535.2l20 20m0 -20l-20 20M1948.6 1536.6l20 20m0 -20l-20 20M1950.4 1535.5l20 20m0 -20l-20 20M1951.3 1537.0l20 20m0 -20l-20 20M1952.2 1534.8l20 20m0 -20l-20 20M1951.8 1536.7l20 20m0 -20l-20 20M1955.4 1535.5l20 20m0 -20l-20 20M1954.5 1537.3l20 20m0 -20l-20 20M1955.8 1535.0l20 20m0 -20l-20 20M1957.2 1536.7l20 20m0 -20l-20 20M1957.6 1533.4l20 20m0 -20l-20 20M1959.0 1535.9l20 20m0 -20l-20 20M1961.2 1529.8l20 20m0 -20l-20 20M1959.9 1532.9l20 20m0 -20l-20 20M1963.1 1514.4l20 20m0 -20l-20 20M1962.6 1521.1l20 20m0 -20l-20 20M1961.7 1528.1l20 20m0 -20l-20 20M1964.4 1503.1l20 20m0 -20l-20 20M1963.5 1509.7l20 20m0 -20l-20 20M1965.8 1510.4l20 20m0 -20l-20 20M1966.2 1514.7l20 20m0 -20l-20 20M1966.7 1519.2l20 20m0 -20l-20 20M1967.1 1523.8l20 20m0 -20l-20 20M1967.6 1527.3l20 20m0 -20l-20 20M1968.9 1532.4l20 20m0 -20l-20 20M1969.4 1533.2l20 20m0 -20l-20 20M1969.8 1531.7l20 20m0 -20l-20 20M1971.2 1534.6l20 20m0 -20l-20 20M1971.7 1534.8l20 20m0 -20l-20 20M1972.6 1536.3l20 20m0 -20l-20 20M1974.4 1535.3l20 20m0 -20l-20 20M1973.9 1537.0l20 20m0 -20l-20 20M1976.6 1536.1l20 20m0 -20l-20 20M1975.7 1536.8l20 20m0 -20l-20 20M1979.3 1535.3l20 20m0 -20l-20 20M1978.4 1536.2l20 20m0 -20l-20 20M1979.8 1535.9l20 20m0 -20l-20 20M1981.1 1537.4l20 20m0 -20l-20 20M1983.0 1534.8l20 20m0 -20l-20 20M1982.5 1537.0l20 20m0 -20l-20 20M1983.9 1535.9l20 20m0 -20l-20 20M1985.2 1537.3l20 20m0 -20l-20 20M1986.6 1535.1l20 20m0 -20l-20 20M1985.7 1536.4l20 20m0 -20l-20 20M1989.3 1535.5l20 20m0 -20l-20 20M1988.4 1536.7l20 20m0 -20l-20 20M1991.1 1536.5l20 20m0 -20l-20 20M1989.7 1538.0l20 20m0 -20l-20 20M1991.5 1535.1l20 20m0 -20l-20 20M1992.9 1537.3l20 20m0 -20l-20 20M1995.2 1535.5l20 20m0 -20l-20 20M1994.7 1536.7l20 20m0 -20l-20 20M1997.0 1535.7l20 20m0 -20l-20 20M1996.5 1536.4l20 20m0 -20l-20 20M1999.2 1535.9l20 20m0 -20l-20 20M1998.3 1537.4l20 20m0 -20l-20 20M2001.5 1535.6l20 20m0 -20l-20 20M1999.7 1537.1l20 20m0 -20l-20 20M2002.4 1535.6l20 20m0 -20l-20 20M2002.0 1537.1l20 20m0 -20l-20 20M2004.7 1536.5l20 20m0 -20l-20 20M2003.8 1537.2l20 20m0 -20l-20 20M2005.6 1535.5l20 20m0 -20l-20 20M2006.0 1537.0l20 20m0 -20l-20 20M2008.3 1535.6l20 20m0 -20l-20 20M2008.7 1535.9l20 20m0 -20l-20 20M2011.0 1535.9l20 20m0 -20l-20 20M2009.6 1537.0l20 20m0 -20l-20 20M2013.3 1535.6l20 20m0 -20l-20 20M2012.4 1536.9l20 20m0 -20l-20 20M2013.7 1535.3l20 20m0 -20l-20 20M2014.6 1536.8l20 20m0 -20l-20 20M2016.9 1532.8l20 20m0 -20l-20 20M2015.5 1537.0l20 20m0 -20l-20 20M2018.7 1535.2l20 20m0 -20l-20 20M2017.8 1536.9l20 20m0 -20l-20 20M2020.0 1533.6l20 20m0 -20l-20 20M2019.6 1536.6l20 20m0 -20l-20 20M2022.3 1532.5l20 20m0 -20l-20 20M2021.8 1535.5l20 20m0 -20l-20 20M2024.1 1535.1l20 20m0 -20l-20 20M2025.5 1535.5l20 20m0 -20l-20 20M2027.3 1534.3l20 20m0 -20l-20 20M2025.9 1535.4l20 20m0 -20l-20 20M2029.1 1532.6l20 20m0 -20l-20 20M2027.7 1535.5l20 20m0 -20l-20 20M2031.3 1531.4l20 20m0 -20l-20 20M2030.9 1534.0l20 20m0 -20l-20 20M2032.7 1529.0l20 20m0 -20l-20 20M2031.8 1531.8l20 20m0 -20l-20 20M2035.4 1519.7l20 20m0 -20l-20 20M2034.1 1526.5l20 20m0 -20l-20 20M2033.6 1529.1l20 20m0 -20l-20 20M2037.2 1500.1l20 20m0 -20l-20 20M2036.8 1504.4l20 20m0 -20l-20 20M2036.3 1511.0l20 20m0 -20l-20 20M2035.9 1514.7l20 20m0 -20l-20 20M2038.6 1487.6l20 20m0 -20l-20 20M2039.0 1491.8l20 20m0 -20l-20 20M2039.5 1493.9l20 20m0 -20l-20 20M2039.9 1494.8l20 20m0 -20l-20 20M2041.3 1499.1l20 20m0 -20l-20 20M2043.1 1483.5l20 20m0 -20l-20 20M2042.7 1491.5l20 20m0 -20l-20 20M2042.2 1496.0l20 20m0 -20l-20 20M2041.7 1499.2l20 20m0 -20l-20 20M2044.5 1466.3l20 20m0 -20l-20 20M2044.0 1471.9l20 20m0 -20l-20 20M2043.6 1478.2l20 20m0 -20l-20 20M2045.8 1472.9l20 20m0 -20l-20 20M2046.3 1481.6l20 20m0 -20l-20 20M2046.7 1486.2l20 20m0 -20l-20 20M2047.2 1497.0l20 20m0 -20l-20 20M2047.6 1501.7l20 20m0 -20l-20 20M2048.1 1509.9l20 20m0 -20l-20 20M2048.5 1515.6l20 20m0 -20l-20 20M2049.4 1522.8l20 20m0 -20l-20 20M2049.9 1525.6l20 20m0 -20l-20 20M2051.2 1529.7l20 20m0 -20l-20 20M2051.7 1529.5l20 20m0 -20l-20 20M2052.6 1532.4l20 20m0 -20l-20 20M2054.0 1531.7l20 20m0 -20l-20 20M2054.9 1534.9l20 20m0 -20l-20 20M2055.8 1533.7l20 20m0 -20l-20 20M2056.2 1534.8l20 20m0 -20l-20 20M2058.0 1533.8l20 20m0 -20l-20 20M2058.9 1535.7l20 20m0 -20l-20 20M2059.8 1534.9l20 20m0 -20l-20 20M2060.7 1535.7l20 20m0 -20l-20 20M2062.6 1534.0l20 20m0 -20l-20 20M2063.0 1536.1l20 20m0 -20l-20 20M2064.4 1535.4l20 20m0 -20l-20 20M2065.3 1536.6l20 20m0 -20l-20 20M2065.7 1535.4l20 20m0 -20l-20 20M2067.1 1537.2l20 20m0 -20l-20 20M2067.5 1535.4l20 20m0 -20l-20 20M2068.4 1537.0l20 20m0 -20l-20 20M2071.1 1535.2l20 20m0 -20l-20 20M2070.2 1536.8l20 20m0 -20l-20 20M2072.5 1534.5l20 20m0 -20l-20 20M2072.0 1536.6l20 20m0 -20l-20 20M2075.2 1535.3l20 20m0 -20l-20 20M2074.3 1536.7l20 20m0 -20l-20 20M2076.6 1535.5l20 20m0 -20l-20 20M2077.0 1536.5l20 20m0 -20l-20 20M2078.4 1535.2l20 20m0 -20l-20 20M2078.8 1537.0l20 20m0 -20l-20 20M2081.1 1533.6l20 20m0 -20l-20 20M2080.2 1534.4l20 20m0 -20l-20 20M2083.4 1528.9l20 20m0 -20l-20 20M2081.5 1533.9l20 20m0 -20l-20 20M2085.2 1514.9l20 20m0 -20l-20 20M2084.7 1520.3l20 20m0 -20l-20 20M2084.3 1524.5l20 20m0 -20l-20 20M2083.8 1525.8l20 20m0 -20l-20 20M2086.5 1505.4l20 20m0 -20l-20 20M2085.6 1513.1l20 20m0 -20l-20 20M2087.9 1514.8l20 20m0 -20l-20 20M2088.8 1522.3l20 20m0 -20l-20 20M2089.2 1525.4l20 20m0 -20l-20 20M2089.7 1529.5l20 20m0 -20l-20 20M2091.5 1532.0l20 20m0 -20l-20 20M2091.9 1533.8l20 20m0 -20l-20 20M2092.9 1535.3l20 20m0 -20l-20 20M2093.8 1534.4l20 20m0 -20l-20 20M2094.7 1537.1l20 20m0 -20l-20 20M2095.6 1534.7l20 20m0 -20l-20 20M2096.5 1536.7l20 20m0 -20l-20 20M2097.8 1535.5l20 20m0 -20l-20 20M2099.2 1536.6l20 20m0 -20l-20 20M2099.6 1535.8l20 20m0 -20l-20 20M2101.0 1536.7l20 20m0 -20l-20 20M2102.8 1536.0l20 20m0 -20l-20 20M2103.3 1537.6l20 20m0 -20l-20 20M2105.1 1536.1l20 20m0 -20l-20 20M2103.7 1537.1l20 20m0 -20l-20 20M2105.5 1536.6l20 20m0 -20l-20 20M2106.4 1537.6l20 20m0 -20l-20 20M2108.7 1535.0l20 20m0 -20l-20 20M2109.1 1538.4l20 20m0 -20l-20 20M2111.4 1536.1l20 20m0 -20l-20 20M2109.6 1537.2l20 20m0 -20l-20 20M2112.3 1536.1l20 20m0 -20l-20 20M2113.2 1537.1l20 20m0 -20l-20 20M2114.1 1535.1l20 20m0 -20l-20 20M2115.5 1537.2l20 20m0 -20l-20 20M2115.9 1535.9l20 20m0 -20l-20 20M2117.3 1536.5l20 20m0 -20l-20 20M2118.2 1536.5l20 20m0 -20l-20 20M2118.6 1537.5l20 20m0 -20l-20 20M2120.4 1535.5l20 20m0 -20l-20 20M2120.9 1537.0l20 20m0 -20l-20 20M2123.2 1536.2l20 20m0 -20l-20 20M2121.8 1538.0l20 20m0 -20l-20 20M2124.5 1535.6l20 20m0 -20l-20 20M2125.4 1537.6l20 20m0 -20l-20 20M2126.8 1536.4l20 20m0 -20l-20 20M2126.3 1537.4l20 20m0 -20l-20 20M2127.7 1536.5l20 20m0 -20l-20 20M2129.0 1537.6l20 20m0 -20l-20 20M2131.3 1535.8l20 20m0 -20l-20 20M2130.8 1536.8l20 20m0 -20l-20 20M2131.7 1536.5l20 20m0 -20l-20 20M2132.7 1537.7l20 20m0 -20l-20 20M2135.4 1536.1l20 20m0 -20l-20 20M2134.0 1537.0l20 20m0 -20l-20 20M2137.2 1536.4l20 20m0 -20l-20 20M2136.3 1538.2l20 20m0 -20l-20 20M2137.6 1535.9l20 20m0 -20l-20 20M2139.4 1537.0l20 20m0 -20l-20 20M2140.3 1536.2l20 20m0 -20l-20 20M2139.9 1537.0l20 20m0 -20l-20 20M2142.6 1536.9l20 20m0 -20l-20 20M2143.1 1537.9l20 20m0 -20l-20 20M2143.5 1536.0l20 20m0 -20l-20 20M2144.9 1536.9l20 20m0 -20l-20 20M2146.2 1536.6l20 20m0 -20l-20 20M2146.7 1537.6l20 20m0 -20l-20 20M2148.9 1535.7l20 20m0 -20l-20 20M2148.0 1537.3l20 20m0 -20l-20 20M2151.2 1536.0l20 20m0 -20l-20 20M2150.7 1537.9l20 20m0 -20l-20 20M2153.5 1536.3l20 20m0 -20l-20 20M2152.1 1538.1l20 20m0 -20l-20 20M2153.9 1535.7l20 20m0 -20l-20 20M2154.8 1537.1l20 20m0 -20l-20 20M2156.2 1536.6l20 20m0 -20l-20 20M2157.1 1537.1l20 20m0 -20l-20 20M2158.9 1535.7l20 20m0 -20l-20 20M2158.0 1537.8l20 20m0 -20l-20 20M2159.8 1536.1l20 20m0 -20l-20 20M2160.2 1536.8l20 20m0 -20l-20 20M2162.0 1536.3l20 20m0 -20l-20 20M2163.4 1537.0l20 20m0 -20l-20 20M2164.8 1536.3l20 20m0 -20l-20 20M2165.2 1538.0l20 20m0 -20l-20 20M2166.6 1536.5l20 20m0 -20l-20 20M2167.0 1537.6l20 20m0 -20l-20 20M2169.3 1535.8l20 20m0 -20l-20 20M2168.8 1537.9l20 20m0 -20l-20 20M2170.6 1536.0l20 20m0 -20l-20 20M2169.7 1538.2l20 20m0 -20l-20 20M2171.5 1536.1l20 20m0 -20l-20 20M2172.0 1538.0l20 20m0 -20l-20 20M2174.3 1535.0l20 20m0 -20l-20 20M2175.2 1537.5l20 20m0 -20l-20 20M2175.6 1536.2l20 20m0 -20l-20 20M2176.1 1537.7l20 20m0 -20l-20 20M2179.2 1536.4l20 20m0 -20l-20 20M2178.3 1537.4l20 20m0 -20l-20 20M2180.6 1536.2l20 20m0 -20l-20 20M2180.1 1538.5l20 20m0 -20l-20 20M2183.3 1535.9l20 20m0 -20l-20 20M2181.9 1536.9l20 20m0 -20l-20 20M2185.1 1536.4l20 20m0 -20l-20 20M2184.2 1536.9l20 20m0 -20l-20 20M2187.4 1536.3l20 20m0 -20l-20 20M2186.0 1536.9l20 20m0 -20l-20 20M2187.8 1536.0l20 20m0 -20l-20 20M2189.2 1537.4l20 20m0 -20l-20 20M2190.5 1535.7l20 20m0 -20l-20 20M2191.0 1537.4l20 20m0 -20l-20 20M2192.8 1536.3l20 20m0 -20l-20 20M2192.3 1536.9l20 20m0 -20l-20 20M2195.1 1533.7l20 20m0 -20l-20 20M2194.6 1536.8l20 20m0 -20l-20 20M2197.3 1531.4l20 20m0 -20l-20 20M2195.5 1534.3l20 20m0 -20l-20 20M2198.7 1529.0l20 20m0 -20l-20 20M2197.8 1530.9l20 20m0 -20l-20 20M2199.6 1530.5l20 20m0 -20l-20 20M2200.9 1533.5l20 20m0 -20l-20 20M2202.3 1532.5l20 20m0 -20l-20 20M2203.2 1534.0l20 20m0 -20l-20 20M2203.7 1533.6l20 20m0 -20l-20 20M2204.1 1536.0l20 20m0 -20l-20 20M2207.3 1533.0l20 20m0 -20l-20 20M2205.9 1534.2l20 20m0 -20l-20 20M2209.1 1527.5l20 20m0 -20l-20 20M2207.7 1532.2l20 20m0 -20l-20 20M2210.9 1521.6l20 20m0 -20l-20 20M2209.5 1525.4l20 20m0 -20l-20 20M2211.8 1523.3l20 20m0 -20l-20 20M2213.2 1528.5l20 20m0 -20l-20 20M2214.1 1530.2l20 20m0 -20l-20 20M2215.4 1535.1l20 20m0 -20l-20 20M2215.9 1534.6l20 20m0 -20l-20 20M2217.2 1535.5l20 20m0 -20l-20 20M2219.5 1535.6l20 20m0 -20l-20 20M2218.6 1537.4l20 20m0 -20l-20 20M2219.9 1536.4l20 20m0 -20l-20 20M2220.4 1537.2l20 20m0 -20l-20 20M2222.2 1534.9l20 20m0 -20l-20 20M2223.1 1537.1l20 20m0 -20l-20 20M2224.9 1535.4l20 20m0 -20l-20 20M2223.6 1536.5l20 20m0 -20l-20 20M2227.2 1535.9l20 20m0 -20l-20 20M2225.8 1536.9l20 20m0 -20l-20 20M2229.0 1536.0l20 20m0 -20l-20 20M2228.5 1537.5l20 20m0 -20l-20 20M2230.8 1536.2l20 20m0 -20l-20 20M2231.2 1536.6l20 20m0 -20l-20 20M2232.1 1536.7l20 20m0 -20l-20 20M2233.1 1537.3l20 20m0 -20l-20 20M2235.3 1536.3l20 20m0 -20l-20 20M2233.5 1537.5l20 20m0 -20l-20 20M2235.8 1535.6l20 20m0 -20l-20 20M2236.2 1538.0l20 20m0 -20l-20 20M2238.9 1536.3l20 20m0 -20l-20 20M2238.5 1536.7l20 20m0 -20l-20 20M2239.8 1536.6l20 20m0 -20l-20 20M2240.7 1537.6l20 20m0 -20l-20 20M1450.1 1129.4l20 20m0 -20l-20 20M1450.5 1208.0l20 20m0 -20l-20 20M1449.5 1281.0l20 20m0 -20l-20 20M1451.0 1402.0l20 20m0 -20l-20 20M1449.5 1434.0l20 20m0 -20l-20 20M1450.0 1492.3l20 20m0 -20l-20 20M1681.3 1404.9l20 20m0 -20l-20 20M1681.3 1418.0l20 20m0 -20l-20 20M1681.3 1435.5l20 20m0 -20l-20 20M1681.3 1451.5l20 20m0 -20l-20 20M1681.3 1469.0l20 20m0 -20l-20 20M1681.3 1489.4l20 20m0 -20l-20 20M1681.3 1512.7l20 20m0 -20l-20 20M1781.7 1240.7l20 20m0 -20l-20 20M1781.7 1254.0l20 20m0 -20l-20 20M1781.7 1268.8l20 20m0 -20l-20 20M1781.7 1311.5l20 20m0 -20l-20 20M1781.7 1326.0l20 20m0 -20l-20 20M1781.7 1340.7l20 20m0 -20l-20 20M1784.0 1383.4l20 20m0 -20l-20 20M1779.0 1433.4l20 20m0 -20l-20 20M1781.7 1448.0l20 20m0 -20l-20 20M1784.0 1465.0l20 20m0 -20l-20 20M1779.0 1487.0l20 20m0 -20l-20 20M1788.0 1496.8l20 20m0 -20l-20 20" stroke="#000" stroke-width="2.8" fill="none"/>
<polyline points="1348.00,1546.5 1350.00,1546.5 1352.00,1546.5 1354.00,1546.5 1356.00,1546.5 1358.00,1546.5 1360.00,1546.5 1362.00,1546.5 1364.00,1546.5 1366.00,1546.5 1368.00,1546.5 1370.00,1546.5 1372.00,1546.5 1374.00,1546.5 1376.00,1546.5 1378.00,1546.5 1380.00,1546.5 1382.00,1546.5 1384.00,1546.5 1386.00,1546.5 1388.00,1546.5 1390.00,1546.5 1392.00,1546.5 1394.00,1546.6 1396.00,1546.6 1398.00,1546.6 1400.00,1546.6 1402.00,1546.5 1404.00,1546.5 1406.00,1546.5 1408.00,1546.5 1410.00,1546.5 1412.00,1546.5 1414.00,1546.4 1416.00,1546.4 1418.00,1546.4 1420.00,1546.4 1422.00,1546.4 1424.00,1546.4 1426.00,1546.4 1428.00,1546.3 1430.00,1546.3 1432.00,1546.2 1434.00,1546.2 1436.00,1546.1 1438.00,1546.0 1440.00,1545.9 1442.00,1545.8 1444.00,1545.6 1446.00,1545.2 1448.00,1544.8 1450.00,1544.0 1450.25,1543.8 1450.50,1543.7 1450.75,1543.5 1451.00,1543.4 1451.25,1543.2 1451.50,1543.0 1451.75,1542.8 1452.00,1542.6 1452.25,1542.3 1452.50,1542.0 1452.75,1541.7 1453.00,1541.4 1453.25,1541.0 1453.50,1540.6 1453.75,1540.1 1454.00,1539.6 1454.25,1539.0 1454.50,1538.3 1454.75,1537.6 1455.00,1536.7 1455.25,1535.7 1455.50,1534.6 1455.75,1533.2 1456.00,1531.6 1456.25,1529.7 1456.50,1527.3 1456.75,1524.1 1457.00,1519.7 1457.25,1513.5 1457.50,1504.5 1457.75,1491.3 1458.00,1472.4 1458.25,1446.1 1458.50,1411.1 1458.75,1366.9 1459.00,1314.7 1459.25,1257.3 1459.50,1200.8 1459.75,1154.3 1460.00,1128.6 1460.25,1131.6 1460.50,1162.3 1460.75,1211.7 1461.00,1269.0 1461.25,1325.7 1461.50,1376.5 1461.75,1418.8 1462.00,1452.0 1462.25,1476.7 1462.50,1494.3 1462.75,1506.6 1463.00,1514.9 1463.25,1520.7 1463.50,1524.8 1463.75,1527.8 1464.00,1530.1 1464.25,1532.0 1464.50,1533.5 1464.75,1534.8 1465.00,1535.9 1465.25,1536.9 1465.50,1537.7 1465.75,1538.5 1466.00,1539.1 1466.25,1539.7 1466.50,1540.2 1466.75,1540.7 1467.00,1541.1 1467.25,1541.4 1467.50,1541.8 1467.75,1542.1 1468.00,1542.4 1468.25,1542.6 1468.50,1542.9 1468.75,1543.1 1469.00,1543.3 1469.25,1543.4 1469.50,1543.6 1469.75,1543.8 1470.00,1543.9 1470.25,1544.0 1470.50,1544.2 1470.75,1544.3 1471.00,1544.4 1471.25,1544.5 1471.50,1544.6 1471.75,1544.7 1472.00,1544.7 1472.25,1544.8 1474.25,1545.3 1476.25,1545.6 1478.25,1545.8 1480.25,1546.0 1482.25,1546.1 1484.25,1546.2 1486.25,1546.3 1488.25,1546.3 1490.25,1546.4 1492.25,1546.4 1494.25,1546.4 1496.25,1546.5 1498.25,1546.5 1500.25,1546.5 1502.25,1546.5 1504.25,1546.5 1506.25,1546.5 1508.25,1546.6 1510.25,1546.6 1512.25,1546.6 1514.25,1546.6 1516.25,1546.6 1518.25,1546.6 1520.25,1546.7 1522.25,1546.7 1524.25,1546.7 1526.25,1546.7 1528.25,1546.7 1530.25,1546.7 1532.25,1546.7 1534.25,1546.7 1536.25,1546.7 1538.25,1546.7 1540.25,1546.7 1542.25,1546.7 1544.25,1546.7 1546.25,1546.7 1548.25,1546.7 1550.25,1546.7 1552.25,1546.7 1554.25,1546.7 1556.25,1546.7 1558.25,1546.7 1560.25,1546.7 1562.25,1546.7 1564.25,1546.7 1566.25,1546.7 1568.25,1546.7 1570.25,1546.7 1572.25,1546.7 1574.25,1546.8 1576.25,1546.8 1578.25,1546.8 1580.25,1546.8 1582.25,1546.8 1584.25,1546.8 1586.25,1546.8 1588.25,1546.8 1590.25,1546.8 1592.25,1546.8 1594.25,1546.8 1596.25,1546.8 1598.25,1546.8 1600.25,1546.8 1602.25,1546.8 1604.25,1546.8 1606.25,1546.8 1608.25,1546.8 1610.25,1546.8 1612.25,1546.8 1614.25,1546.8 1616.25,1546.8 1618.25,1546.8 1620.25,1546.8 1622.25,1546.8 1624.25,1546.8 1626.25,1546.8 1628.25,1546.8 1630.25,1546.8 1632.25,1546.8 1634.25,1546.8 1636.25,1546.8 1638.25,1546.8 1640.25,1546.8 1642.25,1546.8 1644.25,1546.8 1646.25,1546.8 1648.25,1546.8 1650.25,1546.8 1652.25,1546.7 1654.25,1546.7 1656.25,1546.7 1658.25,1546.7 1660.25,1546.7 1662.25,1546.7 1664.25,1546.6 1666.25,1546.6 1668.25,1546.6 1670.25,1546.5 1672.25,1546.5 1674.25,1546.4 1676.25,1546.3 1678.25,1546.1 1680.25,1545.9 1680.50,1545.8 1680.75,1545.8 1681.00,1545.8 1681.25,1545.7 1681.50,1545.7 1681.75,1545.6 1682.00,1545.5 1682.25,1545.5 1682.50,1545.4 1682.75,1545.3 1683.00,1545.2 1683.25,1545.1 1683.50,1545.0 1683.75,1544.9 1684.00,1544.8 1684.25,1544.7 1684.50,1544.5 1684.75,1544.4 1685.00,1544.2 1685.25,1544.0 1685.50,1543.7 1685.75,1543.5 1686.00,1543.2 1686.25,1542.9 1686.50,1542.5 1686.75,1542.0 1687.00,1541.5 1687.25,1540.9 1687.50,1540.1 1687.75,1539.0 1688.00,1537.6 1688.25,1535.6 1688.50,1532.9 1688.75,1528.9 1689.00,1523.5 1689.25,1516.0 1689.50,1506.2 1689.75,1493.9 1690.00,1479.3 1690.25,1462.9 1690.50,1445.8 1690.75,1429.9 1691.00,1417.8 1691.25,1412.2 1691.50,1414.6 1691.75,1424.4 1692.00,1439.1 1692.25,1455.9 1692.50,1472.8 1692.75,1488.2 1693.00,1501.4 1693.25,1512.2 1693.50,1520.5 1693.75,1526.7 1694.00,1531.2 1694.25,1534.4 1694.50,1536.6 1694.75,1538.1 1695.00,1539.3 1695.25,1540.1 1695.50,1540.8 1695.75,1541.3 1696.00,1541.8 1696.25,1542.1 1696.50,1542.5 1696.75,1542.7 1697.00,1542.9 1697.25,1543.1 1697.50,1543.3 1697.75,1543.4 1698.00,1543.6 1698.25,1543.6 1698.50,1543.7 1698.75,1543.8 1699.00,1543.8 1699.25,1543.8 1699.50,1543.8 1699.75,1543.8 1700.00,1543.8 1700.25,1543.7 1700.50,1543.7 1700.75,1543.6 1701.00,1543.5 1701.25,1543.3 1701.50,1543.1 1701.75,1542.9 1702.00,1542.6 1702.25,1542.2 1702.50,1541.8 1702.75,1541.2 1703.00,1540.5 1703.25,1539.7 1703.50,1538.7 1703.75,1537.6 1704.00,1536.2 1704.25,1534.7 1704.50,1533.0 1704.75,1531.1 1705.00,1529.2 1705.25,1527.1 1705.50,1525.1 1705.75,1523.2 1706.00,1521.7 1706.25,1520.6 1706.50,1520.0 1706.75,1520.1 1707.00,1520.8 1707.25,1521.9 1707.50,1523.2 1707.75,1524.5 1708.00,1525.8 1708.25,1526.8 1708.50,1527.3 1708.75,1527.3 1709.00,1526.5 1709.25,1524.9 1709.50,1522.4 1709.75,1518.8 1710.00,1514.1 1710.25,1508.5 1710.50,1502.1 1710.75,1495.3 1711.00,1488.8 1711.25,1483.3 1711.50,1479.9 1711.75,1479.2 1712.00,1481.4 1712.25,1486.2 1712.50,1492.7 1712.75,1499.9 1713.00,1507.2 1713.25,1514.0 1713.50,1520.1 1713.75,1525.2 1714.00,1529.5 1714.25,1532.9 1714.50,1535.6 1714.75,1537.7 1715.00,1539.2 1715.25,1540.4 1715.50,1541.2 1715.75,1541.9 1716.00,1542.5 1716.25,1542.9 1716.50,1543.2 1716.75,1543.6 1717.00,1543.8 1717.25,1544.0 1717.50,1544.2 1717.75,1544.4 1718.00,1544.6 1718.25,1544.7 1718.50,1544.9 1718.75,1545.0 1719.00,1545.1 1719.25,1545.2 1719.50,1545.3 1719.75,1545.4 1720.00,1545.4 1720.25,1545.5 1720.50,1545.6 1720.75,1545.6 1721.00,1545.7 1721.25,1545.8 1721.50,1545.8 1721.75,1545.8 1722.00,1545.9 1722.25,1545.9 1722.50,1546.0 1722.75,1546.0 1723.00,1546.0 1723.25,1546.1 1723.50,1546.1 1723.75,1546.1 1725.75,1546.3 1727.75,1546.4 1729.75,1546.5 1731.75,1546.5 1733.75,1546.6 1735.75,1546.6 1737.75,1546.6 1739.75,1546.6 1741.75,1546.7 1743.75,1546.7 1745.75,1546.7 1747.75,1546.7 1749.75,1546.7 1751.75,1546.7 1753.75,1546.7 1755.75,1546.7 1757.75,1546.7 1759.75,1546.6 1761.75,1546.6 1763.75,1546.6 1765.75,1546.5 1767.75,1546.5 1769.75,1546.4 1771.75,1546.3 1773.75,1546.2 1775.75,1545.9 1777.75,1545.6 1779.75,1545.1 1780.00,1545.1 1780.25,1545.0 1780.50,1544.9 1780.75,1544.8 1781.00,1544.7 1781.25,1544.6 1781.50,1544.5 1781.75,1544.3 1782.00,1544.2 1782.25,1544.1 1782.50,1543.9 1782.75,1543.7 1783.00,1543.5 1783.25,1543.3 1783.50,1543.1 1783.75,1542.9 1784.00,1542.6 1784.25,1542.3 1784.50,1542.0 1784.75,1541.6 1785.00,1541.2 1785.25,1540.8 1785.50,1540.3 1785.75,1539.7 1786.00,1539.1 1786.25,1538.4 1786.50,1537.6 1786.75,1536.7 1787.00,1535.6 1787.25,1534.3 1787.50,1532.6 1787.75,1530.5 1788.00,1527.8 1788.25,1524.1 1788.50,1518.9 1788.75,1511.8 1789.00,1502.1 1789.25,1488.9 1789.50,1471.7 1789.75,1449.9 1790.00,1423.3 1790.25,1392.4 1790.50,1358.3 1790.75,1323.4 1791.00,1290.9 1791.25,1265.5 1791.50,1252.0 1791.75,1253.5 1792.00,1269.8 1792.25,1297.0 1792.50,1330.3 1792.75,1365.3 1793.00,1398.9 1793.25,1429.0 1793.50,1454.6 1793.75,1475.5 1794.00,1491.9 1794.25,1504.3 1794.50,1513.4 1794.75,1520.1 1795.00,1524.9 1795.25,1528.4 1795.50,1531.0 1795.75,1533.0 1796.00,1534.5 1796.25,1535.8 1796.50,1536.9 1796.75,1537.8 1797.00,1538.6 1797.25,1539.3 1797.50,1539.9 1797.75,1540.4 1798.00,1540.9 1798.25,1541.3 1798.50,1541.7 1798.75,1542.0 1799.00,1542.4 1799.25,1542.6 1799.50,1542.9 1799.75,1543.1 1800.00,1543.4 1800.25,1543.6 1800.50,1543.7 1800.75,1543.9 1801.00,1544.1 1801.25,1544.2 1801.50,1544.4 1801.75,1544.5 1802.00,1544.6 1802.25,1544.7 1802.50,1544.8 1802.75,1544.9 1803.00,1545.0 1803.25,1545.1 1803.50,1545.1 1803.75,1545.2 1805.75,1545.7 1807.75,1546.0 1809.75,1546.2 1811.75,1546.3 1813.75,1546.4 1815.75,1546.5 1817.75,1546.5 1819.75,1546.6 1821.75,1546.6 1823.75,1546.6 1825.75,1546.6 1827.75,1546.6 1829.75,1546.6 1831.75,1546.5 1833.75,1546.4 1834.00,1546.3 1834.25,1546.3 1834.50,1546.3 1834.75,1546.3 1835.00,1546.3 1835.25,1546.2 1835.50,1546.2 1835.75,1546.2 1836.00,1546.1 1836.25,1546.1 1836.50,1546.0 1836.75,1546.0 1837.00,1545.9 1837.25,1545.9 1837.50,1545.8 1837.75,1545.8 1838.00,1545.7 1838.25,1545.6 1838.50,1545.5 1838.75,1545.4 1839.00,1545.3 1839.25,1545.2 1839.50,1545.0 1839.75,1544.9 1840.00,1544.7 1840.25,1544.4 1840.50,1544.1 1840.75,1543.8 1841.00,1543.4 1841.25,1542.9 1841.50,1542.3 1841.75,1541.5 1842.00,1540.6 1842.25,1539.5 1842.50,1538.3 1842.75,1536.8 1843.00,1535.0 1843.25,1533.1 1843.50,1530.9 1843.75,1528.6 1844.00,1526.1 1844.25,1523.6 1844.50,1521.3 1844.75,1519.2 1845.00,1517.7 1845.25,1516.8 1845.50,1516.7 1845.75,1517.4 1846.00,1518.9 1846.25,1520.8 1846.50,1523.2 1846.75,1525.6 1847.00,1528.1 1847.25,1530.5 1847.50,1532.7 1847.75,1534.7 1848.00,1536.4 1848.25,1538.0 1848.50,1539.3 1848.75,1540.5 1849.00,1541.4 1849.25,1542.2 1849.50,1542.8 1849.75,1543.3 1850.00,1543.8 1850.25,1544.1 1850.50,1544.4 1850.75,1544.7 1851.00,1544.9 1851.25,1545.0 1851.50,1545.2 1851.75,1545.4 1852.00,1545.5 1852.25,1545.6 1852.50,1545.7 1852.75,1545.8 1853.00,1545.9 1853.25,1545.9 1853.50,1546.0 1853.75,1546.1 1854.00,1546.1 1854.25,1546.2 1854.50,1546.2 1854.75,1546.3 1855.00,1546.3 1855.25,1546.3 1855.50,1546.4 1855.75,1546.4 1856.00,1546.4 1856.25,1546.5 1856.50,1546.5 1856.75,1546.5 1857.00,1546.5 1857.25,1546.6 1857.50,1546.6 1859.50,1546.7 1861.50,1546.8 1863.50,1546.9 1865.50,1546.9 1867.50,1546.9 1869.50,1547.0 1871.50,1547.0 1873.50,1547.0 1875.50,1547.0 1877.50,1547.0 1879.50,1547.0 1881.50,1547.0 1883.50,1547.0 1885.50,1547.0 1887.50,1547.1 1889.50,1547.1 1891.50,1547.1 1893.50,1547.1 1895.50,1547.1 1897.50,1547.1 1899.50,1547.1 1901.50,1547.1 1903.50,1547.1 1905.50,1547.1 1907.50,1547.1 1909.50,1547.1 1911.50,1547.1 1913.50,1547.1 1915.50,1547.1 1917.50,1547.1 1919.50,1547.1 1921.50,1547.1 1923.50,1547.1 1925.50,1547.1 1927.50,1547.1 1929.50,1547.1 1931.50,1547.1 1933.50,1547.1 1935.50,1547.1 1937.50,1547.1 1939.50,1547.1 1941.50,1547.1 1943.50,1547.1 1945.50,1547.1 1947.50,1547.1 1949.50,1547.0 1951.50,1547.0 1953.50,1547.0 1955.50,1547.0 1957.50,1546.9 1959.50,1546.8 1961.50,1546.7 1963.50,1546.6 1963.75,1546.5 1964.00,1546.5 1964.25,1546.5 1964.50,1546.4 1964.75,1546.4 1965.00,1546.4 1965.25,1546.3 1965.50,1546.3 1965.75,1546.2 1966.00,1546.2 1966.25,1546.1 1966.50,1546.0 1966.75,1546.0 1967.00,1545.9 1967.25,1545.8 1967.50,1545.7 1967.75,1545.6 1968.00,1545.5 1968.25,1545.4 1968.50,1545.2 1968.75,1545.1 1969.00,1544.9 1969.25,1544.7 1969.50,1544.4 1969.75,1544.1 1970.00,1543.7 1970.25,1543.2 1970.50,1542.7 1970.75,1542.0 1971.00,1541.1 1971.25,1540.1 1971.50,1538.9 1971.75,1537.4 1972.00,1535.7 1972.25,1533.8 1972.50,1531.6 1972.75,1529.2 1973.00,1526.6 1973.25,1524.0 1973.50,1521.3 1973.75,1518.8 1974.00,1516.6 1974.25,1515.1 1974.50,1514.3 1974.75,1514.4 1975.00,1515.3 1975.25,1517.0 1975.50,1519.3 1975.75,1521.8 1976.00,1524.5 1976.25,1527.2 1976.50,1529.7 1976.75,1532.1 1977.00,1534.2 1977.25,1536.1 1977.50,1537.7 1977.75,1539.1 1978.00,1540.3 1978.25,1541.3 1978.50,1542.1 1978.75,1542.8 1979.00,1543.3 1979.25,1543.8 1979.50,1544.2 1979.75,1544.5 1980.00,1544.7 1980.25,1544.9 1980.50,1545.1 1980.75,1545.3 1981.00,1545.4 1981.25,1545.6 1981.50,1545.7 1981.75,1545.8 1982.00,1545.9 1982.25,1545.9 1982.50,1546.0 1982.75,1546.1 1983.00,1546.1 1983.25,1546.2 1983.50,1546.3 1983.75,1546.3 1984.00,1546.3 1984.25,1546.4 1984.50,1546.4 1984.75,1546.5 1985.00,1546.5 1985.25,1546.5 1985.50,1546.6 1985.75,1546.6 1986.00,1546.6 1986.25,1546.6 1986.50,1546.7 1986.75,1546.7 1988.75,1546.8 1990.75,1546.9 1992.75,1546.9 1994.75,1547.0 1996.75,1546.9 1998.75,1546.9 2000.75,1547.0 2002.75,1547.0 2004.75,1547.0 2006.75,1547.0 2008.75,1547.0 2010.75,1546.9 2012.75,1546.9 2014.75,1546.9 2016.75,1546.9 2018.75,1546.8 2020.75,1546.8 2022.75,1546.8 2024.75,1546.7 2026.75,1546.6 2028.75,1546.5 2030.75,1546.4 2032.75,1546.2 2034.75,1545.9 2036.75,1545.5 2037.00,1545.4 2037.25,1545.4 2037.50,1545.3 2037.75,1545.2 2038.00,1545.1 2038.25,1545.0 2038.50,1545.0 2038.75,1544.9 2039.00,1544.8 2039.25,1544.6 2039.50,1544.5 2039.75,1544.4 2040.00,1544.3 2040.25,1544.1 2040.50,1544.0 2040.75,1543.8 2041.00,1543.6 2041.25,1543.4 2041.50,1543.2 2041.75,1542.9 2042.00,1542.6 2042.25,1542.3 2042.50,1541.9 2042.75,1541.5 2043.00,1541.0 2043.25,1540.4 2043.50,1539.7 2043.75,1538.9 2044.00,1538.0 2044.25,1536.9 2044.50,1535.7 2044.75,1534.3 2045.00,1532.7 2045.25,1531.0 2045.50,1529.0 2045.75,1526.8 2046.00,1524.5 2046.25,1521.9 2046.50,1519.3 2046.75,1516.5 2047.00,1513.7 2047.25,1510.9 2047.50,1508.3 2047.75,1506.0 2048.00,1504.1 2048.25,1502.8 2048.50,1502.0 2048.75,1501.9 2049.00,1502.4 2049.25,1503.4 2049.50,1504.7 2049.75,1506.2 2050.00,1507.7 2050.25,1509.1 2050.50,1510.4 2050.75,1511.3 2051.00,1511.8 2051.25,1511.9 2051.50,1511.5 2051.75,1510.7 2052.00,1509.3 2052.25,1507.4 2052.50,1505.1 2052.75,1502.3 2053.00,1499.1 2053.25,1495.7 2053.50,1492.2 2053.75,1488.6 2054.00,1485.3 2054.25,1482.4 2054.50,1480.1 2054.75,1478.8 2055.00,1478.5 2055.25,1479.3 2055.50,1481.2 2055.75,1484.0 2056.00,1487.5 2056.25,1491.5 2056.50,1495.8 2056.75,1500.2 2057.00,1504.6 2057.25,1508.8 2057.50,1512.8 2057.75,1516.5 2058.00,1519.9 2058.25,1523.0 2058.50,1525.8 2058.75,1528.3 2059.00,1530.5 2059.25,1532.4 2059.50,1534.0 2059.75,1535.4 2060.00,1536.7 2060.25,1537.7 2060.50,1538.6 2060.75,1539.4 2061.00,1540.0 2061.25,1540.6 2061.50,1541.1 2061.75,1541.5 2062.00,1541.9 2062.25,1542.2 2062.50,1542.5 2062.75,1542.8 2063.00,1543.0 2063.25,1543.2 2063.50,1543.4 2063.75,1543.6 2064.00,1543.8 2064.25,1544.0 2064.50,1544.1 2064.75,1544.2 2065.00,1544.4 2065.25,1544.5 2065.50,1544.6 2065.75,1544.7 2066.00,1544.8 2066.25,1544.9 2066.50,1545.0 2066.75,1545.1 2067.00,1545.2 2069.00,1545.6 2071.00,1546.0 2073.00,1546.2 2075.00,1546.3 2077.00,1546.4 2079.00,1546.5 2081.00,1546.5 2083.00,1546.5 2085.00,1546.4 2085.25,1546.4 2085.50,1546.4 2085.75,1546.4 2086.00,1546.4 2086.25,1546.3 2086.50,1546.3 2086.75,1546.3 2087.00,1546.2 2087.25,1546.2 2087.50,1546.2 2087.75,1546.1 2088.00,1546.1 2088.25,1546.0 2088.50,1546.0 2088.75,1545.9 2089.00,1545.9 2089.25,1545.8 2089.50,1545.7 2089.75,1545.6 2090.00,1545.5 2090.25,1545.4 2090.50,1545.3 2090.75,1545.2 2091.00,1545.0 2091.25,1544.8 2091.50,1544.6 2091.75,1544.3 2092.00,1544.0 2092.25,1543.6 2092.50,1543.1 2092.75,1542.4 2093.00,1541.7 2093.25,1540.8 2093.50,1539.7 2093.75,1538.4 2094.00,1536.9 2094.25,1535.2 2094.50,1533.3 2094.75,1531.1 2095.00,1528.9 2095.25,1526.5 2095.50,1524.1 2095.75,1521.9 2096.00,1520.0 2096.25,1518.6 2096.50,1517.9 2096.75,1518.0 2097.00,1518.8 2097.25,1520.3 2097.50,1522.3 2097.75,1524.6 2098.00,1527.0 2098.25,1529.4 2098.50,1531.6 2098.75,1533.7 2099.00,1535.6 2099.25,1537.3 2099.50,1538.8 2099.75,1540.0 2100.00,1541.1 2100.25,1541.9 2100.50,1542.7 2100.75,1543.3 2101.00,1543.7 2101.25,1544.1 2101.50,1544.5 2101.75,1544.7 2102.00,1545.0 2102.25,1545.2 2102.50,1545.3 2102.75,1545.5 2103.00,1545.6 2103.25,1545.7 2103.50,1545.8 2103.75,1545.9 2104.00,1546.0 2104.25,1546.1 2104.50,1546.1 2104.75,1546.2 2105.00,1546.2 2105.25,1546.3 2105.50,1546.4 2105.75,1546.4 2106.00,1546.4 2106.25,1546.5 2106.50,1546.5 2106.75,1546.5 2107.00,1546.6 2107.25,1546.6 2107.50,1546.6 2107.75,1546.7 2108.00,1546.7 2108.25,1546.7 2108.50,1546.8 2108.75,1546.8 2110.75,1546.9 2112.75,1547.0 2114.75,1547.1 2116.75,1547.2 2118.75,1547.2 2120.75,1547.2 2122.75,1547.3 2124.75,1547.3 2126.75,1547.3 2128.75,1547.3 2130.75,1547.3 2132.75,1547.3 2134.75,1547.3 2136.75,1547.3 2138.75,1547.3 2140.75,1547.3 2142.75,1547.3 2144.75,1547.4 2146.75,1547.4 2148.75,1547.4 2150.75,1547.4 2152.75,1547.4 2154.75,1547.4 2156.75,1547.4 2158.75,1547.4 2160.75,1547.4 2162.75,1547.4 2164.75,1547.4 2166.75,1547.4 2168.75,1547.4 2170.75,1547.4 2172.75,1547.4 2174.75,1547.4 2176.75,1547.4 2178.75,1547.4 2180.75,1547.4 2182.75,1547.3 2184.75,1547.3 2186.75,1547.3 2188.75,1547.3 2190.75,1547.3 2192.75,1547.3 2194.75,1547.2 2196.75,1547.2 2198.75,1547.1 2199.00,1547.1 2199.25,1547.1 2199.50,1547.0 2199.75,1547.0 2200.00,1547.0 2200.25,1547.0 2200.50,1547.0 2200.75,1546.9 2201.00,1546.9 2201.25,1546.9 2201.50,1546.9 2201.75,1546.8 2202.00,1546.8 2202.25,1546.7 2202.50,1546.7 2202.75,1546.6 2203.00,1546.6 2203.25,1546.5 2203.50,1546.4 2203.75,1546.3 2204.00,1546.1 2204.25,1546.0 2204.50,1545.8 2204.75,1545.6 2205.00,1545.4 2205.25,1545.1 2205.50,1544.8 2205.75,1544.5 2206.00,1544.2 2206.25,1543.8 2206.50,1543.3 2206.75,1542.9 2207.00,1542.4 2207.25,1541.9 2207.50,1541.5 2207.75,1541.0 2208.00,1540.7 2208.25,1540.3 2208.50,1540.1 2208.75,1540.0 2209.00,1540.1 2209.25,1540.2 2209.50,1540.4 2209.75,1540.8 2210.00,1541.2 2210.25,1541.6 2210.50,1542.0 2210.75,1542.5 2211.00,1542.9 2211.25,1543.3 2211.50,1543.7 2211.75,1544.0 2212.00,1544.3 2212.25,1544.6 2212.50,1544.8 2212.75,1545.0 2213.00,1545.2 2213.25,1545.3 2213.50,1545.4 2213.75,1545.5 2214.00,1545.6 2214.25,1545.6 2214.50,1545.6 2214.75,1545.6 2215.00,1545.5 2215.25,1545.4 2215.50,1545.3 2215.75,1545.2 2216.00,1545.0 2216.25,1544.8 2216.50,1544.6 2216.75,1544.2 2217.00,1543.9 2217.25,1543.5 2217.50,1543.0 2217.75,1542.4 2218.00,1541.8 2218.25,1541.2 2218.50,1540.4 2218.75,1539.6 2219.00,1538.8 2219.25,1537.9 2219.50,1537.0 2219.75,1536.2 2220.00,1535.4 2220.25,1534.7 2220.50,1534.2 2220.75,1533.8 2221.00,1533.7 2221.25,1533.8 2221.50,1534.2 2221.75,1534.7 2222.00,1535.4 2222.25,1536.2 2222.50,1537.1 2222.75,1538.0 2223.00,1538.9 2223.25,1539.7 2223.50,1540.6 2223.75,1541.3 2224.00,1542.0 2224.25,1542.7 2224.50,1543.2 2224.75,1543.7 2225.00,1544.2 2225.25,1544.5 2225.50,1544.9 2225.75,1545.2 2226.00,1545.4 2226.25,1545.6 2226.50,1545.8 2226.75,1546.0 2227.00,1546.1 2227.25,1546.2 2227.50,1546.3 2227.75,1546.4 2228.00,1546.5 2228.25,1546.5 2228.50,1546.6 2228.75,1546.6 2229.00,1546.7 2229.25,1546.7 2229.50,1546.8 2229.75,1546.8 2230.00,1546.8 2230.25,1546.9 2230.50,1546.9 2230.75,1546.9 2231.00,1546.9 2231.25,1547.0 2231.50,1547.0 2231.75,1547.0 2232.00,1547.0 2232.25,1547.0 2232.50,1547.1 2232.75,1547.1 2233.00,1547.1 2235.00,1547.2 2237.00,1547.3 2239.00,1547.3 2241.00,1547.3 2243.00,1547.4 2245.00,1547.4 2247.00,1547.4 2249.00,1547.4 2251.00,1547.4" stroke="#f00" stroke-width="5" fill="none" stroke-linejoin="round"/>
<polyline points="1348.0,1566.3 1349.0,1566.3 1350.0,1566.3 1351.0,1566.3 1352.0,1566.3 1353.0,1566.3 1354.0,1566.3 1355.0,1566.3 1356.0,1566.3 1357.0,1566.3 1358.0,1566.3 1359.0,1566.3 1360.0,1566.3 1361.0,1566.3 1362.0,1566.3 1363.0,1566.3 1364.0,1566.3 1365.0,1566.3 1366.0,1566.3 1367.0,1566.3 1368.0,1566.3 1369.0,1566.3 1370.0,1566.3 1371.0,1566.3 1372.0,1566.3 1373.0,1566.3 1374.0,1566.3 1375.0,1566.3 1376.0,1566.3 1377.0,1566.3 1378.0,1566.3 1379.0,1566.3 1380.0,1566.3 1381.0,1566.3 1382.0,1566.3 1383.0,1566.3 1384.0,1566.3 1385.0,1566.3 1386.0,1566.3 1387.0,1566.3 1388.0,1566.3 1389.0,1566.3 1390.0,1566.3 1391.0,1566.3 1392.0,1566.3 1393.0,1566.3 1394.0,1566.3 1395.0,1566.3 1396.0,1566.3 1397.0,1566.3 1398.0,1566.3 1399.0,1566.3 1400.0,1566.3 1401.0,1566.3 1402.0,1566.3 1403.0,1566.3 1404.0,1566.3 1405.0,1566.3 1406.0,1566.3 1407.0,1566.3 1408.0,1566.3 1409.0,1566.3 1410.0,1566.3 1411.0,1566.3 1412.0,1566.3 1413.0,1566.3 1414.0,1566.3 1415.0,1566.3 1416.0,1566.3 1417.0,1566.3 1418.0,1566.3 1419.0,1566.3 1420.0,1566.3 1421.0,1566.3 1422.0,1566.3 1423.0,1566.3 1424.0,1566.3 1425.0,1566.3 1426.0,1566.3 1427.0,1566.3 1428.0,1566.3 1429.0,1566.3 1430.0,1566.3 1431.0,1566.3 1432.0,1566.3 1433.0,1566.3 1434.0,1566.3 1435.0,1566.3 1436.0,1566.3 1437.0,1566.3 1438.0,1566.3 1439.0,1566.3 1440.0,1566.3 1441.0,1566.3 1442.0,1566.3 1443.0,1566.3 1444.0,1566.3 1445.0,1566.3 1446.0,1566.3 1447.0,1566.3 1448.0,1566.3 1449.0,1566.3 1450.0,1566.3 1451.0,1566.3 1452.0,1566.3 1453.0,1566.3 1454.0,1566.3 1455.0,1566.3 1456.0,1566.3 1457.0,1566.3 1458.0,1566.3 1459.0,1566.3 1460.0,1566.3 1461.0,1566.3 1462.0,1566.3 1463.0,1566.3 1464.0,1566.3 1465.0,1566.3 1466.0,1566.3 1467.0,1566.3 1468.0,1566.3 1469.0,1566.3 1470.0,1566.3 1471.0,1566.3 1472.0,1566.3 1473.0,1566.3 1474.0,1566.3 1475.0,1566.3 1476.0,1566.3 1477.0,1566.3 1478.0,1566.3 1479.0,1566.3 1480.0,1566.3 1481.0,1566.3 1482.0,1566.3 1483.0,1566.3 1484.0,1566.3 1485.0,1566.3 1486.0,1566.3 1487.0,1566.3 1488.0,1566.3 1489.0,1566.3 1490.0,1566.3 1491.0,1566.3 1492.0,1566.3 1493.0,1566.3 1494.0,1566.3 1495.0,1566.3 1496.0,1566.3 1497.0,1566.3 1498.0,1566.3 1499.0,1566.3 1500.0,1566.3 1501.0,1566.3 1502.0,1566.3 1503.0,1566.3 1504.0,1566.3 1505.0,1566.3 1506.0,1566.3 1507.0,1566.3 1508.0,1566.3 1509.0,1566.3 1510.0,1566.3 1511.0,1566.3 1512.0,1566.3 1513.0,1566.3 1514.0,1566.3 1515.0,1566.3 1516.0,1566.3 1517.0,1566.3 1518.0,1566.3 1519.0,1566.3 1520.0,1566.3 1521.0,1566.3 1522.0,1566.3 1523.0,1566.3 1524.0,1566.3 1525.0,1566.3 1526.0,1566.3 1527.0,1566.3 1528.0,1566.3 1529.0,1566.3 1530.0,1566.3 1531.0,1566.3 1532.0,1566.3 1533.0,1566.3 1534.0,1566.3 1535.0,1566.3 1536.0,1566.3 1537.0,1566.3 1538.0,1566.3 1539.0,1566.3 1540.0,1566.3 1541.0,1566.3 1542.0,1566.3 1543.0,1566.3 1544.0,1566.3 1545.0,1566.3 1546.0,1566.3 1547.0,1566.3 1548.0,1566.3 1549.0,1566.3 1550.0,1566.3 1551.0,1566.3 1552.0,1566.3 1553.0,1566.3 1554.0,1566.3 1555.0,1566.3 1556.0,1566.3 1557.0,1566.3 1558.0,1566.3 1559.0,1566.3 1560.0,1566.3 1561.0,1566.3 1562.0,1566.3 1563.0,1566.3 1564.0,1566.3 1565.0,1566.3 1566.0,1566.3 1567.0,1566.3 1568.0,1566.3 1569.0,1566.3 1570.0,1566.3 1571.0,1566.3 1572.0,1566.3 1573.0,1566.3 1574.0,1566.3 1575.0,1566.3 1576.0,1566.3 1577.0,1566.3 1578.0,1566.3 1579.0,1566.3 1580.0,1566.3 1581.0,1566.3 1582.0,1566.3 1583.0,1566.3 1584.0,1566.3 1585.0,1566.3 1586.0,1566.3 1587.0,1566.3 1588.0,1566.3 1589.0,1566.3 1590.0,1566.3 1591.0,1566.3 1592.0,1566.3 1593.0,1566.3 1594.0,1566.3 1595.0,1566.3 1596.0,1566.3 1597.0,1566.3 1598.0,1566.3 1599.0,1566.3 1600.0,1566.3 1601.0,1566.3 1602.0,1566.3 1603.0,1566.3 1604.0,1566.3 1605.0,1566.3 1606.0,1566.3 1607.0,1566.3 1608.0,1566.3 1609.0,1566.3 1610.0,1566.3 1611.0,1566.3 1612.0,1566.3 1613.0,1566.3 1614.0,1566.3 1615.0,1566.3 1616.0,1566.3 1617.0,1566.3 1618.0,1566.3 1619.0,1566.3 1620.0,1566.3 1621.0,1566.3 1622.0,1566.3 1623.0,1566.3 1624.0,1566.3 1625.0,1566.3 1626.0,1566.3 1627.0,1566.3 1628.0,1566.3 1629.0,1566.3 1630.0,1566.3 1631.0,1566.3 1632.0,1566.3 1633.0,1566.3 1634.0,1566.3 1635.0,1566.3 1636.0,1566.3 1637.0,1566.3 1638.0,1566.3 1639.0,1566.3 1640.0,1566.3 1641.0,1566.3 1642.0,1566.3 1643.0,1566.3 1644.0,1566.3 1645.0,1566.3 1646.0,1566.3 1647.0,1566.3 1648.0,1566.3 1649.0,1566.3 1650.0,1566.3 1651.0,1566.3 1652.0,1566.3 1653.0,1566.3 1654.0,1566.3 1655.0,1566.3 1656.0,1566.3 1657.0,1566.3 1658.0,1566.3 1659.0,1566.3 1660.0,1566.3 1661.0,1566.3 1662.0,1566.3 1663.0,1566.3 1664.0,1566.3 1665.0,1566.3 1666.0,1566.3 1667.0,1566.3 1668.0,1566.3 1669.0,1566.3 1670.0,1566.3 1671.0,1566.3 1672.0,1566.3 1673.0,1566.3 1674.0,1566.3 1675.0,1566.3 1676.0,1566.3 1677.0,1566.3 1678.0,1566.3 1679.0,1566.3 1680.0,1566.3 1681.0,1566.3 1682.0,1566.3 1683.0,1566.3 1684.0,1566.3 1685.0,1566.3 1686.0,1566.3 1687.0,1566.3 1688.0,1566.3 1689.0,1566.3 1690.0,1566.3 1691.0,1566.3 1692.0,1566.3 1693.0,1566.3 1694.0,1566.3 1695.0,1566.3 1696.0,1566.3 1697.0,1566.3 1698.0,1566.3 1699.0,1566.3 1700.0,1566.3 1701.0,1566.3 1702.0,1566.3 1703.0,1566.3 1704.0,1566.3 1705.0,1566.3 1706.0,1566.3 1707.0,1566.3 1708.0,1566.3 1709.0,1566.3 1710.0,1566.3 1711.0,1566.3 1712.0,1566.3 1713.0,1566.3 1714.0,1566.3 1715.0,1566.3 1716.0,1566.3 1717.0,1566.3 1718.0,1566.3 1719.0,1566.3 1720.0,1566.3 1721.0,1566.3 1722.0,1566.3 1723.0,1566.3 1724.0,1566.3 1725.0,1566.3 1726.0,1566.3 1727.0,1566.3 1728.0,1566.3 1729.0,1566.3 1730.0,1566.3 1731.0,1566.3 1732.0,1566.3 1733.0,1566.3 1734.0,1566.3 1735.0,1566.3 1736.0,1566.3 1737.0,1566.3 1738.0,1566.3 1739.0,1566.3 1740.0,1566.3 1741.0,1566.3 1742.0,1566.3 1743.0,1566.3 1744.0,1566.3 1745.0,1566.3 1746.0,1566.3 1747.0,1566.3 1748.0,1566.3 1749.0,1566.3 1750.0,1566.3 1751.0,1566.3 1752.0,1566.3 1753.0,1566.3 1754.0,1566.3 1755.0,1566.3 1756.0,1566.3 1757.0,1566.3 1758.0,1566.3 1759.0,1566.3 1760.0,1566.3 1761.0,1566.3 1762.0,1566.3 1763.0,1566.3 1764.0,1566.3 1765.0,1566.3 1766.0,1566.3 1767.0,1566.3 1768.0,1566.3 1769.0,1566.3 1770.0,1566.3 1771.0,1566.3 1772.0,1566.3 1773.0,1566.3 1774.0,1566.3 1775.0,1566.3 1776.0,1566.3 1777.0,1566.3 1778.0,1566.3 1779.0,1566.3 1780.0,1566.3 1781.0,1566.3 1782.0,1566.3 1783.0,1566.3 1784.0,1566.3 1785.0,1566.3 1786.0,1566.3 1787.0,1566.3 1788.0,1566.3 1789.0,1566.3 1790.0,1566.3 1791.0,1566.3 1792.0,1566.3 1793.0,1566.3 1794.0,1566.3 1795.0,1566.3 1796.0,1566.3 1797.0,1566.3 1798.0,1566.3 1799.0,1566.3 1800.0,1566.3 1801.0,1566.3 1802.0,1566.3 1803.0,1566.3 1804.0,1566.3 1805.0,1566.3 1806.0,1566.3 1807.0,1566.3 1808.0,1566.3 1809.0,1566.3 1810.0,1566.3 1811.0,1566.3 1812.0,1566.3 1813.0,1566.3 1814.0,1566.3 1815.0,1566.3 1816.0,1566.3 1817.0,1566.3 1818.0,1566.3 1819.0,1566.3 1820.0,1566.3 1821.0,1566.3 1822.0,1566.3 1823.0,1566.3 1824.0,1566.3 1825.0,1566.3 1826.0,1566.3 1827.0,1566.3 1828.0,1566.3 1829.0,1566.3 1830.0,1566.3 1831.0,1566.3 1832.0,1566.3 1833.0,1566.3 1834.0,1566.3 1835.0,1566.3 1836.0,1566.3 1837.0,1566.3 1838.0,1566.3 1839.0,1566.3 1840.0,1566.3 1841.0,1566.3 1842.0,1566.3 1843.0,1566.3 1844.0,1566.3 1845.0,1566.3 1846.0,1566.3 1847.0,1566.3 1848.0,1566.3 1849.0,1566.3 1850.0,1566.3 1851.0,1566.3 1852.0,1566.3 1853.0,1566.3 1854.0,1566.3 1855.0,1566.3 1856.0,1566.3 1857.0,1566.3 1858.0,1566.3 1859.0,1566.3 1860.0,1566.3 1861.0,1566.3 1862.0,1566.3 1863.0,1566.3 1864.0,1566.3 1865.0,1566.3 1866.0,1566.3 1867.0,1566.3 1868.0,1566.3 1869.0,1566.3 1870.0,1566.3 1871.0,1566.3 1872.0,1566.3 1873.0,1566.3 1874.0,1566.3 1875.0,1566.3 1876.0,1566.3 1877.0,1566.3 1878.0,1566.3 1879.0,1566.3 1880.0,1566.3 1881.0,1566.3 1882.0,1566.3 1883.0,1566.3 1884.0,1566.3 1885.0,1566.3 1886.0,1566.3 1887.0,1566.3 1888.0,1566.3 1889.0,1566.3 1890.0,1566.3 1891.0,1566.3 1892.0,1566.3 1893.0,1566.3 1894.0,1566.3 1895.0,1566.3 1896.0,1566.3 1897.0,1566.3 1898.0,1566.3 1899.0,1566.3 1900.0,1566.3 1901.0,1566.3 1902.0,1566.3 1903.0,1566.3 1904.0,1566.3 1905.0,1566.3 1906.0,1566.3 1907.0,1566.3 1908.0,1566.3 1909.0,1566.3 1910.0,1566.3 1911.0,1566.3 1912.0,1566.3 1913.0,1566.3 1914.0,1566.3 1915.0,1566.3 1916.0,1566.3 1917.0,1566.3 1918.0,1566.3 1919.0,1566.3 1920.0,1566.3 1921.0,1566.3 1922.0,1566.3 1923.0,1566.3 1924.0,1566.3 1925.0,1566.3 1926.0,1566.3 1927.0,1566.3 1928.0,1566.3 1929.0,1566.3 1930.0,1566.3 1931.0,1566.3 1932.0,1566.3 1933.0,1566.3 1934.0,1566.3 1935.0,1566.3 1936.0,1566.3 1937.0,1566.3 1938.0,1566.3 1939.0,1566.3 1940.0,1566.3 1941.0,1566.3 1942.0,1566.3 1943.0,1566.3 1944.0,1566.3 1945.0,1566.3 1946.0,1566.3 1947.0,1566.3 1948.0,1566.3 1949.0,1566.3 1950.0,1566.3 1951.0,1566.3 1952.0,1566.3 1953.0,1566.3 1954.0,1566.3 1955.0,1566.3 1956.0,1566.3 1957.0,1566.3 1958.0,1566.3 1959.0,1566.3 1960.0,1566.3 1961.0,1566.3 1962.0,1566.3 1963.0,1566.3 1964.0,1566.3 1965.0,1566.3 1966.0,1566.3 1967.0,1566.3 1968.0,1566.3 1969.0,1566.3 1970.0,1566.3 1971.0,1566.3 1972.0,1566.3 1973.0,1566.3 1974.0,1566.3 1975.0,1566.3 1976.0,1566.3 1977.0,1566.3 1978.0,1566.3 1979.0,1566.3 1980.0,1566.3 1981.0,1566.3 1982.0,1566.3 1983.0,1566.3 1984.0,1566.3 1985.0,1566.3 1986.0,1566.3 1987.0,1566.3 1988.0,1566.3 1989.0,1566.3 1990.0,1566.3 1991.0,1566.3 1992.0,1566.3 1993.0,1566.3 1994.0,1566.3 1995.0,1566.3 1996.0,1566.3 1997.0,1566.3 1998.0,1566.3 1999.0,1566.3 2000.0,1566.3 2001.0,1566.3 2002.0,1566.3 2003.0,1566.3 2004.0,1566.3 2005.0,1566.3 2006.0,1566.3 2007.0,1566.3 2008.0,1566.3 2009.0,1566.3 2010.0,1566.3 2011.0,1566.3 2012.0,1566.3 2013.0,1566.3 2014.0,1566.3 2015.0,1566.3 2016.0,1566.3 2017.0,1566.3 2018.0,1566.3 2019.0,1566.3 2020.0,1566.3 2021.0,1566.3 2022.0,1566.3 2023.0,1566.3 2024.0,1566.3 2025.0,1566.3 2026.0,1566.3 2027.0,1566.3 2028.0,1566.3 2029.0,1566.3 2030.0,1566.3 2031.0,1566.3 2032.0,1566.3 2033.0,1566.3 2034.0,1566.3 2035.0,1566.3 2036.0,1566.3 2037.0,1566.3 2038.0,1566.3 2039.0,1566.3 2040.0,1566.3 2041.0,1566.3 2042.0,1566.3 2043.0,1566.3 2044.0,1566.3 2045.0,1566.3 2046.0,1566.3 2047.0,1566.3 2048.0,1566.3 2049.0,1566.3 2050.0,1566.3 2051.0,1566.3 2052.0,1566.3 2053.0,1566.3 2054.0,1566.3 2055.0,1566.3 2056.0,1566.3 2057.0,1566.3 2058.0,1566.3 2059.0,1566.3 2060.0,1566.3 2061.0,1566.3 2062.0,1566.3 2063.0,1566.3 2064.0,1566.3 2065.0,1566.3 2066.0,1566.3 2067.0,1566.3 2068.0,1566.3 2069.0,1566.3 2070.0,1566.3 2071.0,1566.3 2072.0,1566.3 2073.0,1566.3 2074.0,1566.3 2075.0,1566.3 2076.0,1566.3 2077.0,1566.3 2078.0,1566.3 2079.0,1566.3 2080.0,1566.3 2081.0,1566.3 2082.0,1566.3 2083.0,1566.3 2084.0,1566.3 2085.0,1566.3 2086.0,1566.3 2087.0,1566.3 2088.0,1566.3 2089.0,1566.3 2090.0,1566.3 2091.0,1566.3 2092.0,1566.3 2093.0,1566.3 2094.0,1566.3 2095.0,1566.3 2096.0,1566.3 2097.0,1566.3 2098.0,1566.3 2099.0,1566.3 2100.0,1566.3 2101.0,1566.3 2102.0,1566.3 2103.0,1566.3 2104.0,1566.3 2105.0,1566.3 2106.0,1566.3 2107.0,1566.3 2108.0,1566.3 2109.0,1566.3 2110.0,1566.3 2111.0,1566.3 2112.0,1566.3 2113.0,1566.3 2114.0,1566.3 2115.0,1566.3 2116.0,1566.3 2117.0,1566.3 2118.0,1566.3 2119.0,1566.3 2120.0,1566.3 2121.0,1566.3 2122.0,1566.3 2123.0,1566.3 2124.0,1566.3 2125.0,1566.3 2126.0,1566.3 2127.0,1566.3 2128.0,1566.3 2129.0,1566.3 2130.0,1566.3 2131.0,1566.3 2132.0,1566.3 2133.0,1566.3 2134.0,1566.3 2135.0,1566.3 2136.0,1566.3 2137.0,1566.3 2138.0,1566.3 2139.0,1566.3 2140.0,1566.3 2141.0,1566.3 2142.0,1566.3 2143.0,1566.3 2144.0,1566.3 2145.0,1566.3 2146.0,1566.3 2147.0,1566.3 2148.0,1566.3 2149.0,1566.3 2150.0,1566.3 2151.0,1566.3 2152.0,1566.3 2153.0,1566.3 2154.0,1566.3 2155.0,1566.3 2156.0,1566.3 2157.0,1566.3 2158.0,1566.3 2159.0,1566.3 2160.0,1566.3 2161.0,1566.3 2162.0,1566.3 2163.0,1566.3 2164.0,1566.3 2165.0,1566.3 2166.0,1566.3 2167.0,1566.3 2168.0,1566.3 2169.0,1566.3 2170.0,1566.3 2171.0,1566.3 2172.0,1566.3 2173.0,1566.3 2174.0,1566.3 2175.0,1566.3 2176.0,1566.3 2177.0,1566.3 2178.0,1566.3 2179.0,1566.3 2180.0,1566.3 2181.0,1566.3 2182.0,1566.3 2183.0,1566.3 2184.0,1566.3 2185.0,1566.3 2186.0,1566.3 2187.0,1566.3 2188.0,1566.3 2189.0,1566.3 2190.0,1566.3 2191.0,1566.3 2192.0,1566.3 2193.0,1566.3 2194.0,1566.3 2195.0,1566.3 2196.0,1566.3 2197.0,1566.3 2198.0,1566.3 2199.0,1566.3 2200.0,1566.3 2201.0,1566.3 2202.0,1566.3 2203.0,1566.3 2204.0,1566.3 2205.0,1566.3 2206.0,1566.3 2207.0,1566.3 2208.0,1566.3 2209.0,1566.3 2210.0,1566.3 2211.0,1566.3 2212.0,1566.3 2213.0,1566.3 2214.0,1566.3 2215.0,1566.3 2216.0,1566.3 2217.0,1566.3 2218.0,1566.3 2219.0,1566.3 2220.0,1566.3 2221.0,1566.3 2222.0,1566.3 2223.0,1566.3 2224.0,1566.3 2225.0,1566.3 2226.0,1566.3 2227.0,1566.3 2228.0,1566.3 2229.0,1566.3 2230.0,1566.3 2231.0,1566.3 2232.0,1566.3 2233.0,1566.3 2234.0,1566.3 2235.0,1566.3 2236.0,1566.3 2237.0,1566.3 2238.0,1566.3 2239.0,1566.3 2240.0,1566.3 2241.0,1566.3 2242.0,1566.3 2243.0,1566.3 2244.0,1566.3 2245.0,1566.3 2246.0,1566.3 2247.0,1566.3 2248.0,1566.3 2249.0,1566.3 2250.0,1566.3 2251.0,1566.3" stroke="#00f" stroke-width="5" fill="none"/>
<path d="M1460.0 1559.3V1576.3M1691.0 1564.2V1569.3M1712.0 1564.2V1569.3M1791.0 1562.1V1572.3M2053.0 1564.2V1569.3" stroke="#00f" stroke-width="4.5"/>
</g>
<rect x="1347.5" y="902.0" width="904.5" height="719.0" fill="none" stroke="#000" stroke-width="7"/>
<path d="M1347.5 1621.0V1634.5M1412.1 1621.0V1628.0M1476.7 1621.0V1634.5M1541.3 1621.0V1628.0M1605.9 1621.0V1634.5M1670.5 1621.0V1628.0M1735.1 1621.0V1634.5M1799.8 1621.0V1628.0M1864.4 1621.0V1634.5M1929.0 1621.0V1628.0M1993.6 1621.0V1634.5M2058.2 1621.0V1628.0M2122.8 1621.0V1634.5M2187.4 1621.0V1628.0M2252.0 1621.0V1634.5" stroke="#000" stroke-width="7"/>
<text x="1347.5" y="1675.0" font-size="41" text-anchor="middle">10</text>
<text x="1476.7" y="1675.0" font-size="41" text-anchor="middle">20</text>
<text x="1605.9" y="1675.0" font-size="41" text-anchor="middle">30</text>
<text x="1735.1" y="1675.0" font-size="41" text-anchor="middle">40</text>
<text x="1864.4" y="1675.0" font-size="41" text-anchor="middle">50</text>
<text x="1993.6" y="1675.0" font-size="41" text-anchor="middle">60</text>
<text x="2122.8" y="1675.0" font-size="41" text-anchor="middle">70</text>
<text x="2252.0" y="1675.0" font-size="41" text-anchor="middle">80</text>
<text x="1799.8" y="1733.8" font-size="61" text-anchor="middle">2 Theta (degree)</text>
<text transform="translate(1287.5 1241.7) rotate(-90)" font-size="61" text-anchor="middle">Intensity (a.u.)</text>
<text transform="translate(1197.5 976.5) scale(1.03 1)" font-size="104">(d)</text>
<path d="M2073.3 909.3l30.8 30.8m0 -30.8l-30.8 30.8" stroke="#000" stroke-width="3.6" fill="none"/>
<text x="2138.0" y="938.0" font-size="38">83L5</text>
<line x1="2061.2" y1="970.0" x2="2116.2" y2="970.0" stroke="#f00" stroke-width="5"/>
<text x="2138.0" y="982.5" font-size="38">Refine</text>
<line x1="2061.2" y1="1017.4" x2="2116.2" y2="1017.4" stroke="#00f" stroke-width="5"/>
<text x="2138.0" y="1028.7" font-size="38">Diff</text>
<text x="2055.0" y="1075.5" font-size="38">R<tspan font-size="24" dy="8.5">wp</tspan><tspan dx="2" dy="-8.5">  4.161</tspan></text></g>
</svg></div>
</body></html>
